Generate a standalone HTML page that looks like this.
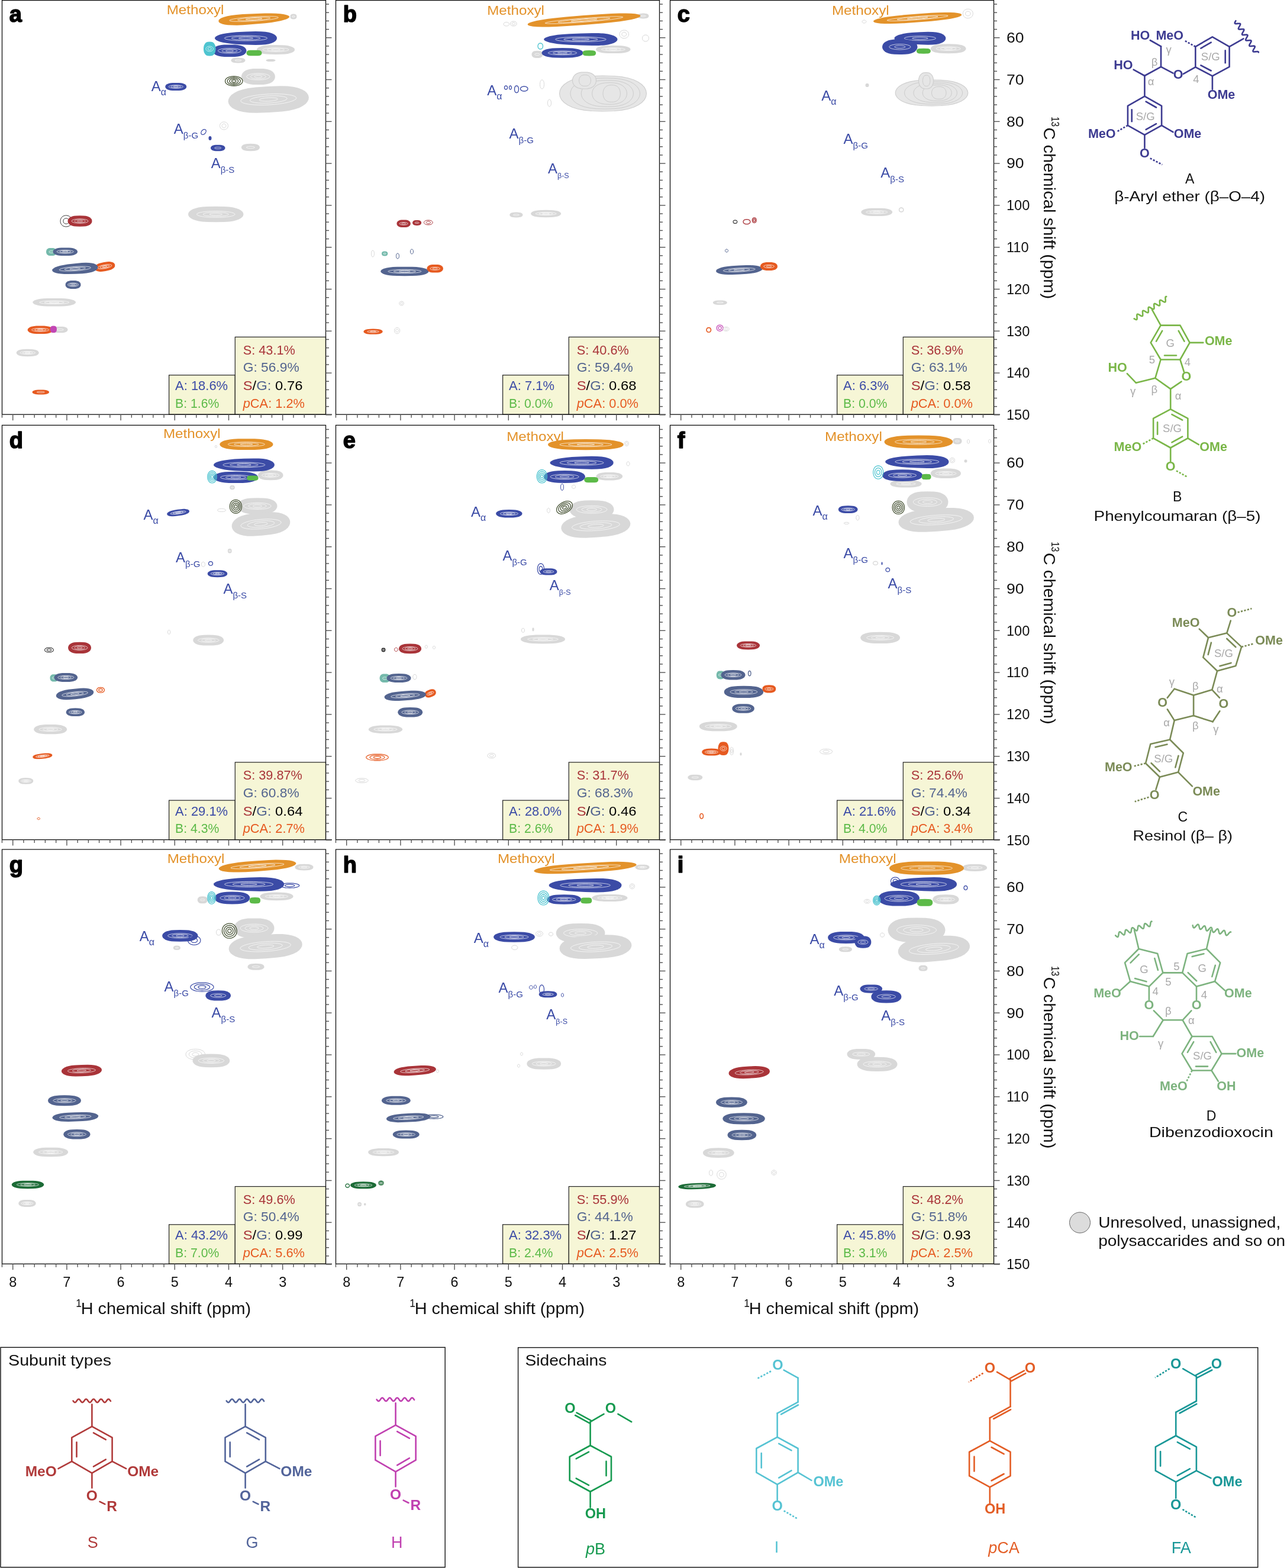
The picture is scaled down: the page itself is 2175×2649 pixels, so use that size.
<!DOCTYPE html>
<html><head><meta charset="utf-8"><title>HSQC NMR figure</title>
<style>html,body{margin:0;padding:0;background:#fff;}svg{display:block;}</style></head>
<body><svg width="2175" height="2649" viewBox="0 0 2175 2649" font-family="'Liberation Sans', Arial, sans-serif">
<rect width="2175" height="2649" fill="#fff"/>
<text x="281.7" y="24.2" font-size="22" fill="#e3922a" textLength="96.8" lengthAdjust="spacingAndGlyphs">Methoxyl</text>
<g><path d="M501.5,28.0 501.3,29.4 500.8,30.6 499.9,31.6 498.5,32.2 496.0,32.4 493.5,32.2 492.1,31.6 491.2,30.6 490.7,29.4 490.5,28.0 490.7,26.6 491.2,25.4 492.1,24.4 493.5,23.8 496.0,23.6 498.5,23.8 499.9,24.4 500.8,25.4 501.3,26.6Z" fill="#d8d8d8"/><ellipse cx="496.0" cy="28.0" rx="2.5" ry="1.2" fill="none" stroke="#fff" stroke-width="0.8" opacity="0.85"/></g>
<g transform="rotate(-3.5 429.1 32.0)"><path d="M489.1,32.0 488.5,33.3 486.7,34.6 483.6,35.8 479.3,36.9 473.8,38.0 466.9,38.9 458.5,39.7 447.8,40.3 429.2,40.8 410.5,41.1 399.8,40.9 391.4,40.3 384.5,39.5 379.0,38.4 374.7,37.0 371.6,35.4 369.8,33.8 369.2,32.0 369.8,30.2 371.6,28.6 374.7,27.0 379.0,25.6 384.5,24.5 391.4,23.7 399.8,23.1 410.5,22.9 429.1,23.2 447.8,23.7 458.5,24.3 466.9,25.1 473.8,26.0 479.3,27.1 483.6,28.2 486.7,29.4 488.5,30.7Z" fill="#e3922a"/><ellipse cx="429.1" cy="32.0" rx="41.4" ry="3.6" fill="none" stroke="#fff" stroke-width="0.8" opacity="0.85"/><ellipse cx="429.1" cy="32.0" rx="27.6" ry="2.4" fill="none" stroke="#fff" stroke-width="0.8" opacity="0.85"/><ellipse cx="429.1" cy="32.0" rx="13.8" ry="1.2" fill="none" stroke="#fff" stroke-width="0.8" opacity="0.85"/></g>
<g><path d="M498.0,84.0 497.7,85.4 496.7,86.7 495.1,88.0 492.8,89.1 489.8,90.1 486.2,90.9 481.7,91.4 476.0,91.8 466.0,91.9 456.0,91.8 450.3,91.4 445.8,90.9 442.2,90.1 439.2,89.1 436.9,88.0 435.3,86.7 434.3,85.4 434.0,84.0 434.3,82.6 435.3,81.3 436.9,80.0 439.2,78.9 442.2,77.9 445.8,77.1 450.3,76.6 456.0,76.2 466.0,76.1 476.0,76.2 481.7,76.6 486.2,77.1 489.8,77.9 492.8,78.9 495.1,80.0 496.7,81.3 497.7,82.6Z" fill="#d8d8d8"/><ellipse cx="466.0" cy="84.0" rx="22.1" ry="3.3" fill="none" stroke="#fff" stroke-width="0.8" opacity="0.85"/><ellipse cx="466.0" cy="84.0" rx="14.7" ry="2.2" fill="none" stroke="#fff" stroke-width="0.8" opacity="0.85"/><ellipse cx="466.0" cy="84.0" rx="7.4" ry="1.1" fill="none" stroke="#fff" stroke-width="0.8" opacity="0.85"/></g>
<g><path d="M468.0,64.5 467.5,66.8 465.9,69.0 463.2,71.0 459.5,72.8 454.6,74.2 448.6,75.2 441.2,75.8 431.8,76.0 415.5,75.5 399.2,74.7 389.8,73.8 382.4,72.8 376.4,71.7 371.5,70.4 367.8,69.0 365.1,67.5 363.5,66.0 363.0,64.5 363.5,63.0 365.1,61.5 367.8,60.0 371.5,58.6 376.4,57.3 382.4,56.2 389.8,55.2 399.2,54.3 415.5,53.5 431.8,53.0 441.2,53.2 448.6,53.8 454.6,54.8 459.5,56.2 463.2,58.0 465.9,60.0 467.5,62.2Z" fill="#3b4ba6"/><ellipse cx="415.5" cy="64.5" rx="36.2" ry="4.5" fill="none" stroke="#fff" stroke-width="0.8" opacity="0.85"/><ellipse cx="415.5" cy="64.5" rx="24.2" ry="3.0" fill="none" stroke="#fff" stroke-width="0.8" opacity="0.85"/><ellipse cx="415.5" cy="64.5" rx="12.1" ry="1.5" fill="none" stroke="#fff" stroke-width="0.8" opacity="0.85"/></g>
<g><path d="M416.5,85.8 416.2,87.5 415.3,89.3 413.9,90.9 411.9,92.4 409.2,93.7 406.0,94.7 401.9,95.5 396.9,95.9 388.0,96.1 379.1,95.9 374.1,95.5 370.0,94.7 366.8,93.7 364.1,92.4 362.1,90.9 360.7,89.3 359.8,87.5 359.5,85.8 359.8,84.0 360.7,82.2 362.1,80.6 364.1,79.1 366.8,77.8 370.0,76.8 374.1,76.0 379.1,75.6 388.0,75.4 396.9,75.6 401.9,76.0 406.0,76.8 409.2,77.8 411.9,79.1 413.9,80.6 415.3,82.2 416.2,84.0Z" fill="#3b4ba6"/><ellipse cx="388.0" cy="85.8" rx="19.7" ry="4.3" fill="none" stroke="#fff" stroke-width="0.8" opacity="0.85"/><ellipse cx="388.0" cy="85.8" rx="13.1" ry="2.8" fill="none" stroke="#fff" stroke-width="0.8" opacity="0.85"/><ellipse cx="388.0" cy="85.8" rx="6.6" ry="1.4" fill="none" stroke="#fff" stroke-width="0.8" opacity="0.85"/></g>
<g><path d="M364.5,82.5 364.4,84.6 364.1,86.6 363.6,88.4 362.8,90.1 361.9,91.6 360.7,92.8 359.3,93.7 357.4,94.2 354.3,94.4 351.1,94.2 349.2,93.7 347.8,92.8 346.6,91.6 345.7,90.1 344.9,88.4 344.4,86.6 344.1,84.6 344.0,82.5 344.1,80.4 344.4,78.4 344.9,76.6 345.7,74.9 346.6,73.4 347.8,72.2 349.2,71.3 351.1,70.8 354.2,70.6 357.4,70.8 359.3,71.3 360.7,72.2 361.9,73.4 362.8,74.9 363.6,76.6 364.1,78.4 364.4,80.4Z" fill="#4ec4d0"/><ellipse cx="354.2" cy="82.5" rx="6.3" ry="4.4" fill="none" stroke="#fff" stroke-width="0.8" opacity="0.85"/><ellipse cx="354.2" cy="82.5" rx="3.1" ry="2.2" fill="none" stroke="#fff" stroke-width="0.8" opacity="0.85"/></g>
<g><path d="M442.5,89.5 442.4,90.3 442.2,91.2 441.8,91.9 441.2,92.6 440.4,93.2 439.4,93.7 438.0,94.0 436.0,94.3 429.5,94.3 423.0,94.3 421.0,94.0 419.6,93.7 418.6,93.2 417.8,92.6 417.2,91.9 416.8,91.2 416.6,90.3 416.5,89.5 416.6,88.7 416.8,87.8 417.2,87.1 417.8,86.4 418.6,85.8 419.6,85.3 421.0,85.0 423.0,84.7 429.5,84.7 436.0,84.7 438.0,85.0 439.4,85.3 440.4,85.8 441.2,86.4 441.8,87.1 442.2,87.8 442.4,88.7Z" fill="#5cba48"/></g>
<g><path d="M414.5,102.0 414.4,102.8 414.0,103.5 413.4,104.2 412.5,104.8 411.4,105.4 410.1,105.8 408.4,106.1 406.2,106.3 402.5,106.4 398.8,106.3 396.6,106.1 394.9,105.8 393.6,105.4 392.5,104.8 391.6,104.2 391.0,103.5 390.6,102.8 390.5,102.0 390.6,101.2 391.0,100.5 391.6,99.8 392.5,99.2 393.6,98.6 394.9,98.2 396.6,97.9 398.8,97.7 402.5,97.6 406.2,97.7 408.4,97.9 410.1,98.2 411.4,98.6 412.5,99.2 413.4,99.8 414.0,100.5 414.4,101.2Z" fill="#d8d8d8"/><ellipse cx="402.5" cy="102.0" rx="5.5" ry="1.2" fill="none" stroke="#fff" stroke-width="0.8" opacity="0.85"/></g>
<g><path d="M465.5,102.0 465.4,102.3 465.2,102.7 464.8,103.0 464.2,103.3 463.5,103.5 462.5,103.7 461.4,103.9 460.0,104.0 457.5,104.0 455.0,104.0 453.6,103.9 452.5,103.7 451.5,103.5 450.8,103.3 450.2,103.0 449.8,102.7 449.6,102.3 449.5,102.0 449.6,101.7 449.8,101.3 450.2,101.0 450.8,100.7 451.5,100.5 452.5,100.3 453.6,100.1 455.0,100.0 457.5,100.0 460.0,100.0 461.4,100.1 462.5,100.3 463.5,100.5 464.2,100.7 464.8,101.0 465.2,101.3 465.4,101.7Z" fill="#d8d8d8"/></g>
<g><path d="M464.9,129.5 464.6,131.9 463.7,134.2 462.3,136.3 460.3,138.3 457.6,139.9 454.4,141.3 450.3,142.3 445.3,142.9 436.4,143.1 427.5,142.9 422.5,142.3 418.4,141.3 415.2,139.9 412.5,138.3 410.5,136.3 409.1,134.2 408.2,131.9 407.9,129.5 408.2,127.1 409.1,124.8 410.5,122.7 412.5,120.7 415.2,119.1 418.4,117.7 422.5,116.7 427.5,116.1 436.4,115.9 445.3,116.1 450.3,116.7 454.4,117.7 457.6,119.1 460.3,120.7 462.3,122.7 463.7,124.8 464.6,127.1Z" fill="#d8d8d8"/><ellipse cx="436.4" cy="129.5" rx="19.7" ry="5.6" fill="none" stroke="#fff" stroke-width="0.8" opacity="0.85"/><ellipse cx="436.4" cy="129.5" rx="13.1" ry="3.8" fill="none" stroke="#fff" stroke-width="0.8" opacity="0.85"/><ellipse cx="436.4" cy="129.5" rx="6.6" ry="1.9" fill="none" stroke="#fff" stroke-width="0.8" opacity="0.85"/></g>
<g transform="rotate(-3 453.8 168.0)"><path d="M522.0,168.0 521.3,171.8 519.2,175.5 515.8,179.0 510.9,182.1 504.6,184.9 496.7,187.1 487.1,188.7 475.0,189.7 453.8,190.0 432.5,189.7 420.4,188.7 410.8,187.1 402.9,184.9 396.6,182.1 391.7,179.0 388.3,175.5 386.2,171.8 385.5,168.0 386.2,164.2 388.3,160.5 391.7,157.0 396.6,153.9 402.9,151.1 410.8,148.9 420.4,147.3 432.5,146.3 453.7,146.0 475.0,146.3 487.1,147.3 496.7,148.9 504.6,151.1 510.9,153.9 515.8,157.0 519.2,160.5 521.3,164.2Z" fill="#d8d8d8"/><ellipse cx="453.8" cy="168.0" rx="47.1" ry="9.1" fill="none" stroke="#fff" stroke-width="0.8" opacity="0.85"/><ellipse cx="453.8" cy="168.0" rx="31.4" ry="6.1" fill="none" stroke="#fff" stroke-width="0.8" opacity="0.85"/><ellipse cx="453.8" cy="168.0" rx="15.7" ry="3.0" fill="none" stroke="#fff" stroke-width="0.8" opacity="0.85"/></g>
<g><path d="M410.0,137.0 409.7,138.6 409.0,140.1 407.7,141.4 406.0,142.7 403.9,143.7 401.4,144.4 398.6,144.8 395.2,145.0 391.9,144.8 389.1,144.4 386.6,143.7 384.5,142.7 382.8,141.4 381.5,140.1 380.8,138.6 380.5,137.0 380.8,135.4 381.5,133.9 382.8,132.6 384.5,131.3 386.6,130.3 389.1,129.6 391.9,129.2 395.2,129.0 398.6,129.2 401.4,129.6 403.9,130.3 406.0,131.3 407.7,132.6 409.0,133.9 409.7,135.4Z" fill="none" stroke="#4a5638" stroke-width="1.3"/><path d="M406.3,137.0 406.1,138.2 405.5,139.3 404.6,140.3 403.3,141.2 401.7,142.0 399.9,142.5 397.8,142.9 395.2,143.0 392.7,142.9 390.6,142.5 388.8,142.0 387.2,141.2 385.9,140.3 385.0,139.3 384.4,138.2 384.2,137.0 384.4,135.8 385.0,134.7 385.9,133.7 387.2,132.8 388.8,132.0 390.6,131.5 392.7,131.1 395.2,131.0 397.8,131.1 399.9,131.5 401.7,132.0 403.3,132.8 404.6,133.7 405.5,134.7 406.1,135.8Z" fill="none" stroke="#4a5638" stroke-width="1.3"/><path d="M402.6,137.0 402.5,137.8 402.1,138.5 401.5,139.2 400.6,139.8 399.6,140.3 398.3,140.7 396.9,140.9 395.2,141.0 393.6,140.9 392.2,140.7 390.9,140.3 389.9,139.8 389.0,139.2 388.4,138.5 388.0,137.8 387.9,137.0 388.0,136.2 388.4,135.5 389.0,134.8 389.9,134.2 390.9,133.7 392.2,133.3 393.6,133.1 395.2,133.0 396.9,133.1 398.3,133.3 399.6,133.7 400.6,134.2 401.5,134.8 402.1,135.5 402.5,136.2Z" fill="none" stroke="#4a5638" stroke-width="1.3"/><path d="M398.9,137.0 398.8,137.6 398.3,138.2 397.5,138.6 396.5,138.9 395.2,139.0 394.0,138.9 393.0,138.6 392.2,138.2 391.7,137.6 391.6,137.0 391.7,136.4 392.2,135.8 393.0,135.4 394.0,135.1 395.2,135.0 396.5,135.1 397.5,135.4 398.3,135.8 398.8,136.4Z" fill="none" stroke="#4a5638" stroke-width="1.3"/></g>
<g><path d="M315.2,146.5 315.0,147.6 314.5,148.8 313.6,149.8 312.3,150.7 310.6,151.6 308.6,152.2 306.0,152.7 302.8,153.0 297.3,153.1 291.7,153.0 288.5,152.7 285.9,152.2 283.9,151.6 282.2,150.7 280.9,149.8 280.0,148.8 279.5,147.6 279.3,146.5 279.5,145.4 280.0,144.2 280.9,143.2 282.2,142.3 283.9,141.4 285.9,140.8 288.5,140.3 291.7,140.0 297.2,139.9 302.8,140.0 306.0,140.3 308.6,140.8 310.6,141.4 312.3,142.3 313.6,143.2 314.5,144.2 315.0,145.4Z" fill="#3b4ba6"/><ellipse cx="297.2" cy="146.5" rx="12.4" ry="2.7" fill="none" stroke="#fff" stroke-width="0.8" opacity="0.85"/><ellipse cx="297.2" cy="146.5" rx="8.3" ry="1.8" fill="none" stroke="#fff" stroke-width="0.8" opacity="0.85"/><ellipse cx="297.2" cy="146.5" rx="4.1" ry="0.9" fill="none" stroke="#fff" stroke-width="0.8" opacity="0.85"/></g>
<g transform="rotate(40 344.0 223.0)"><path d="M347.5,223.0 347.3,224.5 346.9,225.9 346.2,227.0 345.2,227.8 344.0,228.0 342.8,227.8 341.8,227.0 341.1,225.9 340.7,224.5 340.5,223.0 340.7,221.5 341.1,220.1 341.8,219.0 342.8,218.2 344.0,218.0 345.2,218.2 346.2,219.0 346.9,220.1 347.3,221.5Z" fill="none" stroke="#3b4ba6" stroke-width="1.2"/></g>
<g><path d="M357.5,233.5 357.4,234.6 357.2,235.6 356.8,236.3 356.1,236.8 355.0,237.0 353.9,236.8 353.2,236.3 352.8,235.6 352.6,234.6 352.5,233.5 352.6,232.4 352.8,231.4 353.2,230.7 353.9,230.2 355.0,230.0 356.1,230.2 356.8,230.7 357.2,231.4 357.4,232.4Z" fill="#3b4ba6"/></g>
<g><path d="M380.5,250.0 380.4,250.9 380.0,251.8 379.4,252.6 378.5,253.4 377.4,254.0 376.0,254.6 374.2,255.0 372.1,255.2 368.3,255.3 364.4,255.2 362.3,255.0 360.5,254.6 359.1,254.0 358.0,253.4 357.1,252.6 356.5,251.8 356.1,250.9 356.0,250.0 356.1,249.1 356.5,248.2 357.1,247.4 358.0,246.6 359.1,246.0 360.5,245.4 362.3,245.0 364.4,244.8 368.2,244.7 372.1,244.8 374.2,245.0 376.0,245.4 377.4,246.0 378.5,246.6 379.4,247.4 380.0,248.2 380.4,249.1Z" fill="#3b4ba6"/><ellipse cx="368.2" cy="250.0" rx="5.6" ry="1.5" fill="none" stroke="#fff" stroke-width="0.8" opacity="0.85"/></g>
<g><path d="M439.0,249.0 438.8,250.1 438.4,251.1 437.6,252.1 436.5,253.0 435.0,253.7 433.2,254.3 431.1,254.8 428.3,255.1 423.5,255.2 418.6,255.1 415.8,254.8 413.7,254.3 411.9,253.7 410.4,253.0 409.3,252.1 408.5,251.1 408.1,250.1 407.9,249.0 408.1,247.9 408.5,246.9 409.3,245.9 410.4,245.0 411.9,244.3 413.7,243.7 415.8,243.2 418.6,242.9 423.4,242.8 428.3,242.9 431.1,243.2 433.2,243.7 435.0,244.3 436.5,245.0 437.6,245.9 438.4,246.9 438.8,247.9Z" fill="#d8d8d8"/><ellipse cx="423.4" cy="249.0" rx="7.2" ry="1.7" fill="none" stroke="#fff" stroke-width="0.8" opacity="0.85"/></g>
<g><path d="M385.5,212.5 385.4,213.8 385.0,215.0 384.4,216.1 383.6,217.1 382.6,217.9 381.4,218.5 380.1,218.9 378.5,219.0 376.9,218.9 375.6,218.5 374.4,217.9 373.4,217.1 372.6,216.1 372.0,215.0 371.6,213.8 371.5,212.5 371.6,211.2 372.0,210.0 372.6,208.9 373.4,207.9 374.4,207.1 375.6,206.5 376.9,206.1 378.5,206.0 380.1,206.1 381.4,206.5 382.6,207.1 383.6,207.9 384.4,208.9 385.0,210.0 385.4,211.2Z" fill="none" stroke="#d8d8d8" stroke-width="1.0"/><path d="M382.0,212.5 381.8,213.5 381.4,214.4 380.7,215.1 379.7,215.6 378.5,215.8 377.3,215.6 376.3,215.1 375.6,214.4 375.2,213.5 375.0,212.5 375.2,211.5 375.6,210.6 376.3,209.9 377.3,209.4 378.5,209.2 379.7,209.4 380.7,209.9 381.4,210.6 381.8,211.5Z" fill="none" stroke="#d8d8d8" stroke-width="1.0"/></g>
<g><path d="M411.5,362.0 411.0,364.3 409.6,366.5 407.2,368.6 403.9,370.5 399.6,372.1 394.2,373.4 387.6,374.4 379.3,375.0 364.8,375.2 350.2,375.0 341.9,374.4 335.3,373.4 329.9,372.1 325.6,370.5 322.3,368.6 319.9,366.5 318.5,364.3 318.0,362.0 318.5,359.7 319.9,357.5 322.3,355.4 325.6,353.5 329.9,351.9 335.3,350.6 341.9,349.6 350.2,349.0 364.7,348.8 379.3,349.0 387.6,349.6 394.2,350.6 399.6,351.9 403.9,353.5 407.2,355.4 409.6,357.5 411.0,359.7Z" fill="#d8d8d8"/><ellipse cx="364.8" cy="362.0" rx="32.3" ry="5.4" fill="none" stroke="#fff" stroke-width="0.8" opacity="0.85"/><ellipse cx="364.8" cy="362.0" rx="21.5" ry="3.6" fill="none" stroke="#fff" stroke-width="0.8" opacity="0.85"/><ellipse cx="364.8" cy="362.0" rx="10.8" ry="1.8" fill="none" stroke="#fff" stroke-width="0.8" opacity="0.85"/></g>
<g><path d="M121.5,373.5 121.3,375.4 120.8,377.1 120.0,378.8 118.9,380.2 117.5,381.4 115.8,382.3 114.0,382.8 111.8,383.0 109.5,382.8 107.7,382.3 106.0,381.4 104.6,380.2 103.5,378.8 102.7,377.1 102.2,375.4 102.0,373.5 102.2,371.6 102.7,369.9 103.5,368.2 104.6,366.8 106.0,365.6 107.7,364.7 109.5,364.2 111.7,364.0 114.0,364.2 115.8,364.7 117.5,365.6 118.9,366.8 120.0,368.2 120.8,369.9 121.3,371.6Z" fill="none" stroke="#3a3a3a" stroke-width="1.0"/><path d="M116.6,373.5 116.4,375.0 115.8,376.3 114.8,377.3 113.4,378.0 111.8,378.2 110.1,378.0 108.7,377.3 107.7,376.3 107.1,375.0 106.9,373.5 107.1,372.0 107.7,370.7 108.7,369.7 110.1,369.0 111.7,368.8 113.4,369.0 114.8,369.7 115.8,370.7 116.4,372.0Z" fill="none" stroke="#3a3a3a" stroke-width="1.0"/></g>
<g><path d="M155.5,373.5 155.3,375.1 154.7,376.7 153.6,378.1 152.2,379.4 150.3,380.6 147.9,381.5 145.0,382.2 141.4,382.6 135.0,382.7 128.6,382.6 125.0,382.2 122.1,381.5 119.7,380.6 117.8,379.4 116.4,378.1 115.3,376.7 114.7,375.1 114.5,373.5 114.7,371.9 115.3,370.3 116.4,368.9 117.8,367.6 119.7,366.4 122.1,365.5 125.0,364.8 128.6,364.4 135.0,364.3 141.4,364.4 145.0,364.8 147.9,365.5 150.3,366.4 152.2,367.6 153.6,368.9 154.7,370.3 155.3,371.9Z" fill="#a93439"/><ellipse cx="135.0" cy="373.5" rx="14.1" ry="3.8" fill="none" stroke="#fff" stroke-width="0.8" opacity="0.85"/><ellipse cx="135.0" cy="373.5" rx="9.4" ry="2.5" fill="none" stroke="#fff" stroke-width="0.8" opacity="0.85"/><ellipse cx="135.0" cy="373.5" rx="4.7" ry="1.3" fill="none" stroke="#fff" stroke-width="0.8" opacity="0.85"/></g>
<g><path d="M95.5,425.5 95.4,426.6 95.1,427.8 94.7,428.8 94.1,429.7 93.3,430.6 92.3,431.2 91.0,431.7 89.5,432.0 86.8,432.1 84.0,432.0 82.5,431.7 81.2,431.2 80.2,430.6 79.4,429.7 78.8,428.8 78.4,427.8 78.1,426.6 78.0,425.5 78.1,424.4 78.4,423.2 78.8,422.2 79.4,421.3 80.2,420.4 81.2,419.8 82.5,419.3 84.0,419.0 86.7,418.9 89.5,419.0 91.0,419.3 92.3,419.8 93.3,420.4 94.1,421.3 94.7,422.2 95.1,423.2 95.4,424.4Z" fill="#74b9ab"/><ellipse cx="86.8" cy="425.5" rx="4.0" ry="1.8" fill="none" stroke="#fff" stroke-width="0.8" opacity="0.85"/></g>
<g><path d="M131.0,425.2 130.8,426.4 130.2,427.6 129.1,428.7 127.6,429.6 125.7,430.5 123.3,431.2 120.4,431.7 116.7,432.0 110.3,432.1 103.8,432.0 100.1,431.7 97.2,431.2 94.8,430.5 92.9,429.6 91.4,428.7 90.3,427.6 89.7,426.4 89.5,425.2 89.7,424.1 90.3,422.9 91.4,421.8 92.9,420.9 94.8,420.0 97.2,419.3 100.1,418.8 103.8,418.5 110.2,418.4 116.7,418.5 120.4,418.8 123.3,419.3 125.7,420.0 127.6,420.9 129.1,421.8 130.2,422.9 130.8,424.1Z" fill="#53648f"/><ellipse cx="110.2" cy="425.2" rx="14.3" ry="2.8" fill="none" stroke="#fff" stroke-width="0.8" opacity="0.85"/><ellipse cx="110.2" cy="425.2" rx="9.5" ry="1.9" fill="none" stroke="#fff" stroke-width="0.8" opacity="0.85"/><ellipse cx="110.2" cy="425.2" rx="4.8" ry="0.9" fill="none" stroke="#fff" stroke-width="0.8" opacity="0.85"/></g>
<g transform="rotate(-10 177.0 450.5)"><path d="M194.5,450.5 194.3,451.8 193.8,453.1 192.9,454.2 191.7,455.3 190.0,456.2 188.0,457.0 185.6,457.5 182.4,457.9 177.0,458.0 171.6,457.9 168.4,457.5 166.0,457.0 164.0,456.2 162.3,455.3 161.1,454.2 160.2,453.1 159.7,451.8 159.5,450.5 159.7,449.2 160.2,447.9 161.1,446.8 162.3,445.7 164.0,444.8 166.0,444.0 168.4,443.5 171.6,443.1 177.0,443.0 182.4,443.1 185.6,443.5 188.0,444.0 190.0,444.8 191.7,445.7 192.9,446.8 193.8,447.9 194.3,449.2Z" fill="#e65a20"/><ellipse cx="177.0" cy="450.5" rx="12.1" ry="3.1" fill="none" stroke="#fff" stroke-width="0.8" opacity="0.85"/><ellipse cx="177.0" cy="450.5" rx="8.1" ry="2.1" fill="none" stroke="#fff" stroke-width="0.8" opacity="0.85"/><ellipse cx="177.0" cy="450.5" rx="4.0" ry="1.0" fill="none" stroke="#fff" stroke-width="0.8" opacity="0.85"/></g>
<g transform="rotate(-4 126.8 454.0)"><path d="M165.5,454.0 165.1,455.8 163.9,457.4 162.0,459.0 159.2,460.4 155.6,461.5 151.2,462.3 145.7,462.9 138.8,463.1 126.8,462.8 114.8,462.3 107.9,461.7 102.4,460.9 98.0,460.0 94.4,458.9 91.6,457.8 89.7,456.6 88.5,455.3 88.1,454.0 88.5,452.7 89.7,451.4 91.6,450.2 94.4,449.1 98.0,448.0 102.4,447.1 107.9,446.3 114.8,445.7 126.8,445.2 138.8,444.9 145.7,445.1 151.2,445.7 155.6,446.5 159.2,447.6 162.0,449.0 163.9,450.6 165.1,452.2Z" fill="#53648f"/><ellipse cx="126.8" cy="454.0" rx="26.7" ry="3.6" fill="none" stroke="#fff" stroke-width="0.8" opacity="0.85"/><ellipse cx="126.8" cy="454.0" rx="17.8" ry="2.4" fill="none" stroke="#fff" stroke-width="0.8" opacity="0.85"/><ellipse cx="126.8" cy="454.0" rx="8.9" ry="1.2" fill="none" stroke="#fff" stroke-width="0.8" opacity="0.85"/></g>
<g><path d="M136.5,481.0 136.4,482.2 136.0,483.4 135.3,484.5 134.4,485.5 133.2,486.4 131.7,487.1 129.9,487.6 127.6,487.9 123.6,488.0 119.5,487.9 117.2,487.6 115.4,487.1 113.9,486.4 112.7,485.5 111.8,484.5 111.1,483.4 110.7,482.2 110.6,481.0 110.7,479.8 111.1,478.6 111.8,477.5 112.7,476.5 113.9,475.6 115.4,474.9 117.2,474.4 119.5,474.1 123.5,474.0 127.6,474.1 129.9,474.4 131.7,474.9 133.2,475.6 134.4,476.5 135.3,477.5 136.0,478.6 136.4,479.8Z" fill="#53648f"/><ellipse cx="123.5" cy="481.0" rx="8.9" ry="2.9" fill="none" stroke="#fff" stroke-width="0.8" opacity="0.85"/><ellipse cx="123.5" cy="481.0" rx="6.0" ry="1.9" fill="none" stroke="#fff" stroke-width="0.8" opacity="0.85"/><ellipse cx="123.5" cy="481.0" rx="3.0" ry="1.0" fill="none" stroke="#fff" stroke-width="0.8" opacity="0.85"/></g>
<g><path d="M128.0,510.8 127.6,511.9 126.5,513.1 124.7,514.2 122.1,515.1 118.7,516.0 114.5,516.7 109.4,517.2 103.0,517.5 91.7,517.6 80.3,517.5 73.9,517.2 68.8,516.7 64.6,516.0 61.2,515.1 58.6,514.2 56.8,513.1 55.7,511.9 55.3,510.8 55.7,509.6 56.8,508.4 58.6,507.3 61.2,506.4 64.6,505.5 68.8,504.8 73.9,504.3 80.3,504.0 91.6,503.9 103.0,504.0 109.4,504.3 114.5,504.8 118.7,505.5 122.1,506.4 124.7,507.3 126.5,508.4 127.6,509.6Z" fill="#d8d8d8"/><ellipse cx="91.7" cy="510.8" rx="25.1" ry="2.8" fill="none" stroke="#fff" stroke-width="0.8" opacity="0.85"/><ellipse cx="91.7" cy="510.8" rx="16.7" ry="1.9" fill="none" stroke="#fff" stroke-width="0.8" opacity="0.85"/><ellipse cx="91.7" cy="510.8" rx="8.4" ry="0.9" fill="none" stroke="#fff" stroke-width="0.8" opacity="0.85"/></g>
<g><path d="M114.5,557.0 114.4,557.9 114.0,558.8 113.3,559.6 112.4,560.4 111.2,561.0 109.7,561.6 107.9,562.0 105.5,562.2 101.5,562.3 97.5,562.2 95.1,562.0 93.3,561.6 91.8,561.0 90.6,560.4 89.7,559.6 89.0,558.8 88.6,557.9 88.5,557.0 88.6,556.1 89.0,555.2 89.7,554.4 90.6,553.6 91.8,553.0 93.3,552.4 95.1,552.0 97.5,551.8 101.5,551.7 105.5,551.8 107.9,552.0 109.7,552.4 111.2,553.0 112.4,553.6 113.3,554.4 114.0,555.2 114.4,556.1Z" fill="#d8d8d8"/><ellipse cx="101.5" cy="557.0" rx="6.0" ry="1.5" fill="none" stroke="#fff" stroke-width="0.8" opacity="0.85"/></g>
<g><path d="M89.5,557.3 89.3,558.5 88.6,559.6 87.5,560.7 86.0,561.7 84.0,562.5 81.6,563.2 78.6,563.7 74.8,564.0 68.1,564.1 61.4,564.0 57.6,563.7 54.6,563.2 52.2,562.5 50.2,561.7 48.7,560.7 47.6,559.6 46.9,558.5 46.7,557.3 46.9,556.1 47.6,555.0 48.7,553.9 50.2,552.9 52.2,552.1 54.6,551.4 57.6,550.9 61.4,550.6 68.1,550.5 74.8,550.6 78.6,550.9 81.6,551.4 84.0,552.1 86.0,552.9 87.5,553.9 88.6,555.0 89.3,556.1Z" fill="#e65a20"/><ellipse cx="68.1" cy="557.3" rx="14.8" ry="2.8" fill="none" stroke="#fff" stroke-width="0.8" opacity="0.85"/><ellipse cx="68.1" cy="557.3" rx="9.8" ry="1.9" fill="none" stroke="#fff" stroke-width="0.8" opacity="0.85"/><ellipse cx="68.1" cy="557.3" rx="4.9" ry="0.9" fill="none" stroke="#fff" stroke-width="0.8" opacity="0.85"/></g>
<g><path d="M96.0,556.3 95.8,558.1 95.3,559.8 94.3,561.1 92.9,561.9 90.4,562.2 87.8,561.9 86.4,561.1 85.4,559.8 84.9,558.1 84.7,556.3 84.9,554.5 85.4,552.8 86.4,551.5 87.8,550.7 90.3,550.4 92.9,550.7 94.3,551.5 95.3,552.8 95.8,554.5Z" fill="#c246b4"/></g>
<g><path d="M65.7,596.0 65.5,597.1 64.9,598.1 64.0,599.1 62.6,600.0 60.9,600.7 58.7,601.3 56.0,601.8 52.6,602.1 46.7,602.2 40.8,602.1 37.4,601.8 34.7,601.3 32.5,600.7 30.8,600.0 29.4,599.1 28.5,598.1 27.9,597.1 27.7,596.0 27.9,594.9 28.5,593.9 29.4,592.9 30.8,592.0 32.5,591.3 34.7,590.7 37.4,590.2 40.8,589.9 46.7,589.8 52.6,589.9 56.0,590.2 58.7,590.7 60.9,591.3 62.6,592.0 64.0,592.9 64.9,593.9 65.5,594.9Z" fill="#d8d8d8"/><ellipse cx="46.7" cy="596.0" rx="13.1" ry="2.5" fill="none" stroke="#fff" stroke-width="0.8" opacity="0.85"/><ellipse cx="46.7" cy="596.0" rx="8.7" ry="1.7" fill="none" stroke="#fff" stroke-width="0.8" opacity="0.85"/><ellipse cx="46.7" cy="596.0" rx="4.4" ry="0.8" fill="none" stroke="#fff" stroke-width="0.8" opacity="0.85"/></g>
<g><path d="M83.0,662.5 82.9,663.2 82.4,663.9 81.7,664.5 80.7,665.0 79.4,665.5 77.7,665.9 75.7,666.2 73.2,666.4 68.8,666.5 64.4,666.4 61.9,666.2 59.9,665.9 58.2,665.5 56.9,665.0 55.9,664.5 55.2,663.9 54.7,663.2 54.6,662.5 54.7,661.8 55.2,661.1 55.9,660.5 56.9,660.0 58.2,659.5 59.9,659.1 61.9,658.8 64.4,658.6 68.8,658.5 73.2,658.6 75.7,658.8 77.7,659.1 79.4,659.5 80.7,660.0 81.7,660.5 82.4,661.1 82.9,661.8Z" fill="#e65a20"/><ellipse cx="68.8" cy="662.5" rx="6.5" ry="1.1" fill="none" stroke="#fff" stroke-width="0.8" opacity="0.85"/></g>
<text x="255.8" y="153.8" font-size="24" fill="#3b4ba6">A<tspan font-size="16" dy="7">α</tspan></text>
<text x="293.8" y="226.4" font-size="24" fill="#3b4ba6">A<tspan font-size="15" dy="8">β-G</tspan></text>
<text x="356.7" y="284.1" font-size="24" fill="#3b4ba6">A<tspan font-size="15" dy="8">β-S</tspan></text>
<rect x="285.6" y="633.7" width="111.7" height="66.5" fill="#f6f6d6" stroke="#222" stroke-width="1.2"/>
<rect x="397.3" y="569.4" width="153.2" height="130.8" fill="#f6f6d6" stroke="#222" stroke-width="1.2"/>
<text x="410.7" y="598.7" font-size="21.5" fill="#a93439" textLength="88.1" lengthAdjust="spacingAndGlyphs">S: 43.1%</text>
<text x="410.7" y="628.2" font-size="21.5" fill="#53648f" textLength="95.0" lengthAdjust="spacingAndGlyphs">G: 56.9%</text>
<text x="410.7" y="659.2" font-size="21.5" textLength="100.8" lengthAdjust="spacingAndGlyphs"><tspan fill="#a93439">S</tspan><tspan fill="#000">/</tspan><tspan fill="#53648f">G:</tspan><tspan fill="#000"> 0.76</tspan></text>
<text x="410.7" y="689.0" font-size="21.5" fill="#e65a20" textLength="104.3" lengthAdjust="spacingAndGlyphs"><tspan font-style="italic">p</tspan>CA: 1.2%</text>
<text x="296.1" y="659.2" font-size="21.5" fill="#3b4ba6" textLength="89.0" lengthAdjust="spacingAndGlyphs">A: 18.6%</text>
<text x="296.1" y="689.0" font-size="21.5" fill="#5cba48" textLength="74.2" lengthAdjust="spacingAndGlyphs">B: 1.6%</text>
<text x="823.2" y="24.5" font-size="22" fill="#e3922a" textLength="96.8" lengthAdjust="spacingAndGlyphs">Methoxyl</text>
<g><path d="M860.5,40.8 860.3,41.8 859.7,42.7 858.7,43.4 857.4,43.8 855.8,44.0 854.2,43.8 852.9,43.4 851.9,42.7 851.3,41.8 851.1,40.8 851.3,39.7 851.9,38.8 852.9,38.1 854.2,37.7 855.8,37.5 857.4,37.7 858.7,38.1 859.7,38.8 860.3,39.7Z" fill="none" stroke="#d8d8d8" stroke-width="1.0"/></g>
<g><path d="M873.2,40.0 873.0,41.2 872.3,42.4 871.2,43.2 869.7,43.8 867.9,44.0 866.0,43.8 864.5,43.2 863.4,42.4 862.7,41.2 862.5,40.0 862.7,38.8 863.4,37.6 864.5,36.8 866.0,36.2 867.9,36.0 869.7,36.2 871.2,36.8 872.3,37.6 873.0,38.8Z" fill="none" stroke="#d8d8d8" stroke-width="1.0"/><path d="M870.5,40.0 870.4,40.6 870.1,41.2 869.5,41.6 868.8,41.9 867.9,42.0 866.9,41.9 866.2,41.6 865.6,41.2 865.3,40.6 865.2,40.0 865.3,39.4 865.6,38.8 866.2,38.4 866.9,38.1 867.9,38.0 868.8,38.1 869.5,38.4 870.1,38.8 870.4,39.4Z" fill="none" stroke="#d8d8d8" stroke-width="1.0"/></g>
<g><path d="M1096.5,27.0 1096.4,27.8 1096.1,28.5 1095.6,29.2 1095.0,29.8 1094.1,30.4 1093.0,30.8 1091.6,31.1 1090.0,31.3 1087.0,31.4 1084.0,31.3 1082.4,31.1 1081.0,30.8 1079.9,30.4 1079.0,29.8 1078.4,29.2 1077.9,28.5 1077.6,27.8 1077.5,27.0 1077.6,26.2 1077.9,25.5 1078.4,24.8 1079.0,24.2 1079.9,23.6 1081.0,23.2 1082.4,22.9 1084.0,22.7 1087.0,22.6 1090.0,22.7 1091.6,22.9 1093.0,23.2 1094.1,23.6 1095.0,24.2 1095.6,24.8 1096.1,25.5 1096.4,26.2Z" fill="#d8d8d8"/><ellipse cx="1087.0" cy="27.0" rx="4.4" ry="1.2" fill="none" stroke="#fff" stroke-width="0.8" opacity="0.85"/></g>
<g transform="rotate(-4.4 987.0 34.0)"><path d="M1082.7,34.0 1081.7,35.4 1078.8,36.7 1073.9,38.0 1067.1,39.1 1058.3,40.1 1047.3,40.9 1033.8,41.4 1016.8,41.8 987.0,41.9 957.2,41.8 940.2,41.4 926.7,40.9 915.7,40.1 906.9,39.1 900.1,38.0 895.2,36.7 892.3,35.4 891.3,34.0 892.3,32.6 895.2,31.3 900.1,30.0 906.9,28.9 915.7,27.9 926.7,27.1 940.2,26.6 957.2,26.2 987.0,26.1 1016.8,26.2 1033.8,26.6 1047.3,27.1 1058.3,27.9 1067.1,28.9 1073.9,30.0 1078.8,31.3 1081.7,32.6Z" fill="#e3922a"/><ellipse cx="987.0" cy="34.0" rx="66.0" ry="3.3" fill="none" stroke="#fff" stroke-width="0.8" opacity="0.85"/><ellipse cx="987.0" cy="34.0" rx="44.0" ry="2.2" fill="none" stroke="#fff" stroke-width="0.8" opacity="0.85"/><ellipse cx="987.0" cy="34.0" rx="22.0" ry="1.1" fill="none" stroke="#fff" stroke-width="0.8" opacity="0.85"/></g>
<g><path d="M917.5,91.9 917.4,93.0 917.1,94.0 916.6,94.9 916.0,95.8 915.1,96.6 914.0,97.2 912.6,97.6 911.0,97.9 908.0,98.0 905.0,97.9 903.4,97.6 902.0,97.2 900.9,96.6 900.0,95.8 899.4,94.9 898.9,94.0 898.6,93.0 898.5,91.9 898.6,90.8 898.9,89.8 899.4,88.9 900.0,88.0 900.9,87.2 902.0,86.6 903.4,86.2 905.0,85.9 908.0,85.8 911.0,85.9 912.6,86.2 914.0,86.6 915.1,87.2 916.0,88.0 916.6,88.9 917.1,89.8 917.4,90.8Z" fill="#d8d8d8"/><ellipse cx="908.0" cy="91.9" rx="4.4" ry="1.7" fill="none" stroke="#fff" stroke-width="0.8" opacity="0.85"/></g>
<g><path d="M1065.5,83.5 1065.2,84.6 1064.3,85.8 1062.8,86.8 1060.7,87.7 1058.0,88.6 1054.7,89.2 1050.6,89.7 1045.4,90.0 1036.3,90.1 1027.2,90.0 1022.0,89.7 1017.9,89.2 1014.6,88.6 1011.9,87.7 1009.8,86.8 1008.3,85.8 1007.4,84.6 1007.1,83.5 1007.4,82.4 1008.3,81.2 1009.8,80.2 1011.9,79.3 1014.6,78.4 1017.9,77.8 1022.0,77.3 1027.2,77.0 1036.3,76.9 1045.4,77.0 1050.6,77.3 1054.7,77.8 1058.0,78.4 1060.7,79.3 1062.8,80.2 1064.3,81.2 1065.2,82.4Z" fill="#d8d8d8"/><ellipse cx="1036.3" cy="83.5" rx="20.1" ry="2.7" fill="none" stroke="#fff" stroke-width="0.8" opacity="0.85"/><ellipse cx="1036.3" cy="83.5" rx="13.4" ry="1.8" fill="none" stroke="#fff" stroke-width="0.8" opacity="0.85"/><ellipse cx="1036.3" cy="83.5" rx="6.7" ry="0.9" fill="none" stroke="#fff" stroke-width="0.8" opacity="0.85"/></g>
<g><path d="M1062.5,57.9 1062.4,59.2 1062.0,60.5 1061.3,61.7 1060.4,62.7 1059.3,63.5 1058.0,64.2 1056.5,64.6 1054.8,64.7 1053.0,64.6 1051.5,64.2 1050.2,63.5 1049.1,62.7 1048.2,61.7 1047.5,60.5 1047.1,59.2 1047.0,57.9 1047.1,56.5 1047.5,55.2 1048.2,54.0 1049.1,53.0 1050.2,52.2 1051.5,51.5 1053.0,51.1 1054.8,51.0 1056.5,51.1 1058.0,51.5 1059.3,52.2 1060.4,53.0 1061.3,54.0 1062.0,55.2 1062.4,56.5Z" fill="none" stroke="#d8d8d8" stroke-width="1.0"/><path d="M1058.6,57.9 1058.5,58.9 1057.9,59.9 1057.1,60.6 1056.1,61.1 1054.8,61.3 1053.4,61.1 1052.4,60.6 1051.6,59.9 1051.0,58.9 1050.9,57.9 1051.0,56.8 1051.6,55.8 1052.4,55.1 1053.4,54.6 1054.8,54.4 1056.1,54.6 1057.1,55.1 1057.9,55.8 1058.5,56.8Z" fill="none" stroke="#d8d8d8" stroke-width="1.0"/></g>
<g><path d="M1096.5,64.5 1096.3,66.2 1095.5,67.7 1094.4,68.9 1092.9,69.7 1091.0,70.0 1089.1,69.7 1087.6,68.9 1086.5,67.7 1085.7,66.2 1085.5,64.5 1085.7,62.8 1086.5,61.3 1087.6,60.1 1089.1,59.3 1091.0,59.0 1092.9,59.3 1094.4,60.1 1095.5,61.3 1096.3,62.8Z" fill="none" stroke="#d8d8d8" stroke-width="1.0"/></g>
<g><path d="M1043.5,66.5 1042.9,68.6 1041.0,70.6 1037.8,72.5 1033.4,74.1 1027.6,75.4 1020.5,76.4 1011.7,76.9 1000.7,77.1 981.4,76.6 962.0,75.8 951.0,75.1 942.2,74.2 935.1,73.1 929.3,71.9 924.9,70.6 921.7,69.3 919.8,67.9 919.2,66.5 919.8,65.1 921.7,63.7 924.9,62.4 929.3,61.1 935.1,59.9 942.2,58.8 951.0,57.9 962.0,57.2 981.3,56.4 1000.7,55.9 1011.7,56.1 1020.5,56.6 1027.6,57.6 1033.4,58.9 1037.8,60.5 1041.0,62.4 1042.9,64.4Z" fill="#3b4ba6"/><ellipse cx="981.4" cy="66.5" rx="42.9" ry="4.2" fill="none" stroke="#fff" stroke-width="0.8" opacity="0.85"/><ellipse cx="981.4" cy="66.5" rx="28.6" ry="2.8" fill="none" stroke="#fff" stroke-width="0.8" opacity="0.85"/><ellipse cx="981.4" cy="66.5" rx="14.3" ry="1.4" fill="none" stroke="#fff" stroke-width="0.8" opacity="0.85"/></g>
<g><path d="M985.5,89.4 985.1,90.8 984.1,92.2 982.3,93.5 979.8,94.7 976.6,95.7 972.5,96.6 967.6,97.2 961.4,97.5 950.5,97.7 939.6,97.5 933.4,97.2 928.5,96.6 924.4,95.7 921.2,94.7 918.7,93.5 916.9,92.2 915.9,90.8 915.5,89.4 915.9,88.0 916.9,86.6 918.7,85.3 921.2,84.1 924.4,83.1 928.5,82.2 933.4,81.6 939.6,81.3 950.5,81.1 961.4,81.3 967.6,81.6 972.5,82.2 976.6,83.1 979.8,84.1 982.3,85.3 984.1,86.6 985.1,88.0Z" fill="#3b4ba6"/><ellipse cx="950.5" cy="89.4" rx="24.2" ry="3.4" fill="none" stroke="#fff" stroke-width="0.8" opacity="0.85"/><ellipse cx="950.5" cy="89.4" rx="16.1" ry="2.3" fill="none" stroke="#fff" stroke-width="0.8" opacity="0.85"/><ellipse cx="950.5" cy="89.4" rx="8.1" ry="1.1" fill="none" stroke="#fff" stroke-width="0.8" opacity="0.85"/></g>
<g><path d="M917.5,78.0 917.3,79.5 916.8,80.9 915.9,82.0 914.7,82.8 913.2,83.0 911.8,82.8 910.6,82.0 909.7,80.9 909.2,79.5 909.0,78.0 909.2,76.5 909.7,75.1 910.6,74.0 911.8,73.2 913.2,73.0 914.7,73.2 915.9,74.0 916.8,75.1 917.3,76.5Z" fill="none" stroke="#4ec4d0" stroke-width="1.3"/></g>
<g><path d="M1007.1,89.8 1007.0,90.6 1006.8,91.3 1006.5,92.1 1006.0,92.7 1005.3,93.3 1004.4,93.8 1003.2,94.1 1001.4,94.3 995.8,94.4 990.2,94.3 988.4,94.1 987.2,93.8 986.3,93.3 985.6,92.7 985.1,92.1 984.8,91.3 984.6,90.6 984.5,89.8 984.6,88.9 984.8,88.2 985.1,87.4 985.6,86.8 986.3,86.2 987.2,85.7 988.4,85.4 990.2,85.2 995.8,85.1 1001.4,85.2 1003.2,85.4 1004.4,85.7 1005.3,86.2 1006.0,86.8 1006.5,87.4 1006.8,88.2 1007.0,88.9Z" fill="#5cba48"/></g>
<g><path d="M1092.5,158.0 1091.6,163.2 1089.1,168.3 1084.8,173.0 1078.9,177.3 1071.3,181.0 1062.1,184.0 1051.2,186.2 1038.1,187.5 1019.0,188.0 999.9,187.5 986.8,186.2 975.9,184.0 966.7,181.0 959.1,177.3 953.2,173.0 948.9,168.3 946.4,163.2 945.5,158.0 946.4,152.8 948.9,147.7 953.2,143.0 959.1,138.7 966.7,135.0 975.9,132.0 986.8,129.8 999.9,128.5 1019.0,128.0 1038.1,128.5 1051.2,129.8 1062.1,132.0 1071.3,135.0 1078.9,138.7 1084.8,143.0 1089.1,147.7 1091.6,152.8Z" fill="#e6e6e6" stroke="#cfcfcf" stroke-width="1.2"/><path d="M1081.5,158.0 1080.8,162.5 1078.7,166.9 1075.3,171.1 1070.6,174.8 1064.5,178.0 1057.2,180.6 1048.4,182.5 1038.0,183.7 1022.7,184.1 1007.4,183.7 996.9,182.5 988.2,180.6 980.8,178.0 974.8,174.8 970.0,171.1 966.6,166.9 964.6,162.5 963.9,158.0 964.6,153.5 966.6,149.1 970.0,144.9 974.8,141.2 980.8,138.0 988.2,135.4 996.9,133.5 1007.4,132.3 1022.7,131.9 1038.0,132.3 1048.4,133.5 1057.2,135.4 1064.5,138.0 1070.6,141.2 1075.3,145.0 1078.7,149.1 1080.8,153.5Z" fill="none" stroke="#cccccc" stroke-width="1"/><path d="M1070.4,158.0 1069.9,161.9 1068.4,165.6 1065.8,169.1 1062.3,172.3 1057.7,175.0 1052.2,177.2 1045.7,178.9 1037.8,179.9 1026.4,180.2 1014.9,179.9 1007.0,178.9 1000.5,177.2 995.0,175.0 990.4,172.3 986.9,169.1 984.3,165.6 982.8,161.9 982.2,158.0 982.8,154.1 984.3,150.4 986.9,146.9 990.4,143.7 995.0,141.0 1000.5,138.8 1007.0,137.1 1014.9,136.1 1026.3,135.8 1037.8,136.1 1045.7,137.1 1052.2,138.8 1057.7,141.0 1062.3,143.7 1065.8,146.9 1068.4,150.4 1069.9,154.1Z" fill="none" stroke="#cccccc" stroke-width="1"/><path d="M1059.4,158.0 1059.1,161.2 1058.1,164.3 1056.3,167.2 1054.0,169.8 1051.0,172.0 1047.3,173.8 1042.9,175.2 1037.7,176.0 1030.0,176.3 1022.4,176.0 1017.1,175.2 1012.8,173.8 1009.1,172.0 1006.1,169.8 1003.7,167.2 1002.0,164.3 1001.0,161.2 1000.6,158.0 1001.0,154.8 1002.0,151.7 1003.7,148.8 1006.1,146.2 1009.1,144.0 1012.8,142.2 1017.1,140.8 1022.4,140.0 1030.0,139.7 1037.7,140.0 1042.9,140.8 1047.3,142.2 1051.0,144.0 1054.0,146.2 1056.3,148.8 1058.1,151.7 1059.1,154.8Z" fill="none" stroke="#cccccc" stroke-width="1"/><path d="M1048.4,158.0 1048.2,160.5 1047.7,162.9 1046.9,165.2 1045.7,167.3 1044.2,169.0 1042.3,170.5 1040.1,171.5 1037.5,172.2 1033.7,172.4 1029.9,172.2 1027.3,171.5 1025.1,170.5 1023.2,169.0 1021.7,167.3 1020.5,165.2 1019.7,162.9 1019.2,160.5 1019.0,158.0 1019.2,155.5 1019.7,153.1 1020.5,150.8 1021.7,148.7 1023.2,147.0 1025.1,145.5 1027.3,144.5 1029.9,143.8 1033.7,143.6 1037.5,143.8 1040.1,144.5 1042.3,145.5 1044.2,147.0 1045.7,148.7 1046.9,150.8 1047.7,153.1 1048.2,155.5Z" fill="none" stroke="#cccccc" stroke-width="1"/></g>
<g><path d="M1007.5,136.0 1007.3,138.4 1006.6,140.8 1005.4,143.0 1003.8,145.0 1001.7,146.7 999.2,148.1 996.3,149.2 992.7,149.8 987.5,150.0 982.3,149.8 978.7,149.2 975.8,148.1 973.3,146.7 971.2,145.0 969.6,143.0 968.4,140.8 967.7,138.4 967.5,136.0 967.7,133.6 968.4,131.2 969.6,129.0 971.2,127.0 973.3,125.3 975.8,123.9 978.7,122.8 982.3,122.2 987.5,122.0 992.7,122.2 996.3,122.8 999.2,123.9 1001.7,125.3 1003.8,127.0 1005.4,129.0 1006.6,131.2 1007.3,133.6Z" fill="#e6e6e6" stroke="#cfcfcf" stroke-width="1.2"/><path d="M998.5,136.0 998.4,137.6 998.0,139.2 997.5,140.7 996.6,142.1 995.6,143.2 994.4,144.2 992.9,144.9 991.1,145.3 988.5,145.4 985.9,145.3 984.1,144.9 982.6,144.2 981.4,143.2 980.4,142.1 979.5,140.7 979.0,139.2 978.6,137.6 978.5,136.0 978.6,134.4 979.0,132.8 979.5,131.3 980.4,129.9 981.4,128.8 982.6,127.8 984.1,127.1 985.9,126.7 988.5,126.5 991.1,126.7 992.9,127.1 994.4,127.8 995.6,128.8 996.6,129.9 997.5,131.3 998.0,132.8 998.4,134.4Z" fill="none" stroke="#cccccc" stroke-width="1"/></g>
<g><path d="M919.5,142.5 919.4,144.0 919.3,145.4 919.0,146.7 918.6,147.8 918.1,148.7 917.5,149.4 916.8,149.9 916.0,150.0 915.2,149.9 914.5,149.4 913.9,148.7 913.4,147.8 913.0,146.7 912.7,145.4 912.6,144.0 912.5,142.5 912.6,141.0 912.7,139.6 913.0,138.3 913.4,137.2 913.9,136.3 914.5,135.6 915.2,135.1 916.0,135.0 916.8,135.1 917.5,135.6 918.1,136.3 918.6,137.2 919.0,138.3 919.3,139.6 919.4,141.0Z" fill="none" stroke="#d8d8d8" stroke-width="1.0"/></g>
<g><path d="M931.5,174.0 931.4,175.9 931.0,177.5 930.4,178.9 929.5,179.7 928.5,180.0 927.5,179.7 926.6,178.9 926.0,177.5 925.6,175.9 925.5,174.0 925.6,172.1 926.0,170.5 926.6,169.1 927.5,168.3 928.5,168.0 929.5,168.3 930.4,169.1 931.0,170.5 931.4,172.1Z" fill="none" stroke="#d8d8d8" stroke-width="1.0"/></g>
<g><path d="M857.5,148.0 857.4,148.9 857.1,149.8 856.5,150.4 855.9,150.9 855.0,151.0 854.1,150.9 853.5,150.4 852.9,149.8 852.6,148.9 852.5,148.0 852.6,147.1 852.9,146.2 853.5,145.6 854.1,145.1 855.0,145.0 855.9,145.1 856.5,145.6 857.1,146.2 857.4,147.1Z" fill="none" stroke="#3b4ba6" stroke-width="1.3"/></g>
<g><path d="M864.5,148.0 864.4,148.9 864.1,149.8 863.7,150.4 863.2,150.9 862.5,151.0 861.8,150.9 861.3,150.4 860.9,149.8 860.6,148.9 860.5,148.0 860.6,147.1 860.9,146.2 861.3,145.6 861.8,145.1 862.5,145.0 863.2,145.1 863.7,145.6 864.1,146.2 864.4,147.1Z" fill="none" stroke="#3b4ba6" stroke-width="1.3"/></g>
<g><path d="M876.5,150.8 876.3,152.6 875.9,154.2 875.2,155.6 874.2,156.4 873.0,156.7 871.8,156.4 870.8,155.6 870.1,154.2 869.7,152.6 869.5,150.8 869.7,148.9 870.1,147.3 870.8,145.9 871.8,145.1 873.0,144.8 874.2,145.1 875.2,145.9 875.9,147.3 876.3,148.9Z" fill="none" stroke="#3b4ba6" stroke-width="1.3"/></g>
<g><path d="M892.0,150.0 891.7,151.2 890.9,152.4 889.6,153.2 887.9,153.8 885.8,154.0 883.6,153.8 881.9,153.2 880.6,152.4 879.8,151.2 879.5,150.0 879.8,148.8 880.6,147.6 881.9,146.8 883.6,146.2 885.8,146.0 887.9,146.2 889.6,146.8 890.9,147.6 891.7,148.8Z" fill="none" stroke="#3b4ba6" stroke-width="1.3"/></g>
<g><path d="M883.5,363.0 883.4,363.8 883.0,364.5 882.5,365.2 881.7,365.8 880.7,366.4 879.4,366.8 877.8,367.1 875.9,367.3 872.4,367.4 868.9,367.3 867.0,367.1 865.4,366.8 864.1,366.4 863.1,365.8 862.3,365.2 861.8,364.5 861.4,363.8 861.3,363.0 861.4,362.2 861.8,361.5 862.3,360.8 863.1,360.2 864.1,359.6 865.4,359.2 867.0,358.9 868.9,358.7 872.4,358.6 875.9,358.7 877.8,358.9 879.4,359.2 880.7,359.6 881.7,360.2 882.5,360.8 883.0,361.5 883.4,362.2Z" fill="#d8d8d8"/><ellipse cx="872.4" cy="363.0" rx="5.1" ry="1.2" fill="none" stroke="#fff" stroke-width="0.8" opacity="0.85"/></g>
<g><path d="M948.2,361.0 947.9,362.1 947.2,363.1 945.9,364.1 944.0,365.0 941.7,365.7 938.7,366.3 935.1,366.8 930.6,367.1 922.7,367.2 914.7,367.1 910.2,366.8 906.6,366.3 903.6,365.7 901.3,365.0 899.4,364.1 898.1,363.1 897.4,362.1 897.1,361.0 897.4,359.9 898.1,358.9 899.4,357.9 901.3,357.0 903.6,356.3 906.6,355.7 910.2,355.2 914.7,354.9 922.6,354.8 930.6,354.9 935.1,355.2 938.7,355.7 941.7,356.3 944.0,357.0 945.9,357.9 947.2,358.9 947.9,359.9Z" fill="#d8d8d8"/><ellipse cx="922.6" cy="361.0" rx="17.6" ry="2.5" fill="none" stroke="#fff" stroke-width="0.8" opacity="0.85"/><ellipse cx="922.6" cy="361.0" rx="11.8" ry="1.7" fill="none" stroke="#fff" stroke-width="0.8" opacity="0.85"/><ellipse cx="922.6" cy="361.0" rx="5.9" ry="0.8" fill="none" stroke="#fff" stroke-width="0.8" opacity="0.85"/></g>
<g><path d="M693.8,377.8 693.7,378.8 693.3,379.9 692.7,380.9 691.9,381.8 690.8,382.6 689.5,383.2 687.8,383.7 685.8,383.9 682.2,384.0 678.5,383.9 676.5,383.7 674.8,383.2 673.5,382.6 672.4,381.8 671.6,380.9 671.0,379.9 670.6,378.8 670.5,377.8 670.6,376.7 671.0,375.6 671.6,374.6 672.4,373.7 673.5,372.9 674.8,372.3 676.5,371.8 678.5,371.6 682.1,371.5 685.8,371.6 687.8,371.8 689.5,372.3 690.8,372.9 691.9,373.7 692.7,374.6 693.3,375.6 693.7,376.7Z" fill="#a93439"/><ellipse cx="682.1" cy="377.8" rx="7.1" ry="2.3" fill="none" stroke="#fff" stroke-width="0.8" opacity="0.85"/><ellipse cx="682.1" cy="377.8" rx="3.6" ry="1.2" fill="none" stroke="#fff" stroke-width="0.8" opacity="0.85"/></g>
<g><path d="M712.1,376.4 712.0,377.2 711.8,377.9 711.4,378.6 710.9,379.3 710.2,379.8 709.3,380.3 708.3,380.6 706.9,380.8 704.6,380.9 702.3,380.8 700.9,380.6 699.9,380.3 699.0,379.8 698.3,379.3 697.8,378.6 697.4,377.9 697.2,377.2 697.1,376.4 697.2,375.6 697.4,374.9 697.8,374.2 698.3,373.5 699.0,373.0 699.9,372.5 700.9,372.2 702.3,372.0 704.6,371.9 706.9,372.0 708.3,372.2 709.3,372.5 710.2,373.0 710.9,373.5 711.4,374.2 711.8,374.9 712.0,375.6Z" fill="#a93439"/><ellipse cx="704.6" cy="376.4" rx="3.5" ry="1.2" fill="none" stroke="#fff" stroke-width="0.8" opacity="0.85"/></g>
<g><path d="M731.2,375.9 731.1,376.7 730.7,377.4 730.1,378.1 729.2,378.7 728.2,379.1 726.9,379.5 725.5,379.7 723.9,379.8 722.2,379.7 720.8,379.5 719.5,379.1 718.5,378.7 717.6,378.1 717.0,377.4 716.6,376.7 716.5,375.9 716.6,375.1 717.0,374.4 717.6,373.7 718.5,373.1 719.5,372.7 720.8,372.3 722.2,372.1 723.9,372.0 725.5,372.1 726.9,372.3 728.2,372.7 729.2,373.1 730.1,373.7 730.7,374.4 731.1,375.1Z" fill="none" stroke="#a93439" stroke-width="1.0"/><path d="M727.5,375.9 727.4,376.5 726.9,377.0 726.1,377.5 725.1,377.8 723.9,377.8 722.6,377.8 721.6,377.5 720.8,377.0 720.3,376.5 720.2,375.9 720.3,375.3 720.8,374.8 721.6,374.3 722.6,374.0 723.9,373.9 725.1,374.0 726.1,374.3 726.9,374.8 727.4,375.3Z" fill="none" stroke="#a93439" stroke-width="1.0"/></g>
<g><path d="M655.3,428.5 655.1,429.7 654.6,430.8 653.8,431.7 652.5,432.3 650.2,432.5 647.8,432.3 646.5,431.7 645.7,430.8 645.2,429.7 645.0,428.5 645.2,427.3 645.7,426.2 646.5,425.3 647.8,424.7 650.1,424.5 652.5,424.7 653.8,425.3 654.6,426.2 655.1,427.3Z" fill="#74b9ab"/><ellipse cx="650.1" cy="428.5" rx="2.4" ry="1.1" fill="none" stroke="#fff" stroke-width="0.8" opacity="0.85"/></g>
<g><path d="M674.5,432.5 674.4,433.9 674.1,435.1 673.5,436.1 672.9,436.8 672.0,437.0 671.1,436.8 670.5,436.1 669.9,435.1 669.6,433.9 669.5,432.5 669.6,431.1 669.9,429.9 670.5,428.9 671.1,428.2 672.0,428.0 672.9,428.2 673.5,428.9 674.1,429.9 674.4,431.1Z" fill="none" stroke="#53648f" stroke-width="1.0"/></g>
<g><path d="M698.5,425.0 698.4,426.2 698.1,427.4 697.5,428.2 696.9,428.8 696.0,429.0 695.1,428.8 694.5,428.2 693.9,427.4 693.6,426.2 693.5,425.0 693.6,423.8 693.9,422.6 694.5,421.8 695.1,421.2 696.0,421.0 696.9,421.2 697.5,421.8 698.1,422.6 698.4,423.8Z" fill="none" stroke="#53648f" stroke-width="1.0"/></g>
<g><path d="M632.5,428.5 632.4,430.2 632.1,431.7 631.5,432.9 630.9,433.7 630.0,434.0 629.1,433.7 628.5,432.9 627.9,431.7 627.6,430.2 627.5,428.5 627.6,426.8 627.9,425.3 628.5,424.1 629.1,423.3 630.0,423.0 630.9,423.3 631.5,424.1 632.1,425.3 632.4,426.8Z" fill="none" stroke="#d8d8d8" stroke-width="1.0"/></g>
<g><path d="M724.5,458.5 724.1,459.8 722.9,461.1 720.8,462.3 717.9,463.5 714.1,464.4 709.5,465.2 703.8,465.8 696.5,466.1 683.9,466.2 671.3,466.1 664.0,465.8 658.3,465.2 653.7,464.4 649.9,463.5 647.0,462.3 644.9,461.1 643.7,459.8 643.3,458.5 643.7,457.1 644.9,455.8 647.0,454.6 649.9,453.4 653.7,452.5 658.3,451.7 664.0,451.1 671.3,450.8 683.9,450.7 696.5,450.8 703.8,451.1 709.5,451.7 714.1,452.5 717.9,453.4 720.8,454.6 722.9,455.8 724.1,457.1Z" fill="#53648f"/><ellipse cx="683.9" cy="458.5" rx="28.0" ry="3.2" fill="none" stroke="#fff" stroke-width="0.8" opacity="0.85"/><ellipse cx="683.9" cy="458.5" rx="18.7" ry="2.1" fill="none" stroke="#fff" stroke-width="0.8" opacity="0.85"/><ellipse cx="683.9" cy="458.5" rx="9.3" ry="1.1" fill="none" stroke="#fff" stroke-width="0.8" opacity="0.85"/></g>
<g><path d="M748.9,453.8 748.8,454.9 748.3,456.1 747.6,457.2 746.7,458.1 745.4,459.0 743.8,459.7 741.9,460.2 739.5,460.5 735.2,460.6 730.9,460.5 728.5,460.2 726.6,459.7 725.0,459.0 723.7,458.1 722.8,457.2 722.1,456.1 721.6,454.9 721.5,453.8 721.6,452.6 722.1,451.4 722.8,450.3 723.7,449.4 725.0,448.5 726.6,447.8 728.5,447.3 730.9,447.0 735.2,446.9 739.5,447.0 741.9,447.3 743.8,447.8 745.4,448.5 746.7,449.4 747.6,450.3 748.3,451.4 748.8,452.6Z" fill="#e65a20"/><ellipse cx="735.2" cy="453.8" rx="8.4" ry="2.5" fill="none" stroke="#fff" stroke-width="0.8" opacity="0.85"/><ellipse cx="735.2" cy="453.8" rx="4.2" ry="1.3" fill="none" stroke="#fff" stroke-width="0.8" opacity="0.85"/></g>
<g><path d="M682.5,512.5 682.3,513.6 681.8,514.6 681.0,515.3 679.9,515.8 678.6,516.0 677.3,515.8 676.2,515.3 675.4,514.6 674.9,513.6 674.7,512.5 674.9,511.4 675.4,510.4 676.2,509.7 677.3,509.2 678.6,509.0 679.9,509.2 681.0,509.7 681.8,510.4 682.3,511.4Z" fill="none" stroke="#d8d8d8" stroke-width="1.0"/><path d="M680.6,512.5 680.5,513.0 680.2,513.5 679.8,513.9 679.3,514.2 678.6,514.2 677.9,514.2 677.4,513.9 677.0,513.5 676.7,513.0 676.6,512.5 676.7,512.0 677.0,511.5 677.4,511.1 677.9,510.8 678.6,510.8 679.3,510.8 679.8,511.1 680.2,511.5 680.5,512.0Z" fill="none" stroke="#d8d8d8" stroke-width="1.0"/></g>
<g><path d="M646.7,560.2 646.5,561.0 646.0,561.8 645.2,562.5 644.1,563.1 642.6,563.7 640.7,564.2 638.4,564.5 635.6,564.7 630.6,564.8 625.5,564.7 622.7,564.5 620.4,564.2 618.5,563.7 617.0,563.1 615.9,562.5 615.1,561.8 614.6,561.0 614.4,560.2 614.6,559.4 615.1,558.6 615.9,557.9 617.0,557.3 618.5,556.7 620.4,556.2 622.7,555.9 625.5,555.7 630.5,555.6 635.6,555.7 638.4,555.9 640.7,556.2 642.6,556.7 644.1,557.3 645.2,557.9 646.0,558.6 646.5,559.4Z" fill="#e65a20"/><ellipse cx="630.5" cy="560.2" rx="9.9" ry="1.7" fill="none" stroke="#fff" stroke-width="0.8" opacity="0.85"/><ellipse cx="630.5" cy="560.2" rx="5.0" ry="0.8" fill="none" stroke="#fff" stroke-width="0.8" opacity="0.85"/></g>
<g><path d="M675.7,558.6 675.5,560.2 674.9,561.6 673.9,562.7 672.7,563.5 671.1,563.7 669.5,563.5 668.3,562.7 667.3,561.6 666.7,560.2 666.5,558.6 666.7,557.0 667.3,555.6 668.3,554.5 669.5,553.7 671.1,553.5 672.7,553.7 673.9,554.5 674.9,555.6 675.5,557.0Z" fill="none" stroke="#d8d8d8" stroke-width="1.0"/><path d="M673.4,558.6 673.3,559.4 673.0,560.1 672.5,560.7 671.9,561.0 671.1,561.2 670.3,561.0 669.7,560.7 669.2,560.1 668.9,559.4 668.8,558.6 668.9,557.8 669.2,557.1 669.7,556.5 670.3,556.2 671.1,556.0 671.9,556.2 672.5,556.5 673.0,557.1 673.3,557.8Z" fill="none" stroke="#d8d8d8" stroke-width="1.0"/></g>
<text x="823.2" y="160.8" font-size="24" fill="#3b4ba6">A<tspan font-size="16" dy="7">α</tspan></text>
<text x="860.6" y="234.3" font-size="24" fill="#3b4ba6">A<tspan font-size="15" dy="8">β-G</tspan></text>
<text x="926.0" y="292.9" font-size="24" fill="#3b4ba6">A<tspan font-size="12.5" dy="8">β-S</tspan></text>
<rect x="849.6" y="633.7" width="111.7" height="66.5" fill="#f6f6d6" stroke="#222" stroke-width="1.2"/>
<rect x="961.3" y="569.4" width="153.2" height="130.8" fill="#f6f6d6" stroke="#222" stroke-width="1.2"/>
<text x="974.7" y="598.7" font-size="21.5" fill="#a93439" textLength="88.1" lengthAdjust="spacingAndGlyphs">S: 40.6%</text>
<text x="974.7" y="628.2" font-size="21.5" fill="#53648f" textLength="95.0" lengthAdjust="spacingAndGlyphs">G: 59.4%</text>
<text x="974.7" y="659.2" font-size="21.5" textLength="100.8" lengthAdjust="spacingAndGlyphs"><tspan fill="#a93439">S</tspan><tspan fill="#000">/</tspan><tspan fill="#53648f">G:</tspan><tspan fill="#000"> 0.68</tspan></text>
<text x="974.7" y="689.0" font-size="21.5" fill="#e65a20" textLength="104.3" lengthAdjust="spacingAndGlyphs"><tspan font-style="italic">p</tspan>CA: 0.0%</text>
<text x="860.1" y="659.2" font-size="21.5" fill="#3b4ba6" textLength="76.8" lengthAdjust="spacingAndGlyphs">A: 7.1%</text>
<text x="860.1" y="689.0" font-size="21.5" fill="#5cba48" textLength="74.2" lengthAdjust="spacingAndGlyphs">B: 0.0%</text>
<text x="1405.9" y="24.5" font-size="22" fill="#e3922a" textLength="96.8" lengthAdjust="spacingAndGlyphs">Methoxyl</text>
<g><path d="M1644.3,23.0 1644.2,24.5 1643.7,25.9 1643.0,27.3 1642.0,28.4 1640.8,29.4 1639.3,30.1 1637.7,30.6 1635.8,30.7 1633.9,30.6 1632.3,30.1 1630.8,29.4 1629.6,28.4 1628.6,27.3 1627.9,25.9 1627.4,24.5 1627.3,23.0 1627.4,21.5 1627.9,20.1 1628.6,18.7 1629.6,17.6 1630.8,16.6 1632.3,15.9 1633.9,15.4 1635.8,15.3 1637.7,15.4 1639.3,15.9 1640.8,16.6 1642.0,17.6 1643.0,18.7 1643.7,20.1 1644.2,21.5Z" fill="none" stroke="#d8d8d8" stroke-width="1.0"/><path d="M1640.0,23.0 1639.9,24.2 1639.3,25.3 1638.4,26.1 1637.3,26.7 1635.8,26.9 1634.3,26.7 1633.2,26.1 1632.3,25.3 1631.7,24.2 1631.5,23.0 1631.7,21.8 1632.3,20.7 1633.2,19.9 1634.3,19.3 1635.8,19.1 1637.3,19.3 1638.4,19.9 1639.3,20.7 1639.9,21.8Z" fill="none" stroke="#d8d8d8" stroke-width="1.0"/></g>
<g><path d="M1463.8,36.5 1463.6,37.3 1463.2,38.0 1462.5,38.5 1461.6,38.9 1460.4,39.0 1459.2,38.9 1458.3,38.5 1457.6,38.0 1457.2,37.3 1457.0,36.5 1457.2,35.7 1457.6,35.0 1458.3,34.5 1459.2,34.1 1460.4,34.0 1461.6,34.1 1462.5,34.5 1463.2,35.0 1463.6,35.7Z" fill="none" stroke="#d8d8d8" stroke-width="1.0"/></g>
<g transform="rotate(-4.3 1550.6 30.5)"><path d="M1625.5,30.5 1624.7,31.7 1622.5,32.9 1618.7,34.0 1613.3,35.0 1606.4,35.9 1597.8,36.6 1587.2,37.1 1573.9,37.4 1550.6,37.5 1527.3,37.4 1514.0,37.1 1503.4,36.6 1494.8,35.9 1487.9,35.0 1482.5,34.0 1478.7,32.9 1476.5,31.7 1475.7,30.5 1476.5,29.3 1478.7,28.1 1482.5,27.0 1487.9,26.0 1494.8,25.1 1503.4,24.4 1514.0,23.9 1527.3,23.6 1550.6,23.5 1573.9,23.6 1587.2,23.9 1597.8,24.4 1606.4,25.1 1613.3,26.0 1618.7,27.0 1622.5,28.1 1624.7,29.3Z" fill="#e3922a"/><ellipse cx="1550.6" cy="30.5" rx="51.7" ry="2.9" fill="none" stroke="#fff" stroke-width="0.8" opacity="0.85"/><ellipse cx="1550.6" cy="30.5" rx="34.5" ry="1.9" fill="none" stroke="#fff" stroke-width="0.8" opacity="0.85"/><ellipse cx="1550.6" cy="30.5" rx="17.2" ry="1.0" fill="none" stroke="#fff" stroke-width="0.8" opacity="0.85"/></g>
<g><path d="M1632.5,82.2 1632.2,83.6 1631.3,85.0 1629.8,86.2 1627.6,87.4 1624.9,88.4 1621.5,89.1 1617.2,89.7 1611.9,90.1 1602.7,90.2 1593.4,90.1 1588.1,89.7 1583.8,89.1 1580.4,88.4 1577.7,87.4 1575.5,86.2 1574.0,85.0 1573.1,83.6 1572.8,82.2 1573.1,80.9 1574.0,79.5 1575.5,78.3 1577.7,77.1 1580.4,76.1 1583.8,75.4 1588.1,74.8 1593.4,74.4 1602.6,74.3 1611.9,74.4 1617.2,74.8 1621.5,75.4 1624.9,76.1 1627.6,77.1 1629.8,78.3 1631.3,79.5 1632.2,80.9Z" fill="#d8d8d8"/><ellipse cx="1602.7" cy="82.2" rx="20.6" ry="3.3" fill="none" stroke="#fff" stroke-width="0.8" opacity="0.85"/><ellipse cx="1602.7" cy="82.2" rx="13.7" ry="2.2" fill="none" stroke="#fff" stroke-width="0.8" opacity="0.85"/><ellipse cx="1602.7" cy="82.2" rx="6.9" ry="1.1" fill="none" stroke="#fff" stroke-width="0.8" opacity="0.85"/></g>
<g><path d="M1598.3,64.7 1597.9,66.9 1596.5,69.0 1594.3,70.9 1591.2,72.6 1587.2,73.9 1582.2,74.9 1576.1,75.5 1568.4,75.7 1554.9,75.2 1541.4,74.4 1533.7,73.6 1527.6,72.6 1522.6,71.5 1518.6,70.3 1515.5,69.0 1513.3,67.6 1511.9,66.2 1511.5,64.7 1511.9,63.2 1513.3,61.8 1515.5,60.4 1518.6,59.1 1522.6,57.9 1527.6,56.8 1533.7,55.8 1541.4,55.0 1554.9,54.2 1568.4,53.7 1576.1,53.9 1582.2,54.5 1587.2,55.5 1591.2,56.8 1594.3,58.5 1596.5,60.4 1597.9,62.5Z" fill="#3b4ba6"/><ellipse cx="1554.9" cy="64.7" rx="26.6" ry="3.8" fill="none" stroke="#fff" stroke-width="0.8" opacity="0.85"/><ellipse cx="1554.9" cy="64.7" rx="13.3" ry="1.9" fill="none" stroke="#fff" stroke-width="0.8" opacity="0.85"/></g>
<g><path d="M1550.5,79.2 1550.2,81.4 1549.3,83.6 1547.8,85.6 1545.7,87.4 1542.9,89.0 1539.5,90.3 1535.3,91.2 1530.0,91.8 1520.8,92.0 1511.5,91.8 1506.2,91.2 1502.0,90.3 1498.6,89.0 1495.8,87.4 1493.7,85.6 1492.2,83.6 1491.3,81.4 1491.0,79.2 1491.3,77.0 1492.2,74.8 1493.7,72.8 1495.8,71.0 1498.6,69.4 1502.0,68.1 1506.2,67.2 1511.5,66.6 1520.7,66.4 1530.0,66.6 1535.3,67.2 1539.5,68.1 1542.9,69.4 1545.7,71.0 1547.8,72.8 1549.3,74.8 1550.2,77.0Z" fill="#3b4ba6"/><ellipse cx="1520.8" cy="79.2" rx="18.2" ry="4.7" fill="none" stroke="#fff" stroke-width="0.8" opacity="0.85"/><ellipse cx="1520.8" cy="79.2" rx="9.1" ry="2.3" fill="none" stroke="#fff" stroke-width="0.8" opacity="0.85"/></g>
<g><path d="M1572.8,86.2 1572.7,87.0 1572.5,87.8 1572.1,88.5 1571.6,89.1 1570.9,89.7 1569.9,90.1 1568.6,90.4 1566.8,90.6 1560.9,90.7 1554.9,90.6 1553.1,90.4 1551.8,90.1 1550.8,89.7 1550.1,89.1 1549.6,88.5 1549.2,87.8 1549.0,87.0 1548.9,86.2 1549.0,85.5 1549.2,84.7 1549.6,84.0 1550.1,83.4 1550.8,82.8 1551.8,82.4 1553.1,82.1 1554.9,81.9 1560.8,81.8 1566.8,81.9 1568.6,82.1 1569.9,82.4 1570.9,82.8 1571.6,83.4 1572.1,84.0 1572.5,84.7 1572.7,85.5Z" fill="#5cba48"/></g>
<g><path d="M1635.8,156.9 1635.1,160.7 1632.9,164.4 1629.4,167.8 1624.4,171.0 1618.1,173.7 1610.5,175.9 1601.4,177.5 1590.4,178.5 1574.5,178.8 1558.6,178.5 1547.6,177.5 1538.5,175.9 1530.9,173.7 1524.6,171.0 1519.6,167.9 1516.1,164.4 1513.9,160.7 1513.2,156.9 1513.9,153.1 1516.1,149.4 1519.6,145.9 1524.6,142.8 1530.9,140.1 1538.5,137.9 1547.6,136.3 1558.6,135.3 1574.5,135.0 1590.4,135.3 1601.4,136.3 1610.5,137.9 1618.1,140.1 1624.4,142.8 1629.4,146.0 1632.9,149.4 1635.1,153.1Z" fill="#e6e6e6" stroke="#cfcfcf" stroke-width="1.2"/><path d="M1626.6,156.9 1626.0,160.2 1624.3,163.4 1621.5,166.4 1617.5,169.1 1612.5,171.5 1606.3,173.4 1599.0,174.8 1590.3,175.7 1577.6,176.0 1564.8,175.7 1556.1,174.8 1548.8,173.4 1542.7,171.5 1537.6,169.1 1533.7,166.4 1530.8,163.4 1529.1,160.2 1528.5,156.9 1529.1,153.6 1530.8,150.4 1533.7,147.4 1537.6,144.7 1542.7,142.3 1548.8,140.4 1556.1,139.0 1564.8,138.1 1577.6,137.8 1590.3,138.1 1599.0,139.0 1606.3,140.4 1612.5,142.3 1617.5,144.7 1621.5,147.4 1624.3,150.4 1626.0,153.6Z" fill="none" stroke="#cccccc" stroke-width="1"/><path d="M1617.4,156.9 1617.0,159.7 1615.7,162.4 1613.6,165.0 1610.6,167.3 1606.8,169.3 1602.2,170.9 1596.7,172.1 1590.2,172.9 1580.6,173.1 1571.1,172.9 1564.5,172.1 1559.1,170.9 1554.4,169.3 1550.7,167.3 1547.7,165.0 1545.6,162.4 1544.3,159.7 1543.9,156.9 1544.3,154.1 1545.6,151.4 1547.7,148.8 1550.7,146.5 1554.4,144.5 1559.1,142.9 1564.5,141.7 1571.1,140.9 1580.6,140.7 1590.2,140.9 1596.7,141.7 1602.2,142.9 1606.8,144.5 1610.6,146.5 1613.6,148.8 1615.7,151.4 1617.0,154.1Z" fill="none" stroke="#cccccc" stroke-width="1"/><path d="M1608.2,156.9 1607.9,159.2 1607.1,161.5 1605.6,163.6 1603.7,165.5 1601.1,167.1 1598.1,168.5 1594.4,169.5 1590.1,170.1 1583.7,170.3 1577.3,170.1 1573.0,169.5 1569.3,168.5 1566.2,167.1 1563.7,165.5 1561.7,163.6 1560.3,161.5 1559.5,159.2 1559.2,156.9 1559.5,154.6 1560.3,152.3 1561.7,150.2 1563.7,148.3 1566.2,146.7 1569.3,145.3 1573.0,144.3 1577.3,143.7 1583.7,143.5 1590.1,143.7 1594.4,144.3 1598.1,145.3 1601.1,146.7 1603.7,148.3 1605.6,150.2 1607.1,152.3 1607.9,154.6Z" fill="none" stroke="#cccccc" stroke-width="1"/><path d="M1599.0,156.9 1598.9,158.7 1598.4,160.5 1597.7,162.2 1596.7,163.7 1595.5,165.0 1594.0,166.0 1592.1,166.8 1589.9,167.3 1586.8,167.4 1583.6,167.3 1581.4,166.8 1579.6,166.0 1578.0,165.0 1576.8,163.7 1575.8,162.2 1575.1,160.5 1574.6,158.7 1574.5,156.9 1574.6,155.1 1575.1,153.3 1575.8,151.6 1576.8,150.1 1578.0,148.8 1579.6,147.8 1581.4,147.0 1583.6,146.5 1586.8,146.4 1589.9,146.5 1592.1,147.0 1594.0,147.8 1595.5,148.8 1596.7,150.1 1597.7,151.6 1598.4,153.3 1598.9,155.1Z" fill="none" stroke="#cccccc" stroke-width="1"/></g>
<g><path d="M1577.5,136.3 1577.4,138.7 1576.9,141.0 1576.2,143.2 1575.2,145.1 1573.9,146.8 1572.3,148.2 1570.5,149.2 1568.3,149.8 1565.0,150.0 1561.7,149.8 1559.5,149.2 1557.7,148.2 1556.1,146.8 1554.8,145.1 1553.8,143.2 1553.1,141.0 1552.6,138.7 1552.5,136.3 1552.6,133.9 1553.1,131.6 1553.8,129.5 1554.8,127.5 1556.1,125.8 1557.7,124.4 1559.5,123.4 1561.7,122.8 1565.0,122.6 1568.3,122.8 1570.5,123.4 1572.3,124.4 1573.9,125.8 1575.2,127.5 1576.2,129.5 1576.9,131.6 1577.4,133.9Z" fill="#e6e6e6" stroke="#cfcfcf" stroke-width="1.2"/><path d="M1571.9,136.3 1571.8,137.9 1571.6,139.5 1571.2,140.9 1570.7,142.2 1570.1,143.4 1569.3,144.3 1568.4,145.0 1567.3,145.4 1565.6,145.5 1564.0,145.4 1562.9,145.0 1562.0,144.3 1561.2,143.4 1560.5,142.2 1560.0,140.9 1559.7,139.5 1559.4,137.9 1559.4,136.3 1559.4,134.7 1559.7,133.1 1560.0,131.7 1560.5,130.4 1561.2,129.2 1562.0,128.3 1562.9,127.6 1564.0,127.2 1565.6,127.1 1567.3,127.2 1568.4,127.6 1569.3,128.3 1570.1,129.2 1570.7,130.4 1571.2,131.7 1571.6,133.1 1571.8,134.7Z" fill="none" stroke="#cccccc" stroke-width="1"/></g>
<g><path d="M1468.5,144.0 1468.4,144.9 1468.1,145.8 1467.6,146.4 1466.9,146.9 1465.5,147.0 1464.1,146.9 1463.4,146.4 1462.9,145.8 1462.6,144.9 1462.5,144.0 1462.6,143.1 1462.9,142.2 1463.4,141.6 1464.1,141.1 1465.5,141.0 1466.9,141.1 1467.6,141.6 1468.1,142.2 1468.4,143.1Z" fill="#d8d8d8"/></g>
<g><path d="M1508.1,358.4 1507.8,359.6 1507.0,360.7 1505.7,361.7 1503.8,362.7 1501.4,363.5 1498.3,364.2 1494.6,364.7 1489.9,365.0 1481.7,365.1 1473.5,365.0 1468.8,364.7 1465.1,364.2 1462.0,363.5 1459.6,362.7 1457.7,361.7 1456.4,360.7 1455.6,359.6 1455.3,358.4 1455.6,357.2 1456.4,356.1 1457.7,355.1 1459.6,354.1 1462.0,353.3 1465.1,352.6 1468.8,352.1 1473.5,351.8 1481.7,351.7 1489.9,351.8 1494.6,352.1 1498.3,352.6 1501.4,353.3 1503.8,354.1 1505.7,355.1 1507.0,356.1 1507.8,357.2Z" fill="#d8d8d8"/><ellipse cx="1481.7" cy="358.4" rx="18.2" ry="2.8" fill="none" stroke="#fff" stroke-width="0.8" opacity="0.85"/><ellipse cx="1481.7" cy="358.4" rx="12.1" ry="1.8" fill="none" stroke="#fff" stroke-width="0.8" opacity="0.85"/><ellipse cx="1481.7" cy="358.4" rx="6.1" ry="0.9" fill="none" stroke="#fff" stroke-width="0.8" opacity="0.85"/></g>
<g><path d="M1526.8,354.5 1526.6,355.6 1526.2,356.6 1525.4,357.3 1524.4,357.8 1523.2,358.0 1521.9,357.8 1520.9,357.3 1520.1,356.6 1519.7,355.6 1519.5,354.5 1519.7,353.4 1520.1,352.4 1520.9,351.7 1521.9,351.2 1523.2,351.0 1524.4,351.2 1525.4,351.7 1526.2,352.4 1526.6,353.4Z" fill="none" stroke="#d8d8d8" stroke-width="1.5"/></g>
<g><path d="M1267.9,374.6 1267.6,375.9 1266.9,377.0 1265.6,377.9 1264.0,378.5 1262.0,378.7 1259.9,378.5 1258.3,377.9 1257.0,377.0 1256.3,375.9 1256.0,374.6 1256.3,373.4 1257.0,372.3 1258.3,371.4 1259.9,370.8 1262.0,370.6 1264.0,370.8 1265.6,371.4 1266.9,372.3 1267.6,373.4Z" fill="none" stroke="#a93439" stroke-width="1.3"/></g>
<g><path d="M1278.2,372.1 1278.0,373.4 1277.6,374.6 1276.9,375.6 1275.9,376.2 1274.8,376.4 1273.6,376.2 1272.6,375.6 1271.9,374.6 1271.5,373.4 1271.3,372.1 1271.5,370.8 1271.9,369.6 1272.6,368.6 1273.6,368.0 1274.8,367.8 1275.9,368.0 1276.9,368.6 1277.6,369.6 1278.0,370.8Z" fill="none" stroke="#a93439" stroke-width="1.3"/><path d="M1276.5,372.1 1276.4,372.8 1276.2,373.4 1275.8,373.8 1275.3,374.1 1274.8,374.2 1274.2,374.1 1273.7,373.8 1273.3,373.4 1273.1,372.8 1273.0,372.1 1273.1,371.4 1273.3,370.8 1273.7,370.4 1274.2,370.1 1274.8,370.0 1275.3,370.1 1275.8,370.4 1276.2,370.8 1276.4,371.4Z" fill="none" stroke="#a93439" stroke-width="1.3"/></g>
<g><path d="M1245.8,374.7 1245.6,375.5 1245.2,376.3 1244.5,376.9 1243.6,377.3 1242.4,377.4 1241.2,377.3 1240.3,376.9 1239.6,376.3 1239.2,375.5 1239.0,374.7 1239.2,373.9 1239.6,373.1 1240.3,372.5 1241.2,372.1 1242.4,372.0 1243.6,372.1 1244.5,372.5 1245.2,373.1 1245.6,373.9Z" fill="none" stroke="#3a3a3a" stroke-width="1.2"/></g>
<g><path d="M1230.5,423.5 1230.4,424.3 1230.1,425.0 1229.5,425.5 1228.9,425.9 1228.0,426.0 1227.1,425.9 1226.5,425.5 1225.9,425.0 1225.6,424.3 1225.5,423.5 1225.6,422.7 1225.9,422.0 1226.5,421.5 1227.1,421.1 1228.0,421.0 1228.9,421.1 1229.5,421.5 1230.1,422.0 1230.4,422.7Z" fill="none" stroke="#53648f" stroke-width="1.0"/></g>
<g transform="rotate(-3 1249.2 456.0)"><path d="M1288.4,456.0 1288.0,457.3 1286.8,458.6 1284.8,459.7 1282.0,460.8 1278.4,461.7 1273.9,462.5 1268.4,463.0 1261.4,463.4 1249.2,463.5 1237.0,463.4 1230.0,463.0 1224.5,462.5 1220.0,461.7 1216.4,460.8 1213.6,459.7 1211.6,458.6 1210.4,457.3 1210.0,456.0 1210.4,454.7 1211.6,453.4 1213.6,452.3 1216.4,451.2 1220.0,450.3 1224.5,449.5 1230.0,449.0 1237.0,448.6 1249.2,448.5 1261.4,448.6 1268.4,449.0 1273.9,449.5 1278.4,450.3 1282.0,451.2 1284.8,452.3 1286.8,453.4 1288.0,454.7Z" fill="#53648f"/><ellipse cx="1249.2" cy="456.0" rx="27.0" ry="3.1" fill="none" stroke="#fff" stroke-width="0.8" opacity="0.85"/><ellipse cx="1249.2" cy="456.0" rx="18.0" ry="2.1" fill="none" stroke="#fff" stroke-width="0.8" opacity="0.85"/><ellipse cx="1249.2" cy="456.0" rx="9.0" ry="1.0" fill="none" stroke="#fff" stroke-width="0.8" opacity="0.85"/></g>
<g><path d="M1313.9,450.0 1313.8,451.2 1313.3,452.4 1312.6,453.5 1311.5,454.5 1310.2,455.4 1308.6,456.1 1306.5,456.6 1303.9,456.9 1299.5,457.0 1295.0,456.9 1292.4,456.6 1290.3,456.1 1288.7,455.4 1287.4,454.5 1286.3,453.5 1285.6,452.4 1285.1,451.2 1285.0,450.0 1285.1,448.8 1285.6,447.6 1286.3,446.5 1287.4,445.5 1288.7,444.6 1290.3,443.9 1292.4,443.4 1295.0,443.1 1299.4,443.0 1303.9,443.1 1306.5,443.4 1308.6,443.9 1310.2,444.6 1311.5,445.5 1312.6,446.5 1313.3,447.6 1313.8,448.8Z" fill="#e65a20"/><ellipse cx="1299.5" cy="450.0" rx="8.9" ry="2.6" fill="none" stroke="#fff" stroke-width="0.8" opacity="0.85"/><ellipse cx="1299.5" cy="450.0" rx="4.4" ry="1.3" fill="none" stroke="#fff" stroke-width="0.8" opacity="0.85"/></g>
<g><path d="M1228.8,511.2 1228.7,511.9 1228.3,512.5 1227.7,513.1 1226.9,513.7 1225.8,514.1 1224.4,514.5 1222.7,514.8 1220.6,514.9 1216.9,515.0 1213.1,514.9 1211.0,514.8 1209.3,514.5 1207.9,514.1 1206.8,513.7 1206.0,513.1 1205.4,512.5 1205.0,511.9 1204.9,511.2 1205.0,510.6 1205.4,510.0 1206.0,509.4 1206.8,508.8 1207.9,508.4 1209.3,508.0 1211.0,507.7 1213.1,507.6 1216.8,507.5 1220.6,507.6 1222.7,507.7 1224.4,508.0 1225.8,508.4 1226.9,508.8 1227.7,509.4 1228.3,510.0 1228.7,510.6Z" fill="#d8d8d8"/><ellipse cx="1216.8" cy="511.2" rx="5.5" ry="1.0" fill="none" stroke="#fff" stroke-width="0.8" opacity="0.85"/></g>
<g><path d="M1201.5,557.4 1201.3,558.6 1200.8,559.7 1200.1,560.6 1199.0,561.1 1197.8,561.3 1196.5,561.1 1195.4,560.6 1194.7,559.7 1194.2,558.6 1194.0,557.4 1194.2,556.2 1194.7,555.1 1195.4,554.2 1196.5,553.7 1197.8,553.5 1199.0,553.7 1200.1,554.2 1200.8,555.1 1201.3,556.2Z" fill="none" stroke="#e65a20" stroke-width="1.6"/></g>
<g><path d="M1222.0,554.1 1221.8,555.7 1221.0,557.2 1219.9,558.3 1218.4,559.0 1216.5,559.3 1214.7,559.0 1213.2,558.3 1212.1,557.2 1211.3,555.7 1211.1,554.1 1211.3,552.6 1212.1,551.1 1213.2,550.0 1214.7,549.3 1216.5,549.0 1218.4,549.3 1219.9,550.0 1221.0,551.1 1221.8,552.6Z" fill="none" stroke="#c246b4" stroke-width="1.2"/><path d="M1219.3,554.1 1219.2,554.9 1218.8,555.7 1218.2,556.2 1217.5,556.6 1216.5,556.7 1215.6,556.6 1214.9,556.2 1214.3,555.7 1213.9,554.9 1213.8,554.1 1213.9,553.4 1214.3,552.6 1214.9,552.1 1215.6,551.7 1216.5,551.6 1217.5,551.7 1218.2,552.1 1218.8,552.6 1219.2,553.4Z" fill="none" stroke="#c246b4" stroke-width="1.2"/></g>
<g><path d="M1232.2,555.8 1232.0,556.9 1231.3,557.9 1230.2,558.6 1228.9,559.1 1227.1,559.3 1225.3,559.1 1224.0,558.6 1222.9,557.9 1222.2,556.9 1222.0,555.8 1222.2,554.8 1222.9,553.8 1224.0,553.1 1225.3,552.6 1227.1,552.4 1228.9,552.6 1230.2,553.1 1231.3,553.8 1232.0,554.8Z" fill="none" stroke="#d8d8d8" stroke-width="1.0"/><path d="M1229.6,555.8 1229.5,556.4 1229.2,556.9 1228.7,557.2 1228.0,557.5 1227.1,557.6 1226.2,557.5 1225.5,557.2 1225.0,556.9 1224.7,556.4 1224.5,555.8 1224.7,555.3 1225.0,554.8 1225.5,554.5 1226.2,554.2 1227.1,554.1 1228.0,554.2 1228.7,554.5 1229.2,554.8 1229.5,555.3Z" fill="none" stroke="#d8d8d8" stroke-width="1.0"/></g>
<text x="1388.2" y="170.3" font-size="24" fill="#3b4ba6">A<tspan font-size="16" dy="7">α</tspan></text>
<text x="1425.6" y="242.5" font-size="24" fill="#3b4ba6">A<tspan font-size="15" dy="8">β-G</tspan></text>
<text x="1488.3" y="300.4" font-size="24" fill="#3b4ba6">A<tspan font-size="15" dy="8">β-S</tspan></text>
<rect x="1414.6" y="633.7" width="111.7" height="66.5" fill="#f6f6d6" stroke="#222" stroke-width="1.2"/>
<rect x="1526.3" y="569.4" width="153.2" height="130.8" fill="#f6f6d6" stroke="#222" stroke-width="1.2"/>
<text x="1539.7" y="598.7" font-size="21.5" fill="#a93439" textLength="88.1" lengthAdjust="spacingAndGlyphs">S: 36.9%</text>
<text x="1539.7" y="628.2" font-size="21.5" fill="#53648f" textLength="95.0" lengthAdjust="spacingAndGlyphs">G: 63.1%</text>
<text x="1539.7" y="659.2" font-size="21.5" textLength="100.8" lengthAdjust="spacingAndGlyphs"><tspan fill="#a93439">S</tspan><tspan fill="#000">/</tspan><tspan fill="#53648f">G:</tspan><tspan fill="#000"> 0.58</tspan></text>
<text x="1539.7" y="689.0" font-size="21.5" fill="#e65a20" textLength="104.3" lengthAdjust="spacingAndGlyphs"><tspan font-style="italic">p</tspan>CA: 0.0%</text>
<text x="1425.1" y="659.2" font-size="21.5" fill="#3b4ba6" textLength="76.8" lengthAdjust="spacingAndGlyphs">A: 6.3%</text>
<text x="1425.1" y="689.0" font-size="21.5" fill="#5cba48" textLength="74.2" lengthAdjust="spacingAndGlyphs">B: 0.0%</text>
<text x="275.9" y="739.9" font-size="22" fill="#e3922a" textLength="96.8" lengthAdjust="spacingAndGlyphs">Methoxyl</text>
<g><path d="M366.5,754.4 366.4,755.0 366.2,755.6 365.9,756.0 365.5,756.3 365.0,756.4 364.5,756.3 364.1,756.0 363.8,755.6 363.6,755.0 363.5,754.4 363.6,753.8 363.8,753.2 364.1,752.8 364.5,752.5 365.0,752.4 365.5,752.5 365.9,752.8 366.2,753.2 366.4,753.8Z" fill="none" stroke="#d8d8d8" stroke-width="1.0"/></g>
<g><path d="M461.5,750.6 461.0,752.3 459.7,753.9 457.4,755.4 454.2,756.7 450.0,757.9 444.8,758.8 438.5,759.5 430.4,760.0 416.4,760.1 402.4,760.0 394.3,759.5 388.0,758.8 382.8,757.9 378.6,756.7 375.4,755.4 373.1,753.9 371.8,752.3 371.3,750.6 371.8,749.0 373.1,747.4 375.4,745.9 378.6,744.6 382.8,743.4 388.0,742.5 394.3,741.8 402.4,741.3 416.4,741.2 430.4,741.3 438.5,741.8 444.8,742.5 450.0,743.4 454.2,744.6 457.4,745.9 459.7,747.4 461.0,749.0Z" fill="#e3922a"/><ellipse cx="416.4" cy="750.6" rx="31.1" ry="3.9" fill="none" stroke="#fff" stroke-width="0.8" opacity="0.85"/><ellipse cx="416.4" cy="750.6" rx="20.7" ry="2.6" fill="none" stroke="#fff" stroke-width="0.8" opacity="0.85"/><ellipse cx="416.4" cy="750.6" rx="10.4" ry="1.3" fill="none" stroke="#fff" stroke-width="0.8" opacity="0.85"/></g>
<g><path d="M478.5,802.9 478.3,804.4 477.6,805.8 476.6,807.1 475.0,808.3 473.1,809.3 470.6,810.1 467.6,810.8 463.9,811.1 457.3,811.3 450.6,811.1 446.9,810.8 443.9,810.1 441.4,809.3 439.5,808.3 437.9,807.1 436.9,805.8 436.2,804.4 436.0,802.9 436.2,801.4 436.9,800.0 437.9,798.7 439.5,797.5 441.4,796.5 443.9,795.7 446.9,795.0 450.6,794.7 457.2,794.5 463.9,794.7 467.6,795.0 470.6,795.7 473.1,796.5 475.0,797.5 476.6,798.7 477.6,800.0 478.3,801.4Z" fill="#d8d8d8"/><ellipse cx="457.2" cy="802.9" rx="14.7" ry="3.4" fill="none" stroke="#fff" stroke-width="0.8" opacity="0.85"/><ellipse cx="457.2" cy="802.9" rx="9.8" ry="2.3" fill="none" stroke="#fff" stroke-width="0.8" opacity="0.85"/><ellipse cx="457.2" cy="802.9" rx="4.9" ry="1.1" fill="none" stroke="#fff" stroke-width="0.8" opacity="0.85"/></g>
<g><path d="M463.9,785.4 463.4,787.6 461.8,789.7 459.2,791.6 455.5,793.3 450.8,794.7 444.9,795.7 437.6,796.3 428.5,796.4 412.5,796.0 396.4,795.2 387.3,794.4 380.0,793.4 374.1,792.3 369.4,791.1 365.7,789.7 363.1,788.3 361.5,786.9 361.0,785.4 361.5,783.9 363.1,782.5 365.7,781.1 369.4,779.7 374.1,778.5 380.0,777.4 387.3,776.4 396.4,775.6 412.4,774.8 428.5,774.4 437.6,774.5 444.9,775.1 450.8,776.1 455.5,777.5 459.2,779.2 461.8,781.1 463.4,783.2Z" fill="#3b4ba6"/><ellipse cx="412.4" cy="785.4" rx="35.5" ry="4.4" fill="none" stroke="#fff" stroke-width="0.8" opacity="0.85"/><ellipse cx="412.4" cy="785.4" rx="23.7" ry="2.9" fill="none" stroke="#fff" stroke-width="0.8" opacity="0.85"/><ellipse cx="412.4" cy="785.4" rx="11.8" ry="1.5" fill="none" stroke="#fff" stroke-width="0.8" opacity="0.85"/></g>
<g><path d="M436.0,806.4 435.6,808.1 434.5,809.7 432.6,811.2 429.9,812.6 426.4,813.8 422.1,814.8 416.8,815.5 410.2,815.9 398.5,816.1 386.8,815.9 380.2,815.5 374.9,814.8 370.6,813.8 367.1,812.6 364.4,811.2 362.5,809.7 361.4,808.1 361.0,806.4 361.4,804.7 362.5,803.1 364.4,801.6 367.1,800.2 370.6,799.0 374.9,798.0 380.2,797.3 386.8,796.9 398.5,796.7 410.2,796.9 416.8,797.3 422.1,798.0 426.4,799.0 429.9,800.2 432.6,801.6 434.5,803.1 435.6,804.7Z" fill="#3b4ba6"/><ellipse cx="398.5" cy="806.4" rx="25.9" ry="4.0" fill="none" stroke="#fff" stroke-width="0.8" opacity="0.85"/><ellipse cx="398.5" cy="806.4" rx="17.2" ry="2.7" fill="none" stroke="#fff" stroke-width="0.8" opacity="0.85"/><ellipse cx="398.5" cy="806.4" rx="8.6" ry="1.3" fill="none" stroke="#fff" stroke-width="0.8" opacity="0.85"/></g>
<g><path d="M366.1,805.6 366.0,807.6 365.6,809.6 364.9,811.3 364.0,812.9 362.9,814.2 361.6,815.1 360.2,815.7 358.5,815.9 356.7,815.7 355.3,815.1 354.0,814.2 352.9,812.9 352.0,811.3 351.3,809.6 350.9,807.6 350.8,805.6 350.9,803.7 351.3,801.7 352.0,800.0 352.9,798.4 354.0,797.1 355.3,796.2 356.7,795.6 358.4,795.4 360.2,795.6 361.6,796.2 362.9,797.1 364.0,798.4 364.9,800.0 365.6,801.7 366.0,803.7Z" fill="none" stroke="#4ec4d0" stroke-width="1.3"/><path d="M364.2,805.6 364.1,807.1 363.8,808.6 363.3,809.9 362.6,811.1 361.8,812.0 360.8,812.8 359.7,813.2 358.5,813.3 357.2,813.2 356.1,812.8 355.1,812.0 354.3,811.1 353.6,809.9 353.1,808.6 352.8,807.1 352.7,805.6 352.8,804.2 353.1,802.7 353.6,801.4 354.3,800.2 355.1,799.3 356.1,798.5 357.2,798.1 358.5,798.0 359.7,798.1 360.8,798.5 361.8,799.3 362.6,800.2 363.3,801.4 363.8,802.7 364.1,804.2Z" fill="none" stroke="#4ec4d0" stroke-width="1.3"/><path d="M362.3,805.6 362.1,807.2 361.6,808.7 360.8,809.8 359.8,810.5 358.5,810.8 357.1,810.5 356.1,809.8 355.3,808.7 354.8,807.2 354.6,805.6 354.8,804.1 355.3,802.6 356.1,801.5 357.1,800.8 358.5,800.5 359.8,800.8 360.8,801.5 361.6,802.6 362.1,804.1Z" fill="none" stroke="#4ec4d0" stroke-width="1.3"/><path d="M360.4,805.6 360.3,806.4 360.0,807.2 359.6,807.7 359.1,808.1 358.5,808.2 357.8,808.1 357.3,807.7 356.9,807.2 356.6,806.4 356.5,805.6 356.6,804.9 356.9,804.1 357.3,803.6 357.8,803.2 358.5,803.1 359.1,803.2 359.6,803.6 360.0,804.1 360.3,804.9Z" fill="none" stroke="#4ec4d0" stroke-width="1.3"/></g>
<g><path d="M436.6,807.6 436.5,808.4 436.4,809.1 436.1,809.7 435.6,810.3 435.0,810.9 434.3,811.3 433.2,811.6 431.7,811.8 426.9,811.8 422.1,811.8 420.6,811.6 419.5,811.3 418.8,810.9 418.2,810.3 417.7,809.7 417.4,809.1 417.3,808.4 417.2,807.6 417.3,806.9 417.4,806.2 417.7,805.6 418.2,805.0 418.8,804.4 419.5,804.0 420.6,803.7 422.1,803.5 426.9,803.5 431.7,803.5 433.2,803.7 434.3,804.0 435.0,804.4 435.6,805.0 436.1,805.6 436.4,806.2 436.5,806.9Z" fill="#5cba48"/></g>
<g><path d="M396.8,823.6 396.7,824.7 396.2,825.8 395.5,826.6 394.5,827.1 392.6,827.3 390.6,827.1 389.6,826.6 388.9,825.8 388.4,824.7 388.3,823.6 388.4,822.5 388.9,821.4 389.6,820.6 390.6,820.1 392.5,819.9 394.5,820.1 395.5,820.6 396.2,821.4 396.7,822.5Z" fill="#d8d8d8"/><ellipse cx="392.6" cy="823.6" rx="2.0" ry="1.0" fill="none" stroke="#fff" stroke-width="0.8" opacity="0.85"/></g>
<g><path d="M468.5,854.9 468.2,857.3 467.1,859.6 465.4,861.7 463.0,863.7 460.0,865.3 456.1,866.7 451.4,867.7 445.4,868.3 435.0,868.5 424.6,868.3 418.6,867.7 413.9,866.7 410.0,865.3 407.0,863.7 404.6,861.7 402.9,859.6 401.8,857.3 401.5,854.9 401.8,852.5 402.9,850.2 404.6,848.1 407.0,846.1 410.0,844.5 413.9,843.1 418.6,842.1 424.6,841.5 435.0,841.3 445.4,841.5 451.4,842.1 456.1,843.1 460.0,844.5 463.0,846.1 465.4,848.1 467.1,850.2 468.2,852.5Z" fill="#d8d8d8"/><ellipse cx="435.0" cy="854.9" rx="23.1" ry="5.6" fill="none" stroke="#fff" stroke-width="0.8" opacity="0.85"/><ellipse cx="435.0" cy="854.9" rx="15.4" ry="3.8" fill="none" stroke="#fff" stroke-width="0.8" opacity="0.85"/><ellipse cx="435.0" cy="854.9" rx="7.7" ry="1.9" fill="none" stroke="#fff" stroke-width="0.8" opacity="0.85"/></g>
<g transform="rotate(-5 441.0 885.4)"><path d="M490.5,885.4 490.0,888.8 488.5,892.0 486.0,895.1 482.4,897.8 477.9,900.2 472.2,902.2 465.2,903.6 456.4,904.5 441.0,904.8 425.6,904.5 416.8,903.6 409.8,902.2 404.1,900.2 399.6,897.8 396.0,895.1 393.5,892.0 392.0,888.8 391.5,885.4 392.0,882.0 393.5,878.8 396.0,875.7 399.6,873.0 404.1,870.6 409.8,868.6 416.8,867.2 425.6,866.3 441.0,866.0 456.4,866.3 465.2,867.2 472.2,868.6 477.9,870.6 482.4,873.0 486.0,875.7 488.5,878.8 490.0,882.0Z" fill="#d8d8d8"/><ellipse cx="441.0" cy="885.4" rx="34.2" ry="8.0" fill="none" stroke="#fff" stroke-width="0.8" opacity="0.85"/><ellipse cx="441.0" cy="885.4" rx="22.8" ry="5.3" fill="none" stroke="#fff" stroke-width="0.8" opacity="0.85"/><ellipse cx="441.0" cy="885.4" rx="11.4" ry="2.7" fill="none" stroke="#fff" stroke-width="0.8" opacity="0.85"/></g>
<g><path d="M408.5,855.7 408.3,857.9 407.8,860.0 406.9,862.0 405.8,863.7 404.3,865.1 402.6,866.1 400.7,866.8 398.4,867.0 396.1,866.8 394.2,866.1 392.5,865.1 391.0,863.7 389.9,862.0 389.0,860.0 388.5,857.9 388.3,855.7 388.5,853.5 389.0,851.4 389.9,849.4 391.0,847.7 392.5,846.3 394.2,845.3 396.1,844.6 398.4,844.4 400.7,844.6 402.6,845.3 404.3,846.3 405.8,847.7 406.9,849.4 407.8,851.4 408.3,853.5Z" fill="none" stroke="#4a5638" stroke-width="1.3"/><path d="M406.0,855.7 405.8,857.4 405.4,858.9 404.8,860.4 403.9,861.7 402.8,862.7 401.6,863.5 400.1,864.0 398.4,864.2 396.7,864.0 395.2,863.5 394.0,862.7 392.9,861.7 392.0,860.4 391.4,858.9 391.0,857.4 390.8,855.7 391.0,854.0 391.4,852.5 392.0,851.0 392.9,849.7 394.0,848.7 395.2,847.9 396.7,847.4 398.4,847.2 400.1,847.4 401.6,847.9 402.8,848.7 403.9,849.7 404.8,851.0 405.4,852.5 405.8,854.0Z" fill="none" stroke="#4a5638" stroke-width="1.3"/><path d="M403.4,855.7 403.2,857.4 402.6,859.0 401.5,860.3 400.1,861.1 398.4,861.4 396.7,861.1 395.3,860.3 394.2,859.0 393.6,857.4 393.3,855.7 393.6,854.0 394.2,852.4 395.3,851.1 396.7,850.3 398.4,850.1 400.1,850.3 401.5,851.1 402.6,852.4 403.2,854.0Z" fill="none" stroke="#4a5638" stroke-width="1.3"/><path d="M400.9,855.7 400.8,856.6 400.5,857.4 400.0,858.0 399.3,858.4 398.4,858.5 397.5,858.4 396.8,858.0 396.3,857.4 396.0,856.6 395.9,855.7 396.0,854.8 396.3,854.0 396.8,853.4 397.5,853.0 398.4,852.9 399.3,853.0 400.0,853.4 400.5,854.0 400.8,854.8Z" fill="none" stroke="#4a5638" stroke-width="1.3"/></g>
<g><path d="M381.5,861.9 381.4,862.4 381.0,862.9 380.4,863.3 379.6,863.7 378.6,864.0 377.4,864.2 376.1,864.4 374.5,864.4 372.9,864.4 371.6,864.2 370.4,864.0 369.4,863.7 368.6,863.3 368.0,862.9 367.6,862.4 367.5,861.9 367.6,861.4 368.0,860.9 368.6,860.5 369.4,860.1 370.4,859.8 371.6,859.6 372.9,859.4 374.5,859.4 376.1,859.4 377.4,859.6 378.6,859.8 379.6,860.1 380.4,860.5 381.0,860.9 381.4,861.4Z" fill="none" stroke="#d8d8d8" stroke-width="1.0"/></g>
<g transform="rotate(-8 301.1 866.1)"><path d="M320.2,866.1 320.0,867.0 319.4,867.9 318.5,868.7 317.1,869.5 315.3,870.1 313.1,870.7 310.4,871.1 307.0,871.3 301.1,871.4 295.2,871.3 291.8,871.1 289.1,870.7 286.9,870.1 285.1,869.5 283.7,868.7 282.8,867.9 282.2,867.0 282.0,866.1 282.2,865.2 282.8,864.3 283.7,863.5 285.1,862.7 286.9,862.1 289.1,861.5 291.8,861.1 295.2,860.9 301.1,860.8 307.0,860.9 310.4,861.1 313.1,861.5 315.3,862.1 317.1,862.7 318.5,863.5 319.4,864.3 320.0,865.2Z" fill="#3b4ba6"/><ellipse cx="301.1" cy="866.1" rx="13.2" ry="2.2" fill="none" stroke="#fff" stroke-width="0.8" opacity="0.85"/><ellipse cx="301.1" cy="866.1" rx="8.8" ry="1.5" fill="none" stroke="#fff" stroke-width="0.8" opacity="0.85"/><ellipse cx="301.1" cy="866.1" rx="4.4" ry="0.7" fill="none" stroke="#fff" stroke-width="0.8" opacity="0.85"/></g>
<g><path d="M359.5,952.0 359.3,953.1 358.9,954.0 358.2,954.8 357.2,955.2 356.0,955.4 354.8,955.2 353.8,954.8 353.1,954.0 352.7,953.1 352.5,952.0 352.7,951.0 353.1,950.1 353.8,949.3 354.8,948.9 356.0,948.7 357.2,948.9 358.2,949.3 358.9,950.1 359.3,951.0Z" fill="none" stroke="#3b4ba6" stroke-width="1.3"/></g>
<g><path d="M346.5,953.4 346.4,954.6 346.0,955.8 345.4,956.6 344.5,957.2 343.5,957.4 342.5,957.2 341.6,956.6 341.0,955.8 340.6,954.6 340.5,953.4 340.6,952.2 341.0,951.0 341.6,950.2 342.5,949.6 343.5,949.4 344.5,949.6 345.4,950.2 346.0,951.0 346.4,952.2Z" fill="none" stroke="#d8d8d8" stroke-width="1.0"/></g>
<g><path d="M384.2,969.2 384.0,970.2 383.5,971.2 382.7,972.2 381.5,973.0 379.9,973.8 378.0,974.4 375.7,974.8 372.7,975.1 367.5,975.2 362.3,975.1 359.3,974.8 357.0,974.4 355.1,973.8 353.5,973.0 352.3,972.2 351.5,971.2 351.0,970.2 350.8,969.2 351.0,968.2 351.5,967.2 352.3,966.2 353.5,965.4 355.1,964.6 357.0,964.0 359.3,963.6 362.3,963.3 367.5,963.2 372.7,963.3 375.7,963.6 378.0,964.0 379.9,964.6 381.5,965.4 382.7,966.2 383.5,967.2 384.0,968.2Z" fill="#3b4ba6"/><ellipse cx="367.5" cy="969.2" rx="11.5" ry="2.5" fill="none" stroke="#fff" stroke-width="0.8" opacity="0.85"/><ellipse cx="367.5" cy="969.2" rx="7.7" ry="1.6" fill="none" stroke="#fff" stroke-width="0.8" opacity="0.85"/><ellipse cx="367.5" cy="969.2" rx="3.8" ry="0.8" fill="none" stroke="#fff" stroke-width="0.8" opacity="0.85"/></g>
<g><path d="M391.7,930.8 391.6,931.9 391.3,933.0 390.7,933.8 389.9,934.4 388.3,934.6 386.7,934.4 385.9,933.8 385.3,933.0 385.0,931.9 384.9,930.8 385.0,929.6 385.3,928.5 385.9,927.7 386.7,927.1 388.3,926.9 389.9,927.1 390.7,927.7 391.3,928.5 391.6,929.6Z" fill="#d8d8d8"/><ellipse cx="388.3" cy="930.8" rx="1.6" ry="1.1" fill="none" stroke="#fff" stroke-width="0.8" opacity="0.85"/></g>
<g><path d="M378.1,1081.6 377.8,1083.2 377.0,1084.7 375.7,1086.1 373.9,1087.4 371.5,1088.5 368.5,1089.4 364.9,1090.0 360.3,1090.4 352.2,1090.6 344.1,1090.4 339.5,1090.0 335.9,1089.4 332.9,1088.5 330.5,1087.4 328.7,1086.1 327.4,1084.7 326.6,1083.2 326.3,1081.6 326.6,1080.0 327.4,1078.5 328.7,1077.1 330.5,1075.8 332.9,1074.7 335.9,1073.8 339.5,1073.2 344.1,1072.8 352.2,1072.6 360.3,1072.8 364.9,1073.2 368.5,1073.8 371.5,1074.7 373.9,1075.8 375.7,1077.1 377.0,1078.5 377.8,1080.0Z" fill="#d8d8d8"/><ellipse cx="352.2" cy="1081.6" rx="17.9" ry="3.7" fill="none" stroke="#fff" stroke-width="0.8" opacity="0.85"/><ellipse cx="352.2" cy="1081.6" rx="11.9" ry="2.5" fill="none" stroke="#fff" stroke-width="0.8" opacity="0.85"/><ellipse cx="352.2" cy="1081.6" rx="6.0" ry="1.2" fill="none" stroke="#fff" stroke-width="0.8" opacity="0.85"/></g>
<g><path d="M287.8,1067.9 287.7,1069.0 287.4,1070.0 287.0,1070.7 286.4,1071.2 285.6,1071.4 284.9,1071.2 284.3,1070.7 283.9,1070.0 283.6,1069.0 283.5,1067.9 283.6,1066.8 283.9,1065.8 284.3,1065.1 284.9,1064.6 285.6,1064.4 286.4,1064.6 287.0,1065.1 287.4,1065.8 287.7,1066.8Z" fill="none" stroke="#d8d8d8" stroke-width="1.0"/></g>
<g><path d="M154.0,1094.4 153.8,1096.1 153.2,1097.7 152.2,1099.2 150.8,1100.6 149.0,1101.8 146.8,1102.8 144.1,1103.5 140.6,1103.9 134.6,1104.1 128.5,1103.9 125.0,1103.5 122.3,1102.8 120.1,1101.8 118.3,1100.6 116.9,1099.2 115.9,1097.7 115.3,1096.1 115.1,1094.4 115.3,1092.7 115.9,1091.1 116.9,1089.6 118.3,1088.2 120.1,1087.0 122.3,1086.0 125.0,1085.3 128.5,1084.9 134.5,1084.7 140.6,1084.9 144.1,1085.3 146.8,1086.0 149.0,1087.0 150.8,1088.2 152.2,1089.6 153.2,1091.1 153.8,1092.7Z" fill="#a93439"/><ellipse cx="134.6" cy="1094.4" rx="13.4" ry="4.0" fill="none" stroke="#fff" stroke-width="0.8" opacity="0.85"/><ellipse cx="134.6" cy="1094.4" rx="8.9" ry="2.7" fill="none" stroke="#fff" stroke-width="0.8" opacity="0.85"/><ellipse cx="134.6" cy="1094.4" rx="4.5" ry="1.3" fill="none" stroke="#fff" stroke-width="0.8" opacity="0.85"/></g>
<g><path d="M90.3,1098.0 90.2,1098.8 89.8,1099.6 89.2,1100.2 88.3,1100.8 87.3,1101.3 86.0,1101.7 84.6,1101.9 83.0,1102.0 81.3,1101.9 79.9,1101.7 78.6,1101.3 77.6,1100.8 76.7,1100.2 76.1,1099.6 75.7,1098.8 75.6,1098.0 75.7,1097.3 76.1,1096.5 76.7,1095.9 77.6,1095.3 78.6,1094.8 79.9,1094.4 81.3,1094.2 82.9,1094.1 84.6,1094.2 86.0,1094.4 87.3,1094.8 88.3,1095.3 89.2,1095.9 89.8,1096.5 90.2,1097.3Z" fill="none" stroke="#3a3a3a" stroke-width="1.1"/><path d="M86.6,1098.0 86.5,1098.7 86.0,1099.2 85.2,1099.6 84.2,1099.9 82.9,1100.0 81.7,1099.9 80.7,1099.6 79.9,1099.2 79.4,1098.7 79.3,1098.0 79.4,1097.4 79.9,1096.9 80.7,1096.5 81.7,1096.2 82.9,1096.1 84.2,1096.2 85.2,1096.5 86.0,1096.9 86.5,1097.4Z" fill="none" stroke="#3a3a3a" stroke-width="1.1"/></g>
<g><path d="M98.5,1145.4 98.4,1146.5 98.2,1147.5 97.9,1148.5 97.4,1149.4 96.7,1150.1 95.9,1150.7 94.9,1151.2 93.7,1151.5 91.5,1151.6 89.3,1151.5 88.1,1151.2 87.1,1150.7 86.3,1150.1 85.6,1149.4 85.1,1148.5 84.8,1147.5 84.6,1146.5 84.5,1145.4 84.6,1144.3 84.8,1143.3 85.1,1142.3 85.6,1141.4 86.3,1140.7 87.1,1140.1 88.1,1139.6 89.3,1139.3 91.5,1139.2 93.7,1139.3 94.9,1139.6 95.9,1140.1 96.7,1140.7 97.4,1141.4 97.9,1142.3 98.2,1143.3 98.4,1144.3Z" fill="#74b9ab"/><ellipse cx="91.5" cy="1145.4" rx="3.2" ry="1.7" fill="none" stroke="#fff" stroke-width="0.8" opacity="0.85"/></g>
<g><path d="M131.1,1144.5 130.9,1145.9 130.3,1147.1 129.3,1148.3 127.9,1149.4 126.0,1150.3 123.8,1151.1 121.0,1151.6 117.5,1152.0 111.3,1152.1 105.1,1152.0 101.6,1151.6 98.8,1151.1 96.6,1150.3 94.7,1149.4 93.3,1148.3 92.3,1147.1 91.7,1145.9 91.5,1144.5 91.7,1143.2 92.3,1142.0 93.3,1140.8 94.7,1139.7 96.6,1138.8 98.8,1138.0 101.6,1137.5 105.1,1137.1 111.3,1137.0 117.5,1137.1 121.0,1137.5 123.8,1138.0 126.0,1138.8 127.9,1139.7 129.3,1140.8 130.3,1142.0 130.9,1143.2Z" fill="#53648f"/><ellipse cx="111.3" cy="1144.5" rx="13.7" ry="3.1" fill="none" stroke="#fff" stroke-width="0.8" opacity="0.85"/><ellipse cx="111.3" cy="1144.5" rx="9.1" ry="2.1" fill="none" stroke="#fff" stroke-width="0.8" opacity="0.85"/><ellipse cx="111.3" cy="1144.5" rx="4.6" ry="1.0" fill="none" stroke="#fff" stroke-width="0.8" opacity="0.85"/></g>
<g transform="rotate(-6 126.6 1172.4)"><path d="M158.4,1172.4 158.1,1173.9 157.1,1175.4 155.5,1176.8 153.2,1178.1 150.3,1179.1 146.6,1180.0 142.1,1180.7 136.5,1181.1 126.6,1181.2 116.6,1181.1 111.0,1180.7 106.5,1180.0 102.8,1179.1 99.9,1178.1 97.6,1176.8 96.0,1175.4 95.0,1173.9 94.7,1172.4 95.0,1170.9 96.0,1169.4 97.6,1168.0 99.9,1166.7 102.8,1165.7 106.5,1164.8 111.0,1164.1 116.6,1163.7 126.5,1163.6 136.5,1163.7 142.1,1164.1 146.6,1164.8 150.3,1165.7 153.2,1166.7 155.5,1168.0 157.1,1169.4 158.1,1170.9Z" fill="#53648f"/><ellipse cx="126.6" cy="1172.4" rx="22.0" ry="3.6" fill="none" stroke="#fff" stroke-width="0.8" opacity="0.85"/><ellipse cx="126.6" cy="1172.4" rx="14.7" ry="2.4" fill="none" stroke="#fff" stroke-width="0.8" opacity="0.85"/><ellipse cx="126.6" cy="1172.4" rx="7.3" ry="1.2" fill="none" stroke="#fff" stroke-width="0.8" opacity="0.85"/></g>
<g><path d="M176.5,1165.8 176.2,1167.1 175.4,1168.3 174.0,1169.3 172.2,1169.9 170.0,1170.1 167.8,1169.9 166.0,1169.3 164.6,1168.3 163.8,1167.1 163.5,1165.8 163.8,1164.4 164.6,1163.2 166.0,1162.2 167.8,1161.6 170.0,1161.4 172.2,1161.6 174.0,1162.2 175.4,1163.2 176.2,1164.4Z" fill="none" stroke="#e65a20" stroke-width="1.3"/><path d="M173.2,1165.8 173.1,1166.4 172.7,1167.0 172.0,1167.5 171.1,1167.8 170.0,1167.9 168.9,1167.8 168.0,1167.5 167.3,1167.0 166.9,1166.4 166.8,1165.8 166.9,1165.1 167.3,1164.5 168.0,1164.0 168.9,1163.7 170.0,1163.6 171.1,1163.7 172.0,1164.0 172.7,1164.5 173.1,1165.1Z" fill="none" stroke="#e65a20" stroke-width="1.3"/></g>
<g><path d="M143.0,1203.2 142.8,1204.4 142.4,1205.5 141.6,1206.6 140.5,1207.6 139.0,1208.5 137.2,1209.1 135.0,1209.7 132.2,1210.0 127.4,1210.1 122.5,1210.0 119.7,1209.7 117.5,1209.1 115.7,1208.5 114.2,1207.6 113.1,1206.6 112.3,1205.5 111.9,1204.4 111.7,1203.2 111.9,1202.0 112.3,1200.9 113.1,1199.8 114.2,1198.8 115.7,1197.9 117.5,1197.3 119.7,1196.7 122.5,1196.4 127.3,1196.3 132.2,1196.4 135.0,1196.7 137.2,1197.3 139.0,1197.9 140.5,1198.8 141.6,1199.8 142.4,1200.9 142.8,1202.0Z" fill="#53648f"/><ellipse cx="127.3" cy="1203.2" rx="10.8" ry="2.8" fill="none" stroke="#fff" stroke-width="0.8" opacity="0.85"/><ellipse cx="127.3" cy="1203.2" rx="7.2" ry="1.9" fill="none" stroke="#fff" stroke-width="0.8" opacity="0.85"/><ellipse cx="127.3" cy="1203.2" rx="3.6" ry="0.9" fill="none" stroke="#fff" stroke-width="0.8" opacity="0.85"/></g>
<g><path d="M113.1,1232.2 112.8,1233.6 112.0,1234.9 110.5,1236.2 108.6,1237.4 106.0,1238.4 102.8,1239.2 98.8,1239.8 93.8,1240.2 85.2,1240.3 76.5,1240.2 71.5,1239.8 67.5,1239.2 64.3,1238.4 61.7,1237.4 59.8,1236.2 58.3,1234.9 57.5,1233.6 57.2,1232.2 57.5,1230.7 58.3,1229.4 59.8,1228.1 61.7,1226.9 64.3,1225.9 67.5,1225.1 71.5,1224.5 76.5,1224.1 85.1,1224.0 93.8,1224.1 98.8,1224.5 102.8,1225.1 106.0,1225.9 108.6,1226.9 110.5,1228.1 112.0,1229.4 112.8,1230.7Z" fill="#d8d8d8"/><ellipse cx="85.2" cy="1232.2" rx="19.3" ry="3.4" fill="none" stroke="#fff" stroke-width="0.8" opacity="0.85"/><ellipse cx="85.2" cy="1232.2" rx="12.9" ry="2.2" fill="none" stroke="#fff" stroke-width="0.8" opacity="0.85"/><ellipse cx="85.2" cy="1232.2" rx="6.4" ry="1.1" fill="none" stroke="#fff" stroke-width="0.8" opacity="0.85"/></g>
<g transform="rotate(-6 71.8 1277.4)"><path d="M88.5,1277.4 88.3,1278.2 87.8,1278.9 87.0,1279.6 85.8,1280.2 84.3,1280.8 82.3,1281.2 80.0,1281.5 77.0,1281.7 71.9,1281.8 66.7,1281.7 63.7,1281.5 61.4,1281.2 59.4,1280.8 57.9,1280.2 56.7,1279.6 55.9,1278.9 55.4,1278.2 55.2,1277.4 55.4,1276.6 55.9,1275.9 56.7,1275.2 57.9,1274.6 59.4,1274.0 61.4,1273.6 63.7,1273.3 66.7,1273.1 71.8,1273.0 77.0,1273.1 80.0,1273.3 82.3,1273.6 84.3,1274.0 85.8,1274.6 87.0,1275.2 87.8,1275.9 88.3,1276.6Z" fill="#e65a20"/><ellipse cx="71.8" cy="1277.4" rx="11.5" ry="1.8" fill="none" stroke="#fff" stroke-width="0.8" opacity="0.85"/><ellipse cx="71.8" cy="1277.4" rx="7.7" ry="1.2" fill="none" stroke="#fff" stroke-width="0.8" opacity="0.85"/><ellipse cx="71.8" cy="1277.4" rx="3.8" ry="0.6" fill="none" stroke="#fff" stroke-width="0.8" opacity="0.85"/></g>
<g><path d="M56.2,1319.4 56.1,1320.3 55.7,1321.2 55.1,1322.0 54.2,1322.8 53.0,1323.4 51.6,1324.0 49.8,1324.4 47.6,1324.6 43.8,1324.7 39.9,1324.6 37.7,1324.4 35.9,1324.0 34.5,1323.4 33.3,1322.8 32.4,1322.0 31.8,1321.2 31.4,1320.3 31.3,1319.4 31.4,1318.5 31.8,1317.6 32.4,1316.8 33.3,1316.0 34.5,1315.4 35.9,1314.8 37.7,1314.4 39.9,1314.2 43.7,1314.1 47.6,1314.2 49.8,1314.4 51.6,1314.8 53.0,1315.4 54.2,1316.0 55.1,1316.8 55.7,1317.6 56.1,1318.5Z" fill="#d8d8d8"/><ellipse cx="43.8" cy="1319.4" rx="8.6" ry="2.2" fill="none" stroke="#fff" stroke-width="0.8" opacity="0.85"/><ellipse cx="43.8" cy="1319.4" rx="5.7" ry="1.5" fill="none" stroke="#fff" stroke-width="0.8" opacity="0.85"/><ellipse cx="43.8" cy="1319.4" rx="2.9" ry="0.7" fill="none" stroke="#fff" stroke-width="0.8" opacity="0.85"/></g>
<g><path d="M67.5,1383.0 67.4,1383.5 67.1,1384.0 66.6,1384.4 66.0,1384.6 65.2,1384.7 64.5,1384.6 63.9,1384.4 63.4,1384.0 63.1,1383.5 63.0,1383.0 63.1,1382.5 63.4,1382.0 63.9,1381.6 64.5,1381.4 65.2,1381.3 66.0,1381.4 66.6,1381.6 67.1,1382.0 67.4,1382.5Z" fill="none" stroke="#e65a20" stroke-width="1.0"/></g>
<text x="242.5" y="878.2" font-size="24" fill="#3b4ba6">A<tspan font-size="16" dy="7">α</tspan></text>
<text x="297.0" y="950.4" font-size="24" fill="#3b4ba6">A<tspan font-size="15" dy="8">β-G</tspan></text>
<text x="377.4" y="1003.2" font-size="24" fill="#3b4ba6">A<tspan font-size="15" dy="8">β-S</tspan></text>
<rect x="285.6" y="1352.1" width="111.7" height="66.5" fill="#f6f6d6" stroke="#222" stroke-width="1.2"/>
<rect x="397.3" y="1287.8" width="153.2" height="130.8" fill="#f6f6d6" stroke="#222" stroke-width="1.2"/>
<text x="410.7" y="1317.1" font-size="21.5" fill="#a93439" textLength="100.2" lengthAdjust="spacingAndGlyphs">S: 39.87%</text>
<text x="410.7" y="1346.6" font-size="21.5" fill="#53648f" textLength="95.0" lengthAdjust="spacingAndGlyphs">G: 60.8%</text>
<text x="410.7" y="1377.6" font-size="21.5" textLength="100.8" lengthAdjust="spacingAndGlyphs"><tspan fill="#a93439">S</tspan><tspan fill="#000">/</tspan><tspan fill="#53648f">G:</tspan><tspan fill="#000"> 0.64</tspan></text>
<text x="410.7" y="1407.4" font-size="21.5" fill="#e65a20" textLength="104.3" lengthAdjust="spacingAndGlyphs"><tspan font-style="italic">p</tspan>CA: 2.7%</text>
<text x="296.1" y="1377.6" font-size="21.5" fill="#3b4ba6" textLength="89.0" lengthAdjust="spacingAndGlyphs">A: 29.1%</text>
<text x="296.1" y="1407.4" font-size="21.5" fill="#5cba48" textLength="74.2" lengthAdjust="spacingAndGlyphs">B: 4.3%</text>
<text x="856.2" y="745.4" font-size="22" fill="#e3922a" textLength="96.8" lengthAdjust="spacingAndGlyphs">Methoxyl</text>
<g><path d="M1062.5,749.4 1062.3,750.6 1061.9,751.8 1061.2,752.6 1060.2,753.2 1059.0,753.4 1057.8,753.2 1056.8,752.6 1056.1,751.8 1055.7,750.6 1055.5,749.4 1055.7,748.2 1056.1,747.0 1056.8,746.2 1057.8,745.6 1059.0,745.4 1060.2,745.6 1061.2,746.2 1061.9,747.0 1062.3,748.2Z" fill="none" stroke="#d8d8d8" stroke-width="1.0"/><path d="M1060.8,749.4 1060.7,750.0 1060.4,750.6 1060.1,751.0 1059.6,751.3 1059.0,751.4 1058.4,751.3 1057.9,751.0 1057.6,750.6 1057.3,750.0 1057.2,749.4 1057.3,748.8 1057.6,748.2 1057.9,747.8 1058.4,747.5 1059.0,747.4 1059.6,747.5 1060.1,747.8 1060.4,748.2 1060.7,748.8Z" fill="none" stroke="#d8d8d8" stroke-width="1.0"/></g>
<g><path d="M1053.8,751.1 1053.2,752.7 1051.2,754.2 1048.0,755.7 1043.4,756.9 1037.5,758.1 1030.2,759.0 1021.2,759.6 1009.8,760.0 989.9,760.2 970.0,760.0 958.6,759.6 949.6,759.0 942.3,758.1 936.4,756.9 931.8,755.7 928.6,754.2 926.6,752.7 926.0,751.1 926.6,749.6 928.6,748.1 931.8,746.6 936.4,745.4 942.3,744.2 949.6,743.3 958.6,742.7 970.0,742.3 989.9,742.1 1009.8,742.3 1021.2,742.7 1030.2,743.3 1037.5,744.2 1043.4,745.4 1048.0,746.6 1051.2,748.1 1053.2,749.6Z" fill="#e3922a"/><ellipse cx="989.9" cy="751.1" rx="44.1" ry="3.7" fill="none" stroke="#fff" stroke-width="0.8" opacity="0.85"/><ellipse cx="989.9" cy="751.1" rx="29.4" ry="2.5" fill="none" stroke="#fff" stroke-width="0.8" opacity="0.85"/><ellipse cx="989.9" cy="751.1" rx="14.7" ry="1.2" fill="none" stroke="#fff" stroke-width="0.8" opacity="0.85"/></g>
<g><path d="M1052.1,804.8 1051.9,805.9 1051.2,807.1 1050.1,808.1 1048.5,809.1 1046.4,809.9 1043.8,810.6 1040.7,811.1 1036.7,811.4 1029.8,811.5 1022.9,811.4 1018.9,811.1 1015.8,810.6 1013.2,809.9 1011.1,809.1 1009.5,808.1 1008.4,807.1 1007.7,805.9 1007.5,804.8 1007.7,803.6 1008.4,802.4 1009.5,801.4 1011.1,800.4 1013.2,799.6 1015.8,798.9 1018.9,798.4 1022.9,798.1 1029.8,798.0 1036.7,798.1 1040.7,798.4 1043.8,798.9 1046.4,799.6 1048.5,800.4 1050.1,801.4 1051.2,802.4 1051.9,803.6Z" fill="#d8d8d8"/><ellipse cx="1029.8" cy="804.8" rx="15.4" ry="2.8" fill="none" stroke="#fff" stroke-width="0.8" opacity="0.85"/><ellipse cx="1029.8" cy="804.8" rx="10.3" ry="1.9" fill="none" stroke="#fff" stroke-width="0.8" opacity="0.85"/><ellipse cx="1029.8" cy="804.8" rx="5.1" ry="0.9" fill="none" stroke="#fff" stroke-width="0.8" opacity="0.85"/></g>
<g><path d="M1036.7,781.8 1036.2,784.0 1034.5,786.1 1031.8,788.0 1028.0,789.7 1023.0,791.0 1016.9,792.0 1009.3,792.6 999.8,792.8 983.1,792.3 966.4,791.5 956.9,790.7 949.3,789.7 943.2,788.6 938.2,787.4 934.4,786.1 931.7,784.7 930.0,783.3 929.5,781.8 930.0,780.3 931.7,778.9 934.4,777.5 938.2,776.2 943.2,775.0 949.3,773.9 956.9,772.9 966.4,772.1 983.1,771.3 999.8,770.8 1009.3,771.0 1016.9,771.6 1023.0,772.6 1028.0,773.9 1031.8,775.6 1034.5,777.5 1036.2,779.6Z" fill="#3b4ba6"/><ellipse cx="983.1" cy="781.8" rx="37.0" ry="4.3" fill="none" stroke="#fff" stroke-width="0.8" opacity="0.85"/><ellipse cx="983.1" cy="781.8" rx="24.7" ry="2.9" fill="none" stroke="#fff" stroke-width="0.8" opacity="0.85"/><ellipse cx="983.1" cy="781.8" rx="12.3" ry="1.4" fill="none" stroke="#fff" stroke-width="0.8" opacity="0.85"/></g>
<g><path d="M989.0,805.5 988.6,807.4 987.6,809.1 985.8,810.8 983.3,812.3 980.1,813.5 976.1,814.6 971.2,815.3 965.0,815.8 954.1,816.0 943.2,815.8 937.0,815.3 932.1,814.6 928.1,813.5 924.9,812.3 922.4,810.8 920.6,809.1 919.6,807.4 919.2,805.5 919.6,803.7 920.6,802.0 922.4,800.3 924.9,798.8 928.1,797.6 932.1,796.5 937.0,795.8 943.2,795.3 954.1,795.1 965.0,795.3 971.2,795.8 976.1,796.5 980.1,797.6 983.3,798.8 985.8,800.3 987.6,802.0 988.6,803.7Z" fill="#3b4ba6"/><ellipse cx="954.1" cy="805.5" rx="24.1" ry="4.3" fill="none" stroke="#fff" stroke-width="0.8" opacity="0.85"/><ellipse cx="954.1" cy="805.5" rx="16.1" ry="2.9" fill="none" stroke="#fff" stroke-width="0.8" opacity="0.85"/><ellipse cx="954.1" cy="805.5" rx="8.0" ry="1.4" fill="none" stroke="#fff" stroke-width="0.8" opacity="0.85"/></g>
<g><path d="M924.3,804.8 924.2,807.0 923.7,809.0 923.0,811.0 922.0,812.6 920.8,814.0 919.3,815.1 917.7,815.7 915.8,815.9 913.9,815.7 912.3,815.1 910.8,814.0 909.6,812.6 908.6,811.0 907.9,809.0 907.4,807.0 907.3,804.8 907.4,802.6 907.9,800.6 908.6,798.6 909.6,797.0 910.8,795.6 912.3,794.5 913.9,793.9 915.8,793.7 917.7,793.9 919.3,794.5 920.8,795.6 922.0,797.0 923.0,798.6 923.7,800.6 924.2,802.6Z" fill="none" stroke="#4ec4d0" stroke-width="1.3"/><path d="M922.2,804.8 922.1,806.4 921.7,808.0 921.2,809.4 920.5,810.7 919.5,811.7 918.5,812.5 917.2,813.0 915.8,813.1 914.4,813.0 913.1,812.5 912.1,811.7 911.1,810.7 910.4,809.4 909.9,808.0 909.5,806.4 909.4,804.8 909.5,803.2 909.9,801.6 910.4,800.2 911.1,798.9 912.1,797.9 913.1,797.1 914.4,796.6 915.8,796.5 917.2,796.6 918.5,797.1 919.5,797.9 920.5,798.9 921.2,800.2 921.7,801.6 922.1,803.2Z" fill="none" stroke="#4ec4d0" stroke-width="1.3"/><path d="M920.0,804.8 919.9,806.5 919.3,808.1 918.4,809.3 917.3,810.1 915.8,810.3 914.3,810.1 913.2,809.3 912.3,808.1 911.7,806.5 911.5,804.8 911.7,803.1 912.3,801.5 913.2,800.3 914.3,799.5 915.8,799.2 917.3,799.5 918.4,800.3 919.3,801.5 919.9,803.1Z" fill="none" stroke="#4ec4d0" stroke-width="1.3"/><path d="M917.9,804.8 917.8,805.7 917.6,806.4 917.1,807.0 916.5,807.4 915.8,807.6 915.1,807.4 914.5,807.0 914.0,806.4 913.8,805.7 913.7,804.8 913.8,803.9 914.0,803.2 914.5,802.6 915.1,802.2 915.8,802.0 916.5,802.2 917.1,802.6 917.6,803.2 917.8,803.9Z" fill="none" stroke="#4ec4d0" stroke-width="1.3"/></g>
<g><path d="M1011.2,810.6 1011.1,811.5 1010.9,812.2 1010.5,813.0 1010.0,813.6 1009.3,814.2 1008.3,814.7 1007.0,815.0 1005.2,815.2 999.3,815.3 993.3,815.2 991.5,815.0 990.2,814.7 989.2,814.2 988.5,813.6 988.0,813.0 987.6,812.2 987.4,811.5 987.3,810.6 987.4,809.8 987.6,809.1 988.0,808.3 988.5,807.7 989.2,807.1 990.2,806.6 991.5,806.3 993.3,806.1 999.2,806.0 1005.2,806.1 1007.0,806.3 1008.3,806.6 1009.3,807.1 1010.0,807.7 1010.5,808.3 1010.9,809.1 1011.1,809.8Z" fill="#5cba48"/></g>
<g><path d="M1064.0,783.5 1063.9,784.6 1063.6,785.5 1063.0,786.3 1062.3,786.7 1061.5,786.9 1060.6,786.7 1059.9,786.3 1059.3,785.5 1059.0,784.6 1058.9,783.5 1059.0,782.4 1059.3,781.5 1059.9,780.7 1060.6,780.3 1061.5,780.1 1062.3,780.3 1063.0,780.7 1063.6,781.5 1063.9,782.4Z" fill="none" stroke="#d8d8d8" stroke-width="1.0"/></g>
<g><path d="M972.5,822.4 972.4,823.3 972.0,824.2 971.4,824.8 970.5,825.3 969.5,825.4 968.5,825.3 967.6,824.8 967.0,824.2 966.6,823.3 966.5,822.4 966.6,821.5 967.0,820.6 967.6,820.0 968.5,819.5 969.5,819.4 970.5,819.5 971.4,820.0 972.0,820.6 972.4,821.5Z" fill="none" stroke="#d8d8d8" stroke-width="1.0"/></g>
<g><path d="M952.5,822.9 952.4,824.6 952.1,826.1 951.5,827.3 950.9,828.1 950.0,828.4 949.1,828.1 948.5,827.3 947.9,826.1 947.6,824.6 947.5,822.9 947.6,821.2 947.9,819.7 948.5,818.5 949.1,817.7 950.0,817.4 950.9,817.7 951.5,818.5 952.1,819.7 952.4,821.2Z" fill="none" stroke="#3b4ba6" stroke-width="1.0"/></g>
<g><path d="M1037.5,860.8 1037.1,863.4 1036.0,866.1 1034.1,868.5 1031.4,870.7 1027.9,872.6 1023.6,874.2 1018.3,875.3 1011.7,876.0 1000.0,876.3 988.3,876.0 981.7,875.3 976.4,874.2 972.1,872.6 968.6,870.7 965.9,868.5 964.0,866.1 962.9,863.4 962.5,860.8 962.9,858.1 964.0,855.4 965.9,853.0 968.6,850.8 972.1,848.9 976.4,847.3 981.7,846.2 988.3,845.5 1000.0,845.2 1011.7,845.5 1018.3,846.2 1023.6,847.3 1027.9,848.9 1031.4,850.8 1034.1,853.0 1036.0,855.4 1037.1,858.1Z" fill="#d8d8d8"/><ellipse cx="1000.0" cy="860.8" rx="25.9" ry="6.4" fill="none" stroke="#fff" stroke-width="0.8" opacity="0.85"/><ellipse cx="1000.0" cy="860.8" rx="17.2" ry="4.3" fill="none" stroke="#fff" stroke-width="0.8" opacity="0.85"/><ellipse cx="1000.0" cy="860.8" rx="8.6" ry="2.1" fill="none" stroke="#fff" stroke-width="0.8" opacity="0.85"/></g>
<g transform="rotate(-4 1006.9 888.4)"><path d="M1065.5,888.4 1064.9,891.8 1063.1,895.0 1060.1,898.1 1056.0,900.8 1050.5,903.2 1043.8,905.2 1035.5,906.6 1025.1,907.5 1006.9,907.8 988.6,907.5 978.2,906.6 969.9,905.2 963.2,903.2 957.7,900.8 953.6,898.1 950.6,895.0 948.8,891.8 948.2,888.4 948.8,885.0 950.6,881.8 953.6,878.7 957.7,876.0 963.2,873.6 969.9,871.6 978.2,870.2 988.6,869.3 1006.8,869.0 1025.1,869.3 1035.5,870.2 1043.8,871.6 1050.5,873.6 1056.0,876.0 1060.1,878.7 1063.1,881.8 1064.9,885.0Z" fill="#d8d8d8"/><ellipse cx="1006.9" cy="888.4" rx="40.5" ry="8.0" fill="none" stroke="#fff" stroke-width="0.8" opacity="0.85"/><ellipse cx="1006.9" cy="888.4" rx="27.0" ry="5.3" fill="none" stroke="#fff" stroke-width="0.8" opacity="0.85"/><ellipse cx="1006.9" cy="888.4" rx="13.5" ry="2.7" fill="none" stroke="#fff" stroke-width="0.8" opacity="0.85"/></g>
<g transform="rotate(-30 954.0 857.4)"><path d="M968.5,857.4 968.2,859.2 967.5,860.8 966.3,862.4 964.6,863.8 962.5,864.9 960.1,865.7 957.3,866.2 954.0,866.4 950.7,866.2 947.9,865.7 945.5,864.9 943.4,863.8 941.7,862.4 940.5,860.8 939.8,859.2 939.5,857.4 939.8,855.6 940.5,854.0 941.7,852.4 943.4,851.0 945.5,849.9 947.9,849.1 950.7,848.6 954.0,848.4 957.3,848.6 960.1,849.1 962.5,849.9 964.6,851.0 966.3,852.4 967.5,854.0 968.2,855.6Z" fill="none" stroke="#4a5638" stroke-width="1.3"/><path d="M964.9,857.4 964.7,858.7 964.1,860.0 963.2,861.2 961.9,862.2 960.4,863.0 958.5,863.6 956.5,864.0 954.0,864.1 951.5,864.0 949.5,863.6 947.6,863.0 946.1,862.2 944.8,861.2 943.9,860.0 943.3,858.7 943.1,857.4 943.3,856.1 943.9,854.8 944.8,853.6 946.1,852.6 947.6,851.8 949.5,851.2 951.5,850.8 954.0,850.6 956.5,850.8 958.5,851.2 960.4,851.8 961.9,852.6 963.2,853.6 964.1,854.8 964.7,856.1Z" fill="none" stroke="#4a5638" stroke-width="1.3"/><path d="M961.2,857.4 961.1,858.3 960.7,859.1 960.1,859.9 959.3,860.6 958.2,861.1 957.0,861.6 955.6,861.8 954.0,861.9 952.4,861.8 951.0,861.6 949.8,861.1 948.7,860.6 947.9,859.9 947.3,859.1 946.9,858.3 946.8,857.4 946.9,856.5 947.3,855.7 947.9,854.9 948.7,854.2 949.8,853.7 951.0,853.2 952.4,853.0 954.0,852.9 955.6,853.0 957.0,853.2 958.2,853.7 959.3,854.2 960.1,854.9 960.7,855.7 961.1,856.5Z" fill="none" stroke="#4a5638" stroke-width="1.3"/><path d="M957.6,857.4 957.5,858.1 957.0,858.7 956.2,859.2 955.2,859.5 954.0,859.6 952.8,859.5 951.8,859.2 951.0,858.7 950.5,858.1 950.4,857.4 950.5,856.7 951.0,856.1 951.8,855.6 952.8,855.3 954.0,855.1 955.2,855.3 956.2,855.6 957.0,856.1 957.5,856.7Z" fill="none" stroke="#4a5638" stroke-width="1.3"/></g>
<g><path d="M929.5,862.4 929.4,863.6 929.1,864.8 928.5,865.6 927.9,866.2 927.0,866.4 926.1,866.2 925.5,865.6 924.9,864.8 924.6,863.6 924.5,862.4 924.6,861.2 924.9,860.0 925.5,859.2 926.1,858.6 927.0,858.4 927.9,858.6 928.5,859.2 929.1,860.0 929.4,861.2Z" fill="none" stroke="#d8d8d8" stroke-width="1.0"/></g>
<g><path d="M882.5,867.8 882.3,869.0 881.6,870.1 880.5,871.1 878.9,872.1 876.8,872.9 874.3,873.6 871.2,874.1 867.2,874.4 860.4,874.5 853.5,874.4 849.5,874.1 846.4,873.6 843.9,872.9 841.8,872.1 840.2,871.1 839.1,870.1 838.4,869.0 838.2,867.8 838.4,866.6 839.1,865.5 840.2,864.5 841.8,863.5 843.9,862.7 846.4,862.0 849.5,861.5 853.5,861.2 860.3,861.1 867.2,861.2 871.2,861.5 874.3,862.0 876.8,862.7 878.9,863.5 880.5,864.5 881.6,865.5 882.3,866.6Z" fill="#3b4ba6"/><ellipse cx="860.4" cy="867.8" rx="15.3" ry="2.8" fill="none" stroke="#fff" stroke-width="0.8" opacity="0.85"/><ellipse cx="860.4" cy="867.8" rx="10.2" ry="1.8" fill="none" stroke="#fff" stroke-width="0.8" opacity="0.85"/><ellipse cx="860.4" cy="867.8" rx="5.1" ry="0.9" fill="none" stroke="#fff" stroke-width="0.8" opacity="0.85"/></g>
<g><path d="M919.5,961.2 919.4,963.0 919.1,964.8 918.6,966.3 918.0,967.7 917.2,968.9 916.2,969.7 915.2,970.2 913.9,970.4 912.6,970.2 911.6,969.7 910.6,968.9 909.8,967.7 909.2,966.3 908.7,964.8 908.4,963.0 908.3,961.2 908.4,959.5 908.7,957.7 909.2,956.2 909.8,954.8 910.6,953.6 911.6,952.8 912.6,952.3 913.9,952.1 915.2,952.3 916.2,952.8 917.2,953.6 918.0,954.8 918.6,956.2 919.1,957.7 919.4,959.5Z" fill="none" stroke="#3b4ba6" stroke-width="1.2"/><path d="M916.7,961.2 916.6,962.7 916.2,963.9 915.6,965.0 914.9,965.6 913.9,965.8 912.9,965.6 912.2,965.0 911.6,963.9 911.2,962.7 911.1,961.2 911.2,959.8 911.6,958.6 912.2,957.5 912.9,956.9 913.9,956.7 914.9,956.9 915.6,957.5 916.2,958.6 916.6,959.8Z" fill="none" stroke="#3b4ba6" stroke-width="1.2"/></g>
<g><path d="M941.4,965.9 941.3,966.9 940.8,967.9 940.1,968.8 939.0,969.6 937.7,970.3 936.1,970.9 934.0,971.3 931.4,971.5 927.0,971.6 922.5,971.5 919.9,971.3 917.8,970.9 916.2,970.3 914.9,969.6 913.8,968.8 913.1,967.9 912.6,966.9 912.5,965.9 912.6,964.9 913.1,963.9 913.8,963.0 914.9,962.2 916.2,961.5 917.8,960.9 919.9,960.5 922.5,960.3 926.9,960.2 931.4,960.3 934.0,960.5 936.1,960.9 937.7,961.5 939.0,962.2 940.1,963.0 940.8,963.9 941.3,964.9Z" fill="#3b4ba6"/><ellipse cx="927.0" cy="965.9" rx="8.9" ry="2.1" fill="none" stroke="#fff" stroke-width="0.8" opacity="0.85"/><ellipse cx="927.0" cy="965.9" rx="4.4" ry="1.0" fill="none" stroke="#fff" stroke-width="0.8" opacity="0.85"/></g>
<g><path d="M955.0,1079.9 954.6,1081.2 953.5,1082.5 951.6,1083.6 948.9,1084.7 945.4,1085.6 941.1,1086.4 935.8,1086.9 929.2,1087.3 917.5,1087.4 905.8,1087.3 899.2,1086.9 893.9,1086.4 889.6,1085.6 886.1,1084.7 883.4,1083.6 881.5,1082.5 880.4,1081.2 880.0,1079.9 880.4,1078.6 881.5,1077.3 883.4,1076.2 886.1,1075.1 889.6,1074.2 893.9,1073.4 899.2,1072.9 905.8,1072.5 917.5,1072.4 929.2,1072.5 935.8,1072.9 941.1,1073.4 945.4,1074.2 948.9,1075.1 951.6,1076.2 953.5,1077.3 954.6,1078.6Z" fill="#d8d8d8"/><ellipse cx="917.5" cy="1079.9" rx="25.9" ry="3.1" fill="none" stroke="#fff" stroke-width="0.8" opacity="0.85"/><ellipse cx="917.5" cy="1079.9" rx="17.2" ry="2.1" fill="none" stroke="#fff" stroke-width="0.8" opacity="0.85"/><ellipse cx="917.5" cy="1079.9" rx="8.6" ry="1.0" fill="none" stroke="#fff" stroke-width="0.8" opacity="0.85"/></g>
<g><path d="M886.5,1064.9 886.4,1066.0 886.1,1067.0 885.5,1067.7 884.9,1068.2 884.0,1068.4 883.1,1068.2 882.5,1067.7 881.9,1067.0 881.6,1066.0 881.5,1064.9 881.6,1063.8 881.9,1062.8 882.5,1062.1 883.1,1061.6 884.0,1061.4 884.9,1061.6 885.5,1062.1 886.1,1062.8 886.4,1063.8Z" fill="none" stroke="#d8d8d8" stroke-width="1.0"/></g>
<g><path d="M902.5,1063.4 902.5,1064.3 902.3,1065.2 902.1,1065.8 901.7,1066.3 901.0,1066.4 900.3,1066.3 899.9,1065.8 899.7,1065.2 899.5,1064.3 899.5,1063.4 899.5,1062.5 899.7,1061.6 899.9,1061.0 900.3,1060.5 901.0,1060.4 901.7,1060.5 902.1,1061.0 902.3,1061.6 902.5,1062.5Z" fill="#d8d8d8"/></g>
<g><path d="M712.1,1095.9 711.9,1097.4 711.3,1098.8 710.4,1100.1 709.0,1101.3 707.2,1102.3 705.1,1103.1 702.4,1103.8 699.0,1104.1 693.1,1104.3 687.1,1104.1 683.7,1103.8 681.0,1103.1 678.9,1102.3 677.1,1101.3 675.7,1100.1 674.8,1098.8 674.2,1097.4 674.0,1095.9 674.2,1094.4 674.8,1093.0 675.7,1091.7 677.1,1090.5 678.9,1089.5 681.0,1088.7 683.7,1088.0 687.1,1087.7 693.0,1087.5 699.0,1087.7 702.4,1088.0 705.1,1088.7 707.2,1089.5 709.0,1090.5 710.4,1091.7 711.3,1093.0 711.9,1094.4Z" fill="#a93439"/><ellipse cx="693.0" cy="1095.9" rx="13.1" ry="3.4" fill="none" stroke="#fff" stroke-width="0.8" opacity="0.85"/><ellipse cx="693.0" cy="1095.9" rx="8.8" ry="2.3" fill="none" stroke="#fff" stroke-width="0.8" opacity="0.85"/><ellipse cx="693.0" cy="1095.9" rx="4.4" ry="1.1" fill="none" stroke="#fff" stroke-width="0.8" opacity="0.85"/></g>
<g><path d="M651.5,1097.9 651.4,1099.0 651.0,1100.0 650.5,1100.7 649.6,1101.2 648.0,1101.4 646.4,1101.2 645.5,1100.7 645.0,1100.0 644.6,1099.0 644.5,1097.9 644.6,1096.8 645.0,1095.8 645.5,1095.1 646.4,1094.6 648.0,1094.4 649.6,1094.6 650.5,1095.1 651.0,1095.8 651.4,1096.8Z" fill="#3a3a3a"/><ellipse cx="648.0" cy="1097.9" rx="1.6" ry="1.0" fill="none" stroke="#fff" stroke-width="0.8" opacity="0.85"/></g>
<g><path d="M672.3,1097.4 672.2,1098.3 671.8,1099.2 671.2,1099.8 670.4,1100.3 669.4,1100.4 668.4,1100.3 667.6,1099.8 667.0,1099.2 666.6,1098.3 666.5,1097.4 666.6,1096.5 667.0,1095.6 667.6,1095.0 668.4,1094.5 669.4,1094.4 670.4,1094.5 671.2,1095.0 671.8,1095.6 672.2,1096.5Z" fill="none" stroke="#a93439" stroke-width="1.0"/></g>
<g><path d="M722.5,1092.7 722.4,1093.4 722.1,1094.1 721.7,1094.7 721.1,1095.1 720.4,1095.2 719.7,1095.1 719.1,1094.7 718.7,1094.1 718.4,1093.4 718.3,1092.7 718.4,1091.9 718.7,1091.2 719.1,1090.6 719.7,1090.2 720.4,1090.1 721.1,1090.2 721.7,1090.6 722.1,1091.2 722.4,1091.9Z" fill="none" stroke="#d8d8d8" stroke-width="1.0"/></g>
<g><path d="M735.5,1093.9 735.4,1094.7 735.1,1095.4 734.7,1095.9 734.2,1096.3 733.5,1096.4 732.8,1096.3 732.3,1095.9 731.9,1095.4 731.6,1094.7 731.5,1093.9 731.6,1093.1 731.9,1092.4 732.3,1091.9 732.8,1091.5 733.5,1091.4 734.2,1091.5 734.7,1091.9 735.1,1092.4 735.4,1093.1Z" fill="none" stroke="#d8d8d8" stroke-width="1.0"/></g>
<g><path d="M659.5,1145.8 659.4,1147.0 659.1,1148.3 658.7,1149.4 658.0,1150.5 657.2,1151.4 656.2,1152.1 654.9,1152.7 653.3,1153.0 650.6,1153.1 647.8,1153.0 646.2,1152.7 644.9,1152.1 643.9,1151.4 643.1,1150.5 642.4,1149.4 642.0,1148.3 641.7,1147.0 641.6,1145.8 641.7,1144.5 642.0,1143.2 642.4,1142.1 643.1,1141.0 643.9,1140.1 644.9,1139.4 646.2,1138.8 647.8,1138.5 650.5,1138.4 653.3,1138.5 654.9,1138.8 656.2,1139.4 657.2,1140.1 658.0,1141.0 658.7,1142.1 659.1,1143.2 659.4,1144.5Z" fill="#74b9ab"/><ellipse cx="650.5" cy="1145.8" rx="4.1" ry="2.0" fill="none" stroke="#fff" stroke-width="0.8" opacity="0.85"/></g>
<g><path d="M694.5,1145.6 694.3,1146.9 693.7,1148.2 692.6,1149.3 691.2,1150.4 689.3,1151.3 686.9,1152.1 684.0,1152.6 680.4,1153.0 674.0,1153.1 667.6,1153.0 664.0,1152.6 661.1,1152.1 658.7,1151.3 656.8,1150.4 655.4,1149.3 654.3,1148.2 653.7,1146.9 653.5,1145.6 653.7,1144.3 654.3,1143.0 655.4,1141.9 656.8,1140.8 658.7,1139.9 661.1,1139.1 664.0,1138.6 667.6,1138.2 674.0,1138.1 680.4,1138.2 684.0,1138.6 686.9,1139.1 689.3,1139.9 691.2,1140.8 692.6,1141.9 693.7,1143.0 694.3,1144.3Z" fill="#53648f"/><ellipse cx="674.0" cy="1145.6" rx="14.1" ry="3.1" fill="none" stroke="#fff" stroke-width="0.8" opacity="0.85"/><ellipse cx="674.0" cy="1145.6" rx="9.4" ry="2.1" fill="none" stroke="#fff" stroke-width="0.8" opacity="0.85"/><ellipse cx="674.0" cy="1145.6" rx="4.7" ry="1.0" fill="none" stroke="#fff" stroke-width="0.8" opacity="0.85"/></g>
<g><path d="M704.0,1143.7 703.9,1145.0 703.5,1146.2 702.8,1147.2 702.0,1147.8 700.9,1148.0 699.8,1147.8 699.0,1147.2 698.3,1146.2 697.9,1145.0 697.8,1143.7 697.9,1142.4 698.3,1141.2 699.0,1140.2 699.8,1139.6 700.9,1139.4 702.0,1139.6 702.8,1140.2 703.5,1141.2 703.9,1142.4Z" fill="none" stroke="#d8d8d8" stroke-width="1.0"/></g>
<g transform="rotate(-20 727.2 1171.4)"><path d="M737.0,1171.4 736.9,1172.5 736.6,1173.5 736.1,1174.5 735.4,1175.4 734.5,1176.1 733.4,1176.7 732.0,1177.2 730.3,1177.5 727.3,1177.6 724.2,1177.5 722.5,1177.2 721.1,1176.7 720.0,1176.1 719.1,1175.4 718.4,1174.5 717.9,1173.5 717.6,1172.5 717.5,1171.4 717.6,1170.3 717.9,1169.3 718.4,1168.3 719.1,1167.4 720.0,1166.7 721.1,1166.1 722.5,1165.6 724.2,1165.3 727.2,1165.2 730.3,1165.3 732.0,1165.6 733.4,1166.1 734.5,1166.7 735.4,1167.4 736.1,1168.3 736.6,1169.3 736.9,1170.3Z" fill="#e65a20"/><ellipse cx="727.2" cy="1171.4" rx="6.0" ry="2.3" fill="none" stroke="#fff" stroke-width="0.8" opacity="0.85"/><ellipse cx="727.2" cy="1171.4" rx="3.0" ry="1.1" fill="none" stroke="#fff" stroke-width="0.8" opacity="0.85"/></g>
<g transform="rotate(-4 684.8 1175.4)"><path d="M720.0,1175.4 719.6,1176.8 718.6,1178.1 716.8,1179.4 714.3,1180.5 711.0,1181.5 707.0,1182.3 702.0,1182.8 695.7,1183.2 684.8,1183.3 673.8,1183.2 667.5,1182.8 662.5,1182.3 658.5,1181.5 655.2,1180.5 652.7,1179.4 650.9,1178.1 649.9,1176.8 649.5,1175.4 649.9,1174.0 650.9,1172.7 652.7,1171.4 655.2,1170.3 658.5,1169.3 662.5,1168.5 667.5,1168.0 673.8,1167.6 684.7,1167.5 695.7,1167.6 702.0,1168.0 707.0,1168.5 711.0,1169.3 714.3,1170.3 716.8,1171.4 718.6,1172.7 719.6,1174.0Z" fill="#53648f"/><ellipse cx="684.8" cy="1175.4" rx="24.3" ry="3.3" fill="none" stroke="#fff" stroke-width="0.8" opacity="0.85"/><ellipse cx="684.8" cy="1175.4" rx="16.2" ry="2.2" fill="none" stroke="#fff" stroke-width="0.8" opacity="0.85"/><ellipse cx="684.8" cy="1175.4" rx="8.1" ry="1.1" fill="none" stroke="#fff" stroke-width="0.8" opacity="0.85"/></g>
<g><path d="M714.2,1203.3 714.0,1204.7 713.3,1206.1 712.3,1207.4 710.8,1208.6 708.9,1209.6 706.4,1210.5 703.5,1211.1 699.8,1211.4 693.3,1211.6 686.7,1211.4 683.0,1211.1 680.1,1210.5 677.6,1209.6 675.7,1208.6 674.2,1207.4 673.2,1206.1 672.5,1204.7 672.3,1203.3 672.5,1201.9 673.2,1200.5 674.2,1199.2 675.7,1198.0 677.6,1197.0 680.1,1196.1 683.0,1195.5 686.7,1195.2 693.2,1195.0 699.8,1195.2 703.5,1195.5 706.4,1196.1 708.9,1197.0 710.8,1198.0 712.3,1199.2 713.3,1200.5 714.0,1201.9Z" fill="#53648f"/><ellipse cx="693.2" cy="1203.3" rx="14.5" ry="3.4" fill="none" stroke="#fff" stroke-width="0.8" opacity="0.85"/><ellipse cx="693.2" cy="1203.3" rx="9.6" ry="2.3" fill="none" stroke="#fff" stroke-width="0.8" opacity="0.85"/><ellipse cx="693.2" cy="1203.3" rx="4.8" ry="1.1" fill="none" stroke="#fff" stroke-width="0.8" opacity="0.85"/></g>
<g><path d="M680.1,1232.2 679.8,1233.4 678.9,1234.6 677.5,1235.6 675.4,1236.6 672.8,1237.4 669.5,1238.1 665.5,1238.6 660.4,1238.9 651.5,1239.0 642.6,1238.9 637.5,1238.6 633.5,1238.1 630.2,1237.4 627.6,1236.6 625.5,1235.6 624.1,1234.6 623.2,1233.4 622.9,1232.2 623.2,1231.1 624.1,1229.9 625.5,1228.9 627.6,1227.9 630.2,1227.1 633.5,1226.4 637.5,1225.9 642.6,1225.6 651.5,1225.5 660.4,1225.6 665.5,1225.9 669.5,1226.4 672.8,1227.1 675.4,1227.9 677.5,1228.9 678.9,1229.9 679.8,1231.1Z" fill="#d8d8d8"/><ellipse cx="651.5" cy="1232.2" rx="19.7" ry="2.8" fill="none" stroke="#fff" stroke-width="0.8" opacity="0.85"/><ellipse cx="651.5" cy="1232.2" rx="13.2" ry="1.9" fill="none" stroke="#fff" stroke-width="0.8" opacity="0.85"/><ellipse cx="651.5" cy="1232.2" rx="6.6" ry="0.9" fill="none" stroke="#fff" stroke-width="0.8" opacity="0.85"/></g>
<g><path d="M656.3,1279.4 656.0,1280.5 655.0,1281.5 653.4,1282.5 651.2,1283.3 648.5,1284.0 645.4,1284.5 641.8,1284.8 637.5,1284.9 633.3,1284.8 629.7,1284.5 626.6,1284.0 623.9,1283.3 621.7,1282.5 620.1,1281.5 619.1,1280.5 618.8,1279.4 619.1,1278.4 620.1,1277.4 621.7,1276.4 623.9,1275.6 626.6,1274.9 629.7,1274.4 633.3,1274.1 637.5,1274.0 641.8,1274.1 645.4,1274.4 648.5,1274.9 651.2,1275.6 653.4,1276.4 655.0,1277.4 656.0,1278.4Z" fill="none" stroke="#e65a20" stroke-width="1.2"/><path d="M650.0,1279.4 649.8,1280.2 649.2,1280.8 648.1,1281.5 646.7,1282.0 644.9,1282.5 642.8,1282.8 640.4,1283.0 637.5,1283.1 634.7,1283.0 632.3,1282.8 630.2,1282.5 628.4,1282.0 627.0,1281.5 625.9,1280.8 625.3,1280.2 625.0,1279.4 625.3,1278.7 625.9,1278.1 627.0,1277.4 628.4,1276.9 630.2,1276.4 632.3,1276.1 634.7,1275.9 637.5,1275.8 640.4,1275.9 642.8,1276.1 644.9,1276.4 646.7,1276.9 648.1,1277.4 649.2,1278.1 649.8,1278.7Z" fill="none" stroke="#e65a20" stroke-width="1.2"/><path d="M643.8,1279.4 643.5,1280.0 642.7,1280.5 641.4,1280.9 639.7,1281.2 637.5,1281.3 635.4,1281.2 633.7,1280.9 632.4,1280.5 631.6,1280.0 631.3,1279.4 631.6,1278.9 632.4,1278.4 633.7,1278.0 635.4,1277.7 637.5,1277.6 639.7,1277.7 641.4,1278.0 642.7,1278.4 643.5,1278.9Z" fill="none" stroke="#e65a20" stroke-width="1.2"/></g>
<g><path d="M622.2,1318.7 622.0,1319.4 621.5,1320.1 620.5,1320.7 619.3,1321.3 617.8,1321.8 616.0,1322.1 613.9,1322.3 611.5,1322.4 609.1,1322.3 607.0,1322.1 605.2,1321.8 603.7,1321.3 602.5,1320.7 601.5,1320.1 601.0,1319.4 600.8,1318.7 601.0,1317.9 601.5,1317.2 602.5,1316.6 603.7,1316.0 605.2,1315.5 607.0,1315.2 609.1,1315.0 611.5,1314.9 613.9,1315.0 616.0,1315.2 617.8,1315.5 619.3,1316.0 620.5,1316.6 621.5,1317.2 622.0,1317.9Z" fill="none" stroke="#d8d8d8" stroke-width="1.0"/><path d="M616.9,1318.7 616.6,1319.2 615.9,1319.8 614.8,1320.2 613.3,1320.4 611.5,1320.5 609.7,1320.4 608.2,1320.2 607.1,1319.8 606.4,1319.2 606.1,1318.7 606.4,1318.1 607.1,1317.5 608.2,1317.1 609.7,1316.9 611.5,1316.8 613.3,1316.9 614.8,1317.1 615.9,1317.5 616.6,1318.1Z" fill="none" stroke="#d8d8d8" stroke-width="1.0"/></g>
<g><path d="M837.5,1276.6 837.2,1277.9 836.3,1279.1 834.9,1280.0 833.0,1280.6 830.7,1280.8 828.4,1280.6 826.5,1280.0 825.1,1279.1 824.2,1277.9 823.9,1276.6 824.2,1275.3 825.1,1274.1 826.5,1273.2 828.4,1272.6 830.7,1272.4 833.0,1272.6 834.9,1273.2 836.3,1274.1 837.2,1275.3Z" fill="none" stroke="#d8d8d8" stroke-width="1.0"/><path d="M834.1,1276.6 833.9,1277.2 833.5,1277.8 832.8,1278.3 831.9,1278.6 830.7,1278.7 829.5,1278.6 828.6,1278.3 827.9,1277.8 827.5,1277.2 827.3,1276.6 827.5,1276.0 827.9,1275.4 828.6,1274.9 829.5,1274.6 830.7,1274.5 831.9,1274.6 832.8,1274.9 833.5,1275.4 833.9,1276.0Z" fill="none" stroke="#d8d8d8" stroke-width="1.0"/></g>
<text x="795.9" y="872.8" font-size="24" fill="#3b4ba6">A<tspan font-size="16" dy="7">α</tspan></text>
<text x="849.4" y="947.0" font-size="24" fill="#3b4ba6">A<tspan font-size="15" dy="8">β-G</tspan></text>
<text x="928.8" y="997.4" font-size="24" fill="#3b4ba6">A<tspan font-size="12.5" dy="8">β-S</tspan></text>
<rect x="849.6" y="1352.1" width="111.7" height="66.5" fill="#f6f6d6" stroke="#222" stroke-width="1.2"/>
<rect x="961.3" y="1287.8" width="153.2" height="130.8" fill="#f6f6d6" stroke="#222" stroke-width="1.2"/>
<text x="974.7" y="1317.1" font-size="21.5" fill="#a93439" textLength="88.1" lengthAdjust="spacingAndGlyphs">S: 31.7%</text>
<text x="974.7" y="1346.6" font-size="21.5" fill="#53648f" textLength="95.0" lengthAdjust="spacingAndGlyphs">G: 68.3%</text>
<text x="974.7" y="1377.6" font-size="21.5" textLength="100.8" lengthAdjust="spacingAndGlyphs"><tspan fill="#a93439">S</tspan><tspan fill="#000">/</tspan><tspan fill="#53648f">G:</tspan><tspan fill="#000"> 0.46</tspan></text>
<text x="974.7" y="1407.4" font-size="21.5" fill="#e65a20" textLength="104.3" lengthAdjust="spacingAndGlyphs"><tspan font-style="italic">p</tspan>CA: 1.9%</text>
<text x="860.1" y="1377.6" font-size="21.5" fill="#3b4ba6" textLength="89.0" lengthAdjust="spacingAndGlyphs">A: 28.0%</text>
<text x="860.1" y="1407.4" font-size="21.5" fill="#5cba48" textLength="74.2" lengthAdjust="spacingAndGlyphs">B: 2.6%</text>
<text x="1394.0" y="745.4" font-size="22" fill="#e3922a" textLength="96.8" lengthAdjust="spacingAndGlyphs">Methoxyl</text>
<g><path d="M1625.5,745.2 1625.4,746.1 1625.2,747.0 1624.8,747.8 1624.3,748.6 1623.5,749.2 1622.7,749.8 1621.6,750.2 1620.2,750.4 1617.9,750.5 1615.5,750.4 1614.1,750.2 1613.0,749.8 1612.2,749.2 1611.4,748.6 1610.9,747.8 1610.5,747.0 1610.3,746.1 1610.2,745.2 1610.3,744.3 1610.5,743.4 1610.9,742.6 1611.4,741.8 1612.2,741.2 1613.0,740.6 1614.1,740.2 1615.5,740.0 1617.8,739.9 1620.2,740.0 1621.6,740.2 1622.7,740.6 1623.5,741.2 1624.3,741.8 1624.8,742.6 1625.2,743.4 1625.4,744.3Z" fill="#d8d8d8"/><ellipse cx="1617.8" cy="745.2" rx="3.5" ry="1.5" fill="none" stroke="#fff" stroke-width="0.8" opacity="0.85"/></g>
<g><path d="M1638.5,745.9 1638.4,747.0 1638.1,748.0 1637.7,748.7 1637.2,749.2 1636.5,749.4 1635.8,749.2 1635.3,748.7 1634.9,748.0 1634.6,747.0 1634.5,745.9 1634.6,744.8 1634.9,743.8 1635.3,743.1 1635.8,742.6 1636.5,742.4 1637.2,742.6 1637.7,743.1 1638.1,743.8 1638.4,744.8Z" fill="none" stroke="#d8d8d8" stroke-width="1.0"/></g>
<g><path d="M1674.5,745.4 1674.4,746.3 1674.1,747.2 1673.7,747.8 1673.2,748.3 1672.5,748.4 1671.8,748.3 1671.3,747.8 1670.9,747.2 1670.6,746.3 1670.5,745.4 1670.6,744.5 1670.9,743.6 1671.3,743.0 1671.8,742.5 1672.5,742.4 1673.2,742.5 1673.7,743.0 1674.1,743.6 1674.4,744.5Z" fill="none" stroke="#d8d8d8" stroke-width="1.0"/></g>
<g><path d="M1610.2,746.5 1609.6,748.5 1607.9,750.3 1604.9,752.0 1600.8,753.6 1595.4,754.9 1588.8,756.0 1580.6,756.8 1570.4,757.3 1552.4,757.5 1534.3,757.3 1524.1,756.8 1515.9,756.0 1509.3,754.9 1503.9,753.6 1499.8,752.0 1496.8,750.3 1495.1,748.5 1494.5,746.5 1495.1,744.6 1496.8,742.8 1499.8,741.1 1503.9,739.5 1509.3,738.2 1515.9,737.1 1524.1,736.3 1534.3,735.8 1552.3,735.6 1570.4,735.8 1580.6,736.3 1588.8,737.1 1595.4,738.2 1600.8,739.5 1604.9,741.1 1607.9,742.8 1609.6,744.6Z" fill="#e3922a"/><ellipse cx="1552.3" cy="746.5" rx="39.9" ry="4.5" fill="none" stroke="#fff" stroke-width="0.8" opacity="0.85"/><ellipse cx="1552.3" cy="746.5" rx="26.6" ry="3.0" fill="none" stroke="#fff" stroke-width="0.8" opacity="0.85"/><ellipse cx="1552.3" cy="746.5" rx="13.3" ry="1.5" fill="none" stroke="#fff" stroke-width="0.8" opacity="0.85"/></g>
<g><path d="M1623.9,799.8 1623.6,801.2 1622.9,802.6 1621.6,803.9 1619.7,805.0 1617.4,806.1 1614.4,806.9 1610.8,807.5 1606.3,807.9 1598.4,808.0 1590.4,807.9 1585.9,807.5 1582.3,806.9 1579.3,806.1 1577.0,805.0 1575.1,803.9 1573.8,802.6 1573.1,801.2 1572.8,799.8 1573.1,798.3 1573.8,796.9 1575.1,795.6 1577.0,794.5 1579.3,793.4 1582.3,792.6 1585.9,792.0 1590.4,791.6 1598.3,791.5 1606.3,791.6 1610.8,792.0 1614.4,792.6 1617.4,793.4 1619.7,794.5 1621.6,795.6 1622.9,796.9 1623.6,798.3Z" fill="#d8d8d8"/><ellipse cx="1598.3" cy="799.8" rx="17.6" ry="3.4" fill="none" stroke="#fff" stroke-width="0.8" opacity="0.85"/><ellipse cx="1598.3" cy="799.8" rx="11.8" ry="2.3" fill="none" stroke="#fff" stroke-width="0.8" opacity="0.85"/><ellipse cx="1598.3" cy="799.8" rx="5.9" ry="1.1" fill="none" stroke="#fff" stroke-width="0.8" opacity="0.85"/></g>
<g><path d="M1613.5,777.6 1613.3,778.9 1612.8,780.1 1611.9,781.0 1610.7,781.6 1609.3,781.8 1607.9,781.6 1606.7,781.0 1605.8,780.1 1605.3,778.9 1605.1,777.6 1605.3,776.3 1605.8,775.1 1606.7,774.2 1607.9,773.6 1609.3,773.4 1610.7,773.6 1611.9,774.2 1612.8,775.1 1613.3,776.3Z" fill="none" stroke="#d8d8d8" stroke-width="1.0"/><path d="M1611.4,777.6 1611.3,778.2 1611.0,778.8 1610.6,779.3 1610.0,779.6 1609.3,779.7 1608.6,779.6 1608.0,779.3 1607.6,778.8 1607.3,778.2 1607.2,777.6 1607.3,777.0 1607.6,776.4 1608.0,775.9 1608.6,775.6 1609.3,775.5 1610.0,775.6 1610.6,775.9 1611.0,776.4 1611.3,777.0Z" fill="none" stroke="#d8d8d8" stroke-width="1.0"/></g>
<g><path d="M1634.5,778.9 1634.4,779.7 1634.2,780.4 1633.8,780.9 1633.1,781.3 1632.0,781.4 1630.9,781.3 1630.2,780.9 1629.8,780.4 1629.6,779.7 1629.5,778.9 1629.6,778.1 1629.8,777.4 1630.2,776.9 1630.9,776.5 1632.0,776.4 1633.1,776.5 1633.8,776.9 1634.2,777.4 1634.4,778.1Z" fill="#d8d8d8"/></g>
<g><path d="M1557.5,817.4 1557.2,818.5 1556.4,819.5 1555.1,820.5 1553.2,821.4 1550.7,822.1 1547.7,822.7 1544.0,823.2 1539.2,823.5 1531.0,823.6 1522.8,823.5 1518.0,823.2 1514.3,822.7 1511.3,822.1 1508.8,821.4 1506.9,820.5 1505.6,819.5 1504.8,818.5 1504.5,817.4 1504.8,816.3 1505.6,815.3 1506.9,814.3 1508.8,813.4 1511.3,812.7 1514.3,812.1 1518.0,811.6 1522.8,811.3 1531.0,811.2 1539.2,811.3 1544.0,811.6 1547.7,812.1 1550.7,812.7 1553.2,813.4 1555.1,814.3 1556.4,815.3 1557.2,816.3Z" fill="#d8d8d8"/><ellipse cx="1531.0" cy="817.4" rx="16.3" ry="2.3" fill="none" stroke="#fff" stroke-width="0.8" opacity="0.85"/><ellipse cx="1531.0" cy="817.4" rx="8.1" ry="1.1" fill="none" stroke="#fff" stroke-width="0.8" opacity="0.85"/></g>
<g><path d="M1603.5,780.1 1603.0,782.3 1601.3,784.4 1598.6,786.3 1594.8,788.0 1589.8,789.3 1583.6,790.3 1576.1,790.9 1566.5,791.1 1549.8,790.6 1533.1,789.8 1523.5,789.0 1516.0,788.0 1509.8,786.9 1504.8,785.7 1501.0,784.4 1498.3,783.0 1496.6,781.6 1496.1,780.1 1496.6,778.6 1498.3,777.2 1501.0,775.8 1504.8,774.5 1509.8,773.3 1516.0,772.2 1523.5,771.2 1533.1,770.4 1549.8,769.6 1566.5,769.1 1576.1,769.3 1583.6,769.9 1589.8,770.9 1594.8,772.2 1598.6,773.9 1601.3,775.8 1603.0,777.9Z" fill="#3b4ba6"/><ellipse cx="1549.8" cy="780.1" rx="37.1" ry="4.3" fill="none" stroke="#fff" stroke-width="0.8" opacity="0.85"/><ellipse cx="1549.8" cy="780.1" rx="24.7" ry="2.9" fill="none" stroke="#fff" stroke-width="0.8" opacity="0.85"/><ellipse cx="1549.8" cy="780.1" rx="12.4" ry="1.4" fill="none" stroke="#fff" stroke-width="0.8" opacity="0.85"/></g>
<g><path d="M1559.1,803.1 1558.8,804.8 1557.7,806.4 1556.0,808.0 1553.6,809.4 1550.4,810.6 1546.5,811.6 1541.7,812.3 1535.6,812.7 1525.1,812.9 1514.5,812.7 1508.4,812.3 1503.6,811.6 1499.7,810.6 1496.5,809.4 1494.1,808.0 1492.4,806.4 1491.3,804.8 1491.0,803.1 1491.3,801.4 1492.4,799.8 1494.1,798.2 1496.5,796.8 1499.7,795.6 1503.6,794.6 1508.4,793.9 1514.5,793.5 1525.0,793.3 1535.6,793.5 1541.7,793.9 1546.5,794.6 1550.4,795.6 1553.6,796.8 1556.0,798.2 1557.7,799.8 1558.8,801.4Z" fill="#3b4ba6"/><ellipse cx="1525.0" cy="803.1" rx="23.5" ry="4.0" fill="none" stroke="#fff" stroke-width="0.8" opacity="0.85"/><ellipse cx="1525.0" cy="803.1" rx="15.7" ry="2.7" fill="none" stroke="#fff" stroke-width="0.8" opacity="0.85"/><ellipse cx="1525.0" cy="803.1" rx="7.8" ry="1.3" fill="none" stroke="#fff" stroke-width="0.8" opacity="0.85"/></g>
<g><path d="M1492.7,798.0 1492.6,800.2 1492.1,802.2 1491.4,804.2 1490.4,805.8 1489.2,807.2 1487.7,808.3 1486.1,808.9 1484.2,809.1 1482.3,808.9 1480.7,808.3 1479.2,807.2 1478.0,805.8 1477.0,804.2 1476.3,802.2 1475.8,800.2 1475.7,798.0 1475.8,795.8 1476.3,793.8 1477.0,791.8 1478.0,790.2 1479.2,788.8 1480.7,787.7 1482.3,787.1 1484.2,786.9 1486.1,787.1 1487.7,787.7 1489.2,788.8 1490.4,790.2 1491.4,791.8 1492.1,793.8 1492.6,795.8Z" fill="none" stroke="#4ec4d0" stroke-width="1.2"/><path d="M1489.9,798.0 1489.8,799.4 1489.5,800.8 1489.0,802.1 1488.3,803.2 1487.5,804.2 1486.6,804.8 1485.5,805.3 1484.2,805.4 1482.9,805.3 1481.8,804.8 1480.9,804.2 1480.1,803.2 1479.4,802.1 1478.9,800.8 1478.6,799.4 1478.5,798.0 1478.6,796.6 1478.9,795.2 1479.4,793.9 1480.1,792.8 1480.9,791.8 1481.8,791.2 1482.9,790.7 1484.2,790.6 1485.5,790.7 1486.6,791.2 1487.5,791.8 1488.3,792.8 1489.0,793.9 1489.5,795.2 1489.8,796.6Z" fill="none" stroke="#4ec4d0" stroke-width="1.2"/><path d="M1487.0,798.0 1486.9,799.1 1486.5,800.2 1485.9,801.0 1485.2,801.5 1484.2,801.7 1483.2,801.5 1482.5,801.0 1481.9,800.2 1481.5,799.1 1481.4,798.0 1481.5,796.9 1481.9,795.8 1482.5,795.0 1483.2,794.5 1484.2,794.3 1485.2,794.5 1485.9,795.0 1486.5,795.8 1486.9,796.9Z" fill="none" stroke="#4ec4d0" stroke-width="1.2"/></g>
<g><path d="M1573.5,805.5 1573.5,806.3 1573.3,807.1 1573.1,807.8 1572.7,808.5 1572.2,809.1 1571.6,809.5 1570.7,809.9 1569.5,810.1 1565.5,810.2 1561.5,810.1 1560.3,809.9 1559.4,809.5 1558.8,809.1 1558.3,808.5 1557.9,807.8 1557.7,807.1 1557.5,806.3 1557.5,805.5 1557.5,804.7 1557.7,803.9 1557.9,803.2 1558.3,802.5 1558.8,801.9 1559.4,801.5 1560.3,801.1 1561.5,800.9 1565.5,800.8 1569.5,800.9 1570.7,801.1 1571.6,801.5 1572.2,801.9 1572.7,802.5 1573.1,803.2 1573.3,803.9 1573.5,804.7Z" fill="#5cba48"/></g>
<g><path d="M1602.5,848.1 1602.1,851.2 1601.1,854.2 1599.3,857.0 1596.8,859.6 1593.6,861.8 1589.5,863.6 1584.6,864.9 1578.4,865.7 1567.5,866.0 1556.6,865.7 1550.4,864.9 1545.5,863.6 1541.4,861.8 1538.2,859.6 1535.7,857.0 1533.9,854.2 1532.9,851.2 1532.5,848.1 1532.9,845.0 1533.9,842.0 1535.7,839.2 1538.2,836.6 1541.4,834.4 1545.5,832.6 1550.4,831.3 1556.6,830.5 1567.5,830.2 1578.4,830.5 1584.6,831.3 1589.5,832.6 1593.6,834.4 1596.8,836.6 1599.3,839.2 1601.1,842.0 1602.1,845.0Z" fill="#d8d8d8"/><ellipse cx="1567.5" cy="848.1" rx="24.2" ry="7.4" fill="none" stroke="#fff" stroke-width="0.8" opacity="0.85"/><ellipse cx="1567.5" cy="848.1" rx="16.1" ry="4.9" fill="none" stroke="#fff" stroke-width="0.8" opacity="0.85"/><ellipse cx="1567.5" cy="848.1" rx="8.1" ry="2.5" fill="none" stroke="#fff" stroke-width="0.8" opacity="0.85"/></g>
<g transform="rotate(-4 1582.2 878.4)"><path d="M1646.0,878.4 1645.4,881.8 1643.4,885.0 1640.2,888.1 1635.6,890.8 1629.7,893.2 1622.4,895.2 1613.4,896.6 1602.0,897.5 1582.2,897.8 1562.3,897.5 1550.9,896.6 1541.9,895.2 1534.6,893.2 1528.7,890.8 1524.1,888.1 1520.9,885.0 1518.9,881.8 1518.3,878.4 1518.9,875.0 1520.9,871.8 1524.1,868.7 1528.7,866.0 1534.6,863.6 1541.9,861.6 1550.9,860.2 1562.3,859.3 1582.1,859.0 1602.0,859.3 1613.4,860.2 1622.4,861.6 1629.7,863.6 1635.6,866.0 1640.2,868.7 1643.4,871.8 1645.4,875.0Z" fill="#d8d8d8"/><ellipse cx="1582.2" cy="878.4" rx="44.1" ry="8.0" fill="none" stroke="#fff" stroke-width="0.8" opacity="0.85"/><ellipse cx="1582.2" cy="878.4" rx="29.4" ry="5.3" fill="none" stroke="#fff" stroke-width="0.8" opacity="0.85"/><ellipse cx="1582.2" cy="878.4" rx="14.7" ry="2.7" fill="none" stroke="#fff" stroke-width="0.8" opacity="0.85"/></g>
<g><path d="M1528.5,857.4 1528.3,859.5 1527.8,861.6 1526.9,863.5 1525.7,865.2 1524.3,866.5 1522.6,867.6 1520.6,868.2 1518.3,868.4 1516.0,868.2 1514.0,867.6 1512.3,866.5 1510.9,865.2 1509.7,863.5 1508.8,861.6 1508.3,859.5 1508.1,857.4 1508.3,855.3 1508.8,853.2 1509.7,851.3 1510.9,849.6 1512.3,848.3 1514.0,847.2 1516.0,846.6 1518.3,846.4 1520.6,846.6 1522.6,847.2 1524.3,848.3 1525.7,849.6 1526.9,851.3 1527.8,853.2 1528.3,855.3Z" fill="none" stroke="#4a5638" stroke-width="1.3"/><path d="M1526.0,857.4 1525.8,859.0 1525.4,860.6 1524.8,862.0 1523.9,863.2 1522.8,864.3 1521.5,865.0 1520.0,865.5 1518.3,865.6 1516.6,865.5 1515.1,865.0 1513.8,864.3 1512.7,863.2 1511.8,862.0 1511.2,860.6 1510.8,859.0 1510.6,857.4 1510.8,855.8 1511.2,854.2 1511.8,852.8 1512.7,851.6 1513.8,850.5 1515.1,849.8 1516.6,849.3 1518.3,849.1 1520.0,849.3 1521.5,849.8 1522.8,850.5 1523.9,851.6 1524.8,852.8 1525.4,854.2 1525.8,855.8Z" fill="none" stroke="#4a5638" stroke-width="1.3"/><path d="M1523.4,857.4 1523.2,859.1 1522.5,860.6 1521.4,861.8 1520.1,862.6 1518.3,862.9 1516.5,862.6 1515.2,861.8 1514.1,860.6 1513.4,859.1 1513.2,857.4 1513.4,855.7 1514.1,854.2 1515.2,853.0 1516.5,852.2 1518.3,851.9 1520.1,852.2 1521.4,853.0 1522.5,854.2 1523.2,855.7Z" fill="none" stroke="#4a5638" stroke-width="1.3"/><path d="M1520.8,857.4 1520.7,858.2 1520.4,859.0 1519.9,859.6 1519.2,860.0 1518.3,860.1 1517.4,860.0 1516.7,859.6 1516.2,859.0 1515.9,858.2 1515.8,857.4 1515.9,856.6 1516.2,855.8 1516.7,855.2 1517.4,854.8 1518.3,854.6 1519.2,854.8 1519.9,855.2 1520.4,855.8 1520.7,856.6Z" fill="none" stroke="#4a5638" stroke-width="1.3"/></g>
<g><path d="M1449.5,860.7 1449.3,861.8 1448.8,862.9 1448.0,863.9 1446.8,864.8 1445.3,865.6 1443.4,866.3 1441.1,866.7 1438.2,867.0 1433.2,867.1 1428.1,867.0 1425.2,866.7 1422.9,866.3 1421.0,865.6 1419.5,864.8 1418.3,863.9 1417.5,862.9 1417.0,861.8 1416.8,860.7 1417.0,859.6 1417.5,858.5 1418.3,857.5 1419.5,856.6 1421.0,855.8 1422.9,855.1 1425.2,854.7 1428.1,854.4 1433.1,854.3 1438.2,854.4 1441.1,854.7 1443.4,855.1 1445.3,855.8 1446.8,856.6 1448.0,857.5 1448.8,858.5 1449.3,859.6Z" fill="#3b4ba6"/><ellipse cx="1433.2" cy="860.7" rx="11.3" ry="2.6" fill="none" stroke="#fff" stroke-width="0.8" opacity="0.85"/><ellipse cx="1433.2" cy="860.7" rx="7.5" ry="1.8" fill="none" stroke="#fff" stroke-width="0.8" opacity="0.85"/><ellipse cx="1433.2" cy="860.7" rx="3.8" ry="0.9" fill="none" stroke="#fff" stroke-width="0.8" opacity="0.85"/></g>
<g><path d="M1434.8,883.9 1434.6,884.4 1434.1,884.8 1433.2,885.1 1432.0,885.3 1430.5,885.4 1429.1,885.3 1427.9,885.1 1427.0,884.8 1426.5,884.4 1426.3,883.9 1426.5,883.4 1427.0,883.0 1427.9,882.7 1429.1,882.5 1430.5,882.4 1432.0,882.5 1433.2,882.7 1434.1,883.0 1434.6,883.4Z" fill="none" stroke="#d8d8d8" stroke-width="1.0"/></g>
<g><path d="M1451.9,874.6 1451.8,876.0 1451.5,877.1 1450.9,878.1 1450.2,878.7 1449.3,878.9 1448.5,878.7 1447.8,878.1 1447.2,877.1 1446.9,876.0 1446.8,874.6 1446.9,873.3 1447.2,872.2 1447.8,871.2 1448.5,870.6 1449.3,870.4 1450.2,870.6 1450.9,871.2 1451.5,872.2 1451.8,873.3Z" fill="none" stroke="#d8d8d8" stroke-width="1.0"/></g>
<g><path d="M1483.5,951.4 1483.3,952.3 1482.8,953.2 1482.0,953.8 1480.9,954.3 1479.5,954.4 1478.1,954.3 1477.0,953.8 1476.2,953.2 1475.7,952.3 1475.5,951.4 1475.7,950.5 1476.2,949.6 1477.0,949.0 1478.1,948.5 1479.5,948.4 1480.9,948.5 1482.0,949.0 1482.8,949.6 1483.3,950.5Z" fill="none" stroke="#d8d8d8" stroke-width="1.3"/></g>
<g><path d="M1491.5,951.9 1491.5,952.7 1491.4,953.4 1491.2,953.9 1491.0,954.3 1490.5,954.4 1490.0,954.3 1489.8,953.9 1489.6,953.4 1489.5,952.7 1489.5,951.9 1489.5,951.1 1489.6,950.4 1489.8,949.9 1490.0,949.5 1490.5,949.4 1491.0,949.5 1491.2,949.9 1491.4,950.4 1491.5,951.1Z" fill="#3b4ba6"/></g>
<g><path d="M1503.5,962.6 1503.4,963.7 1502.9,964.6 1502.3,965.3 1501.4,965.7 1500.2,965.9 1499.1,965.7 1498.2,965.3 1497.6,964.6 1497.1,963.7 1497.0,962.6 1497.1,961.6 1497.6,960.7 1498.2,960.0 1499.1,959.6 1500.2,959.4 1501.4,959.6 1502.3,960.0 1502.9,960.7 1503.4,961.6Z" fill="none" stroke="#3b4ba6" stroke-width="1.3"/></g>
<g><path d="M1521.0,1077.4 1520.7,1079.1 1519.6,1080.7 1517.9,1082.2 1515.6,1083.6 1512.5,1084.8 1508.6,1085.8 1503.9,1086.5 1498.0,1086.9 1487.6,1087.1 1477.2,1086.9 1471.3,1086.5 1466.6,1085.8 1462.7,1084.8 1459.6,1083.6 1457.3,1082.2 1455.6,1080.7 1454.5,1079.1 1454.2,1077.4 1454.5,1075.7 1455.6,1074.1 1457.3,1072.6 1459.6,1071.2 1462.7,1070.0 1466.6,1069.0 1471.3,1068.3 1477.2,1067.9 1487.6,1067.7 1498.0,1067.9 1503.9,1068.3 1508.6,1069.0 1512.5,1070.0 1515.6,1071.2 1517.9,1072.6 1519.6,1074.1 1520.7,1075.7Z" fill="#d8d8d8"/><ellipse cx="1487.6" cy="1077.4" rx="23.0" ry="4.0" fill="none" stroke="#fff" stroke-width="0.8" opacity="0.85"/><ellipse cx="1487.6" cy="1077.4" rx="15.4" ry="2.7" fill="none" stroke="#fff" stroke-width="0.8" opacity="0.85"/><ellipse cx="1487.6" cy="1077.4" rx="7.7" ry="1.3" fill="none" stroke="#fff" stroke-width="0.8" opacity="0.85"/></g>
<g><path d="M1284.0,1090.4 1283.8,1091.6 1283.2,1092.8 1282.2,1093.9 1280.8,1094.9 1279.0,1095.8 1276.8,1096.5 1274.1,1097.0 1270.6,1097.3 1264.6,1097.4 1258.5,1097.3 1255.0,1097.0 1252.3,1096.5 1250.1,1095.8 1248.3,1094.9 1246.9,1093.9 1245.9,1092.8 1245.3,1091.6 1245.1,1090.4 1245.3,1089.2 1245.9,1088.0 1246.9,1086.9 1248.3,1085.9 1250.1,1085.0 1252.3,1084.3 1255.0,1083.8 1258.5,1083.5 1264.5,1083.4 1270.6,1083.5 1274.1,1083.8 1276.8,1084.3 1279.0,1085.0 1280.8,1085.9 1282.2,1086.9 1283.2,1088.0 1283.8,1089.2Z" fill="#a93439"/><ellipse cx="1264.5" cy="1090.4" rx="13.4" ry="2.9" fill="none" stroke="#fff" stroke-width="0.8" opacity="0.85"/><ellipse cx="1264.5" cy="1090.4" rx="8.9" ry="1.9" fill="none" stroke="#fff" stroke-width="0.8" opacity="0.85"/><ellipse cx="1264.5" cy="1090.4" rx="4.5" ry="1.0" fill="none" stroke="#fff" stroke-width="0.8" opacity="0.85"/></g>
<g><path d="M1224.5,1140.4 1224.4,1141.6 1224.2,1142.8 1223.9,1143.9 1223.4,1144.9 1222.7,1145.8 1221.9,1146.5 1221.0,1147.0 1219.7,1147.3 1217.6,1147.4 1215.5,1147.3 1214.2,1147.0 1213.3,1146.5 1212.5,1145.8 1211.8,1144.9 1211.3,1143.9 1211.0,1142.8 1210.8,1141.6 1210.7,1140.4 1210.8,1139.2 1211.0,1138.0 1211.3,1136.9 1211.8,1135.9 1212.5,1135.0 1213.3,1134.3 1214.2,1133.8 1215.5,1133.5 1217.6,1133.4 1219.7,1133.5 1221.0,1133.8 1221.9,1134.3 1222.7,1135.0 1223.4,1135.9 1223.9,1136.9 1224.2,1138.0 1224.4,1139.2Z" fill="#74b9ab"/><ellipse cx="1217.6" cy="1140.4" rx="3.2" ry="1.9" fill="none" stroke="#fff" stroke-width="0.8" opacity="0.85"/></g>
<g><path d="M1259.5,1140.3 1259.3,1141.7 1258.7,1143.1 1257.6,1144.4 1256.2,1145.6 1254.3,1146.6 1251.9,1147.5 1249.0,1148.1 1245.4,1148.4 1239.0,1148.6 1232.6,1148.4 1229.0,1148.1 1226.1,1147.5 1223.7,1146.6 1221.8,1145.6 1220.4,1144.4 1219.3,1143.1 1218.7,1141.7 1218.5,1140.3 1218.7,1138.9 1219.3,1137.5 1220.4,1136.2 1221.8,1135.0 1223.7,1134.0 1226.1,1133.1 1229.0,1132.5 1232.6,1132.2 1239.0,1132.0 1245.4,1132.2 1249.0,1132.5 1251.9,1133.1 1254.3,1134.0 1256.2,1135.0 1257.6,1136.2 1258.7,1137.5 1259.3,1138.9Z" fill="#53648f"/><ellipse cx="1239.0" cy="1140.3" rx="14.1" ry="3.4" fill="none" stroke="#fff" stroke-width="0.8" opacity="0.85"/><ellipse cx="1239.0" cy="1140.3" rx="9.4" ry="2.3" fill="none" stroke="#fff" stroke-width="0.8" opacity="0.85"/><ellipse cx="1239.0" cy="1140.3" rx="4.7" ry="1.1" fill="none" stroke="#fff" stroke-width="0.8" opacity="0.85"/></g>
<g><path d="M1269.0,1137.6 1268.9,1138.9 1268.6,1140.1 1268.1,1141.0 1267.5,1141.6 1266.8,1141.8 1266.0,1141.6 1265.4,1141.0 1264.9,1140.1 1264.6,1138.9 1264.5,1137.6 1264.6,1136.3 1264.9,1135.1 1265.4,1134.2 1266.0,1133.6 1266.8,1133.4 1267.5,1133.6 1268.1,1134.2 1268.6,1135.1 1268.9,1136.3Z" fill="none" stroke="#53648f" stroke-width="1.3"/></g>
<g><path d="M1290.1,1168.9 1289.8,1170.7 1288.8,1172.4 1287.1,1174.0 1284.7,1175.4 1281.6,1176.7 1277.8,1177.7 1273.1,1178.4 1267.2,1178.9 1256.9,1179.0 1246.6,1178.9 1240.7,1178.4 1236.0,1177.7 1232.2,1176.7 1229.1,1175.4 1226.7,1174.0 1225.0,1172.4 1224.0,1170.7 1223.7,1168.9 1224.0,1167.1 1225.0,1165.4 1226.7,1163.8 1229.1,1162.4 1232.2,1161.1 1236.0,1160.1 1240.7,1159.4 1246.6,1158.9 1256.9,1158.8 1267.2,1158.9 1273.1,1159.4 1277.8,1160.1 1281.6,1161.1 1284.7,1162.4 1287.1,1163.8 1288.8,1165.4 1289.8,1167.1Z" fill="#53648f"/><ellipse cx="1256.9" cy="1168.9" rx="22.9" ry="4.2" fill="none" stroke="#fff" stroke-width="0.8" opacity="0.85"/><ellipse cx="1256.9" cy="1168.9" rx="15.3" ry="2.8" fill="none" stroke="#fff" stroke-width="0.8" opacity="0.85"/><ellipse cx="1256.9" cy="1168.9" rx="7.6" ry="1.4" fill="none" stroke="#fff" stroke-width="0.8" opacity="0.85"/></g>
<g><path d="M1311.2,1163.9 1311.1,1165.0 1310.7,1166.2 1310.2,1167.2 1309.3,1168.1 1308.3,1169.0 1307.0,1169.6 1305.4,1170.1 1303.3,1170.4 1299.8,1170.5 1296.3,1170.4 1294.2,1170.1 1292.6,1169.6 1291.3,1169.0 1290.3,1168.1 1289.4,1167.2 1288.9,1166.2 1288.5,1165.0 1288.4,1163.9 1288.5,1162.8 1288.9,1161.6 1289.4,1160.6 1290.3,1159.7 1291.3,1158.8 1292.6,1158.2 1294.2,1157.7 1296.3,1157.4 1299.8,1157.3 1303.3,1157.4 1305.4,1157.7 1307.0,1158.2 1308.3,1158.8 1309.3,1159.7 1310.2,1160.6 1310.7,1161.6 1311.1,1162.8Z" fill="#e65a20"/><ellipse cx="1299.8" cy="1163.9" rx="7.0" ry="2.4" fill="none" stroke="#fff" stroke-width="0.8" opacity="0.85"/><ellipse cx="1299.8" cy="1163.9" rx="3.5" ry="1.2" fill="none" stroke="#fff" stroke-width="0.8" opacity="0.85"/></g>
<g><path d="M1274.8,1197.0 1274.6,1198.4 1274.0,1199.7 1273.1,1200.9 1271.7,1202.0 1270.0,1203.0 1267.9,1203.8 1265.2,1204.4 1261.9,1204.7 1256.1,1204.8 1250.2,1204.7 1246.9,1204.4 1244.2,1203.8 1242.1,1203.0 1240.4,1202.0 1239.0,1200.9 1238.1,1199.7 1237.5,1198.4 1237.3,1197.0 1237.5,1195.6 1238.1,1194.3 1239.0,1193.1 1240.4,1192.0 1242.1,1191.0 1244.2,1190.2 1246.9,1189.6 1250.2,1189.3 1256.0,1189.2 1261.9,1189.3 1265.2,1189.6 1267.9,1190.2 1270.0,1191.0 1271.7,1192.0 1273.1,1193.1 1274.0,1194.3 1274.6,1195.6Z" fill="#53648f"/><ellipse cx="1256.0" cy="1197.0" rx="12.9" ry="3.2" fill="none" stroke="#fff" stroke-width="0.8" opacity="0.85"/><ellipse cx="1256.0" cy="1197.0" rx="8.6" ry="2.2" fill="none" stroke="#fff" stroke-width="0.8" opacity="0.85"/><ellipse cx="1256.0" cy="1197.0" rx="4.3" ry="1.1" fill="none" stroke="#fff" stroke-width="0.8" opacity="0.85"/></g>
<g><path d="M1245.8,1227.1 1245.5,1228.5 1244.5,1229.9 1242.9,1231.2 1240.6,1232.4 1237.6,1233.4 1234.0,1234.2 1229.5,1234.8 1223.8,1235.2 1213.8,1235.3 1203.8,1235.2 1198.1,1234.8 1193.6,1234.2 1190.0,1233.4 1187.0,1232.4 1184.7,1231.2 1183.1,1229.9 1182.1,1228.5 1181.8,1227.1 1182.1,1225.7 1183.1,1224.3 1184.7,1223.0 1187.0,1221.8 1190.0,1220.8 1193.6,1220.0 1198.1,1219.4 1203.8,1219.0 1213.8,1218.9 1223.8,1219.0 1229.5,1219.4 1234.0,1220.0 1237.6,1220.8 1240.6,1221.8 1242.9,1223.0 1244.5,1224.3 1245.5,1225.7Z" fill="#d8d8d8"/><ellipse cx="1213.8" cy="1227.1" rx="22.1" ry="3.4" fill="none" stroke="#fff" stroke-width="0.8" opacity="0.85"/><ellipse cx="1213.8" cy="1227.1" rx="14.7" ry="2.3" fill="none" stroke="#fff" stroke-width="0.8" opacity="0.85"/><ellipse cx="1213.8" cy="1227.1" rx="7.4" ry="1.1" fill="none" stroke="#fff" stroke-width="0.8" opacity="0.85"/></g>
<g><path d="M1218.5,1270.6 1218.3,1271.6 1217.8,1272.6 1217.0,1273.6 1215.9,1274.4 1214.4,1275.2 1212.5,1275.8 1210.2,1276.2 1207.4,1276.5 1202.4,1276.6 1197.3,1276.5 1194.5,1276.2 1192.2,1275.8 1190.3,1275.2 1188.8,1274.4 1187.7,1273.6 1186.9,1272.6 1186.4,1271.6 1186.2,1270.6 1186.4,1269.6 1186.9,1268.6 1187.7,1267.6 1188.8,1266.8 1190.3,1266.0 1192.2,1265.4 1194.5,1265.0 1197.3,1264.7 1202.3,1264.6 1207.4,1264.7 1210.2,1265.0 1212.5,1265.4 1214.4,1266.0 1215.9,1266.8 1217.0,1267.6 1217.8,1268.6 1218.3,1269.6Z" fill="#e65a20"/><ellipse cx="1202.3" cy="1270.6" rx="11.1" ry="2.5" fill="none" stroke="#fff" stroke-width="0.8" opacity="0.85"/><ellipse cx="1202.3" cy="1270.6" rx="7.4" ry="1.6" fill="none" stroke="#fff" stroke-width="0.8" opacity="0.85"/><ellipse cx="1202.3" cy="1270.6" rx="3.7" ry="0.8" fill="none" stroke="#fff" stroke-width="0.8" opacity="0.85"/></g>
<g><path d="M1231.5,1264.6 1231.4,1266.6 1231.1,1268.5 1230.7,1270.2 1230.0,1271.8 1229.2,1273.2 1228.2,1274.4 1226.9,1275.2 1225.3,1275.7 1222.5,1275.9 1219.7,1275.7 1218.1,1275.2 1216.8,1274.4 1215.8,1273.2 1215.0,1271.8 1214.3,1270.2 1213.9,1268.5 1213.6,1266.6 1213.5,1264.6 1213.6,1262.6 1213.9,1260.7 1214.3,1259.0 1215.0,1257.4 1215.8,1256.0 1216.8,1254.8 1218.1,1254.0 1219.7,1253.5 1222.5,1253.3 1225.3,1253.5 1226.9,1254.0 1228.2,1254.8 1229.2,1256.0 1230.0,1257.4 1230.7,1259.0 1231.1,1260.7 1231.4,1262.6Z" fill="#e65a20"/><ellipse cx="1222.5" cy="1264.6" rx="5.5" ry="4.1" fill="none" stroke="#fff" stroke-width="0.8" opacity="0.85"/><ellipse cx="1222.5" cy="1264.6" rx="2.8" ry="2.1" fill="none" stroke="#fff" stroke-width="0.8" opacity="0.85"/></g>
<g><path d="M1239.5,1268.9 1239.4,1270.9 1239.0,1272.7 1238.4,1274.2 1237.5,1275.1 1236.5,1275.4 1235.5,1275.1 1234.6,1274.2 1234.0,1272.7 1233.6,1270.9 1233.5,1268.9 1233.6,1266.9 1234.0,1265.1 1234.6,1263.6 1235.5,1262.7 1236.5,1262.4 1237.5,1262.7 1238.4,1263.6 1239.0,1265.1 1239.4,1266.9Z" fill="none" stroke="#d8d8d8" stroke-width="1.0"/><path d="M1238.0,1268.9 1237.9,1269.9 1237.7,1270.8 1237.4,1271.5 1237.0,1272.0 1236.5,1272.2 1236.0,1272.0 1235.6,1271.5 1235.3,1270.8 1235.1,1269.9 1235.0,1268.9 1235.1,1267.9 1235.3,1267.0 1235.6,1266.3 1236.0,1265.8 1236.5,1265.7 1237.0,1265.8 1237.4,1266.3 1237.7,1267.0 1237.9,1267.9Z" fill="none" stroke="#d8d8d8" stroke-width="1.0"/></g>
<g><path d="M1253.5,1273.9 1253.5,1274.7 1253.3,1275.4 1253.1,1275.9 1252.7,1276.3 1252.0,1276.4 1251.3,1276.3 1250.9,1275.9 1250.7,1275.4 1250.5,1274.7 1250.5,1273.9 1250.5,1273.1 1250.7,1272.4 1250.9,1271.9 1251.3,1271.5 1252.0,1271.4 1252.7,1271.5 1253.1,1271.9 1253.3,1272.4 1253.5,1273.1Z" fill="#d8d8d8"/></g>
<g><path d="M1187.2,1313.4 1187.1,1314.3 1186.7,1315.1 1186.1,1315.8 1185.2,1316.5 1184.0,1317.1 1182.6,1317.6 1180.9,1318.0 1178.7,1318.2 1174.8,1318.2 1170.9,1318.2 1168.7,1318.0 1167.0,1317.6 1165.6,1317.1 1164.4,1316.5 1163.5,1315.8 1162.9,1315.1 1162.5,1314.3 1162.4,1313.4 1162.5,1312.6 1162.9,1311.8 1163.5,1311.1 1164.4,1310.4 1165.6,1309.8 1167.0,1309.3 1168.7,1308.9 1170.9,1308.7 1174.8,1308.7 1178.7,1308.7 1180.9,1308.9 1182.6,1309.3 1184.0,1309.8 1185.2,1310.4 1186.1,1311.1 1186.7,1311.8 1187.1,1312.6Z" fill="#d8d8d8"/><ellipse cx="1174.8" cy="1313.4" rx="5.7" ry="1.3" fill="none" stroke="#fff" stroke-width="0.8" opacity="0.85"/></g>
<g><path d="M1188.5,1378.7 1188.4,1380.0 1188.0,1381.2 1187.4,1382.2 1186.6,1382.8 1185.7,1383.0 1184.7,1382.8 1183.9,1382.2 1183.3,1381.2 1182.9,1380.0 1182.8,1378.7 1182.9,1377.4 1183.3,1376.2 1183.9,1375.2 1184.7,1374.6 1185.7,1374.4 1186.6,1374.6 1187.4,1375.2 1188.0,1376.2 1188.4,1377.4Z" fill="none" stroke="#e65a20" stroke-width="1.5"/></g>
<g><path d="M1406.6,1269.7 1406.4,1270.5 1405.9,1271.3 1405.0,1272.1 1403.7,1272.7 1402.2,1273.3 1400.5,1273.7 1398.4,1273.9 1396.0,1274.0 1393.7,1273.9 1391.6,1273.7 1389.9,1273.3 1388.4,1272.7 1387.1,1272.1 1386.2,1271.3 1385.7,1270.5 1385.5,1269.7 1385.7,1268.9 1386.2,1268.1 1387.1,1267.3 1388.4,1266.7 1389.9,1266.1 1391.6,1265.7 1393.7,1265.5 1396.0,1265.4 1398.4,1265.5 1400.5,1265.7 1402.2,1266.1 1403.7,1266.7 1405.0,1267.3 1405.9,1268.1 1406.4,1268.9Z" fill="none" stroke="#d8d8d8" stroke-width="1.0"/><path d="M1401.3,1269.7 1401.1,1270.4 1400.4,1271.0 1399.3,1271.4 1397.9,1271.7 1396.0,1271.8 1394.2,1271.7 1392.8,1271.4 1391.7,1271.0 1391.0,1270.4 1390.8,1269.7 1391.0,1269.0 1391.7,1268.4 1392.8,1268.0 1394.2,1267.7 1396.0,1267.5 1397.9,1267.7 1399.3,1268.0 1400.4,1268.4 1401.1,1269.0Z" fill="none" stroke="#d8d8d8" stroke-width="1.0"/></g>
<text x="1373.5" y="871.4" font-size="24" fill="#3b4ba6">A<tspan font-size="16" dy="7">α</tspan></text>
<text x="1425.6" y="942.9" font-size="24" fill="#3b4ba6">A<tspan font-size="15" dy="8">β-G</tspan></text>
<text x="1500.5" y="994.0" font-size="24" fill="#3b4ba6">A<tspan font-size="15" dy="8">β-S</tspan></text>
<rect x="1414.6" y="1352.1" width="111.7" height="66.5" fill="#f6f6d6" stroke="#222" stroke-width="1.2"/>
<rect x="1526.3" y="1287.8" width="153.2" height="130.8" fill="#f6f6d6" stroke="#222" stroke-width="1.2"/>
<text x="1539.7" y="1317.1" font-size="21.5" fill="#a93439" textLength="88.1" lengthAdjust="spacingAndGlyphs">S: 25.6%</text>
<text x="1539.7" y="1346.6" font-size="21.5" fill="#53648f" textLength="95.0" lengthAdjust="spacingAndGlyphs">G: 74.4%</text>
<text x="1539.7" y="1377.6" font-size="21.5" textLength="100.8" lengthAdjust="spacingAndGlyphs"><tspan fill="#a93439">S</tspan><tspan fill="#000">/</tspan><tspan fill="#53648f">G:</tspan><tspan fill="#000"> 0.34</tspan></text>
<text x="1539.7" y="1407.4" font-size="21.5" fill="#e65a20" textLength="104.3" lengthAdjust="spacingAndGlyphs"><tspan font-style="italic">p</tspan>CA: 3.4%</text>
<text x="1425.1" y="1377.6" font-size="21.5" fill="#3b4ba6" textLength="89.0" lengthAdjust="spacingAndGlyphs">A: 21.6%</text>
<text x="1425.1" y="1407.4" font-size="21.5" fill="#5cba48" textLength="74.2" lengthAdjust="spacingAndGlyphs">B: 4.0%</text>
<text x="282.7" y="1458.0" font-size="22" fill="#e3922a" textLength="96.8" lengthAdjust="spacingAndGlyphs">Methoxyl</text>
<g><path d="M529.5,1465.1 529.3,1466.0 528.9,1466.9 528.1,1467.7 527.0,1468.5 525.5,1469.1 523.8,1469.7 521.6,1470.1 518.8,1470.3 514.0,1470.4 509.2,1470.3 506.4,1470.1 504.2,1469.7 502.5,1469.1 501.0,1468.5 499.9,1467.7 499.1,1466.9 498.7,1466.0 498.5,1465.1 498.7,1464.2 499.1,1463.3 499.9,1462.5 501.0,1461.7 502.5,1461.1 504.2,1460.5 506.4,1460.1 509.2,1459.9 514.0,1459.8 518.8,1459.9 521.6,1460.1 523.8,1460.5 525.5,1461.1 527.0,1461.7 528.1,1462.5 528.9,1463.3 529.3,1464.2Z" fill="#d8d8d8"/><ellipse cx="514.0" cy="1465.1" rx="9.5" ry="1.9" fill="none" stroke="#fff" stroke-width="0.8" opacity="0.85"/><ellipse cx="514.0" cy="1465.1" rx="4.8" ry="1.0" fill="none" stroke="#fff" stroke-width="0.8" opacity="0.85"/></g>
<g transform="rotate(-4 435.0 1463.1)"><path d="M500.5,1463.1 499.8,1464.6 497.8,1466.1 494.5,1467.5 489.8,1468.8 483.8,1469.8 476.3,1470.7 467.0,1471.4 455.4,1471.8 435.0,1471.9 414.6,1471.8 403.0,1471.4 393.7,1470.7 386.2,1469.8 380.2,1468.8 375.5,1467.5 372.2,1466.1 370.2,1464.6 369.5,1463.1 370.2,1461.6 372.2,1460.1 375.5,1458.7 380.2,1457.4 386.2,1456.4 393.7,1455.5 403.0,1454.8 414.6,1454.4 435.0,1454.3 455.4,1454.4 467.0,1454.8 476.3,1455.5 483.8,1456.4 489.8,1457.4 494.5,1458.7 497.8,1460.1 499.8,1461.6Z" fill="#e3922a"/><ellipse cx="435.0" cy="1463.1" rx="45.2" ry="3.6" fill="none" stroke="#fff" stroke-width="0.8" opacity="0.85"/><ellipse cx="435.0" cy="1463.1" rx="30.1" ry="2.4" fill="none" stroke="#fff" stroke-width="0.8" opacity="0.85"/><ellipse cx="435.0" cy="1463.1" rx="15.1" ry="1.2" fill="none" stroke="#fff" stroke-width="0.8" opacity="0.85"/></g>
<g><path d="M350.8,1520.3 350.7,1521.3 350.5,1522.3 350.0,1523.3 349.4,1524.1 348.6,1524.9 347.7,1525.5 346.5,1525.9 344.9,1526.2 342.3,1526.3 339.7,1526.2 338.1,1525.9 336.9,1525.5 336.0,1524.9 335.2,1524.1 334.6,1523.3 334.1,1522.3 333.9,1521.3 333.8,1520.3 333.9,1519.3 334.1,1518.3 334.6,1517.3 335.2,1516.5 336.0,1515.7 336.9,1515.1 338.1,1514.7 339.7,1514.4 342.3,1514.3 344.9,1514.4 346.5,1514.7 347.7,1515.1 348.6,1515.7 349.4,1516.5 350.0,1517.3 350.5,1518.3 350.7,1519.3Z" fill="#d8d8d8"/><ellipse cx="342.3" cy="1520.3" rx="3.9" ry="1.6" fill="none" stroke="#fff" stroke-width="0.8" opacity="0.85"/></g>
<g><path d="M495.5,1514.4 495.2,1515.6 494.4,1516.7 492.9,1517.8 490.9,1518.8 488.4,1519.6 485.1,1520.3 481.2,1520.8 476.2,1521.1 467.5,1521.2 458.8,1521.1 453.8,1520.8 449.9,1520.3 446.6,1519.6 444.1,1518.8 442.1,1517.8 440.6,1516.7 439.8,1515.6 439.5,1514.4 439.8,1513.2 440.6,1512.1 442.1,1511.0 444.1,1510.0 446.6,1509.2 449.9,1508.5 453.8,1508.0 458.8,1507.7 467.5,1507.6 476.2,1507.7 481.2,1508.0 485.1,1508.5 488.4,1509.2 490.9,1510.0 492.9,1511.0 494.4,1512.1 495.2,1513.2Z" fill="#d8d8d8"/><ellipse cx="467.5" cy="1514.4" rx="19.3" ry="2.8" fill="none" stroke="#fff" stroke-width="0.8" opacity="0.85"/><ellipse cx="467.5" cy="1514.4" rx="12.9" ry="1.9" fill="none" stroke="#fff" stroke-width="0.8" opacity="0.85"/><ellipse cx="467.5" cy="1514.4" rx="6.4" ry="0.9" fill="none" stroke="#fff" stroke-width="0.8" opacity="0.85"/></g>
<g><path d="M505.8,1496.1 505.5,1496.9 504.7,1497.6 503.3,1498.3 501.4,1498.9 499.1,1499.4 496.4,1499.8 493.3,1500.0 489.7,1500.1 486.0,1500.0 482.9,1499.8 480.2,1499.4 477.9,1498.9 476.0,1498.3 474.6,1497.6 473.8,1496.9 473.5,1496.1 473.8,1495.3 474.6,1494.6 476.0,1493.9 477.9,1493.3 480.2,1492.8 482.9,1492.4 486.0,1492.2 489.6,1492.1 493.3,1492.2 496.4,1492.4 499.1,1492.8 501.4,1493.3 503.3,1493.9 504.7,1494.6 505.5,1495.3Z" fill="none" stroke="#3b4ba6" stroke-width="1.2"/><path d="M497.7,1496.1 497.6,1496.5 497.2,1496.9 496.5,1497.2 495.5,1497.5 494.4,1497.8 493.0,1497.9 491.5,1498.1 489.6,1498.1 487.8,1498.1 486.3,1497.9 484.9,1497.8 483.8,1497.5 482.8,1497.2 482.1,1496.9 481.7,1496.5 481.6,1496.1 481.7,1495.7 482.1,1495.3 482.8,1495.0 483.8,1494.7 484.9,1494.4 486.3,1494.3 487.8,1494.1 489.6,1494.1 491.5,1494.1 493.0,1494.3 494.4,1494.4 495.5,1494.7 496.5,1495.0 497.2,1495.3 497.6,1495.7Z" fill="none" stroke="#3b4ba6" stroke-width="1.2"/></g>
<g><path d="M480.2,1493.9 479.6,1496.2 477.8,1498.5 474.8,1500.6 470.5,1502.4 465.0,1503.8 458.1,1504.9 449.7,1505.5 439.2,1505.7 420.6,1505.2 402.0,1504.3 391.5,1503.4 383.1,1502.4 376.2,1501.2 370.7,1499.9 366.4,1498.5 363.4,1497.0 361.6,1495.5 361.0,1493.9 361.6,1492.3 363.4,1490.8 366.4,1489.3 370.7,1487.9 376.2,1486.6 383.1,1485.4 391.5,1484.4 402.0,1483.5 420.6,1482.6 439.2,1482.1 449.7,1482.3 458.1,1482.9 465.0,1484.0 470.5,1485.4 474.8,1487.2 477.8,1489.3 479.6,1491.6Z" fill="#3b4ba6"/><ellipse cx="420.6" cy="1493.9" rx="41.1" ry="4.6" fill="none" stroke="#fff" stroke-width="0.8" opacity="0.85"/><ellipse cx="420.6" cy="1493.9" rx="27.4" ry="3.1" fill="none" stroke="#fff" stroke-width="0.8" opacity="0.85"/><ellipse cx="420.6" cy="1493.9" rx="13.7" ry="1.5" fill="none" stroke="#fff" stroke-width="0.8" opacity="0.85"/></g>
<g><path d="M422.3,1517.0 422.0,1518.8 421.1,1520.6 419.6,1522.2 417.4,1523.7 414.7,1525.0 411.3,1526.1 407.1,1526.8 401.8,1527.3 392.5,1527.5 383.2,1527.3 377.9,1526.8 373.7,1526.1 370.3,1525.0 367.6,1523.7 365.4,1522.2 363.9,1520.6 363.0,1518.8 362.7,1517.0 363.0,1515.2 363.9,1513.4 365.4,1511.8 367.6,1510.3 370.3,1509.0 373.7,1507.9 377.9,1507.2 383.2,1506.7 392.5,1506.5 401.8,1506.7 407.1,1507.2 411.3,1507.9 414.7,1509.0 417.4,1510.3 419.6,1511.8 421.1,1513.4 422.0,1515.2Z" fill="#3b4ba6"/><ellipse cx="392.5" cy="1517.0" rx="20.6" ry="4.3" fill="none" stroke="#fff" stroke-width="0.8" opacity="0.85"/><ellipse cx="392.5" cy="1517.0" rx="13.7" ry="2.9" fill="none" stroke="#fff" stroke-width="0.8" opacity="0.85"/><ellipse cx="392.5" cy="1517.0" rx="6.9" ry="1.4" fill="none" stroke="#fff" stroke-width="0.8" opacity="0.85"/></g>
<g><path d="M364.5,1516.9 364.4,1518.9 364.0,1520.8 363.4,1522.6 362.6,1524.1 361.7,1525.4 360.5,1526.3 359.2,1526.9 357.6,1527.1 356.1,1526.9 354.8,1526.3 353.6,1525.4 352.7,1524.1 351.9,1522.6 351.3,1520.8 350.9,1518.9 350.8,1516.9 350.9,1514.9 351.3,1513.0 351.9,1511.2 352.7,1509.7 353.6,1508.4 354.8,1507.5 356.1,1506.9 357.6,1506.7 359.2,1506.9 360.5,1507.5 361.7,1508.4 362.6,1509.7 363.4,1511.2 364.0,1513.0 364.4,1514.9Z" fill="none" stroke="#4ec4d0" stroke-width="1.3"/><path d="M362.8,1516.9 362.7,1518.4 362.4,1519.8 362.0,1521.2 361.4,1522.3 360.7,1523.3 359.8,1524.0 358.8,1524.4 357.6,1524.5 356.5,1524.4 355.5,1524.0 354.6,1523.3 353.9,1522.3 353.3,1521.2 352.9,1519.8 352.6,1518.4 352.5,1516.9 352.6,1515.4 352.9,1514.0 353.3,1512.6 353.9,1511.5 354.6,1510.5 355.5,1509.8 356.5,1509.4 357.6,1509.2 358.8,1509.4 359.8,1509.8 360.7,1510.5 361.4,1511.5 362.0,1512.6 362.4,1514.0 362.7,1515.4Z" fill="none" stroke="#4ec4d0" stroke-width="1.3"/><path d="M361.1,1516.9 360.9,1518.5 360.5,1519.9 359.8,1521.0 358.8,1521.8 357.6,1522.0 356.5,1521.8 355.5,1521.0 354.8,1519.9 354.4,1518.5 354.2,1516.9 354.4,1515.3 354.8,1513.9 355.5,1512.8 356.5,1512.0 357.6,1511.8 358.8,1512.0 359.8,1512.8 360.5,1513.9 360.9,1515.3Z" fill="none" stroke="#4ec4d0" stroke-width="1.3"/><path d="M359.4,1516.9 359.3,1517.7 359.1,1518.4 358.7,1519.0 358.2,1519.3 357.6,1519.4 357.1,1519.3 356.6,1519.0 356.2,1518.4 356.0,1517.7 355.9,1516.9 356.0,1516.1 356.2,1515.4 356.6,1514.8 357.1,1514.5 357.6,1514.3 358.2,1514.5 358.7,1514.8 359.1,1515.4 359.3,1516.1Z" fill="none" stroke="#4ec4d0" stroke-width="1.3"/></g>
<g><path d="M440.1,1521.2 440.0,1522.1 439.9,1523.0 439.6,1523.8 439.2,1524.6 438.6,1525.2 437.9,1525.7 436.9,1526.1 435.5,1526.3 430.9,1526.4 426.3,1526.3 424.9,1526.1 423.9,1525.7 423.2,1525.2 422.6,1524.6 422.2,1523.8 421.9,1523.0 421.8,1522.1 421.7,1521.2 421.8,1520.4 421.9,1519.5 422.2,1518.7 422.6,1517.9 423.2,1517.3 423.9,1516.8 424.9,1516.4 426.3,1516.2 430.9,1516.1 435.5,1516.2 436.9,1516.4 437.9,1516.8 438.6,1517.3 439.2,1517.9 439.6,1518.7 439.9,1519.5 440.0,1520.4Z" fill="#5cba48"/></g>
<g><path d="M463.5,1568.1 463.2,1571.0 462.1,1573.8 460.4,1576.5 458.0,1578.8 454.8,1580.9 450.9,1582.6 446.1,1583.8 440.1,1584.6 429.5,1584.8 418.9,1584.6 412.9,1583.8 408.1,1582.6 404.2,1580.9 401.0,1578.8 398.6,1576.5 396.9,1573.8 395.8,1571.0 395.5,1568.1 395.8,1565.2 396.9,1562.4 398.6,1559.7 401.0,1557.4 404.2,1555.3 408.1,1553.6 412.9,1552.4 418.9,1551.6 429.5,1551.4 440.1,1551.6 446.1,1552.4 450.9,1553.6 454.8,1555.3 458.0,1557.4 460.4,1559.7 462.1,1562.4 463.2,1565.2Z" fill="#d8d8d8"/><ellipse cx="429.5" cy="1568.1" rx="23.5" ry="6.9" fill="none" stroke="#fff" stroke-width="0.8" opacity="0.85"/><ellipse cx="429.5" cy="1568.1" rx="15.6" ry="4.6" fill="none" stroke="#fff" stroke-width="0.8" opacity="0.85"/><ellipse cx="429.5" cy="1568.1" rx="7.8" ry="2.3" fill="none" stroke="#fff" stroke-width="0.8" opacity="0.85"/></g>
<g transform="rotate(-4 448.7 1599.1)"><path d="M510.9,1599.1 510.3,1602.6 508.4,1606.0 505.2,1609.2 500.8,1612.1 495.0,1614.6 487.9,1616.6 479.1,1618.1 468.1,1619.0 448.7,1619.3 429.3,1619.0 418.3,1618.1 409.5,1616.6 402.4,1614.6 396.6,1612.1 392.2,1609.2 389.0,1606.0 387.1,1602.6 386.5,1599.1 387.1,1595.6 389.0,1592.2 392.2,1589.0 396.6,1586.1 402.4,1583.6 409.5,1581.6 418.3,1580.1 429.3,1579.2 448.7,1578.9 468.1,1579.2 479.1,1580.1 487.9,1581.6 495.0,1583.6 500.8,1586.1 505.2,1589.0 508.4,1592.2 510.3,1595.6Z" fill="#d8d8d8"/><ellipse cx="448.7" cy="1599.1" rx="42.9" ry="8.3" fill="none" stroke="#fff" stroke-width="0.8" opacity="0.85"/><ellipse cx="448.7" cy="1599.1" rx="28.6" ry="5.6" fill="none" stroke="#fff" stroke-width="0.8" opacity="0.85"/><ellipse cx="448.7" cy="1599.1" rx="14.3" ry="2.8" fill="none" stroke="#fff" stroke-width="0.8" opacity="0.85"/></g>
<g><path d="M446.5,1633.3 446.4,1634.3 445.9,1635.2 445.2,1636.1 444.2,1636.9 442.9,1637.6 441.3,1638.1 439.3,1638.5 436.9,1638.8 432.5,1638.8 428.1,1638.8 425.7,1638.5 423.7,1638.1 422.1,1637.6 420.8,1636.9 419.8,1636.1 419.1,1635.2 418.6,1634.3 418.5,1633.3 418.6,1632.4 419.1,1631.5 419.8,1630.6 420.8,1629.8 422.1,1629.1 423.7,1628.6 425.7,1628.2 428.1,1627.9 432.5,1627.8 436.9,1627.9 439.3,1628.2 441.3,1628.6 442.9,1629.1 444.2,1629.8 445.2,1630.6 445.9,1631.5 446.4,1632.4Z" fill="#d8d8d8"/><ellipse cx="432.5" cy="1633.3" rx="6.4" ry="1.5" fill="none" stroke="#fff" stroke-width="0.8" opacity="0.85"/></g>
<g transform="rotate(-20 387.9 1572.6)"><path d="M400.2,1572.6 400.0,1575.0 399.3,1577.4 398.3,1579.5 396.9,1581.4 395.1,1583.0 393.0,1584.1 390.6,1584.9 387.9,1585.1 385.1,1584.9 382.7,1584.1 380.6,1583.0 378.8,1581.4 377.4,1579.5 376.4,1577.4 375.7,1575.0 375.5,1572.6 375.7,1570.2 376.4,1567.8 377.4,1565.7 378.8,1563.8 380.6,1562.2 382.7,1561.1 385.1,1560.3 387.8,1560.1 390.6,1560.3 393.0,1561.1 395.1,1562.2 396.9,1563.8 398.3,1565.7 399.3,1567.8 400.0,1570.2Z" fill="none" stroke="#4a5638" stroke-width="1.3"/><path d="M397.1,1572.6 397.0,1574.4 396.5,1576.2 395.7,1577.8 394.6,1579.2 393.3,1580.4 391.7,1581.3 389.9,1581.8 387.9,1582.0 385.8,1581.8 384.0,1581.3 382.4,1580.4 381.1,1579.2 380.0,1577.8 379.2,1576.2 378.7,1574.4 378.6,1572.6 378.7,1570.8 379.2,1569.0 380.0,1567.4 381.1,1566.0 382.4,1564.8 384.0,1563.9 385.8,1563.4 387.8,1563.2 389.9,1563.4 391.7,1563.9 393.3,1564.8 394.6,1566.0 395.7,1567.4 396.5,1569.0 397.0,1570.8Z" fill="none" stroke="#4a5638" stroke-width="1.3"/><path d="M394.0,1572.6 393.7,1574.5 392.9,1576.3 391.7,1577.7 390.0,1578.5 387.9,1578.8 385.7,1578.5 384.0,1577.7 382.8,1576.3 382.0,1574.5 381.7,1572.6 382.0,1570.7 382.8,1568.9 384.0,1567.5 385.7,1566.7 387.8,1566.3 390.0,1566.7 391.7,1567.5 392.9,1568.9 393.7,1570.7Z" fill="none" stroke="#4a5638" stroke-width="1.3"/><path d="M390.9,1572.6 390.8,1573.6 390.4,1574.4 389.8,1575.1 388.9,1575.6 387.9,1575.7 386.8,1575.6 385.9,1575.1 385.3,1574.4 384.9,1573.6 384.8,1572.6 384.9,1571.6 385.3,1570.8 385.9,1570.1 386.8,1569.6 387.9,1569.5 388.9,1569.6 389.8,1570.1 390.4,1570.8 390.8,1571.6Z" fill="none" stroke="#4a5638" stroke-width="1.3"/></g>
<g><path d="M373.5,1575.1 373.3,1576.6 372.8,1578.0 372.0,1579.1 370.9,1579.9 369.5,1580.1 368.1,1579.9 367.0,1579.1 366.2,1578.0 365.7,1576.6 365.5,1575.1 365.7,1573.6 366.2,1572.2 367.0,1571.1 368.1,1570.3 369.5,1570.1 370.9,1570.3 372.0,1571.1 372.8,1572.2 373.3,1573.6Z" fill="none" stroke="#d8d8d8" stroke-width="1.0"/></g>
<g><path d="M334.5,1580.9 334.2,1582.6 333.3,1584.3 331.7,1585.8 329.6,1587.2 326.8,1588.5 323.3,1589.4 319.1,1590.2 313.7,1590.6 304.4,1590.8 295.0,1590.6 289.6,1590.2 285.4,1589.4 281.9,1588.5 279.1,1587.2 277.0,1585.8 275.4,1584.3 274.5,1582.6 274.2,1580.9 274.5,1579.2 275.4,1577.5 277.0,1576.0 279.1,1574.6 281.9,1573.3 285.4,1572.4 289.6,1571.6 295.0,1571.2 304.3,1571.0 313.7,1571.2 319.1,1571.6 323.3,1572.4 326.8,1573.3 329.6,1574.6 331.7,1576.0 333.3,1577.5 334.2,1579.2Z" fill="#3b4ba6"/><ellipse cx="304.4" cy="1580.9" rx="20.8" ry="4.1" fill="none" stroke="#fff" stroke-width="0.8" opacity="0.85"/><ellipse cx="304.4" cy="1580.9" rx="13.9" ry="2.7" fill="none" stroke="#fff" stroke-width="0.8" opacity="0.85"/><ellipse cx="304.4" cy="1580.9" rx="6.9" ry="1.4" fill="none" stroke="#fff" stroke-width="0.8" opacity="0.85"/></g>
<g><path d="M338.9,1588.7 338.7,1590.2 338.2,1591.6 337.2,1592.9 336.0,1594.1 334.5,1595.0 332.7,1595.7 330.6,1596.2 328.2,1596.3 325.8,1596.2 323.7,1595.7 321.9,1595.0 320.4,1594.1 319.2,1592.9 318.2,1591.6 317.7,1590.2 317.5,1588.7 317.7,1587.2 318.2,1585.8 319.2,1584.5 320.4,1583.3 321.9,1582.4 323.7,1581.7 325.8,1581.2 328.2,1581.1 330.6,1581.2 332.7,1581.7 334.5,1582.4 336.0,1583.3 337.2,1584.5 338.2,1585.8 338.7,1587.2Z" fill="none" stroke="#3b4ba6" stroke-width="1.2"/><path d="M333.5,1588.7 333.3,1589.9 332.6,1590.9 331.5,1591.8 330.0,1592.3 328.2,1592.5 326.4,1592.3 324.9,1591.8 323.8,1590.9 323.1,1589.9 322.9,1588.7 323.1,1587.5 323.8,1586.5 324.9,1585.6 326.4,1585.1 328.2,1584.9 330.0,1585.1 331.5,1585.6 332.6,1586.5 333.3,1587.5Z" fill="none" stroke="#3b4ba6" stroke-width="1.2"/></g>
<g><path d="M304.8,1601.3 304.6,1602.4 304.0,1603.5 303.0,1604.3 301.6,1604.8 298.9,1605.0 296.1,1604.8 294.7,1604.3 293.7,1603.5 293.1,1602.4 292.9,1601.3 293.1,1600.2 293.7,1599.1 294.7,1598.3 296.1,1597.8 298.8,1597.6 301.6,1597.8 303.0,1598.3 304.0,1599.1 304.6,1600.2Z" fill="#d8d8d8"/><ellipse cx="298.9" cy="1601.3" rx="2.7" ry="1.0" fill="none" stroke="#fff" stroke-width="0.8" opacity="0.85"/></g>
<g><path d="M361.0,1667.6 360.7,1669.1 359.6,1670.5 358.0,1671.8 355.7,1672.9 352.9,1673.8 349.6,1674.5 345.9,1675.0 341.5,1675.1 337.0,1675.0 333.3,1674.5 330.0,1673.8 327.2,1672.9 324.9,1671.8 323.3,1670.5 322.2,1669.1 321.9,1667.6 322.2,1666.1 323.3,1664.7 324.9,1663.4 327.2,1662.3 330.0,1661.4 333.3,1660.7 337.0,1660.2 341.4,1660.1 345.9,1660.2 349.6,1660.7 352.9,1661.4 355.7,1662.3 358.0,1663.4 359.6,1664.7 360.7,1666.1Z" fill="none" stroke="#3b4ba6" stroke-width="1.2"/><path d="M354.5,1667.6 354.3,1668.6 353.6,1669.5 352.5,1670.4 351.0,1671.1 349.1,1671.8 346.9,1672.2 344.4,1672.5 341.4,1672.6 338.5,1672.5 336.0,1672.2 333.8,1671.8 331.9,1671.1 330.4,1670.4 329.3,1669.5 328.6,1668.6 328.4,1667.6 328.6,1666.6 329.3,1665.7 330.4,1664.8 331.9,1664.1 333.8,1663.4 336.0,1663.0 338.5,1662.7 341.4,1662.6 344.4,1662.7 346.9,1663.0 349.1,1663.4 351.0,1664.1 352.5,1664.8 353.6,1665.7 354.3,1666.6Z" fill="none" stroke="#3b4ba6" stroke-width="1.2"/><path d="M348.0,1667.6 347.7,1668.4 346.8,1669.1 345.5,1669.6 343.7,1670.0 341.4,1670.1 339.2,1670.0 337.4,1669.6 336.1,1669.1 335.2,1668.4 334.9,1667.6 335.2,1666.8 336.1,1666.1 337.4,1665.6 339.2,1665.2 341.4,1665.1 343.7,1665.2 345.5,1665.6 346.8,1666.1 347.7,1666.8Z" fill="none" stroke="#3b4ba6" stroke-width="1.2"/></g>
<g><path d="M390.0,1681.9 389.8,1683.4 389.1,1684.8 388.1,1686.2 386.5,1687.4 384.6,1688.5 382.1,1689.4 379.1,1690.0 375.3,1690.4 368.7,1690.5 362.1,1690.4 358.3,1690.0 355.3,1689.4 352.8,1688.5 350.9,1687.4 349.3,1686.2 348.3,1684.8 347.6,1683.4 347.4,1681.9 347.6,1680.4 348.3,1679.0 349.3,1677.6 350.9,1676.4 352.8,1675.3 355.3,1674.4 358.3,1673.8 362.1,1673.4 368.7,1673.3 375.3,1673.4 379.1,1673.8 382.1,1674.4 384.6,1675.3 386.5,1676.4 388.1,1677.6 389.1,1679.0 389.8,1680.4Z" fill="#3b4ba6"/><ellipse cx="368.7" cy="1681.9" rx="13.1" ry="3.2" fill="none" stroke="#fff" stroke-width="0.8" opacity="0.85"/><ellipse cx="368.7" cy="1681.9" rx="6.5" ry="1.6" fill="none" stroke="#fff" stroke-width="0.8" opacity="0.85"/></g>
<g><path d="M346.5,1781.2 346.2,1783.0 345.4,1784.6 344.0,1786.2 342.1,1787.5 339.8,1788.6 337.0,1789.4 333.9,1789.9 330.3,1790.1 326.6,1789.9 323.5,1789.4 320.7,1788.6 318.4,1787.5 316.5,1786.2 315.1,1784.6 314.3,1783.0 314.0,1781.2 314.3,1779.5 315.1,1777.9 316.5,1776.3 318.4,1775.0 320.7,1773.9 323.5,1773.1 326.6,1772.6 330.2,1772.4 333.9,1772.6 337.0,1773.1 339.8,1773.9 342.1,1775.0 344.0,1776.3 345.4,1777.9 346.2,1779.5Z" fill="none" stroke="#d8d8d8" stroke-width="1.0"/><path d="M341.1,1781.2 340.9,1782.4 340.3,1783.5 339.4,1784.5 338.2,1785.4 336.6,1786.2 334.8,1786.7 332.7,1787.0 330.2,1787.2 327.8,1787.0 325.7,1786.7 323.9,1786.2 322.3,1785.4 321.1,1784.5 320.2,1783.5 319.6,1782.4 319.4,1781.2 319.6,1780.1 320.2,1779.0 321.1,1778.0 322.3,1777.1 323.9,1776.3 325.7,1775.8 327.8,1775.5 330.2,1775.3 332.7,1775.5 334.8,1775.8 336.6,1776.3 338.2,1777.1 339.4,1778.0 340.3,1779.0 340.9,1780.1Z" fill="none" stroke="#d8d8d8" stroke-width="1.0"/><path d="M335.7,1781.2 335.4,1782.2 334.7,1783.0 333.6,1783.6 332.1,1784.1 330.2,1784.2 328.4,1784.1 326.9,1783.6 325.8,1783.0 325.1,1782.2 324.8,1781.2 325.1,1780.3 325.8,1779.5 326.9,1778.9 328.4,1778.4 330.2,1778.3 332.1,1778.4 333.6,1778.9 334.7,1779.5 335.4,1780.3Z" fill="none" stroke="#d8d8d8" stroke-width="1.0"/></g>
<g><path d="M388.3,1791.9 388.0,1793.9 387.0,1795.8 385.4,1797.6 383.2,1799.2 380.3,1800.6 376.7,1801.7 372.3,1802.6 366.7,1803.1 356.9,1803.3 347.1,1803.1 341.5,1802.6 337.1,1801.7 333.5,1800.6 330.6,1799.2 328.4,1797.6 326.8,1795.8 325.8,1793.9 325.5,1791.9 325.8,1790.0 326.8,1788.1 328.4,1786.3 330.6,1784.7 333.5,1783.3 337.1,1782.2 341.5,1781.3 347.1,1780.8 356.9,1780.6 366.7,1780.8 372.3,1781.3 376.7,1782.2 380.3,1783.3 383.2,1784.7 385.4,1786.3 387.0,1788.1 388.0,1790.0Z" fill="#d8d8d8"/><ellipse cx="356.9" cy="1791.9" rx="21.7" ry="4.7" fill="none" stroke="#fff" stroke-width="0.8" opacity="0.85"/><ellipse cx="356.9" cy="1791.9" rx="14.4" ry="3.1" fill="none" stroke="#fff" stroke-width="0.8" opacity="0.85"/><ellipse cx="356.9" cy="1791.9" rx="7.2" ry="1.6" fill="none" stroke="#fff" stroke-width="0.8" opacity="0.85"/></g>
<g transform="rotate(-2 137.9 1808.6)"><path d="M172.0,1808.6 171.7,1810.3 170.6,1811.9 168.9,1813.4 166.5,1814.8 163.3,1816.0 159.4,1817.0 154.6,1817.7 148.5,1818.1 138.0,1818.3 127.4,1818.1 121.3,1817.7 116.5,1817.0 112.6,1816.0 109.4,1814.8 107.0,1813.4 105.3,1811.9 104.2,1810.3 103.9,1808.6 104.2,1806.9 105.3,1805.3 107.0,1803.8 109.4,1802.4 112.6,1801.2 116.5,1800.2 121.3,1799.5 127.4,1799.1 137.9,1798.9 148.5,1799.1 154.6,1799.5 159.4,1800.2 163.3,1801.2 166.5,1802.4 168.9,1803.8 170.6,1805.3 171.7,1806.9Z" fill="#a93439"/><ellipse cx="137.9" cy="1808.6" rx="23.5" ry="4.0" fill="none" stroke="#fff" stroke-width="0.8" opacity="0.85"/><ellipse cx="137.9" cy="1808.6" rx="15.7" ry="2.7" fill="none" stroke="#fff" stroke-width="0.8" opacity="0.85"/><ellipse cx="137.9" cy="1808.6" rx="7.8" ry="1.3" fill="none" stroke="#fff" stroke-width="0.8" opacity="0.85"/></g>
<g><path d="M136.9,1859.3 136.6,1860.9 135.8,1862.4 134.3,1863.8 132.4,1865.1 129.8,1866.2 126.6,1867.1 122.6,1867.7 117.7,1868.1 109.0,1868.3 100.3,1868.1 95.4,1867.7 91.4,1867.1 88.2,1866.2 85.6,1865.1 83.7,1863.8 82.2,1862.4 81.4,1860.9 81.1,1859.3 81.4,1857.7 82.2,1856.2 83.7,1854.8 85.6,1853.5 88.2,1852.4 91.4,1851.5 95.4,1850.9 100.3,1850.5 109.0,1850.3 117.7,1850.5 122.6,1850.9 126.6,1851.5 129.8,1852.4 132.4,1853.5 134.3,1854.8 135.8,1856.2 136.6,1857.7Z" fill="#53648f"/><ellipse cx="109.0" cy="1859.3" rx="19.3" ry="3.7" fill="none" stroke="#fff" stroke-width="0.8" opacity="0.85"/><ellipse cx="109.0" cy="1859.3" rx="12.8" ry="2.5" fill="none" stroke="#fff" stroke-width="0.8" opacity="0.85"/><ellipse cx="109.0" cy="1859.3" rx="6.4" ry="1.2" fill="none" stroke="#fff" stroke-width="0.8" opacity="0.85"/></g>
<g transform="rotate(-2 127.3 1886.9)"><path d="M166.2,1886.9 165.8,1888.2 164.6,1889.5 162.6,1890.8 159.9,1891.9 156.3,1892.8 151.8,1893.6 146.4,1894.2 139.4,1894.5 127.4,1894.6 115.3,1894.5 108.3,1894.2 102.9,1893.6 98.4,1892.8 94.8,1891.9 92.1,1890.8 90.1,1889.5 88.9,1888.2 88.5,1886.9 88.9,1885.6 90.1,1884.3 92.1,1883.0 94.8,1881.9 98.4,1881.0 102.9,1880.2 108.3,1879.6 115.3,1879.3 127.3,1879.2 139.4,1879.3 146.4,1879.6 151.8,1880.2 156.3,1881.0 159.9,1881.9 162.6,1883.0 164.6,1884.3 165.8,1885.6Z" fill="#53648f"/><ellipse cx="127.3" cy="1886.9" rx="26.8" ry="3.2" fill="none" stroke="#fff" stroke-width="0.8" opacity="0.85"/><ellipse cx="127.3" cy="1886.9" rx="17.9" ry="2.1" fill="none" stroke="#fff" stroke-width="0.8" opacity="0.85"/><ellipse cx="127.3" cy="1886.9" rx="8.9" ry="1.1" fill="none" stroke="#fff" stroke-width="0.8" opacity="0.85"/></g>
<g><path d="M152.5,1916.3 152.3,1917.7 151.6,1919.1 150.4,1920.4 148.8,1921.6 146.7,1922.6 144.1,1923.5 141.0,1924.1 136.9,1924.4 129.9,1924.6 122.9,1924.4 118.8,1924.1 115.7,1923.5 113.1,1922.6 111.0,1921.6 109.4,1920.4 108.2,1919.1 107.5,1917.7 107.3,1916.3 107.5,1914.9 108.2,1913.5 109.4,1912.2 111.0,1911.0 113.1,1910.0 115.7,1909.1 118.8,1908.5 122.9,1908.2 129.9,1908.0 136.9,1908.2 141.0,1908.5 144.1,1909.1 146.7,1910.0 148.8,1911.0 150.4,1912.2 151.6,1913.5 152.3,1914.9Z" fill="#53648f"/><ellipse cx="129.9" cy="1916.3" rx="15.6" ry="3.4" fill="none" stroke="#fff" stroke-width="0.8" opacity="0.85"/><ellipse cx="129.9" cy="1916.3" rx="10.4" ry="2.3" fill="none" stroke="#fff" stroke-width="0.8" opacity="0.85"/><ellipse cx="129.9" cy="1916.3" rx="5.2" ry="1.1" fill="none" stroke="#fff" stroke-width="0.8" opacity="0.85"/></g>
<g><path d="M115.1,1946.4 114.8,1947.8 113.9,1949.1 112.4,1950.3 110.3,1951.5 107.6,1952.4 104.2,1953.2 100.1,1953.8 94.8,1954.1 85.7,1954.2 76.5,1954.1 71.2,1953.8 67.1,1953.2 63.7,1952.4 61.0,1951.5 58.9,1950.3 57.4,1949.1 56.5,1947.8 56.2,1946.4 56.5,1945.1 57.4,1943.8 58.9,1942.6 61.0,1941.4 63.7,1940.5 67.1,1939.7 71.2,1939.1 76.5,1938.8 85.6,1938.7 94.8,1938.8 100.1,1939.1 104.2,1939.7 107.6,1940.5 110.3,1941.4 112.4,1942.6 113.9,1943.8 114.8,1945.1Z" fill="#d8d8d8"/><ellipse cx="85.7" cy="1946.4" rx="20.3" ry="3.2" fill="none" stroke="#fff" stroke-width="0.8" opacity="0.85"/><ellipse cx="85.7" cy="1946.4" rx="13.5" ry="2.1" fill="none" stroke="#fff" stroke-width="0.8" opacity="0.85"/><ellipse cx="85.7" cy="1946.4" rx="6.8" ry="1.1" fill="none" stroke="#fff" stroke-width="0.8" opacity="0.85"/></g>
<g><path d="M74.2,2001.4 73.9,2002.6 73.1,2003.8 71.7,2004.8 69.8,2005.8 67.3,2006.6 64.1,2007.3 60.3,2007.8 55.5,2008.1 47.0,2008.2 38.5,2008.1 33.7,2007.8 29.9,2007.3 26.7,2006.6 24.2,2005.8 22.3,2004.8 20.9,2003.8 20.1,2002.6 19.8,2001.4 20.1,2000.3 20.9,1999.1 22.3,1998.1 24.2,1997.1 26.7,1996.3 29.9,1995.6 33.7,1995.1 38.5,1994.8 47.0,1994.7 55.5,1994.8 60.3,1995.1 64.1,1995.6 67.3,1996.3 69.8,1997.1 71.7,1998.1 73.1,1999.1 73.9,2000.3Z" fill="#1c6b36"/><ellipse cx="47.0" cy="2001.4" rx="18.8" ry="2.8" fill="none" stroke="#fff" stroke-width="0.8" opacity="0.85"/><ellipse cx="47.0" cy="2001.4" rx="12.5" ry="1.9" fill="none" stroke="#fff" stroke-width="0.8" opacity="0.85"/><ellipse cx="47.0" cy="2001.4" rx="6.3" ry="0.9" fill="none" stroke="#fff" stroke-width="0.8" opacity="0.85"/></g>
<g><path d="M60.6,2032.9 60.5,2034.0 60.0,2035.0 59.3,2036.0 58.2,2036.8 56.9,2037.6 55.2,2038.2 53.1,2038.6 50.5,2038.9 46.0,2039.0 41.4,2038.9 38.8,2038.6 36.7,2038.2 35.0,2037.6 33.7,2036.8 32.6,2036.0 31.9,2035.0 31.4,2034.0 31.3,2032.9 31.4,2031.9 31.9,2030.9 32.6,2029.9 33.7,2029.1 35.0,2028.3 36.7,2027.7 38.8,2027.3 41.4,2027.0 45.9,2026.9 50.5,2027.0 53.1,2027.3 55.2,2027.7 56.9,2028.3 58.2,2029.1 59.3,2029.9 60.0,2030.9 60.5,2031.9Z" fill="#d8d8d8"/><ellipse cx="46.0" cy="2032.9" rx="10.1" ry="2.5" fill="none" stroke="#fff" stroke-width="0.8" opacity="0.85"/><ellipse cx="46.0" cy="2032.9" rx="6.7" ry="1.7" fill="none" stroke="#fff" stroke-width="0.8" opacity="0.85"/><ellipse cx="46.0" cy="2032.9" rx="3.4" ry="0.8" fill="none" stroke="#fff" stroke-width="0.8" opacity="0.85"/></g>
<text x="235.7" y="1590.2" font-size="24" fill="#3b4ba6">A<tspan font-size="16" dy="7">α</tspan></text>
<text x="277.6" y="1674.6" font-size="24" fill="#3b4ba6">A<tspan font-size="15" dy="8">β-G</tspan></text>
<text x="357.6" y="1718.9" font-size="24" fill="#3b4ba6">A<tspan font-size="15" dy="8">β-S</tspan></text>
<rect x="285.6" y="2068.8" width="111.7" height="66.5" fill="#f6f6d6" stroke="#222" stroke-width="1.2"/>
<rect x="397.3" y="2004.5" width="153.2" height="130.8" fill="#f6f6d6" stroke="#222" stroke-width="1.2"/>
<text x="410.7" y="2033.8" font-size="21.5" fill="#a93439" textLength="88.1" lengthAdjust="spacingAndGlyphs">S: 49.6%</text>
<text x="410.7" y="2063.3" font-size="21.5" fill="#53648f" textLength="95.0" lengthAdjust="spacingAndGlyphs">G: 50.4%</text>
<text x="410.7" y="2094.3" font-size="21.5" textLength="100.8" lengthAdjust="spacingAndGlyphs"><tspan fill="#a93439">S</tspan><tspan fill="#000">/</tspan><tspan fill="#53648f">G:</tspan><tspan fill="#000"> 0.99</tspan></text>
<text x="410.7" y="2124.1" font-size="21.5" fill="#e65a20" textLength="104.3" lengthAdjust="spacingAndGlyphs"><tspan font-style="italic">p</tspan>CA: 5.6%</text>
<text x="296.1" y="2094.3" font-size="21.5" fill="#3b4ba6" textLength="89.0" lengthAdjust="spacingAndGlyphs">A: 43.2%</text>
<text x="296.1" y="2124.1" font-size="21.5" fill="#5cba48" textLength="74.2" lengthAdjust="spacingAndGlyphs">B: 7.0%</text>
<text x="840.9" y="1458.0" font-size="22" fill="#e3922a" textLength="96.8" lengthAdjust="spacingAndGlyphs">Methoxyl</text>
<g><path d="M1097.5,1465.1 1097.4,1465.9 1097.0,1466.6 1096.4,1467.3 1095.5,1467.9 1094.4,1468.5 1093.1,1468.9 1091.4,1469.2 1089.2,1469.4 1085.5,1469.5 1081.8,1469.4 1079.6,1469.2 1077.9,1468.9 1076.6,1468.5 1075.5,1467.9 1074.6,1467.3 1074.0,1466.6 1073.6,1465.9 1073.5,1465.1 1073.6,1464.3 1074.0,1463.6 1074.6,1462.9 1075.5,1462.3 1076.6,1461.7 1077.9,1461.3 1079.6,1461.0 1081.8,1460.8 1085.5,1460.7 1089.2,1460.8 1091.4,1461.0 1093.1,1461.3 1094.4,1461.7 1095.5,1462.3 1096.4,1462.9 1097.0,1463.6 1097.4,1464.3Z" fill="#d8d8d8"/><ellipse cx="1085.5" cy="1465.1" rx="7.4" ry="1.6" fill="none" stroke="#fff" stroke-width="0.8" opacity="0.85"/><ellipse cx="1085.5" cy="1465.1" rx="3.7" ry="0.8" fill="none" stroke="#fff" stroke-width="0.8" opacity="0.85"/></g>
<g transform="rotate(-3.5 989.0 1466.1)"><path d="M1075.9,1466.1 1075.0,1467.5 1072.4,1468.8 1068.0,1470.1 1061.8,1471.2 1053.7,1472.2 1043.8,1473.0 1031.5,1473.5 1016.1,1473.9 989.1,1474.0 962.0,1473.9 946.6,1473.5 934.3,1473.0 924.4,1472.2 916.3,1471.2 910.1,1470.1 905.7,1468.8 903.1,1467.5 902.2,1466.1 903.1,1464.7 905.7,1463.4 910.1,1462.1 916.3,1461.0 924.4,1460.0 934.3,1459.2 946.6,1458.7 962.0,1458.3 989.0,1458.2 1016.1,1458.3 1031.5,1458.7 1043.8,1459.2 1053.7,1460.0 1061.8,1461.0 1068.0,1462.1 1072.4,1463.4 1075.0,1464.7Z" fill="#e3922a"/><ellipse cx="989.0" cy="1466.1" rx="59.9" ry="3.3" fill="none" stroke="#fff" stroke-width="0.8" opacity="0.85"/><ellipse cx="989.0" cy="1466.1" rx="40.0" ry="2.2" fill="none" stroke="#fff" stroke-width="0.8" opacity="0.85"/><ellipse cx="989.0" cy="1466.1" rx="20.0" ry="1.1" fill="none" stroke="#fff" stroke-width="0.8" opacity="0.85"/></g>
<g><path d="M1060.5,1516.9 1060.2,1518.0 1059.3,1519.0 1057.7,1520.0 1055.6,1520.8 1052.8,1521.6 1049.4,1522.2 1045.1,1522.6 1039.8,1522.9 1030.4,1523.0 1021.0,1522.9 1015.7,1522.6 1011.4,1522.2 1008.0,1521.6 1005.2,1520.8 1003.1,1520.0 1001.5,1519.0 1000.6,1518.0 1000.3,1516.9 1000.6,1515.9 1001.5,1514.9 1003.1,1513.9 1005.2,1513.1 1008.0,1512.3 1011.4,1511.7 1015.7,1511.3 1021.0,1511.0 1030.4,1510.9 1039.8,1511.0 1045.1,1511.3 1049.4,1511.7 1052.8,1512.3 1055.6,1513.1 1057.7,1513.9 1059.3,1514.9 1060.2,1515.9Z" fill="#d8d8d8"/><ellipse cx="1030.4" cy="1516.9" rx="20.8" ry="2.5" fill="none" stroke="#fff" stroke-width="0.8" opacity="0.85"/><ellipse cx="1030.4" cy="1516.9" rx="13.8" ry="1.7" fill="none" stroke="#fff" stroke-width="0.8" opacity="0.85"/><ellipse cx="1030.4" cy="1516.9" rx="6.9" ry="0.8" fill="none" stroke="#fff" stroke-width="0.8" opacity="0.85"/></g>
<g><path d="M1072.5,1497.3 1072.3,1498.7 1071.8,1499.8 1070.9,1500.8 1069.7,1501.4 1068.2,1501.6 1066.8,1501.4 1065.6,1500.8 1064.7,1499.8 1064.2,1498.7 1064.0,1497.3 1064.2,1496.0 1064.7,1494.9 1065.6,1493.9 1066.8,1493.3 1068.2,1493.1 1069.7,1493.3 1070.9,1493.9 1071.8,1494.9 1072.3,1496.0Z" fill="none" stroke="#d8d8d8" stroke-width="1.0"/><path d="M1070.4,1497.3 1070.3,1498.0 1070.0,1498.6 1069.6,1499.1 1069.0,1499.4 1068.2,1499.5 1067.5,1499.4 1066.9,1499.1 1066.5,1498.6 1066.2,1498.0 1066.1,1497.3 1066.2,1496.7 1066.5,1496.1 1066.9,1495.6 1067.5,1495.3 1068.2,1495.2 1069.0,1495.3 1069.6,1495.6 1070.0,1496.1 1070.3,1496.7Z" fill="none" stroke="#d8d8d8" stroke-width="1.0"/></g>
<g><path d="M1050.5,1495.6 1049.9,1498.0 1048.0,1500.2 1044.9,1502.3 1040.5,1504.1 1034.8,1505.5 1027.8,1506.6 1019.1,1507.2 1008.2,1507.4 989.1,1506.9 970.0,1506.0 959.1,1505.2 950.4,1504.1 943.4,1503.0 937.7,1501.7 933.3,1500.2 930.2,1498.8 928.3,1497.2 927.7,1495.6 928.3,1494.1 930.2,1492.5 933.3,1491.1 937.7,1489.6 943.4,1488.3 950.4,1487.2 959.1,1486.1 970.0,1485.3 989.1,1484.4 1008.2,1483.9 1019.1,1484.1 1027.8,1484.7 1034.8,1485.8 1040.5,1487.2 1044.9,1489.0 1048.0,1491.1 1049.9,1493.3Z" fill="#3b4ba6"/><ellipse cx="989.1" cy="1495.6" rx="42.4" ry="4.6" fill="none" stroke="#fff" stroke-width="0.8" opacity="0.85"/><ellipse cx="989.1" cy="1495.6" rx="28.2" ry="3.1" fill="none" stroke="#fff" stroke-width="0.8" opacity="0.85"/><ellipse cx="989.1" cy="1495.6" rx="14.1" ry="1.5" fill="none" stroke="#fff" stroke-width="0.8" opacity="0.85"/></g>
<g><path d="M982.2,1519.5 981.9,1520.9 981.0,1522.3 979.6,1523.6 977.5,1524.8 974.8,1525.8 971.5,1526.7 967.4,1527.3 962.3,1527.6 953.3,1527.8 944.2,1527.6 939.1,1527.3 935.0,1526.7 931.7,1525.8 929.0,1524.8 926.9,1523.6 925.5,1522.3 924.6,1520.9 924.3,1519.5 924.6,1518.1 925.5,1516.7 926.9,1515.4 929.0,1514.2 931.7,1513.2 935.0,1512.3 939.1,1511.7 944.2,1511.4 953.2,1511.2 962.3,1511.4 967.4,1511.7 971.5,1512.3 974.8,1513.2 977.5,1514.2 979.6,1515.4 981.0,1516.7 981.9,1518.1Z" fill="#3b4ba6"/><ellipse cx="953.2" cy="1519.5" rx="20.0" ry="3.4" fill="none" stroke="#fff" stroke-width="0.8" opacity="0.85"/><ellipse cx="953.2" cy="1519.5" rx="13.3" ry="2.3" fill="none" stroke="#fff" stroke-width="0.8" opacity="0.85"/><ellipse cx="953.2" cy="1519.5" rx="6.7" ry="1.1" fill="none" stroke="#fff" stroke-width="0.8" opacity="0.85"/></g>
<g><path d="M927.7,1517.0 927.5,1519.3 927.1,1521.6 926.3,1523.6 925.2,1525.4 923.8,1526.9 922.3,1528.0 920.5,1528.7 918.4,1528.9 916.2,1528.7 914.4,1528.0 912.9,1526.9 911.5,1525.4 910.4,1523.6 909.6,1521.6 909.2,1519.3 909.0,1517.0 909.2,1514.7 909.6,1512.4 910.4,1510.4 911.5,1508.6 912.9,1507.1 914.4,1506.0 916.2,1505.3 918.4,1505.1 920.5,1505.3 922.3,1506.0 923.8,1507.1 925.2,1508.6 926.3,1510.4 927.1,1512.4 927.5,1514.7Z" fill="none" stroke="#4ec4d0" stroke-width="1.3"/><path d="M925.4,1517.0 925.2,1518.7 924.9,1520.4 924.3,1522.0 923.5,1523.3 922.5,1524.4 921.3,1525.2 919.9,1525.8 918.4,1525.9 916.8,1525.8 915.4,1525.2 914.2,1524.4 913.2,1523.3 912.4,1522.0 911.8,1520.4 911.5,1518.7 911.3,1517.0 911.5,1515.3 911.8,1513.6 912.4,1512.0 913.2,1510.7 914.2,1509.6 915.4,1508.8 916.8,1508.2 918.4,1508.1 919.9,1508.2 921.3,1508.8 922.5,1509.6 923.5,1510.7 924.3,1512.0 924.9,1513.6 925.2,1515.3Z" fill="none" stroke="#4ec4d0" stroke-width="1.3"/><path d="M923.0,1517.0 922.8,1518.8 922.2,1520.5 921.2,1521.8 920.0,1522.7 918.4,1523.0 916.7,1522.7 915.5,1521.8 914.5,1520.5 913.9,1518.8 913.7,1517.0 913.9,1515.2 914.5,1513.5 915.5,1512.2 916.7,1511.3 918.4,1511.0 920.0,1511.3 921.2,1512.2 922.2,1513.5 922.8,1515.2Z" fill="none" stroke="#4ec4d0" stroke-width="1.3"/><path d="M920.7,1517.0 920.6,1517.9 920.3,1518.7 919.8,1519.4 919.2,1519.8 918.4,1520.0 917.5,1519.8 916.9,1519.4 916.4,1518.7 916.1,1517.9 916.0,1517.0 916.1,1516.1 916.4,1515.3 916.9,1514.6 917.5,1514.2 918.4,1514.0 919.2,1514.2 919.8,1514.6 920.3,1515.3 920.6,1516.1Z" fill="none" stroke="#4ec4d0" stroke-width="1.3"/></g>
<g><path d="M1000.3,1521.4 1000.2,1522.3 1000.1,1523.2 999.8,1523.9 999.3,1524.6 998.8,1525.3 998.0,1525.8 997.0,1526.1 995.5,1526.3 990.8,1526.4 986.0,1526.3 984.5,1526.1 983.5,1525.8 982.7,1525.3 982.2,1524.6 981.7,1523.9 981.4,1523.2 981.3,1522.3 981.2,1521.4 981.3,1520.6 981.4,1519.7 981.7,1519.0 982.2,1518.3 982.7,1517.6 983.5,1517.1 984.5,1516.8 986.0,1516.6 990.7,1516.5 995.5,1516.6 997.0,1516.8 998.0,1517.1 998.8,1517.6 999.3,1518.3 999.8,1519.0 1000.1,1519.7 1000.2,1520.6Z" fill="#5cba48"/></g>
<g><path d="M1022.5,1576.4 1022.1,1579.3 1020.8,1582.1 1018.7,1584.7 1015.8,1587.0 1011.9,1589.0 1007.2,1590.7 1001.3,1591.9 994.0,1592.6 981.1,1592.9 968.2,1592.6 960.9,1591.9 955.0,1590.7 950.3,1589.0 946.4,1587.0 943.5,1584.7 941.4,1582.1 940.1,1579.3 939.7,1576.4 940.1,1573.6 941.4,1570.8 943.5,1568.2 946.4,1565.9 950.3,1563.9 955.0,1562.2 960.9,1561.0 968.2,1560.3 981.1,1560.0 994.0,1560.3 1001.3,1561.0 1007.2,1562.2 1011.9,1563.9 1015.8,1565.9 1018.7,1568.2 1020.8,1570.8 1022.1,1573.6Z" fill="#d8d8d8"/><ellipse cx="981.1" cy="1576.4" rx="28.6" ry="6.8" fill="none" stroke="#fff" stroke-width="0.8" opacity="0.85"/><ellipse cx="981.1" cy="1576.4" rx="19.0" ry="4.5" fill="none" stroke="#fff" stroke-width="0.8" opacity="0.85"/><ellipse cx="981.1" cy="1576.4" rx="9.5" ry="2.3" fill="none" stroke="#fff" stroke-width="0.8" opacity="0.85"/></g>
<g transform="rotate(-3 1006.5 1599.6)"><path d="M1067.5,1599.6 1066.9,1603.0 1065.0,1606.4 1061.9,1609.5 1057.6,1612.3 1051.9,1614.8 1044.9,1616.7 1036.3,1618.2 1025.5,1619.1 1006.5,1619.4 987.5,1619.1 976.7,1618.2 968.1,1616.7 961.1,1614.8 955.4,1612.3 951.1,1609.5 948.0,1606.4 946.1,1603.0 945.5,1599.6 946.1,1596.2 948.0,1592.8 951.1,1589.7 955.4,1586.9 961.1,1584.4 968.1,1582.5 976.7,1581.0 987.5,1580.1 1006.5,1579.8 1025.5,1580.1 1036.3,1581.0 1044.9,1582.5 1051.9,1584.4 1057.6,1586.9 1061.9,1589.7 1065.0,1592.8 1066.9,1596.2Z" fill="#d8d8d8"/><ellipse cx="1006.5" cy="1599.6" rx="42.1" ry="8.2" fill="none" stroke="#fff" stroke-width="0.8" opacity="0.85"/><ellipse cx="1006.5" cy="1599.6" rx="28.1" ry="5.4" fill="none" stroke="#fff" stroke-width="0.8" opacity="0.85"/><ellipse cx="1006.5" cy="1599.6" rx="14.0" ry="2.7" fill="none" stroke="#fff" stroke-width="0.8" opacity="0.85"/></g>
<g><path d="M903.9,1583.0 903.5,1584.5 902.5,1586.0 900.7,1587.4 898.2,1588.6 895.0,1589.7 891.0,1590.5 886.1,1591.2 879.9,1591.6 869.0,1591.7 858.1,1591.6 851.9,1591.2 847.0,1590.5 843.0,1589.7 839.8,1588.6 837.3,1587.4 835.5,1586.0 834.5,1584.5 834.1,1583.0 834.5,1581.5 835.5,1580.0 837.3,1578.6 839.8,1577.4 843.0,1576.3 847.0,1575.5 851.9,1574.8 858.1,1574.4 869.0,1574.3 879.9,1574.4 886.1,1574.8 891.0,1575.5 895.0,1576.3 898.2,1577.4 900.7,1578.6 902.5,1580.0 903.5,1581.5Z" fill="#3b4ba6"/><ellipse cx="869.0" cy="1583.0" rx="24.1" ry="3.6" fill="none" stroke="#fff" stroke-width="0.8" opacity="0.85"/><ellipse cx="869.0" cy="1583.0" rx="16.1" ry="2.4" fill="none" stroke="#fff" stroke-width="0.8" opacity="0.85"/><ellipse cx="869.0" cy="1583.0" rx="8.0" ry="1.2" fill="none" stroke="#fff" stroke-width="0.8" opacity="0.85"/></g>
<g><path d="M917.5,1577.4 917.2,1578.7 916.4,1579.9 915.2,1580.9 913.6,1581.5 911.5,1581.7 909.4,1581.5 907.8,1580.9 906.6,1579.9 905.8,1578.7 905.5,1577.4 905.8,1576.1 906.6,1574.9 907.8,1573.9 909.4,1573.3 911.5,1573.1 913.6,1573.3 915.2,1573.9 916.4,1574.9 917.2,1576.1Z" fill="none" stroke="#d8d8d8" stroke-width="1.0"/><path d="M914.5,1577.4 914.4,1578.1 914.0,1578.7 913.4,1579.1 912.5,1579.4 911.5,1579.5 910.5,1579.4 909.6,1579.1 909.0,1578.7 908.6,1578.1 908.5,1577.4 908.6,1576.7 909.0,1576.1 909.6,1575.7 910.5,1575.4 911.5,1575.2 912.5,1575.4 913.4,1575.7 914.0,1576.1 914.4,1576.7Z" fill="none" stroke="#d8d8d8" stroke-width="1.0"/></g>
<g><path d="M934.5,1578.1 934.3,1579.0 933.9,1579.9 933.2,1580.5 932.2,1581.0 931.0,1581.1 929.8,1581.0 928.8,1580.5 928.1,1579.9 927.7,1579.0 927.5,1578.1 927.7,1577.2 928.1,1576.3 928.8,1575.7 929.8,1575.2 931.0,1575.1 932.2,1575.2 933.2,1575.7 933.9,1576.3 934.3,1577.2Z" fill="none" stroke="#d8d8d8" stroke-width="1.0"/></g>
<g><path d="M874.9,1600.8 874.7,1601.9 874.0,1603.0 872.9,1603.8 871.6,1604.3 869.8,1604.5 868.0,1604.3 866.7,1603.8 865.6,1603.0 864.9,1601.9 864.7,1600.8 864.9,1599.7 865.6,1598.6 866.7,1597.8 868.0,1597.3 869.8,1597.1 871.6,1597.3 872.9,1597.8 874.0,1598.6 874.7,1599.7Z" fill="none" stroke="#d8d8d8" stroke-width="1.0"/></g>
<g><path d="M941.4,1679.8 941.2,1680.8 940.8,1681.7 940.0,1682.6 938.9,1683.4 937.5,1684.1 935.7,1684.6 933.6,1685.0 930.8,1685.3 926.1,1685.3 921.3,1685.3 918.5,1685.0 916.4,1684.6 914.6,1684.1 913.2,1683.4 912.1,1682.6 911.3,1681.7 910.9,1680.8 910.7,1679.8 910.9,1678.9 911.3,1678.0 912.1,1677.1 913.2,1676.3 914.6,1675.6 916.4,1675.1 918.5,1674.7 921.3,1674.4 926.0,1674.3 930.8,1674.4 933.6,1674.7 935.7,1675.1 937.5,1675.6 938.9,1676.3 940.0,1677.1 940.8,1678.0 941.2,1678.9Z" fill="#3b4ba6"/><ellipse cx="926.0" cy="1679.8" rx="9.4" ry="2.0" fill="none" stroke="#fff" stroke-width="0.8" opacity="0.85"/><ellipse cx="926.0" cy="1679.8" rx="4.7" ry="1.0" fill="none" stroke="#fff" stroke-width="0.8" opacity="0.85"/></g>
<g><path d="M919.5,1671.6 919.4,1673.1 919.2,1674.5 918.9,1675.8 918.4,1676.9 917.8,1677.8 917.2,1678.5 916.4,1679.0 915.5,1679.1 914.6,1679.0 913.8,1678.5 913.2,1677.8 912.6,1676.9 912.1,1675.8 911.8,1674.5 911.6,1673.1 911.5,1671.6 911.6,1670.1 911.8,1668.7 912.1,1667.4 912.6,1666.3 913.2,1665.4 913.8,1664.7 914.6,1664.2 915.5,1664.1 916.4,1664.2 917.2,1664.7 917.8,1665.4 918.4,1666.3 918.9,1667.4 919.2,1668.7 919.4,1670.1Z" fill="none" stroke="#3b4ba6" stroke-width="1.2"/></g>
<g><path d="M900.5,1668.1 900.4,1669.0 900.0,1669.9 899.4,1670.5 898.5,1671.0 897.5,1671.1 896.5,1671.0 895.6,1670.5 895.0,1669.9 894.6,1669.0 894.5,1668.1 894.6,1667.2 895.0,1666.3 895.6,1665.7 896.5,1665.2 897.5,1665.1 898.5,1665.2 899.4,1665.7 900.0,1666.3 900.4,1667.2Z" fill="none" stroke="#3b4ba6" stroke-width="1.0"/></g>
<g><path d="M906.5,1667.1 906.4,1668.0 906.1,1668.9 905.7,1669.5 905.2,1670.0 904.5,1670.1 903.8,1670.0 903.3,1669.5 902.9,1668.9 902.6,1668.0 902.5,1667.1 902.6,1666.2 902.9,1665.3 903.3,1664.7 903.8,1664.2 904.5,1664.1 905.2,1664.2 905.7,1664.7 906.1,1665.3 906.4,1666.2Z" fill="none" stroke="#3b4ba6" stroke-width="1.0"/></g>
<g><path d="M952.5,1681.1 952.4,1682.0 952.1,1682.9 951.7,1683.5 951.2,1684.0 950.5,1684.1 949.8,1684.0 949.3,1683.5 948.9,1682.9 948.6,1682.0 948.5,1681.1 948.6,1680.2 948.9,1679.3 949.3,1678.7 949.8,1678.2 950.5,1678.1 951.2,1678.2 951.7,1678.7 952.1,1679.3 952.4,1680.2Z" fill="none" stroke="#3b4ba6" stroke-width="1.0"/></g>
<g><path d="M948.2,1797.1 947.9,1798.8 947.0,1800.4 945.6,1801.9 943.5,1803.3 940.8,1804.5 937.5,1805.5 933.4,1806.2 928.3,1806.6 919.3,1806.8 910.2,1806.6 905.1,1806.2 901.0,1805.5 897.7,1804.5 895.0,1803.3 892.9,1801.9 891.5,1800.4 890.6,1798.8 890.3,1797.1 890.6,1795.4 891.5,1793.8 892.9,1792.3 895.0,1790.9 897.7,1789.7 901.0,1788.7 905.1,1788.0 910.2,1787.6 919.2,1787.4 928.3,1787.6 933.4,1788.0 937.5,1788.7 940.8,1789.7 943.5,1790.9 945.6,1792.3 947.0,1793.8 947.9,1795.4Z" fill="#d8d8d8"/><ellipse cx="919.2" cy="1797.1" rx="20.0" ry="4.0" fill="none" stroke="#fff" stroke-width="0.8" opacity="0.85"/><ellipse cx="919.2" cy="1797.1" rx="13.3" ry="2.7" fill="none" stroke="#fff" stroke-width="0.8" opacity="0.85"/><ellipse cx="919.2" cy="1797.1" rx="6.7" ry="1.3" fill="none" stroke="#fff" stroke-width="0.8" opacity="0.85"/></g>
<g><path d="M883.5,1780.6 883.4,1781.4 883.1,1782.1 882.7,1782.6 882.2,1783.0 881.5,1783.1 880.8,1783.0 880.3,1782.6 879.9,1782.1 879.6,1781.4 879.5,1780.6 879.6,1779.8 879.9,1779.1 880.3,1778.6 880.8,1778.2 881.5,1778.1 882.2,1778.2 882.7,1778.6 883.1,1779.1 883.4,1779.8Z" fill="none" stroke="#d8d8d8" stroke-width="1.0"/></g>
<g><path d="M878.5,1800.6 878.4,1801.4 878.1,1802.1 877.7,1802.6 877.2,1803.0 876.5,1803.1 875.8,1803.0 875.3,1802.6 874.9,1802.1 874.6,1801.4 874.5,1800.6 874.6,1799.8 874.9,1799.1 875.3,1798.6 875.8,1798.2 876.5,1798.1 877.2,1798.2 877.7,1798.6 878.1,1799.1 878.4,1799.8Z" fill="none" stroke="#d8d8d8" stroke-width="1.0"/></g>
<g transform="rotate(-4 701.2 1808.6)"><path d="M737.0,1808.6 736.6,1810.0 735.5,1811.3 733.7,1812.6 731.2,1813.7 727.9,1814.7 723.8,1815.5 718.7,1816.0 712.4,1816.4 701.3,1816.5 690.1,1816.4 683.8,1816.0 678.7,1815.5 674.6,1814.7 671.3,1813.7 668.8,1812.6 667.0,1811.3 665.9,1810.0 665.5,1808.6 665.9,1807.2 667.0,1805.9 668.8,1804.6 671.3,1803.5 674.6,1802.5 678.7,1801.7 683.8,1801.2 690.1,1800.8 701.2,1800.7 712.4,1800.8 718.7,1801.2 723.8,1801.7 727.9,1802.5 731.2,1803.5 733.7,1804.6 735.5,1805.9 736.6,1807.2Z" fill="#a93439"/><ellipse cx="701.2" cy="1808.6" rx="24.7" ry="3.3" fill="none" stroke="#fff" stroke-width="0.8" opacity="0.85"/><ellipse cx="701.2" cy="1808.6" rx="16.4" ry="2.2" fill="none" stroke="#fff" stroke-width="0.8" opacity="0.85"/><ellipse cx="701.2" cy="1808.6" rx="8.2" ry="1.1" fill="none" stroke="#fff" stroke-width="0.8" opacity="0.85"/></g>
<g><path d="M741.5,1809.6 741.4,1810.4 741.1,1811.1 740.7,1811.6 740.2,1812.0 739.5,1812.1 738.8,1812.0 738.3,1811.6 737.9,1811.1 737.6,1810.4 737.5,1809.6 737.6,1808.8 737.9,1808.1 738.3,1807.6 738.8,1807.2 739.5,1807.1 740.2,1807.2 740.7,1807.6 741.1,1808.1 741.4,1808.8Z" fill="none" stroke="#d8d8d8" stroke-width="1.0"/></g>
<g><path d="M693.7,1859.2 693.5,1860.6 692.7,1861.8 691.5,1863.0 689.7,1864.1 687.5,1865.0 684.7,1865.8 681.3,1866.3 676.9,1866.7 669.4,1866.8 661.8,1866.7 657.4,1866.3 654.0,1865.8 651.2,1865.0 649.0,1864.1 647.2,1863.0 646.0,1861.8 645.2,1860.6 645.0,1859.2 645.2,1857.9 646.0,1856.7 647.2,1855.5 649.0,1854.4 651.2,1853.5 654.0,1852.7 657.4,1852.2 661.8,1851.8 669.3,1851.7 676.9,1851.8 681.3,1852.2 684.7,1852.7 687.5,1853.5 689.7,1854.4 691.5,1855.5 692.7,1856.7 693.5,1857.9Z" fill="#53648f"/><ellipse cx="669.4" cy="1859.2" rx="16.8" ry="3.1" fill="none" stroke="#fff" stroke-width="0.8" opacity="0.85"/><ellipse cx="669.4" cy="1859.2" rx="11.2" ry="2.1" fill="none" stroke="#fff" stroke-width="0.8" opacity="0.85"/><ellipse cx="669.4" cy="1859.2" rx="5.6" ry="1.0" fill="none" stroke="#fff" stroke-width="0.8" opacity="0.85"/></g>
<g><path d="M748.9,1886.6 748.6,1887.3 747.8,1887.9 746.5,1888.5 744.7,1889.1 742.4,1889.5 739.8,1889.8 736.8,1890.0 733.2,1890.1 729.6,1890.0 726.6,1889.8 724.0,1889.5 721.7,1889.1 719.9,1888.5 718.6,1887.9 717.8,1887.3 717.5,1886.6 717.8,1885.9 718.6,1885.3 719.9,1884.7 721.7,1884.1 724.0,1883.7 726.6,1883.4 729.6,1883.2 733.2,1883.1 736.8,1883.2 739.8,1883.4 742.4,1883.7 744.7,1884.1 746.5,1884.7 747.8,1885.3 748.6,1885.9Z" fill="none" stroke="#53648f" stroke-width="1.2"/><path d="M741.1,1886.6 740.9,1886.9 740.5,1887.3 739.8,1887.6 738.9,1887.8 737.8,1888.1 736.5,1888.2 735.0,1888.3 733.2,1888.3 731.4,1888.3 729.9,1888.2 728.6,1888.1 727.5,1887.8 726.6,1887.6 725.9,1887.3 725.5,1886.9 725.4,1886.6 725.5,1886.3 725.9,1885.9 726.6,1885.6 727.5,1885.4 728.6,1885.1 729.9,1885.0 731.4,1884.9 733.2,1884.8 735.0,1884.9 736.5,1885.0 737.8,1885.1 738.9,1885.4 739.8,1885.6 740.5,1885.9 740.9,1886.3Z" fill="none" stroke="#53648f" stroke-width="1.2"/></g>
<g transform="rotate(-3 690.2 1888.3)"><path d="M727.5,1888.3 727.1,1889.6 726.0,1890.8 724.1,1892.0 721.4,1893.0 718.0,1893.9 713.7,1894.6 708.4,1895.2 701.8,1895.5 690.2,1895.6 678.6,1895.5 672.0,1895.2 666.7,1894.6 662.4,1893.9 659.0,1893.0 656.3,1892.0 654.4,1890.8 653.3,1889.6 652.9,1888.3 653.3,1887.1 654.4,1885.9 656.3,1884.7 659.0,1883.7 662.4,1882.8 666.7,1882.1 672.0,1881.5 678.6,1881.2 690.2,1881.1 701.8,1881.2 708.4,1881.5 713.7,1882.1 718.0,1882.8 721.4,1883.7 724.1,1884.7 726.0,1885.9 727.1,1887.1Z" fill="#53648f"/><ellipse cx="690.2" cy="1888.3" rx="25.7" ry="3.0" fill="none" stroke="#fff" stroke-width="0.8" opacity="0.85"/><ellipse cx="690.2" cy="1888.3" rx="17.2" ry="2.0" fill="none" stroke="#fff" stroke-width="0.8" opacity="0.85"/><ellipse cx="690.2" cy="1888.3" rx="8.6" ry="1.0" fill="none" stroke="#fff" stroke-width="0.8" opacity="0.85"/></g>
<g><path d="M708.7,1916.6 708.5,1917.8 707.8,1919.0 706.6,1920.1 705.0,1921.1 703.0,1922.0 700.4,1922.7 697.2,1923.2 693.2,1923.5 686.3,1923.6 679.3,1923.5 675.3,1923.2 672.1,1922.7 669.5,1922.0 667.5,1921.1 665.9,1920.1 664.7,1919.0 664.0,1917.8 663.8,1916.6 664.0,1915.4 664.7,1914.2 665.9,1913.1 667.5,1912.1 669.5,1911.2 672.1,1910.5 675.3,1910.0 679.3,1909.7 686.2,1909.6 693.2,1909.7 697.2,1910.0 700.4,1910.5 703.0,1911.2 705.0,1912.1 706.6,1913.1 707.8,1914.2 708.5,1915.4Z" fill="#53648f"/><ellipse cx="686.2" cy="1916.6" rx="15.5" ry="2.9" fill="none" stroke="#fff" stroke-width="0.8" opacity="0.85"/><ellipse cx="686.2" cy="1916.6" rx="10.3" ry="1.9" fill="none" stroke="#fff" stroke-width="0.8" opacity="0.85"/><ellipse cx="686.2" cy="1916.6" rx="5.2" ry="1.0" fill="none" stroke="#fff" stroke-width="0.8" opacity="0.85"/></g>
<g><path d="M674.0,1946.6 673.7,1947.7 672.9,1948.9 671.6,1949.9 669.8,1950.8 667.4,1951.7 664.4,1952.3 660.8,1952.8 656.2,1953.1 648.1,1953.2 640.0,1953.1 635.4,1952.8 631.8,1952.3 628.8,1951.7 626.4,1950.8 624.6,1949.9 623.3,1948.9 622.5,1947.7 622.2,1946.6 622.5,1945.5 623.3,1944.3 624.6,1943.3 626.4,1942.4 628.8,1941.5 631.8,1940.9 635.4,1940.4 640.0,1940.1 648.1,1940.0 656.2,1940.1 660.8,1940.4 664.4,1940.9 667.4,1941.5 669.8,1942.4 671.6,1943.3 672.9,1944.3 673.7,1945.5Z" fill="#d8d8d8"/><ellipse cx="648.1" cy="1946.6" rx="17.9" ry="2.7" fill="none" stroke="#fff" stroke-width="0.8" opacity="0.85"/><ellipse cx="648.1" cy="1946.6" rx="11.9" ry="1.8" fill="none" stroke="#fff" stroke-width="0.8" opacity="0.85"/><ellipse cx="648.1" cy="1946.6" rx="6.0" ry="0.9" fill="none" stroke="#fff" stroke-width="0.8" opacity="0.85"/></g>
<g><path d="M635.8,2002.3 635.6,2003.3 634.9,2004.3 633.8,2005.3 632.3,2006.1 630.2,2006.9 627.7,2007.5 624.7,2007.9 620.8,2008.2 614.0,2008.3 607.2,2008.2 603.3,2007.9 600.3,2007.5 597.8,2006.9 595.7,2006.1 594.2,2005.3 593.1,2004.3 592.4,2003.3 592.2,2002.3 592.4,2001.3 593.1,2000.3 594.2,1999.3 595.7,1998.5 597.8,1997.7 600.3,1997.1 603.3,1996.7 607.2,1996.4 614.0,1996.3 620.8,1996.4 624.7,1996.7 627.7,1997.1 630.2,1997.7 632.3,1998.5 633.8,1999.3 634.9,2000.3 635.6,2001.3Z" fill="#1c6b36"/><ellipse cx="614.0" cy="2002.3" rx="15.0" ry="2.5" fill="none" stroke="#fff" stroke-width="0.8" opacity="0.85"/><ellipse cx="614.0" cy="2002.3" rx="10.0" ry="1.6" fill="none" stroke="#fff" stroke-width="0.8" opacity="0.85"/><ellipse cx="614.0" cy="2002.3" rx="5.0" ry="0.8" fill="none" stroke="#fff" stroke-width="0.8" opacity="0.85"/></g>
<g><path d="M590.5,2003.1 590.4,2004.0 589.9,2004.9 589.3,2005.5 588.4,2006.0 587.2,2006.1 586.1,2006.0 585.2,2005.5 584.6,2004.9 584.1,2004.0 584.0,2003.1 584.1,2002.2 584.6,2001.3 585.2,2000.7 586.1,2000.2 587.2,2000.1 588.4,2000.2 589.3,2000.7 589.9,2001.3 590.4,2002.2Z" fill="none" stroke="#1c6b36" stroke-width="1.3"/></g>
<g><path d="M648.0,1998.6 647.8,1999.7 647.3,2000.7 646.5,2001.4 645.4,2001.9 644.0,2002.1 642.6,2001.9 641.5,2001.4 640.7,2000.7 640.2,1999.7 640.0,1998.6 640.2,1997.5 640.7,1996.5 641.5,1995.8 642.6,1995.3 644.0,1995.1 645.4,1995.3 646.5,1995.8 647.3,1996.5 647.8,1997.5Z" fill="none" stroke="#1c6b36" stroke-width="1.3"/><path d="M646.0,1998.6 645.9,1999.1 645.6,1999.6 645.2,2000.0 644.7,2000.3 644.0,2000.3 643.3,2000.3 642.8,2000.0 642.4,1999.6 642.1,1999.1 642.0,1998.6 642.1,1998.1 642.4,1997.6 642.8,1997.2 643.3,1996.9 644.0,1996.8 644.7,1996.9 645.2,1997.2 645.6,1997.6 645.9,1998.1Z" fill="none" stroke="#1c6b36" stroke-width="1.3"/></g>
<g><path d="M611.0,2034.6 610.9,2035.7 610.6,2036.7 610.0,2037.4 609.2,2037.9 607.6,2038.1 606.0,2037.9 605.2,2037.4 604.6,2036.7 604.3,2035.7 604.2,2034.6 604.3,2033.5 604.6,2032.5 605.2,2031.8 606.0,2031.3 607.6,2031.1 609.2,2031.3 610.0,2031.8 610.6,2032.5 610.9,2033.5Z" fill="#d8d8d8"/><ellipse cx="607.6" cy="2034.6" rx="1.6" ry="1.0" fill="none" stroke="#fff" stroke-width="0.8" opacity="0.85"/></g>
<g><path d="M618.5,2034.6 618.4,2035.2 618.3,2035.8 618.0,2036.2 617.5,2036.5 616.8,2036.6 616.0,2036.5 615.5,2036.2 615.2,2035.8 615.1,2035.2 615.0,2034.6 615.1,2034.0 615.2,2033.4 615.5,2033.0 616.0,2032.7 616.7,2032.6 617.5,2032.7 618.0,2033.0 618.3,2033.4 618.4,2034.0Z" fill="#d8d8d8"/></g>
<text x="800.7" y="1592.9" font-size="24" fill="#3b4ba6">A<tspan font-size="16" dy="7">α</tspan></text>
<text x="842.6" y="1677.1" font-size="24" fill="#3b4ba6">A<tspan font-size="15" dy="8">β-G</tspan></text>
<text x="923.3" y="1722.3" font-size="24" fill="#3b4ba6">A<tspan font-size="12.5" dy="8">β-S</tspan></text>
<rect x="849.6" y="2068.8" width="111.7" height="66.5" fill="#f6f6d6" stroke="#222" stroke-width="1.2"/>
<rect x="961.3" y="2004.5" width="153.2" height="130.8" fill="#f6f6d6" stroke="#222" stroke-width="1.2"/>
<text x="974.7" y="2033.8" font-size="21.5" fill="#a93439" textLength="88.1" lengthAdjust="spacingAndGlyphs">S: 55.9%</text>
<text x="974.7" y="2063.3" font-size="21.5" fill="#53648f" textLength="95.0" lengthAdjust="spacingAndGlyphs">G: 44.1%</text>
<text x="974.7" y="2094.3" font-size="21.5" textLength="100.8" lengthAdjust="spacingAndGlyphs"><tspan fill="#a93439">S</tspan><tspan fill="#000">/</tspan><tspan fill="#53648f">G:</tspan><tspan fill="#000"> 1.27</tspan></text>
<text x="974.7" y="2124.1" font-size="21.5" fill="#e65a20" textLength="104.3" lengthAdjust="spacingAndGlyphs"><tspan font-style="italic">p</tspan>CA: 2.5%</text>
<text x="860.1" y="2094.3" font-size="21.5" fill="#3b4ba6" textLength="89.0" lengthAdjust="spacingAndGlyphs">A: 32.3%</text>
<text x="860.1" y="2124.1" font-size="21.5" fill="#5cba48" textLength="74.2" lengthAdjust="spacingAndGlyphs">B: 2.4%</text>
<text x="1417.8" y="1458.0" font-size="22" fill="#e3922a" textLength="96.8" lengthAdjust="spacingAndGlyphs">Methoxyl</text>
<g><path d="M1668.1,1465.9 1667.9,1466.9 1667.3,1467.9 1666.2,1468.9 1664.7,1469.7 1662.8,1470.5 1660.4,1471.1 1657.5,1471.5 1653.8,1471.8 1647.3,1471.9 1640.8,1471.8 1637.1,1471.5 1634.2,1471.1 1631.8,1470.5 1629.9,1469.7 1628.4,1468.9 1627.3,1467.9 1626.7,1466.9 1626.5,1465.9 1626.7,1464.9 1627.3,1463.9 1628.4,1462.9 1629.9,1462.1 1631.8,1461.3 1634.2,1460.7 1637.1,1460.3 1640.8,1460.0 1647.3,1459.9 1653.8,1460.0 1657.5,1460.3 1660.4,1460.7 1662.8,1461.3 1664.7,1462.1 1666.2,1462.9 1667.3,1463.9 1667.9,1464.9Z" fill="#d8d8d8"/><ellipse cx="1647.3" cy="1465.9" rx="12.8" ry="2.2" fill="none" stroke="#fff" stroke-width="0.8" opacity="0.85"/><ellipse cx="1647.3" cy="1465.9" rx="6.4" ry="1.1" fill="none" stroke="#fff" stroke-width="0.8" opacity="0.85"/></g>
<g><path d="M1629.0,1466.7 1628.4,1468.7 1626.4,1470.6 1623.2,1472.3 1618.7,1473.9 1612.9,1475.3 1605.7,1476.5 1596.8,1477.3 1585.6,1477.8 1566.0,1478.0 1546.4,1477.8 1535.2,1477.3 1526.3,1476.5 1519.1,1475.3 1513.3,1473.9 1508.8,1472.3 1505.6,1470.6 1503.6,1468.7 1503.0,1466.7 1503.6,1464.7 1505.6,1462.8 1508.8,1461.1 1513.3,1459.5 1519.1,1458.1 1526.3,1456.9 1535.2,1456.1 1546.4,1455.6 1566.0,1455.4 1585.6,1455.6 1596.8,1456.1 1605.7,1456.9 1612.9,1458.1 1618.7,1459.5 1623.2,1461.1 1626.4,1462.8 1628.4,1464.7Z" fill="#e3922a"/><ellipse cx="1566.0" cy="1466.7" rx="43.5" ry="4.6" fill="none" stroke="#fff" stroke-width="0.8" opacity="0.85"/><ellipse cx="1566.0" cy="1466.7" rx="29.0" ry="3.1" fill="none" stroke="#fff" stroke-width="0.8" opacity="0.85"/><ellipse cx="1566.0" cy="1466.7" rx="14.5" ry="1.5" fill="none" stroke="#fff" stroke-width="0.8" opacity="0.85"/></g>
<g><path d="M1620.5,1519.5 1620.3,1520.9 1619.6,1522.3 1618.5,1523.6 1616.9,1524.8 1614.8,1525.8 1612.3,1526.7 1609.2,1527.3 1605.2,1527.6 1598.4,1527.8 1591.5,1527.6 1587.5,1527.3 1584.4,1526.7 1581.9,1525.8 1579.8,1524.8 1578.2,1523.6 1577.1,1522.3 1576.4,1520.9 1576.2,1519.5 1576.4,1518.1 1577.1,1516.7 1578.2,1515.4 1579.8,1514.2 1581.9,1513.2 1584.4,1512.3 1587.5,1511.7 1591.5,1511.4 1598.3,1511.2 1605.2,1511.4 1609.2,1511.7 1612.3,1512.3 1614.8,1513.2 1616.9,1514.2 1618.5,1515.4 1619.6,1516.7 1620.3,1518.1Z" fill="#d8d8d8"/><ellipse cx="1598.3" cy="1519.5" rx="15.3" ry="3.4" fill="none" stroke="#fff" stroke-width="0.8" opacity="0.85"/><ellipse cx="1598.3" cy="1519.5" rx="10.2" ry="2.3" fill="none" stroke="#fff" stroke-width="0.8" opacity="0.85"/><ellipse cx="1598.3" cy="1519.5" rx="5.1" ry="1.1" fill="none" stroke="#fff" stroke-width="0.8" opacity="0.85"/></g>
<g><path d="M1634.8,1499.9 1634.7,1501.0 1634.3,1501.9 1633.7,1502.7 1632.9,1503.1 1631.9,1503.3 1630.9,1503.1 1630.1,1502.7 1629.5,1501.9 1629.1,1501.0 1629.0,1499.9 1629.1,1498.8 1629.5,1497.9 1630.1,1497.1 1630.9,1496.7 1631.9,1496.5 1632.9,1496.7 1633.7,1497.1 1634.3,1497.9 1634.7,1498.8Z" fill="none" stroke="#3b4ba6" stroke-width="1.3"/></g>
<g><path d="M1617.1,1493.9 1616.5,1496.2 1614.8,1498.5 1612.0,1500.6 1608.0,1502.4 1602.8,1503.8 1596.3,1504.9 1588.4,1505.5 1578.4,1505.7 1560.9,1505.2 1543.4,1504.3 1533.4,1503.4 1525.5,1502.4 1519.0,1501.2 1513.8,1499.9 1509.8,1498.5 1507.0,1497.0 1505.3,1495.5 1504.7,1493.9 1505.3,1492.3 1507.0,1490.8 1509.8,1489.3 1513.8,1487.9 1519.0,1486.6 1525.5,1485.4 1533.4,1484.4 1543.4,1483.5 1560.9,1482.6 1578.4,1482.1 1588.4,1482.3 1596.3,1482.9 1602.8,1484.0 1608.0,1485.4 1612.0,1487.2 1614.8,1489.3 1616.5,1491.6Z" fill="#3b4ba6"/><ellipse cx="1560.9" cy="1493.9" rx="38.8" ry="4.6" fill="none" stroke="#fff" stroke-width="0.8" opacity="0.85"/><ellipse cx="1560.9" cy="1493.9" rx="25.9" ry="3.1" fill="none" stroke="#fff" stroke-width="0.8" opacity="0.85"/><ellipse cx="1560.9" cy="1493.9" rx="12.9" ry="1.5" fill="none" stroke="#fff" stroke-width="0.8" opacity="0.85"/></g>
<g><path d="M1520.5,1488.6 1520.4,1489.9 1520.0,1491.1 1519.3,1492.2 1518.5,1493.2 1517.4,1494.0 1516.1,1494.6 1514.7,1495.0 1513.0,1495.1 1511.3,1495.0 1509.9,1494.6 1508.6,1494.0 1507.5,1493.2 1506.7,1492.2 1506.0,1491.1 1505.6,1489.9 1505.5,1488.6 1505.6,1487.3 1506.0,1486.1 1506.7,1485.0 1507.5,1484.0 1508.6,1483.2 1509.9,1482.6 1511.3,1482.2 1513.0,1482.1 1514.7,1482.2 1516.1,1482.6 1517.4,1483.2 1518.5,1484.0 1519.3,1485.0 1520.0,1486.1 1520.4,1487.3Z" fill="none" stroke="#3b4ba6" stroke-width="1.2"/><path d="M1516.8,1488.6 1516.6,1489.6 1516.1,1490.5 1515.3,1491.2 1514.3,1491.7 1513.0,1491.8 1511.7,1491.7 1510.7,1491.2 1509.9,1490.5 1509.4,1489.6 1509.2,1488.6 1509.4,1487.6 1509.9,1486.7 1510.7,1486.0 1511.7,1485.5 1513.0,1485.3 1514.3,1485.5 1515.3,1486.0 1516.1,1486.7 1516.6,1487.6Z" fill="none" stroke="#3b4ba6" stroke-width="1.2"/></g>
<g><path d="M1554.0,1517.8 1553.6,1520.0 1552.6,1522.2 1550.8,1524.2 1548.3,1526.0 1545.1,1527.6 1541.1,1528.9 1536.2,1529.8 1530.0,1530.4 1519.1,1530.6 1508.2,1530.4 1502.0,1529.8 1497.1,1528.9 1493.1,1527.6 1489.9,1526.0 1487.4,1524.2 1485.6,1522.2 1484.6,1520.0 1484.2,1517.8 1484.6,1515.6 1485.6,1513.4 1487.4,1511.4 1489.9,1509.6 1493.1,1508.0 1497.1,1506.7 1502.0,1505.8 1508.2,1505.2 1519.1,1505.0 1530.0,1505.2 1536.2,1505.8 1541.1,1506.7 1545.1,1508.0 1548.3,1509.6 1550.8,1511.4 1552.6,1513.4 1553.6,1515.6Z" fill="#3b4ba6"/><ellipse cx="1519.1" cy="1517.8" rx="24.1" ry="5.3" fill="none" stroke="#fff" stroke-width="0.8" opacity="0.85"/><ellipse cx="1519.1" cy="1517.8" rx="16.1" ry="3.5" fill="none" stroke="#fff" stroke-width="0.8" opacity="0.85"/><ellipse cx="1519.1" cy="1517.8" rx="8.0" ry="1.8" fill="none" stroke="#fff" stroke-width="0.8" opacity="0.85"/></g>
<g><path d="M1487.6,1521.2 1487.5,1522.7 1487.2,1524.1 1486.7,1525.5 1486.0,1526.6 1485.1,1527.6 1484.1,1528.3 1483.0,1528.8 1481.7,1528.9 1480.3,1528.8 1479.2,1528.3 1478.2,1527.6 1477.3,1526.6 1476.6,1525.5 1476.1,1524.1 1475.8,1522.7 1475.7,1521.2 1475.8,1519.7 1476.1,1518.3 1476.6,1516.9 1477.3,1515.8 1478.2,1514.8 1479.2,1514.1 1480.3,1513.6 1481.7,1513.5 1483.0,1513.6 1484.1,1514.1 1485.1,1514.8 1486.0,1515.8 1486.7,1516.9 1487.2,1518.3 1487.5,1519.7Z" fill="none" stroke="#4ec4d0" stroke-width="1.3"/><path d="M1486.1,1521.2 1485.9,1523.0 1485.3,1524.6 1484.4,1525.9 1483.2,1526.7 1481.7,1527.0 1480.1,1526.7 1478.9,1525.9 1478.0,1524.6 1477.4,1523.0 1477.2,1521.2 1477.4,1519.4 1478.0,1517.8 1478.9,1516.5 1480.1,1515.7 1481.7,1515.4 1483.2,1515.7 1484.4,1516.5 1485.3,1517.8 1485.9,1519.4Z" fill="none" stroke="#4ec4d0" stroke-width="1.3"/><path d="M1484.6,1521.2 1484.5,1522.4 1484.1,1523.5 1483.5,1524.3 1482.7,1524.9 1481.7,1525.0 1480.6,1524.9 1479.8,1524.3 1479.2,1523.5 1478.8,1522.4 1478.7,1521.2 1478.8,1520.0 1479.2,1518.9 1479.8,1518.1 1480.6,1517.5 1481.7,1517.3 1482.7,1517.5 1483.5,1518.1 1484.1,1518.9 1484.5,1520.0Z" fill="none" stroke="#4ec4d0" stroke-width="1.3"/><path d="M1483.1,1521.2 1483.1,1521.8 1482.9,1522.3 1482.6,1522.8 1482.2,1523.0 1481.7,1523.1 1481.1,1523.0 1480.7,1522.8 1480.4,1522.3 1480.2,1521.8 1480.2,1521.2 1480.2,1520.6 1480.4,1520.1 1480.7,1519.6 1481.1,1519.4 1481.7,1519.3 1482.2,1519.4 1482.6,1519.6 1482.9,1520.1 1483.1,1520.6Z" fill="none" stroke="#4ec4d0" stroke-width="1.3"/></g>
<g><path d="M1576.2,1524.8 1576.1,1525.8 1575.9,1526.8 1575.5,1527.8 1574.9,1528.6 1574.0,1529.4 1573.0,1530.0 1571.6,1530.4 1569.5,1530.7 1562.9,1530.8 1556.3,1530.7 1554.2,1530.4 1552.8,1530.0 1551.8,1529.4 1550.9,1528.6 1550.3,1527.8 1549.9,1526.8 1549.7,1525.8 1549.6,1524.8 1549.7,1523.8 1549.9,1522.8 1550.3,1521.8 1550.9,1521.0 1551.8,1520.2 1552.8,1519.6 1554.2,1519.2 1556.3,1518.9 1562.9,1518.8 1569.5,1518.9 1571.6,1519.2 1573.0,1519.6 1574.0,1520.2 1574.9,1521.0 1575.5,1521.8 1575.9,1522.8 1576.1,1523.8Z" fill="#5cba48"/></g>
<g><path d="M1470.5,1522.7 1470.3,1523.8 1469.6,1524.7 1468.6,1525.5 1467.2,1525.9 1465.5,1526.1 1463.7,1525.9 1462.3,1525.5 1461.3,1524.7 1460.6,1523.8 1460.4,1522.7 1460.6,1521.6 1461.3,1520.7 1462.3,1519.9 1463.7,1519.5 1465.5,1519.3 1467.2,1519.5 1468.6,1519.9 1469.6,1520.7 1470.3,1521.6Z" fill="none" stroke="#d8d8d8" stroke-width="1.0"/><path d="M1468.0,1522.7 1467.9,1523.2 1467.5,1523.7 1467.0,1524.1 1466.3,1524.3 1465.5,1524.4 1464.6,1524.3 1463.9,1524.1 1463.4,1523.7 1463.0,1523.2 1462.9,1522.7 1463.0,1522.2 1463.4,1521.7 1463.9,1521.3 1464.6,1521.1 1465.5,1521.0 1466.3,1521.1 1467.0,1521.3 1467.5,1521.7 1467.9,1522.2Z" fill="none" stroke="#d8d8d8" stroke-width="1.0"/></g>
<g><path d="M1597.5,1571.3 1597.0,1575.0 1595.5,1578.5 1593.1,1581.8 1589.6,1584.8 1585.1,1587.4 1579.6,1589.4 1572.7,1591.0 1564.1,1591.9 1549.0,1592.2 1533.9,1591.9 1525.3,1591.0 1518.4,1589.4 1512.9,1587.4 1508.4,1584.8 1504.9,1581.8 1502.5,1578.5 1501.0,1575.0 1500.5,1571.3 1501.0,1567.7 1502.5,1564.2 1504.9,1560.9 1508.4,1557.9 1512.9,1555.3 1518.4,1553.3 1525.3,1551.7 1533.9,1550.8 1549.0,1550.4 1564.1,1550.8 1572.7,1551.7 1579.6,1553.3 1585.1,1555.3 1589.6,1557.9 1593.1,1560.9 1595.5,1564.2 1597.0,1567.7Z" fill="#d8d8d8"/><ellipse cx="1549.0" cy="1571.3" rx="33.5" ry="8.6" fill="none" stroke="#fff" stroke-width="0.8" opacity="0.85"/><ellipse cx="1549.0" cy="1571.3" rx="22.3" ry="5.7" fill="none" stroke="#fff" stroke-width="0.8" opacity="0.85"/><ellipse cx="1549.0" cy="1571.3" rx="11.2" ry="2.9" fill="none" stroke="#fff" stroke-width="0.8" opacity="0.85"/></g>
<g transform="rotate(-5 1578.3 1603.1)"><path d="M1639.2,1603.1 1638.6,1606.8 1636.7,1610.3 1633.6,1613.7 1629.3,1616.7 1623.7,1619.3 1616.7,1621.4 1608.1,1622.9 1597.3,1623.9 1578.4,1624.2 1559.4,1623.9 1548.6,1622.9 1540.0,1621.4 1533.0,1619.3 1527.4,1616.7 1523.1,1613.7 1520.0,1610.3 1518.1,1606.8 1517.5,1603.1 1518.1,1599.4 1520.0,1595.9 1523.1,1592.5 1527.4,1589.5 1533.0,1586.9 1540.0,1584.8 1548.6,1583.3 1559.4,1582.3 1578.3,1582.0 1597.3,1582.3 1608.1,1583.3 1616.7,1584.8 1623.7,1586.9 1629.3,1589.5 1633.6,1592.5 1636.7,1595.9 1638.6,1599.4Z" fill="#d8d8d8"/><ellipse cx="1578.3" cy="1603.1" rx="42.0" ry="8.7" fill="none" stroke="#fff" stroke-width="0.8" opacity="0.85"/><ellipse cx="1578.3" cy="1603.1" rx="28.0" ry="5.8" fill="none" stroke="#fff" stroke-width="0.8" opacity="0.85"/><ellipse cx="1578.3" cy="1603.1" rx="14.0" ry="2.9" fill="none" stroke="#fff" stroke-width="0.8" opacity="0.85"/></g>
<g><path d="M1567.5,1635.7 1567.4,1636.6 1567.2,1637.4 1566.8,1638.2 1566.3,1638.9 1565.6,1639.5 1564.7,1640.0 1563.7,1640.3 1562.3,1640.6 1560.0,1640.6 1557.7,1640.6 1556.3,1640.3 1555.3,1640.0 1554.4,1639.5 1553.7,1638.9 1553.2,1638.2 1552.8,1637.4 1552.6,1636.6 1552.5,1635.7 1552.6,1634.8 1552.8,1634.0 1553.2,1633.2 1553.7,1632.5 1554.4,1631.9 1555.3,1631.4 1556.3,1631.1 1557.7,1630.8 1560.0,1630.8 1562.3,1630.8 1563.7,1631.1 1564.7,1631.4 1565.6,1631.9 1566.3,1632.5 1566.8,1633.2 1567.2,1634.0 1567.4,1634.8Z" fill="#d8d8d8"/><ellipse cx="1560.0" cy="1635.7" rx="3.5" ry="1.4" fill="none" stroke="#fff" stroke-width="0.8" opacity="0.85"/></g>
<g><path d="M1494.5,1579.6 1494.3,1580.7 1493.9,1581.7 1493.2,1582.4 1492.2,1582.9 1491.0,1583.1 1489.8,1582.9 1488.8,1582.4 1488.1,1581.7 1487.7,1580.7 1487.5,1579.6 1487.7,1578.5 1488.1,1577.5 1488.8,1576.8 1489.8,1576.3 1491.0,1576.1 1492.2,1576.3 1493.2,1576.8 1493.9,1577.5 1494.3,1578.5Z" fill="none" stroke="#d8d8d8" stroke-width="1.0"/></g>
<g><path d="M1460.5,1583.9 1460.2,1585.6 1459.3,1587.3 1457.7,1588.9 1455.5,1590.3 1452.7,1591.6 1449.1,1592.6 1444.8,1593.3 1439.4,1593.8 1429.8,1593.9 1420.2,1593.8 1414.8,1593.3 1410.5,1592.6 1406.9,1591.6 1404.1,1590.3 1401.9,1588.9 1400.3,1587.3 1399.4,1585.6 1399.1,1583.9 1399.4,1582.2 1400.3,1580.5 1401.9,1578.9 1404.1,1577.5 1406.9,1576.2 1410.5,1575.2 1414.8,1574.5 1420.2,1574.0 1429.8,1573.9 1439.4,1574.0 1444.8,1574.5 1449.1,1575.2 1452.7,1576.2 1455.5,1577.5 1457.7,1578.9 1459.3,1580.5 1460.2,1582.2Z" fill="#3b4ba6"/><ellipse cx="1429.8" cy="1583.9" rx="21.2" ry="4.1" fill="none" stroke="#fff" stroke-width="0.8" opacity="0.85"/><ellipse cx="1429.8" cy="1583.9" rx="14.1" ry="2.8" fill="none" stroke="#fff" stroke-width="0.8" opacity="0.85"/><ellipse cx="1429.8" cy="1583.9" rx="7.1" ry="1.4" fill="none" stroke="#fff" stroke-width="0.8" opacity="0.85"/></g>
<g><path d="M1472.3,1591.6 1472.2,1593.4 1471.7,1595.1 1471.0,1596.7 1470.0,1598.1 1468.8,1599.4 1467.2,1600.4 1465.2,1601.1 1462.7,1601.6 1458.4,1601.7 1454.1,1601.6 1451.6,1601.1 1449.6,1600.4 1448.0,1599.4 1446.8,1598.1 1445.8,1596.7 1445.1,1595.1 1444.6,1593.4 1444.5,1591.6 1444.6,1589.8 1445.1,1588.1 1445.8,1586.5 1446.8,1585.1 1448.0,1583.8 1449.6,1582.8 1451.6,1582.1 1454.1,1581.6 1458.4,1581.5 1462.7,1581.6 1465.2,1582.1 1467.2,1582.8 1468.8,1583.8 1470.0,1585.1 1471.0,1586.5 1471.7,1588.1 1472.2,1589.8Z" fill="#3b4ba6"/><ellipse cx="1458.4" cy="1591.6" rx="8.5" ry="3.7" fill="none" stroke="#fff" stroke-width="0.8" opacity="0.85"/><ellipse cx="1458.4" cy="1591.6" rx="4.3" ry="1.9" fill="none" stroke="#fff" stroke-width="0.8" opacity="0.85"/></g>
<g><path d="M1439.9,1603.8 1439.8,1604.6 1439.5,1605.3 1438.9,1606.0 1438.1,1606.7 1437.1,1607.2 1435.8,1607.7 1434.3,1608.0 1432.3,1608.2 1428.9,1608.3 1425.4,1608.2 1423.4,1608.0 1421.9,1607.7 1420.6,1607.2 1419.6,1606.7 1418.8,1606.0 1418.2,1605.3 1417.9,1604.6 1417.8,1603.8 1417.9,1603.0 1418.2,1602.3 1418.8,1601.6 1419.6,1600.9 1420.6,1600.4 1421.9,1599.9 1423.4,1599.6 1425.4,1599.4 1428.8,1599.3 1432.3,1599.4 1434.3,1599.6 1435.8,1599.9 1437.1,1600.4 1438.1,1600.9 1438.9,1601.6 1439.5,1602.3 1439.8,1603.0Z" fill="#d8d8d8"/><ellipse cx="1428.8" cy="1603.8" rx="5.1" ry="1.2" fill="none" stroke="#fff" stroke-width="0.8" opacity="0.85"/></g>
<g><path d="M1491.0,1670.5 1490.8,1671.8 1490.2,1673.0 1489.3,1674.1 1487.9,1675.2 1486.2,1676.0 1484.1,1676.8 1481.4,1677.3 1478.1,1677.6 1472.3,1677.7 1466.4,1677.6 1463.1,1677.3 1460.4,1676.8 1458.3,1676.0 1456.6,1675.2 1455.2,1674.1 1454.3,1673.0 1453.7,1671.8 1453.5,1670.5 1453.7,1669.3 1454.3,1668.1 1455.2,1667.0 1456.6,1665.9 1458.3,1665.1 1460.4,1664.3 1463.1,1663.8 1466.4,1663.5 1472.2,1663.4 1478.1,1663.5 1481.4,1663.8 1484.1,1664.3 1486.2,1665.1 1487.9,1665.9 1489.3,1667.0 1490.2,1668.1 1490.8,1669.3Z" fill="#3b4ba6"/><ellipse cx="1472.2" cy="1670.5" rx="11.5" ry="2.6" fill="none" stroke="#fff" stroke-width="0.8" opacity="0.85"/><ellipse cx="1472.2" cy="1670.5" rx="5.8" ry="1.3" fill="none" stroke="#fff" stroke-width="0.8" opacity="0.85"/></g>
<g><path d="M1523.4,1683.8 1523.1,1685.7 1522.4,1687.4 1521.1,1689.1 1519.2,1690.6 1516.9,1691.9 1513.9,1693.0 1510.3,1693.7 1505.8,1694.2 1497.9,1694.4 1489.9,1694.2 1485.4,1693.7 1481.8,1693.0 1478.8,1691.9 1476.5,1690.6 1474.6,1689.1 1473.3,1687.4 1472.6,1685.7 1472.3,1683.8 1472.6,1682.0 1473.3,1680.3 1474.6,1678.6 1476.5,1677.1 1478.8,1675.8 1481.8,1674.7 1485.4,1674.0 1489.9,1673.5 1497.8,1673.3 1505.8,1673.5 1510.3,1674.0 1513.9,1674.7 1516.9,1675.8 1519.2,1677.1 1521.1,1678.6 1522.4,1680.3 1523.1,1682.0Z" fill="#3b4ba6"/><ellipse cx="1497.8" cy="1683.8" rx="15.7" ry="3.9" fill="none" stroke="#fff" stroke-width="0.8" opacity="0.85"/><ellipse cx="1497.8" cy="1683.8" rx="7.8" ry="1.9" fill="none" stroke="#fff" stroke-width="0.8" opacity="0.85"/></g>
<g><path d="M1479.1,1780.9 1478.9,1782.5 1478.1,1784.0 1476.9,1785.4 1475.2,1786.7 1473.0,1787.8 1470.3,1788.7 1466.9,1789.3 1462.7,1789.7 1455.3,1789.9 1447.9,1789.7 1443.7,1789.3 1440.3,1788.7 1437.6,1787.8 1435.4,1786.7 1433.7,1785.4 1432.5,1784.0 1431.7,1782.5 1431.5,1780.9 1431.7,1779.3 1432.5,1777.8 1433.7,1776.4 1435.4,1775.1 1437.6,1774.0 1440.3,1773.1 1443.7,1772.5 1447.9,1772.1 1455.3,1771.9 1462.7,1772.1 1466.9,1772.5 1470.3,1773.1 1473.0,1774.0 1475.2,1775.1 1476.9,1776.4 1478.1,1777.8 1478.9,1779.3Z" fill="#d8d8d8"/><ellipse cx="1455.3" cy="1780.9" rx="14.6" ry="3.3" fill="none" stroke="#fff" stroke-width="0.8" opacity="0.85"/><ellipse cx="1455.3" cy="1780.9" rx="7.3" ry="1.6" fill="none" stroke="#fff" stroke-width="0.8" opacity="0.85"/></g>
<g><path d="M1516.5,1797.8 1516.2,1800.0 1515.1,1802.0 1513.4,1803.9 1511.0,1805.6 1507.8,1807.1 1503.9,1808.3 1499.1,1809.2 1493.1,1809.8 1482.5,1809.9 1471.9,1809.8 1465.9,1809.2 1461.1,1808.3 1457.2,1807.1 1454.0,1805.6 1451.6,1803.9 1449.9,1802.0 1448.8,1800.0 1448.5,1797.8 1448.8,1795.7 1449.9,1793.7 1451.6,1791.8 1454.0,1790.1 1457.2,1788.6 1461.1,1787.4 1465.9,1786.5 1471.9,1785.9 1482.5,1785.8 1493.1,1785.9 1499.1,1786.5 1503.9,1787.4 1507.8,1788.6 1511.0,1790.1 1513.4,1791.8 1515.1,1793.7 1516.2,1795.7Z" fill="#d8d8d8"/><ellipse cx="1482.5" cy="1797.8" rx="23.5" ry="5.0" fill="none" stroke="#fff" stroke-width="0.8" opacity="0.85"/><ellipse cx="1482.5" cy="1797.8" rx="15.6" ry="3.3" fill="none" stroke="#fff" stroke-width="0.8" opacity="0.85"/><ellipse cx="1482.5" cy="1797.8" rx="7.8" ry="1.7" fill="none" stroke="#fff" stroke-width="0.8" opacity="0.85"/></g>
<g transform="rotate(-3 1266.2 1811.6)"><path d="M1301.0,1811.6 1300.6,1813.4 1299.6,1815.1 1297.8,1816.7 1295.3,1818.1 1292.1,1819.4 1288.1,1820.4 1283.2,1821.1 1277.1,1821.6 1266.3,1821.7 1255.4,1821.6 1249.3,1821.1 1244.4,1820.4 1240.4,1819.4 1237.2,1818.1 1234.7,1816.7 1232.9,1815.1 1231.9,1813.4 1231.5,1811.6 1231.9,1809.8 1232.9,1808.1 1234.7,1806.5 1237.2,1805.1 1240.4,1803.8 1244.4,1802.8 1249.3,1802.1 1255.4,1801.6 1266.2,1801.5 1277.1,1801.6 1283.2,1802.1 1288.1,1802.8 1292.1,1803.8 1295.3,1805.1 1297.8,1806.5 1299.6,1808.1 1300.6,1809.8Z" fill="#a93439"/><ellipse cx="1266.2" cy="1811.6" rx="24.0" ry="4.2" fill="none" stroke="#fff" stroke-width="0.8" opacity="0.85"/><ellipse cx="1266.2" cy="1811.6" rx="16.0" ry="2.8" fill="none" stroke="#fff" stroke-width="0.8" opacity="0.85"/><ellipse cx="1266.2" cy="1811.6" rx="8.0" ry="1.4" fill="none" stroke="#fff" stroke-width="0.8" opacity="0.85"/></g>
<g><path d="M1262.8,1862.2 1262.5,1863.8 1261.7,1865.2 1260.4,1866.6 1258.5,1867.8 1256.1,1868.9 1253.0,1869.8 1249.3,1870.4 1244.6,1870.8 1236.4,1870.9 1228.2,1870.8 1223.5,1870.4 1219.8,1869.8 1216.7,1868.9 1214.3,1867.8 1212.4,1866.6 1211.1,1865.2 1210.3,1863.8 1210.0,1862.2 1210.3,1860.7 1211.1,1859.3 1212.4,1857.9 1214.3,1856.7 1216.7,1855.6 1219.8,1854.7 1223.5,1854.1 1228.2,1853.7 1236.4,1853.6 1244.6,1853.7 1249.3,1854.1 1253.0,1854.7 1256.1,1855.6 1258.5,1856.7 1260.4,1857.9 1261.7,1859.3 1262.5,1860.7Z" fill="#53648f"/><ellipse cx="1236.4" cy="1862.2" rx="18.2" ry="3.6" fill="none" stroke="#fff" stroke-width="0.8" opacity="0.85"/><ellipse cx="1236.4" cy="1862.2" rx="12.1" ry="2.4" fill="none" stroke="#fff" stroke-width="0.8" opacity="0.85"/><ellipse cx="1236.4" cy="1862.2" rx="6.1" ry="1.2" fill="none" stroke="#fff" stroke-width="0.8" opacity="0.85"/></g>
<g><path d="M1292.8,1889.9 1292.4,1891.6 1291.3,1893.2 1289.5,1894.7 1287.0,1896.1 1283.7,1897.2 1279.6,1898.2 1274.5,1898.9 1268.2,1899.3 1257.1,1899.5 1245.9,1899.3 1239.6,1898.9 1234.5,1898.2 1230.4,1897.2 1227.1,1896.1 1224.6,1894.7 1222.8,1893.2 1221.7,1891.6 1221.3,1889.9 1221.7,1888.2 1222.8,1886.6 1224.6,1885.1 1227.1,1883.7 1230.4,1882.6 1234.5,1881.6 1239.6,1880.9 1245.9,1880.5 1257.0,1880.3 1268.2,1880.5 1274.5,1880.9 1279.6,1881.6 1283.7,1882.6 1287.0,1883.7 1289.5,1885.1 1291.3,1886.6 1292.4,1888.2Z" fill="#53648f"/><ellipse cx="1257.0" cy="1889.9" rx="24.7" ry="4.0" fill="none" stroke="#fff" stroke-width="0.8" opacity="0.85"/><ellipse cx="1257.0" cy="1889.9" rx="16.4" ry="2.6" fill="none" stroke="#fff" stroke-width="0.8" opacity="0.85"/><ellipse cx="1257.0" cy="1889.9" rx="8.2" ry="1.3" fill="none" stroke="#fff" stroke-width="0.8" opacity="0.85"/></g>
<g><path d="M1278.2,1917.5 1278.0,1919.0 1277.2,1920.5 1276.0,1921.9 1274.2,1923.1 1272.0,1924.2 1269.2,1925.0 1265.8,1925.7 1261.4,1926.1 1253.9,1926.2 1246.3,1926.1 1241.9,1925.7 1238.5,1925.0 1235.7,1924.2 1233.5,1923.1 1231.7,1921.9 1230.5,1920.5 1229.7,1919.0 1229.5,1917.5 1229.7,1916.0 1230.5,1914.5 1231.7,1913.1 1233.5,1911.9 1235.7,1910.8 1238.5,1910.0 1241.9,1909.3 1246.3,1908.9 1253.8,1908.8 1261.4,1908.9 1265.8,1909.3 1269.2,1910.0 1272.0,1910.8 1274.2,1911.9 1276.0,1913.1 1277.2,1914.5 1278.0,1916.0Z" fill="#53648f"/><ellipse cx="1253.8" cy="1917.5" rx="16.8" ry="3.6" fill="none" stroke="#fff" stroke-width="0.8" opacity="0.85"/><ellipse cx="1253.8" cy="1917.5" rx="11.2" ry="2.4" fill="none" stroke="#fff" stroke-width="0.8" opacity="0.85"/><ellipse cx="1253.8" cy="1917.5" rx="5.6" ry="1.2" fill="none" stroke="#fff" stroke-width="0.8" opacity="0.85"/></g>
<g><path d="M1240.7,1947.6 1240.4,1949.1 1239.6,1950.5 1238.3,1951.8 1236.4,1953.0 1234.0,1954.0 1230.9,1954.8 1227.2,1955.5 1222.5,1955.8 1214.3,1956.0 1206.1,1955.8 1201.4,1955.5 1197.7,1954.8 1194.6,1954.0 1192.2,1953.0 1190.3,1951.8 1189.0,1950.5 1188.2,1949.1 1187.9,1947.6 1188.2,1946.1 1189.0,1944.7 1190.3,1943.4 1192.2,1942.2 1194.6,1941.2 1197.7,1940.4 1201.4,1939.7 1206.1,1939.4 1214.3,1939.2 1222.5,1939.4 1227.2,1939.7 1230.9,1940.4 1234.0,1941.2 1236.4,1942.2 1238.3,1943.4 1239.6,1944.7 1240.4,1946.1Z" fill="#d8d8d8"/><ellipse cx="1214.3" cy="1947.6" rx="18.2" ry="3.4" fill="none" stroke="#fff" stroke-width="0.8" opacity="0.85"/><ellipse cx="1214.3" cy="1947.6" rx="12.1" ry="2.3" fill="none" stroke="#fff" stroke-width="0.8" opacity="0.85"/><ellipse cx="1214.3" cy="1947.6" rx="6.1" ry="1.1" fill="none" stroke="#fff" stroke-width="0.8" opacity="0.85"/></g>
<g><path d="M1204.5,1981.4 1204.4,1982.9 1204.0,1984.2 1203.4,1985.2 1202.5,1985.9 1201.5,1986.1 1200.5,1985.9 1199.6,1985.2 1199.0,1984.2 1198.6,1982.9 1198.5,1981.4 1198.6,1980.0 1199.0,1978.7 1199.6,1977.7 1200.5,1977.0 1201.5,1976.8 1202.5,1977.0 1203.4,1977.7 1204.0,1978.7 1204.4,1980.0Z" fill="none" stroke="#d8d8d8" stroke-width="1.0"/></g>
<g><path d="M1227.1,1984.4 1227.0,1985.9 1226.6,1987.4 1225.9,1988.7 1225.0,1989.9 1223.9,1990.8 1222.6,1991.5 1221.1,1992.0 1219.4,1992.1 1217.7,1992.0 1216.2,1991.5 1214.9,1990.8 1213.8,1989.9 1212.9,1988.7 1212.2,1987.4 1211.8,1985.9 1211.7,1984.4 1211.8,1983.0 1212.2,1981.5 1212.9,1980.2 1213.8,1979.0 1214.9,1978.1 1216.2,1977.4 1217.7,1976.9 1219.4,1976.8 1221.1,1976.9 1222.6,1977.4 1223.9,1978.1 1225.0,1979.0 1225.9,1980.2 1226.6,1981.5 1227.0,1983.0Z" fill="none" stroke="#d8d8d8" stroke-width="1.0"/><path d="M1223.2,1984.4 1223.1,1985.6 1222.6,1986.7 1221.8,1987.5 1220.7,1988.1 1219.4,1988.3 1218.1,1988.1 1217.0,1987.5 1216.2,1986.7 1215.7,1985.6 1215.6,1984.4 1215.7,1983.3 1216.2,1982.2 1217.0,1981.4 1218.1,1980.8 1219.4,1980.6 1220.7,1980.8 1221.8,1981.4 1222.6,1982.2 1223.1,1983.3Z" fill="none" stroke="#d8d8d8" stroke-width="1.0"/></g>
<g><path d="M1312.2,1980.9 1312.0,1982.2 1311.5,1983.4 1310.6,1984.3 1309.4,1984.9 1308.0,1985.1 1306.5,1984.9 1305.3,1984.3 1304.4,1983.4 1303.9,1982.2 1303.7,1980.9 1303.9,1979.7 1304.4,1978.5 1305.3,1977.6 1306.5,1977.0 1308.0,1976.8 1309.4,1977.0 1310.6,1977.6 1311.5,1978.5 1312.0,1979.7Z" fill="none" stroke="#d8d8d8" stroke-width="1.0"/><path d="M1310.1,1980.9 1310.0,1981.6 1309.7,1982.2 1309.3,1982.6 1308.7,1982.9 1308.0,1983.0 1307.2,1982.9 1306.6,1982.6 1306.2,1982.2 1305.9,1981.6 1305.8,1980.9 1305.9,1980.3 1306.2,1979.7 1306.6,1979.3 1307.2,1979.0 1308.0,1978.9 1308.7,1979.0 1309.3,1979.3 1309.7,1979.7 1310.0,1980.3Z" fill="none" stroke="#d8d8d8" stroke-width="1.0"/></g>
<g transform="rotate(-2 1178.2 2003.8)"><path d="M1210.0,2003.8 1209.7,2004.7 1208.7,2005.6 1207.1,2006.4 1204.8,2007.1 1201.9,2007.7 1198.2,2008.2 1193.7,2008.6 1188.1,2008.8 1178.2,2008.9 1168.2,2008.8 1162.6,2008.6 1158.1,2008.2 1154.4,2007.7 1151.5,2007.1 1149.2,2006.4 1147.6,2005.6 1146.6,2004.7 1146.3,2003.8 1146.6,2003.0 1147.6,2002.1 1149.2,2001.3 1151.5,2000.6 1154.4,2000.0 1158.1,1999.5 1162.6,1999.1 1168.2,1998.9 1178.1,1998.8 1188.1,1998.9 1193.7,1999.1 1198.2,1999.5 1201.9,2000.0 1204.8,2000.6 1207.1,2001.3 1208.7,2002.1 1209.7,2003.0Z" fill="#1c6b36"/><ellipse cx="1178.2" cy="2003.8" rx="22.0" ry="2.1" fill="none" stroke="#fff" stroke-width="0.8" opacity="0.85"/><ellipse cx="1178.2" cy="2003.8" rx="14.7" ry="1.4" fill="none" stroke="#fff" stroke-width="0.8" opacity="0.85"/><ellipse cx="1178.2" cy="2003.8" rx="7.3" ry="0.7" fill="none" stroke="#fff" stroke-width="0.8" opacity="0.85"/></g>
<g><path d="M1189.6,2034.1 1189.4,2035.3 1189.0,2036.4 1188.2,2037.4 1187.1,2038.3 1185.7,2039.1 1183.9,2039.8 1181.8,2040.2 1179.0,2040.5 1174.3,2040.6 1169.5,2040.5 1166.7,2040.2 1164.6,2039.8 1162.8,2039.1 1161.4,2038.3 1160.3,2037.4 1159.5,2036.4 1159.1,2035.3 1158.9,2034.1 1159.1,2033.0 1159.5,2031.9 1160.3,2030.9 1161.4,2030.0 1162.8,2029.2 1164.6,2028.5 1166.7,2028.1 1169.5,2027.8 1174.2,2027.7 1179.0,2027.8 1181.8,2028.1 1183.9,2028.5 1185.7,2029.2 1187.1,2030.0 1188.2,2030.9 1189.0,2031.9 1189.4,2033.0Z" fill="#d8d8d8"/><ellipse cx="1174.2" cy="2034.1" rx="10.6" ry="2.7" fill="none" stroke="#fff" stroke-width="0.8" opacity="0.85"/><ellipse cx="1174.2" cy="2034.1" rx="7.1" ry="1.8" fill="none" stroke="#fff" stroke-width="0.8" opacity="0.85"/><ellipse cx="1174.2" cy="2034.1" rx="3.5" ry="0.9" fill="none" stroke="#fff" stroke-width="0.8" opacity="0.85"/></g>
<text x="1368.4" y="1595.3" font-size="24" fill="#3b4ba6">A<tspan font-size="16" dy="7">α</tspan></text>
<text x="1409.3" y="1681.5" font-size="24" fill="#3b4ba6">A<tspan font-size="15" dy="8">β-G</tspan></text>
<text x="1489.3" y="1723.7" font-size="24" fill="#3b4ba6">A<tspan font-size="15" dy="8">β-S</tspan></text>
<rect x="1414.6" y="2068.8" width="111.7" height="66.5" fill="#f6f6d6" stroke="#222" stroke-width="1.2"/>
<rect x="1526.3" y="2004.5" width="153.2" height="130.8" fill="#f6f6d6" stroke="#222" stroke-width="1.2"/>
<text x="1539.7" y="2033.8" font-size="21.5" fill="#a93439" textLength="88.1" lengthAdjust="spacingAndGlyphs">S: 48.2%</text>
<text x="1539.7" y="2063.3" font-size="21.5" fill="#53648f" textLength="95.0" lengthAdjust="spacingAndGlyphs">G: 51.8%</text>
<text x="1539.7" y="2094.3" font-size="21.5" textLength="100.8" lengthAdjust="spacingAndGlyphs"><tspan fill="#a93439">S</tspan><tspan fill="#000">/</tspan><tspan fill="#53648f">G:</tspan><tspan fill="#000"> 0.93</tspan></text>
<text x="1539.7" y="2124.1" font-size="21.5" fill="#e65a20" textLength="104.3" lengthAdjust="spacingAndGlyphs"><tspan font-style="italic">p</tspan>CA: 2.5%</text>
<text x="1425.1" y="2094.3" font-size="21.5" fill="#3b4ba6" textLength="89.0" lengthAdjust="spacingAndGlyphs">A: 45.8%</text>
<text x="1425.1" y="2124.1" font-size="21.5" fill="#5cba48" textLength="74.2" lengthAdjust="spacingAndGlyphs">B: 3.1%</text>
<rect x="3.5" y="0.0" width="547.0" height="700.2" fill="none" stroke="#111" stroke-width="1.3"/>
<line x1="550.50" y1="700.20" x2="561.00" y2="700.20" stroke="#333" stroke-width="1.4"/>
<line x1="3.46" y1="700.20" x2="3.46" y2="705.70" stroke="#555" stroke-width="1.4"/>
<line x1="21.70" y1="700.20" x2="21.70" y2="710.20" stroke="#555" stroke-width="1.4"/>
<line x1="39.94" y1="700.20" x2="39.94" y2="705.70" stroke="#555" stroke-width="1.4"/>
<line x1="58.18" y1="700.20" x2="58.18" y2="705.70" stroke="#555" stroke-width="1.4"/>
<line x1="76.42" y1="700.20" x2="76.42" y2="705.70" stroke="#555" stroke-width="1.4"/>
<line x1="94.66" y1="700.20" x2="94.66" y2="705.70" stroke="#555" stroke-width="1.4"/>
<line x1="112.90" y1="700.20" x2="112.90" y2="710.20" stroke="#555" stroke-width="1.4"/>
<line x1="131.14" y1="700.20" x2="131.14" y2="705.70" stroke="#555" stroke-width="1.4"/>
<line x1="149.38" y1="700.20" x2="149.38" y2="705.70" stroke="#555" stroke-width="1.4"/>
<line x1="167.62" y1="700.20" x2="167.62" y2="705.70" stroke="#555" stroke-width="1.4"/>
<line x1="185.86" y1="700.20" x2="185.86" y2="705.70" stroke="#555" stroke-width="1.4"/>
<line x1="204.10" y1="700.20" x2="204.10" y2="710.20" stroke="#555" stroke-width="1.4"/>
<line x1="222.34" y1="700.20" x2="222.34" y2="705.70" stroke="#555" stroke-width="1.4"/>
<line x1="240.58" y1="700.20" x2="240.58" y2="705.70" stroke="#555" stroke-width="1.4"/>
<line x1="258.82" y1="700.20" x2="258.82" y2="705.70" stroke="#555" stroke-width="1.4"/>
<line x1="277.06" y1="700.20" x2="277.06" y2="705.70" stroke="#555" stroke-width="1.4"/>
<line x1="295.30" y1="700.20" x2="295.30" y2="710.20" stroke="#555" stroke-width="1.4"/>
<line x1="313.54" y1="700.20" x2="313.54" y2="705.70" stroke="#555" stroke-width="1.4"/>
<line x1="331.78" y1="700.20" x2="331.78" y2="705.70" stroke="#555" stroke-width="1.4"/>
<line x1="350.02" y1="700.20" x2="350.02" y2="705.70" stroke="#555" stroke-width="1.4"/>
<line x1="368.26" y1="700.20" x2="368.26" y2="705.70" stroke="#555" stroke-width="1.4"/>
<line x1="386.50" y1="700.20" x2="386.50" y2="710.20" stroke="#555" stroke-width="1.4"/>
<line x1="404.74" y1="700.20" x2="404.74" y2="705.70" stroke="#555" stroke-width="1.4"/>
<line x1="422.98" y1="700.20" x2="422.98" y2="705.70" stroke="#555" stroke-width="1.4"/>
<line x1="441.22" y1="700.20" x2="441.22" y2="705.70" stroke="#555" stroke-width="1.4"/>
<line x1="459.46" y1="700.20" x2="459.46" y2="705.70" stroke="#555" stroke-width="1.4"/>
<line x1="477.70" y1="700.20" x2="477.70" y2="710.20" stroke="#555" stroke-width="1.4"/>
<line x1="495.94" y1="700.20" x2="495.94" y2="705.70" stroke="#555" stroke-width="1.4"/>
<line x1="514.18" y1="700.20" x2="514.18" y2="705.70" stroke="#555" stroke-width="1.4"/>
<line x1="532.42" y1="700.20" x2="532.42" y2="705.70" stroke="#555" stroke-width="1.4"/>
<line x1="550.50" y1="7.08" x2="556.00" y2="7.08" stroke="#555" stroke-width="1.4"/>
<line x1="550.50" y1="21.24" x2="556.00" y2="21.24" stroke="#555" stroke-width="1.4"/>
<line x1="550.50" y1="35.40" x2="556.00" y2="35.40" stroke="#555" stroke-width="1.4"/>
<line x1="550.50" y1="49.56" x2="556.00" y2="49.56" stroke="#555" stroke-width="1.4"/>
<line x1="550.50" y1="63.72" x2="560.50" y2="63.72" stroke="#555" stroke-width="1.4"/>
<line x1="550.50" y1="77.88" x2="556.00" y2="77.88" stroke="#555" stroke-width="1.4"/>
<line x1="550.50" y1="92.04" x2="556.00" y2="92.04" stroke="#555" stroke-width="1.4"/>
<line x1="550.50" y1="106.20" x2="556.00" y2="106.20" stroke="#555" stroke-width="1.4"/>
<line x1="550.50" y1="120.36" x2="556.00" y2="120.36" stroke="#555" stroke-width="1.4"/>
<line x1="550.50" y1="134.52" x2="560.50" y2="134.52" stroke="#555" stroke-width="1.4"/>
<line x1="550.50" y1="148.68" x2="556.00" y2="148.68" stroke="#555" stroke-width="1.4"/>
<line x1="550.50" y1="162.84" x2="556.00" y2="162.84" stroke="#555" stroke-width="1.4"/>
<line x1="550.50" y1="177.00" x2="556.00" y2="177.00" stroke="#555" stroke-width="1.4"/>
<line x1="550.50" y1="191.16" x2="556.00" y2="191.16" stroke="#555" stroke-width="1.4"/>
<line x1="550.50" y1="205.32" x2="560.50" y2="205.32" stroke="#555" stroke-width="1.4"/>
<line x1="550.50" y1="219.48" x2="556.00" y2="219.48" stroke="#555" stroke-width="1.4"/>
<line x1="550.50" y1="233.64" x2="556.00" y2="233.64" stroke="#555" stroke-width="1.4"/>
<line x1="550.50" y1="247.80" x2="556.00" y2="247.80" stroke="#555" stroke-width="1.4"/>
<line x1="550.50" y1="261.96" x2="556.00" y2="261.96" stroke="#555" stroke-width="1.4"/>
<line x1="550.50" y1="276.12" x2="560.50" y2="276.12" stroke="#555" stroke-width="1.4"/>
<line x1="550.50" y1="290.28" x2="556.00" y2="290.28" stroke="#555" stroke-width="1.4"/>
<line x1="550.50" y1="304.44" x2="556.00" y2="304.44" stroke="#555" stroke-width="1.4"/>
<line x1="550.50" y1="318.60" x2="556.00" y2="318.60" stroke="#555" stroke-width="1.4"/>
<line x1="550.50" y1="332.76" x2="556.00" y2="332.76" stroke="#555" stroke-width="1.4"/>
<line x1="550.50" y1="346.92" x2="560.50" y2="346.92" stroke="#555" stroke-width="1.4"/>
<line x1="550.50" y1="361.08" x2="556.00" y2="361.08" stroke="#555" stroke-width="1.4"/>
<line x1="550.50" y1="375.24" x2="556.00" y2="375.24" stroke="#555" stroke-width="1.4"/>
<line x1="550.50" y1="389.40" x2="556.00" y2="389.40" stroke="#555" stroke-width="1.4"/>
<line x1="550.50" y1="403.56" x2="556.00" y2="403.56" stroke="#555" stroke-width="1.4"/>
<line x1="550.50" y1="417.72" x2="560.50" y2="417.72" stroke="#555" stroke-width="1.4"/>
<line x1="550.50" y1="431.88" x2="556.00" y2="431.88" stroke="#555" stroke-width="1.4"/>
<line x1="550.50" y1="446.04" x2="556.00" y2="446.04" stroke="#555" stroke-width="1.4"/>
<line x1="550.50" y1="460.20" x2="556.00" y2="460.20" stroke="#555" stroke-width="1.4"/>
<line x1="550.50" y1="474.36" x2="556.00" y2="474.36" stroke="#555" stroke-width="1.4"/>
<line x1="550.50" y1="488.52" x2="560.50" y2="488.52" stroke="#555" stroke-width="1.4"/>
<line x1="550.50" y1="502.68" x2="556.00" y2="502.68" stroke="#555" stroke-width="1.4"/>
<line x1="550.50" y1="516.84" x2="556.00" y2="516.84" stroke="#555" stroke-width="1.4"/>
<line x1="550.50" y1="531.00" x2="556.00" y2="531.00" stroke="#555" stroke-width="1.4"/>
<line x1="550.50" y1="545.16" x2="556.00" y2="545.16" stroke="#555" stroke-width="1.4"/>
<line x1="550.50" y1="559.32" x2="560.50" y2="559.32" stroke="#555" stroke-width="1.4"/>
<line x1="550.50" y1="573.48" x2="556.00" y2="573.48" stroke="#555" stroke-width="1.4"/>
<line x1="550.50" y1="587.64" x2="556.00" y2="587.64" stroke="#555" stroke-width="1.4"/>
<line x1="550.50" y1="601.80" x2="556.00" y2="601.80" stroke="#555" stroke-width="1.4"/>
<line x1="550.50" y1="615.96" x2="556.00" y2="615.96" stroke="#555" stroke-width="1.4"/>
<line x1="550.50" y1="630.12" x2="560.50" y2="630.12" stroke="#555" stroke-width="1.4"/>
<line x1="550.50" y1="644.28" x2="556.00" y2="644.28" stroke="#555" stroke-width="1.4"/>
<line x1="550.50" y1="658.44" x2="556.00" y2="658.44" stroke="#555" stroke-width="1.4"/>
<line x1="550.50" y1="672.60" x2="556.00" y2="672.60" stroke="#555" stroke-width="1.4"/>
<line x1="550.50" y1="686.76" x2="556.00" y2="686.76" stroke="#555" stroke-width="1.4"/>
<line x1="550.50" y1="700.92" x2="560.50" y2="700.92" stroke="#555" stroke-width="1.4"/>
<text x="15.7" y="37.3" font-size="38" fill="#000" font-weight="bold" stroke="#000" stroke-width="1.5" stroke-linejoin="round">a</text>
<line x1="3.50" y1="0.60" x2="550.50" y2="0.60" stroke="#111" stroke-width="1.3"/>
<rect x="567.5" y="0.0" width="547.0" height="700.2" fill="none" stroke="#111" stroke-width="1.3"/>
<line x1="1114.50" y1="700.20" x2="1125.00" y2="700.20" stroke="#333" stroke-width="1.4"/>
<line x1="567.46" y1="700.20" x2="567.46" y2="705.70" stroke="#555" stroke-width="1.4"/>
<line x1="585.70" y1="700.20" x2="585.70" y2="710.20" stroke="#555" stroke-width="1.4"/>
<line x1="603.94" y1="700.20" x2="603.94" y2="705.70" stroke="#555" stroke-width="1.4"/>
<line x1="622.18" y1="700.20" x2="622.18" y2="705.70" stroke="#555" stroke-width="1.4"/>
<line x1="640.42" y1="700.20" x2="640.42" y2="705.70" stroke="#555" stroke-width="1.4"/>
<line x1="658.66" y1="700.20" x2="658.66" y2="705.70" stroke="#555" stroke-width="1.4"/>
<line x1="676.90" y1="700.20" x2="676.90" y2="710.20" stroke="#555" stroke-width="1.4"/>
<line x1="695.14" y1="700.20" x2="695.14" y2="705.70" stroke="#555" stroke-width="1.4"/>
<line x1="713.38" y1="700.20" x2="713.38" y2="705.70" stroke="#555" stroke-width="1.4"/>
<line x1="731.62" y1="700.20" x2="731.62" y2="705.70" stroke="#555" stroke-width="1.4"/>
<line x1="749.86" y1="700.20" x2="749.86" y2="705.70" stroke="#555" stroke-width="1.4"/>
<line x1="768.10" y1="700.20" x2="768.10" y2="710.20" stroke="#555" stroke-width="1.4"/>
<line x1="786.34" y1="700.20" x2="786.34" y2="705.70" stroke="#555" stroke-width="1.4"/>
<line x1="804.58" y1="700.20" x2="804.58" y2="705.70" stroke="#555" stroke-width="1.4"/>
<line x1="822.82" y1="700.20" x2="822.82" y2="705.70" stroke="#555" stroke-width="1.4"/>
<line x1="841.06" y1="700.20" x2="841.06" y2="705.70" stroke="#555" stroke-width="1.4"/>
<line x1="859.30" y1="700.20" x2="859.30" y2="710.20" stroke="#555" stroke-width="1.4"/>
<line x1="877.54" y1="700.20" x2="877.54" y2="705.70" stroke="#555" stroke-width="1.4"/>
<line x1="895.78" y1="700.20" x2="895.78" y2="705.70" stroke="#555" stroke-width="1.4"/>
<line x1="914.02" y1="700.20" x2="914.02" y2="705.70" stroke="#555" stroke-width="1.4"/>
<line x1="932.26" y1="700.20" x2="932.26" y2="705.70" stroke="#555" stroke-width="1.4"/>
<line x1="950.50" y1="700.20" x2="950.50" y2="710.20" stroke="#555" stroke-width="1.4"/>
<line x1="968.74" y1="700.20" x2="968.74" y2="705.70" stroke="#555" stroke-width="1.4"/>
<line x1="986.98" y1="700.20" x2="986.98" y2="705.70" stroke="#555" stroke-width="1.4"/>
<line x1="1005.22" y1="700.20" x2="1005.22" y2="705.70" stroke="#555" stroke-width="1.4"/>
<line x1="1023.46" y1="700.20" x2="1023.46" y2="705.70" stroke="#555" stroke-width="1.4"/>
<line x1="1041.70" y1="700.20" x2="1041.70" y2="710.20" stroke="#555" stroke-width="1.4"/>
<line x1="1059.94" y1="700.20" x2="1059.94" y2="705.70" stroke="#555" stroke-width="1.4"/>
<line x1="1078.18" y1="700.20" x2="1078.18" y2="705.70" stroke="#555" stroke-width="1.4"/>
<line x1="1096.42" y1="700.20" x2="1096.42" y2="705.70" stroke="#555" stroke-width="1.4"/>
<line x1="1114.50" y1="7.08" x2="1120.00" y2="7.08" stroke="#555" stroke-width="1.4"/>
<line x1="1114.50" y1="21.24" x2="1120.00" y2="21.24" stroke="#555" stroke-width="1.4"/>
<line x1="1114.50" y1="35.40" x2="1120.00" y2="35.40" stroke="#555" stroke-width="1.4"/>
<line x1="1114.50" y1="49.56" x2="1120.00" y2="49.56" stroke="#555" stroke-width="1.4"/>
<line x1="1114.50" y1="63.72" x2="1124.50" y2="63.72" stroke="#555" stroke-width="1.4"/>
<line x1="1114.50" y1="77.88" x2="1120.00" y2="77.88" stroke="#555" stroke-width="1.4"/>
<line x1="1114.50" y1="92.04" x2="1120.00" y2="92.04" stroke="#555" stroke-width="1.4"/>
<line x1="1114.50" y1="106.20" x2="1120.00" y2="106.20" stroke="#555" stroke-width="1.4"/>
<line x1="1114.50" y1="120.36" x2="1120.00" y2="120.36" stroke="#555" stroke-width="1.4"/>
<line x1="1114.50" y1="134.52" x2="1124.50" y2="134.52" stroke="#555" stroke-width="1.4"/>
<line x1="1114.50" y1="148.68" x2="1120.00" y2="148.68" stroke="#555" stroke-width="1.4"/>
<line x1="1114.50" y1="162.84" x2="1120.00" y2="162.84" stroke="#555" stroke-width="1.4"/>
<line x1="1114.50" y1="177.00" x2="1120.00" y2="177.00" stroke="#555" stroke-width="1.4"/>
<line x1="1114.50" y1="191.16" x2="1120.00" y2="191.16" stroke="#555" stroke-width="1.4"/>
<line x1="1114.50" y1="205.32" x2="1124.50" y2="205.32" stroke="#555" stroke-width="1.4"/>
<line x1="1114.50" y1="219.48" x2="1120.00" y2="219.48" stroke="#555" stroke-width="1.4"/>
<line x1="1114.50" y1="233.64" x2="1120.00" y2="233.64" stroke="#555" stroke-width="1.4"/>
<line x1="1114.50" y1="247.80" x2="1120.00" y2="247.80" stroke="#555" stroke-width="1.4"/>
<line x1="1114.50" y1="261.96" x2="1120.00" y2="261.96" stroke="#555" stroke-width="1.4"/>
<line x1="1114.50" y1="276.12" x2="1124.50" y2="276.12" stroke="#555" stroke-width="1.4"/>
<line x1="1114.50" y1="290.28" x2="1120.00" y2="290.28" stroke="#555" stroke-width="1.4"/>
<line x1="1114.50" y1="304.44" x2="1120.00" y2="304.44" stroke="#555" stroke-width="1.4"/>
<line x1="1114.50" y1="318.60" x2="1120.00" y2="318.60" stroke="#555" stroke-width="1.4"/>
<line x1="1114.50" y1="332.76" x2="1120.00" y2="332.76" stroke="#555" stroke-width="1.4"/>
<line x1="1114.50" y1="346.92" x2="1124.50" y2="346.92" stroke="#555" stroke-width="1.4"/>
<line x1="1114.50" y1="361.08" x2="1120.00" y2="361.08" stroke="#555" stroke-width="1.4"/>
<line x1="1114.50" y1="375.24" x2="1120.00" y2="375.24" stroke="#555" stroke-width="1.4"/>
<line x1="1114.50" y1="389.40" x2="1120.00" y2="389.40" stroke="#555" stroke-width="1.4"/>
<line x1="1114.50" y1="403.56" x2="1120.00" y2="403.56" stroke="#555" stroke-width="1.4"/>
<line x1="1114.50" y1="417.72" x2="1124.50" y2="417.72" stroke="#555" stroke-width="1.4"/>
<line x1="1114.50" y1="431.88" x2="1120.00" y2="431.88" stroke="#555" stroke-width="1.4"/>
<line x1="1114.50" y1="446.04" x2="1120.00" y2="446.04" stroke="#555" stroke-width="1.4"/>
<line x1="1114.50" y1="460.20" x2="1120.00" y2="460.20" stroke="#555" stroke-width="1.4"/>
<line x1="1114.50" y1="474.36" x2="1120.00" y2="474.36" stroke="#555" stroke-width="1.4"/>
<line x1="1114.50" y1="488.52" x2="1124.50" y2="488.52" stroke="#555" stroke-width="1.4"/>
<line x1="1114.50" y1="502.68" x2="1120.00" y2="502.68" stroke="#555" stroke-width="1.4"/>
<line x1="1114.50" y1="516.84" x2="1120.00" y2="516.84" stroke="#555" stroke-width="1.4"/>
<line x1="1114.50" y1="531.00" x2="1120.00" y2="531.00" stroke="#555" stroke-width="1.4"/>
<line x1="1114.50" y1="545.16" x2="1120.00" y2="545.16" stroke="#555" stroke-width="1.4"/>
<line x1="1114.50" y1="559.32" x2="1124.50" y2="559.32" stroke="#555" stroke-width="1.4"/>
<line x1="1114.50" y1="573.48" x2="1120.00" y2="573.48" stroke="#555" stroke-width="1.4"/>
<line x1="1114.50" y1="587.64" x2="1120.00" y2="587.64" stroke="#555" stroke-width="1.4"/>
<line x1="1114.50" y1="601.80" x2="1120.00" y2="601.80" stroke="#555" stroke-width="1.4"/>
<line x1="1114.50" y1="615.96" x2="1120.00" y2="615.96" stroke="#555" stroke-width="1.4"/>
<line x1="1114.50" y1="630.12" x2="1124.50" y2="630.12" stroke="#555" stroke-width="1.4"/>
<line x1="1114.50" y1="644.28" x2="1120.00" y2="644.28" stroke="#555" stroke-width="1.4"/>
<line x1="1114.50" y1="658.44" x2="1120.00" y2="658.44" stroke="#555" stroke-width="1.4"/>
<line x1="1114.50" y1="672.60" x2="1120.00" y2="672.60" stroke="#555" stroke-width="1.4"/>
<line x1="1114.50" y1="686.76" x2="1120.00" y2="686.76" stroke="#555" stroke-width="1.4"/>
<line x1="1114.50" y1="700.92" x2="1124.50" y2="700.92" stroke="#555" stroke-width="1.4"/>
<text x="579.7" y="37.3" font-size="38" fill="#000" font-weight="bold" stroke="#000" stroke-width="1.5" stroke-linejoin="round">b</text>
<line x1="567.50" y1="0.60" x2="1114.50" y2="0.60" stroke="#111" stroke-width="1.3"/>
<rect x="1132.5" y="0.0" width="547.0" height="700.2" fill="none" stroke="#111" stroke-width="1.3"/>
<line x1="1679.50" y1="700.20" x2="1690.00" y2="700.20" stroke="#333" stroke-width="1.4"/>
<line x1="1132.46" y1="700.20" x2="1132.46" y2="705.70" stroke="#555" stroke-width="1.4"/>
<line x1="1150.70" y1="700.20" x2="1150.70" y2="710.20" stroke="#555" stroke-width="1.4"/>
<line x1="1168.94" y1="700.20" x2="1168.94" y2="705.70" stroke="#555" stroke-width="1.4"/>
<line x1="1187.18" y1="700.20" x2="1187.18" y2="705.70" stroke="#555" stroke-width="1.4"/>
<line x1="1205.42" y1="700.20" x2="1205.42" y2="705.70" stroke="#555" stroke-width="1.4"/>
<line x1="1223.66" y1="700.20" x2="1223.66" y2="705.70" stroke="#555" stroke-width="1.4"/>
<line x1="1241.90" y1="700.20" x2="1241.90" y2="710.20" stroke="#555" stroke-width="1.4"/>
<line x1="1260.14" y1="700.20" x2="1260.14" y2="705.70" stroke="#555" stroke-width="1.4"/>
<line x1="1278.38" y1="700.20" x2="1278.38" y2="705.70" stroke="#555" stroke-width="1.4"/>
<line x1="1296.62" y1="700.20" x2="1296.62" y2="705.70" stroke="#555" stroke-width="1.4"/>
<line x1="1314.86" y1="700.20" x2="1314.86" y2="705.70" stroke="#555" stroke-width="1.4"/>
<line x1="1333.10" y1="700.20" x2="1333.10" y2="710.20" stroke="#555" stroke-width="1.4"/>
<line x1="1351.34" y1="700.20" x2="1351.34" y2="705.70" stroke="#555" stroke-width="1.4"/>
<line x1="1369.58" y1="700.20" x2="1369.58" y2="705.70" stroke="#555" stroke-width="1.4"/>
<line x1="1387.82" y1="700.20" x2="1387.82" y2="705.70" stroke="#555" stroke-width="1.4"/>
<line x1="1406.06" y1="700.20" x2="1406.06" y2="705.70" stroke="#555" stroke-width="1.4"/>
<line x1="1424.30" y1="700.20" x2="1424.30" y2="710.20" stroke="#555" stroke-width="1.4"/>
<line x1="1442.54" y1="700.20" x2="1442.54" y2="705.70" stroke="#555" stroke-width="1.4"/>
<line x1="1460.78" y1="700.20" x2="1460.78" y2="705.70" stroke="#555" stroke-width="1.4"/>
<line x1="1479.02" y1="700.20" x2="1479.02" y2="705.70" stroke="#555" stroke-width="1.4"/>
<line x1="1497.26" y1="700.20" x2="1497.26" y2="705.70" stroke="#555" stroke-width="1.4"/>
<line x1="1515.50" y1="700.20" x2="1515.50" y2="710.20" stroke="#555" stroke-width="1.4"/>
<line x1="1533.74" y1="700.20" x2="1533.74" y2="705.70" stroke="#555" stroke-width="1.4"/>
<line x1="1551.98" y1="700.20" x2="1551.98" y2="705.70" stroke="#555" stroke-width="1.4"/>
<line x1="1570.22" y1="700.20" x2="1570.22" y2="705.70" stroke="#555" stroke-width="1.4"/>
<line x1="1588.46" y1="700.20" x2="1588.46" y2="705.70" stroke="#555" stroke-width="1.4"/>
<line x1="1606.70" y1="700.20" x2="1606.70" y2="710.20" stroke="#555" stroke-width="1.4"/>
<line x1="1624.94" y1="700.20" x2="1624.94" y2="705.70" stroke="#555" stroke-width="1.4"/>
<line x1="1643.18" y1="700.20" x2="1643.18" y2="705.70" stroke="#555" stroke-width="1.4"/>
<line x1="1661.42" y1="700.20" x2="1661.42" y2="705.70" stroke="#555" stroke-width="1.4"/>
<line x1="1679.50" y1="7.08" x2="1685.00" y2="7.08" stroke="#555" stroke-width="1.4"/>
<line x1="1679.50" y1="21.24" x2="1685.00" y2="21.24" stroke="#555" stroke-width="1.4"/>
<line x1="1679.50" y1="35.40" x2="1685.00" y2="35.40" stroke="#555" stroke-width="1.4"/>
<line x1="1679.50" y1="49.56" x2="1685.00" y2="49.56" stroke="#555" stroke-width="1.4"/>
<line x1="1679.50" y1="63.72" x2="1689.50" y2="63.72" stroke="#555" stroke-width="1.4"/>
<line x1="1679.50" y1="77.88" x2="1685.00" y2="77.88" stroke="#555" stroke-width="1.4"/>
<line x1="1679.50" y1="92.04" x2="1685.00" y2="92.04" stroke="#555" stroke-width="1.4"/>
<line x1="1679.50" y1="106.20" x2="1685.00" y2="106.20" stroke="#555" stroke-width="1.4"/>
<line x1="1679.50" y1="120.36" x2="1685.00" y2="120.36" stroke="#555" stroke-width="1.4"/>
<line x1="1679.50" y1="134.52" x2="1689.50" y2="134.52" stroke="#555" stroke-width="1.4"/>
<line x1="1679.50" y1="148.68" x2="1685.00" y2="148.68" stroke="#555" stroke-width="1.4"/>
<line x1="1679.50" y1="162.84" x2="1685.00" y2="162.84" stroke="#555" stroke-width="1.4"/>
<line x1="1679.50" y1="177.00" x2="1685.00" y2="177.00" stroke="#555" stroke-width="1.4"/>
<line x1="1679.50" y1="191.16" x2="1685.00" y2="191.16" stroke="#555" stroke-width="1.4"/>
<line x1="1679.50" y1="205.32" x2="1689.50" y2="205.32" stroke="#555" stroke-width="1.4"/>
<line x1="1679.50" y1="219.48" x2="1685.00" y2="219.48" stroke="#555" stroke-width="1.4"/>
<line x1="1679.50" y1="233.64" x2="1685.00" y2="233.64" stroke="#555" stroke-width="1.4"/>
<line x1="1679.50" y1="247.80" x2="1685.00" y2="247.80" stroke="#555" stroke-width="1.4"/>
<line x1="1679.50" y1="261.96" x2="1685.00" y2="261.96" stroke="#555" stroke-width="1.4"/>
<line x1="1679.50" y1="276.12" x2="1689.50" y2="276.12" stroke="#555" stroke-width="1.4"/>
<line x1="1679.50" y1="290.28" x2="1685.00" y2="290.28" stroke="#555" stroke-width="1.4"/>
<line x1="1679.50" y1="304.44" x2="1685.00" y2="304.44" stroke="#555" stroke-width="1.4"/>
<line x1="1679.50" y1="318.60" x2="1685.00" y2="318.60" stroke="#555" stroke-width="1.4"/>
<line x1="1679.50" y1="332.76" x2="1685.00" y2="332.76" stroke="#555" stroke-width="1.4"/>
<line x1="1679.50" y1="346.92" x2="1689.50" y2="346.92" stroke="#555" stroke-width="1.4"/>
<line x1="1679.50" y1="361.08" x2="1685.00" y2="361.08" stroke="#555" stroke-width="1.4"/>
<line x1="1679.50" y1="375.24" x2="1685.00" y2="375.24" stroke="#555" stroke-width="1.4"/>
<line x1="1679.50" y1="389.40" x2="1685.00" y2="389.40" stroke="#555" stroke-width="1.4"/>
<line x1="1679.50" y1="403.56" x2="1685.00" y2="403.56" stroke="#555" stroke-width="1.4"/>
<line x1="1679.50" y1="417.72" x2="1689.50" y2="417.72" stroke="#555" stroke-width="1.4"/>
<line x1="1679.50" y1="431.88" x2="1685.00" y2="431.88" stroke="#555" stroke-width="1.4"/>
<line x1="1679.50" y1="446.04" x2="1685.00" y2="446.04" stroke="#555" stroke-width="1.4"/>
<line x1="1679.50" y1="460.20" x2="1685.00" y2="460.20" stroke="#555" stroke-width="1.4"/>
<line x1="1679.50" y1="474.36" x2="1685.00" y2="474.36" stroke="#555" stroke-width="1.4"/>
<line x1="1679.50" y1="488.52" x2="1689.50" y2="488.52" stroke="#555" stroke-width="1.4"/>
<line x1="1679.50" y1="502.68" x2="1685.00" y2="502.68" stroke="#555" stroke-width="1.4"/>
<line x1="1679.50" y1="516.84" x2="1685.00" y2="516.84" stroke="#555" stroke-width="1.4"/>
<line x1="1679.50" y1="531.00" x2="1685.00" y2="531.00" stroke="#555" stroke-width="1.4"/>
<line x1="1679.50" y1="545.16" x2="1685.00" y2="545.16" stroke="#555" stroke-width="1.4"/>
<line x1="1679.50" y1="559.32" x2="1689.50" y2="559.32" stroke="#555" stroke-width="1.4"/>
<line x1="1679.50" y1="573.48" x2="1685.00" y2="573.48" stroke="#555" stroke-width="1.4"/>
<line x1="1679.50" y1="587.64" x2="1685.00" y2="587.64" stroke="#555" stroke-width="1.4"/>
<line x1="1679.50" y1="601.80" x2="1685.00" y2="601.80" stroke="#555" stroke-width="1.4"/>
<line x1="1679.50" y1="615.96" x2="1685.00" y2="615.96" stroke="#555" stroke-width="1.4"/>
<line x1="1679.50" y1="630.12" x2="1689.50" y2="630.12" stroke="#555" stroke-width="1.4"/>
<line x1="1679.50" y1="644.28" x2="1685.00" y2="644.28" stroke="#555" stroke-width="1.4"/>
<line x1="1679.50" y1="658.44" x2="1685.00" y2="658.44" stroke="#555" stroke-width="1.4"/>
<line x1="1679.50" y1="672.60" x2="1685.00" y2="672.60" stroke="#555" stroke-width="1.4"/>
<line x1="1679.50" y1="686.76" x2="1685.00" y2="686.76" stroke="#555" stroke-width="1.4"/>
<line x1="1679.50" y1="700.92" x2="1689.50" y2="700.92" stroke="#555" stroke-width="1.4"/>
<text x="1144.7" y="37.3" font-size="38" fill="#000" font-weight="bold" stroke="#000" stroke-width="1.5" stroke-linejoin="round">c</text>
<line x1="1132.50" y1="0.60" x2="1679.50" y2="0.60" stroke="#111" stroke-width="1.3"/>
<rect x="3.5" y="718.4" width="547.0" height="700.2" fill="none" stroke="#111" stroke-width="1.3"/>
<line x1="550.50" y1="1418.60" x2="561.00" y2="1418.60" stroke="#333" stroke-width="1.4"/>
<line x1="3.46" y1="1418.60" x2="3.46" y2="1424.10" stroke="#555" stroke-width="1.4"/>
<line x1="21.70" y1="1418.60" x2="21.70" y2="1428.60" stroke="#555" stroke-width="1.4"/>
<line x1="39.94" y1="1418.60" x2="39.94" y2="1424.10" stroke="#555" stroke-width="1.4"/>
<line x1="58.18" y1="1418.60" x2="58.18" y2="1424.10" stroke="#555" stroke-width="1.4"/>
<line x1="76.42" y1="1418.60" x2="76.42" y2="1424.10" stroke="#555" stroke-width="1.4"/>
<line x1="94.66" y1="1418.60" x2="94.66" y2="1424.10" stroke="#555" stroke-width="1.4"/>
<line x1="112.90" y1="1418.60" x2="112.90" y2="1428.60" stroke="#555" stroke-width="1.4"/>
<line x1="131.14" y1="1418.60" x2="131.14" y2="1424.10" stroke="#555" stroke-width="1.4"/>
<line x1="149.38" y1="1418.60" x2="149.38" y2="1424.10" stroke="#555" stroke-width="1.4"/>
<line x1="167.62" y1="1418.60" x2="167.62" y2="1424.10" stroke="#555" stroke-width="1.4"/>
<line x1="185.86" y1="1418.60" x2="185.86" y2="1424.10" stroke="#555" stroke-width="1.4"/>
<line x1="204.10" y1="1418.60" x2="204.10" y2="1428.60" stroke="#555" stroke-width="1.4"/>
<line x1="222.34" y1="1418.60" x2="222.34" y2="1424.10" stroke="#555" stroke-width="1.4"/>
<line x1="240.58" y1="1418.60" x2="240.58" y2="1424.10" stroke="#555" stroke-width="1.4"/>
<line x1="258.82" y1="1418.60" x2="258.82" y2="1424.10" stroke="#555" stroke-width="1.4"/>
<line x1="277.06" y1="1418.60" x2="277.06" y2="1424.10" stroke="#555" stroke-width="1.4"/>
<line x1="295.30" y1="1418.60" x2="295.30" y2="1428.60" stroke="#555" stroke-width="1.4"/>
<line x1="313.54" y1="1418.60" x2="313.54" y2="1424.10" stroke="#555" stroke-width="1.4"/>
<line x1="331.78" y1="1418.60" x2="331.78" y2="1424.10" stroke="#555" stroke-width="1.4"/>
<line x1="350.02" y1="1418.60" x2="350.02" y2="1424.10" stroke="#555" stroke-width="1.4"/>
<line x1="368.26" y1="1418.60" x2="368.26" y2="1424.10" stroke="#555" stroke-width="1.4"/>
<line x1="386.50" y1="1418.60" x2="386.50" y2="1428.60" stroke="#555" stroke-width="1.4"/>
<line x1="404.74" y1="1418.60" x2="404.74" y2="1424.10" stroke="#555" stroke-width="1.4"/>
<line x1="422.98" y1="1418.60" x2="422.98" y2="1424.10" stroke="#555" stroke-width="1.4"/>
<line x1="441.22" y1="1418.60" x2="441.22" y2="1424.10" stroke="#555" stroke-width="1.4"/>
<line x1="459.46" y1="1418.60" x2="459.46" y2="1424.10" stroke="#555" stroke-width="1.4"/>
<line x1="477.70" y1="1418.60" x2="477.70" y2="1428.60" stroke="#555" stroke-width="1.4"/>
<line x1="495.94" y1="1418.60" x2="495.94" y2="1424.10" stroke="#555" stroke-width="1.4"/>
<line x1="514.18" y1="1418.60" x2="514.18" y2="1424.10" stroke="#555" stroke-width="1.4"/>
<line x1="532.42" y1="1418.60" x2="532.42" y2="1424.10" stroke="#555" stroke-width="1.4"/>
<line x1="550.50" y1="725.48" x2="556.00" y2="725.48" stroke="#555" stroke-width="1.4"/>
<line x1="550.50" y1="739.64" x2="556.00" y2="739.64" stroke="#555" stroke-width="1.4"/>
<line x1="550.50" y1="753.80" x2="556.00" y2="753.80" stroke="#555" stroke-width="1.4"/>
<line x1="550.50" y1="767.96" x2="556.00" y2="767.96" stroke="#555" stroke-width="1.4"/>
<line x1="550.50" y1="782.12" x2="560.50" y2="782.12" stroke="#555" stroke-width="1.4"/>
<line x1="550.50" y1="796.28" x2="556.00" y2="796.28" stroke="#555" stroke-width="1.4"/>
<line x1="550.50" y1="810.44" x2="556.00" y2="810.44" stroke="#555" stroke-width="1.4"/>
<line x1="550.50" y1="824.60" x2="556.00" y2="824.60" stroke="#555" stroke-width="1.4"/>
<line x1="550.50" y1="838.76" x2="556.00" y2="838.76" stroke="#555" stroke-width="1.4"/>
<line x1="550.50" y1="852.92" x2="560.50" y2="852.92" stroke="#555" stroke-width="1.4"/>
<line x1="550.50" y1="867.08" x2="556.00" y2="867.08" stroke="#555" stroke-width="1.4"/>
<line x1="550.50" y1="881.24" x2="556.00" y2="881.24" stroke="#555" stroke-width="1.4"/>
<line x1="550.50" y1="895.40" x2="556.00" y2="895.40" stroke="#555" stroke-width="1.4"/>
<line x1="550.50" y1="909.56" x2="556.00" y2="909.56" stroke="#555" stroke-width="1.4"/>
<line x1="550.50" y1="923.72" x2="560.50" y2="923.72" stroke="#555" stroke-width="1.4"/>
<line x1="550.50" y1="937.88" x2="556.00" y2="937.88" stroke="#555" stroke-width="1.4"/>
<line x1="550.50" y1="952.04" x2="556.00" y2="952.04" stroke="#555" stroke-width="1.4"/>
<line x1="550.50" y1="966.20" x2="556.00" y2="966.20" stroke="#555" stroke-width="1.4"/>
<line x1="550.50" y1="980.36" x2="556.00" y2="980.36" stroke="#555" stroke-width="1.4"/>
<line x1="550.50" y1="994.52" x2="560.50" y2="994.52" stroke="#555" stroke-width="1.4"/>
<line x1="550.50" y1="1008.68" x2="556.00" y2="1008.68" stroke="#555" stroke-width="1.4"/>
<line x1="550.50" y1="1022.84" x2="556.00" y2="1022.84" stroke="#555" stroke-width="1.4"/>
<line x1="550.50" y1="1037.00" x2="556.00" y2="1037.00" stroke="#555" stroke-width="1.4"/>
<line x1="550.50" y1="1051.16" x2="556.00" y2="1051.16" stroke="#555" stroke-width="1.4"/>
<line x1="550.50" y1="1065.32" x2="560.50" y2="1065.32" stroke="#555" stroke-width="1.4"/>
<line x1="550.50" y1="1079.48" x2="556.00" y2="1079.48" stroke="#555" stroke-width="1.4"/>
<line x1="550.50" y1="1093.64" x2="556.00" y2="1093.64" stroke="#555" stroke-width="1.4"/>
<line x1="550.50" y1="1107.80" x2="556.00" y2="1107.80" stroke="#555" stroke-width="1.4"/>
<line x1="550.50" y1="1121.96" x2="556.00" y2="1121.96" stroke="#555" stroke-width="1.4"/>
<line x1="550.50" y1="1136.12" x2="560.50" y2="1136.12" stroke="#555" stroke-width="1.4"/>
<line x1="550.50" y1="1150.28" x2="556.00" y2="1150.28" stroke="#555" stroke-width="1.4"/>
<line x1="550.50" y1="1164.44" x2="556.00" y2="1164.44" stroke="#555" stroke-width="1.4"/>
<line x1="550.50" y1="1178.60" x2="556.00" y2="1178.60" stroke="#555" stroke-width="1.4"/>
<line x1="550.50" y1="1192.76" x2="556.00" y2="1192.76" stroke="#555" stroke-width="1.4"/>
<line x1="550.50" y1="1206.92" x2="560.50" y2="1206.92" stroke="#555" stroke-width="1.4"/>
<line x1="550.50" y1="1221.08" x2="556.00" y2="1221.08" stroke="#555" stroke-width="1.4"/>
<line x1="550.50" y1="1235.24" x2="556.00" y2="1235.24" stroke="#555" stroke-width="1.4"/>
<line x1="550.50" y1="1249.40" x2="556.00" y2="1249.40" stroke="#555" stroke-width="1.4"/>
<line x1="550.50" y1="1263.56" x2="556.00" y2="1263.56" stroke="#555" stroke-width="1.4"/>
<line x1="550.50" y1="1277.72" x2="560.50" y2="1277.72" stroke="#555" stroke-width="1.4"/>
<line x1="550.50" y1="1291.88" x2="556.00" y2="1291.88" stroke="#555" stroke-width="1.4"/>
<line x1="550.50" y1="1306.04" x2="556.00" y2="1306.04" stroke="#555" stroke-width="1.4"/>
<line x1="550.50" y1="1320.20" x2="556.00" y2="1320.20" stroke="#555" stroke-width="1.4"/>
<line x1="550.50" y1="1334.36" x2="556.00" y2="1334.36" stroke="#555" stroke-width="1.4"/>
<line x1="550.50" y1="1348.52" x2="560.50" y2="1348.52" stroke="#555" stroke-width="1.4"/>
<line x1="550.50" y1="1362.68" x2="556.00" y2="1362.68" stroke="#555" stroke-width="1.4"/>
<line x1="550.50" y1="1376.84" x2="556.00" y2="1376.84" stroke="#555" stroke-width="1.4"/>
<line x1="550.50" y1="1391.00" x2="556.00" y2="1391.00" stroke="#555" stroke-width="1.4"/>
<line x1="550.50" y1="1405.16" x2="556.00" y2="1405.16" stroke="#555" stroke-width="1.4"/>
<line x1="550.50" y1="1419.32" x2="560.50" y2="1419.32" stroke="#555" stroke-width="1.4"/>
<text x="15.7" y="756.5" font-size="38" fill="#000" font-weight="bold" stroke="#000" stroke-width="1.5" stroke-linejoin="round">d</text>
<rect x="567.5" y="718.4" width="547.0" height="700.2" fill="none" stroke="#111" stroke-width="1.3"/>
<line x1="1114.50" y1="1418.60" x2="1125.00" y2="1418.60" stroke="#333" stroke-width="1.4"/>
<line x1="567.46" y1="1418.60" x2="567.46" y2="1424.10" stroke="#555" stroke-width="1.4"/>
<line x1="585.70" y1="1418.60" x2="585.70" y2="1428.60" stroke="#555" stroke-width="1.4"/>
<line x1="603.94" y1="1418.60" x2="603.94" y2="1424.10" stroke="#555" stroke-width="1.4"/>
<line x1="622.18" y1="1418.60" x2="622.18" y2="1424.10" stroke="#555" stroke-width="1.4"/>
<line x1="640.42" y1="1418.60" x2="640.42" y2="1424.10" stroke="#555" stroke-width="1.4"/>
<line x1="658.66" y1="1418.60" x2="658.66" y2="1424.10" stroke="#555" stroke-width="1.4"/>
<line x1="676.90" y1="1418.60" x2="676.90" y2="1428.60" stroke="#555" stroke-width="1.4"/>
<line x1="695.14" y1="1418.60" x2="695.14" y2="1424.10" stroke="#555" stroke-width="1.4"/>
<line x1="713.38" y1="1418.60" x2="713.38" y2="1424.10" stroke="#555" stroke-width="1.4"/>
<line x1="731.62" y1="1418.60" x2="731.62" y2="1424.10" stroke="#555" stroke-width="1.4"/>
<line x1="749.86" y1="1418.60" x2="749.86" y2="1424.10" stroke="#555" stroke-width="1.4"/>
<line x1="768.10" y1="1418.60" x2="768.10" y2="1428.60" stroke="#555" stroke-width="1.4"/>
<line x1="786.34" y1="1418.60" x2="786.34" y2="1424.10" stroke="#555" stroke-width="1.4"/>
<line x1="804.58" y1="1418.60" x2="804.58" y2="1424.10" stroke="#555" stroke-width="1.4"/>
<line x1="822.82" y1="1418.60" x2="822.82" y2="1424.10" stroke="#555" stroke-width="1.4"/>
<line x1="841.06" y1="1418.60" x2="841.06" y2="1424.10" stroke="#555" stroke-width="1.4"/>
<line x1="859.30" y1="1418.60" x2="859.30" y2="1428.60" stroke="#555" stroke-width="1.4"/>
<line x1="877.54" y1="1418.60" x2="877.54" y2="1424.10" stroke="#555" stroke-width="1.4"/>
<line x1="895.78" y1="1418.60" x2="895.78" y2="1424.10" stroke="#555" stroke-width="1.4"/>
<line x1="914.02" y1="1418.60" x2="914.02" y2="1424.10" stroke="#555" stroke-width="1.4"/>
<line x1="932.26" y1="1418.60" x2="932.26" y2="1424.10" stroke="#555" stroke-width="1.4"/>
<line x1="950.50" y1="1418.60" x2="950.50" y2="1428.60" stroke="#555" stroke-width="1.4"/>
<line x1="968.74" y1="1418.60" x2="968.74" y2="1424.10" stroke="#555" stroke-width="1.4"/>
<line x1="986.98" y1="1418.60" x2="986.98" y2="1424.10" stroke="#555" stroke-width="1.4"/>
<line x1="1005.22" y1="1418.60" x2="1005.22" y2="1424.10" stroke="#555" stroke-width="1.4"/>
<line x1="1023.46" y1="1418.60" x2="1023.46" y2="1424.10" stroke="#555" stroke-width="1.4"/>
<line x1="1041.70" y1="1418.60" x2="1041.70" y2="1428.60" stroke="#555" stroke-width="1.4"/>
<line x1="1059.94" y1="1418.60" x2="1059.94" y2="1424.10" stroke="#555" stroke-width="1.4"/>
<line x1="1078.18" y1="1418.60" x2="1078.18" y2="1424.10" stroke="#555" stroke-width="1.4"/>
<line x1="1096.42" y1="1418.60" x2="1096.42" y2="1424.10" stroke="#555" stroke-width="1.4"/>
<line x1="1114.50" y1="725.48" x2="1120.00" y2="725.48" stroke="#555" stroke-width="1.4"/>
<line x1="1114.50" y1="739.64" x2="1120.00" y2="739.64" stroke="#555" stroke-width="1.4"/>
<line x1="1114.50" y1="753.80" x2="1120.00" y2="753.80" stroke="#555" stroke-width="1.4"/>
<line x1="1114.50" y1="767.96" x2="1120.00" y2="767.96" stroke="#555" stroke-width="1.4"/>
<line x1="1114.50" y1="782.12" x2="1124.50" y2="782.12" stroke="#555" stroke-width="1.4"/>
<line x1="1114.50" y1="796.28" x2="1120.00" y2="796.28" stroke="#555" stroke-width="1.4"/>
<line x1="1114.50" y1="810.44" x2="1120.00" y2="810.44" stroke="#555" stroke-width="1.4"/>
<line x1="1114.50" y1="824.60" x2="1120.00" y2="824.60" stroke="#555" stroke-width="1.4"/>
<line x1="1114.50" y1="838.76" x2="1120.00" y2="838.76" stroke="#555" stroke-width="1.4"/>
<line x1="1114.50" y1="852.92" x2="1124.50" y2="852.92" stroke="#555" stroke-width="1.4"/>
<line x1="1114.50" y1="867.08" x2="1120.00" y2="867.08" stroke="#555" stroke-width="1.4"/>
<line x1="1114.50" y1="881.24" x2="1120.00" y2="881.24" stroke="#555" stroke-width="1.4"/>
<line x1="1114.50" y1="895.40" x2="1120.00" y2="895.40" stroke="#555" stroke-width="1.4"/>
<line x1="1114.50" y1="909.56" x2="1120.00" y2="909.56" stroke="#555" stroke-width="1.4"/>
<line x1="1114.50" y1="923.72" x2="1124.50" y2="923.72" stroke="#555" stroke-width="1.4"/>
<line x1="1114.50" y1="937.88" x2="1120.00" y2="937.88" stroke="#555" stroke-width="1.4"/>
<line x1="1114.50" y1="952.04" x2="1120.00" y2="952.04" stroke="#555" stroke-width="1.4"/>
<line x1="1114.50" y1="966.20" x2="1120.00" y2="966.20" stroke="#555" stroke-width="1.4"/>
<line x1="1114.50" y1="980.36" x2="1120.00" y2="980.36" stroke="#555" stroke-width="1.4"/>
<line x1="1114.50" y1="994.52" x2="1124.50" y2="994.52" stroke="#555" stroke-width="1.4"/>
<line x1="1114.50" y1="1008.68" x2="1120.00" y2="1008.68" stroke="#555" stroke-width="1.4"/>
<line x1="1114.50" y1="1022.84" x2="1120.00" y2="1022.84" stroke="#555" stroke-width="1.4"/>
<line x1="1114.50" y1="1037.00" x2="1120.00" y2="1037.00" stroke="#555" stroke-width="1.4"/>
<line x1="1114.50" y1="1051.16" x2="1120.00" y2="1051.16" stroke="#555" stroke-width="1.4"/>
<line x1="1114.50" y1="1065.32" x2="1124.50" y2="1065.32" stroke="#555" stroke-width="1.4"/>
<line x1="1114.50" y1="1079.48" x2="1120.00" y2="1079.48" stroke="#555" stroke-width="1.4"/>
<line x1="1114.50" y1="1093.64" x2="1120.00" y2="1093.64" stroke="#555" stroke-width="1.4"/>
<line x1="1114.50" y1="1107.80" x2="1120.00" y2="1107.80" stroke="#555" stroke-width="1.4"/>
<line x1="1114.50" y1="1121.96" x2="1120.00" y2="1121.96" stroke="#555" stroke-width="1.4"/>
<line x1="1114.50" y1="1136.12" x2="1124.50" y2="1136.12" stroke="#555" stroke-width="1.4"/>
<line x1="1114.50" y1="1150.28" x2="1120.00" y2="1150.28" stroke="#555" stroke-width="1.4"/>
<line x1="1114.50" y1="1164.44" x2="1120.00" y2="1164.44" stroke="#555" stroke-width="1.4"/>
<line x1="1114.50" y1="1178.60" x2="1120.00" y2="1178.60" stroke="#555" stroke-width="1.4"/>
<line x1="1114.50" y1="1192.76" x2="1120.00" y2="1192.76" stroke="#555" stroke-width="1.4"/>
<line x1="1114.50" y1="1206.92" x2="1124.50" y2="1206.92" stroke="#555" stroke-width="1.4"/>
<line x1="1114.50" y1="1221.08" x2="1120.00" y2="1221.08" stroke="#555" stroke-width="1.4"/>
<line x1="1114.50" y1="1235.24" x2="1120.00" y2="1235.24" stroke="#555" stroke-width="1.4"/>
<line x1="1114.50" y1="1249.40" x2="1120.00" y2="1249.40" stroke="#555" stroke-width="1.4"/>
<line x1="1114.50" y1="1263.56" x2="1120.00" y2="1263.56" stroke="#555" stroke-width="1.4"/>
<line x1="1114.50" y1="1277.72" x2="1124.50" y2="1277.72" stroke="#555" stroke-width="1.4"/>
<line x1="1114.50" y1="1291.88" x2="1120.00" y2="1291.88" stroke="#555" stroke-width="1.4"/>
<line x1="1114.50" y1="1306.04" x2="1120.00" y2="1306.04" stroke="#555" stroke-width="1.4"/>
<line x1="1114.50" y1="1320.20" x2="1120.00" y2="1320.20" stroke="#555" stroke-width="1.4"/>
<line x1="1114.50" y1="1334.36" x2="1120.00" y2="1334.36" stroke="#555" stroke-width="1.4"/>
<line x1="1114.50" y1="1348.52" x2="1124.50" y2="1348.52" stroke="#555" stroke-width="1.4"/>
<line x1="1114.50" y1="1362.68" x2="1120.00" y2="1362.68" stroke="#555" stroke-width="1.4"/>
<line x1="1114.50" y1="1376.84" x2="1120.00" y2="1376.84" stroke="#555" stroke-width="1.4"/>
<line x1="1114.50" y1="1391.00" x2="1120.00" y2="1391.00" stroke="#555" stroke-width="1.4"/>
<line x1="1114.50" y1="1405.16" x2="1120.00" y2="1405.16" stroke="#555" stroke-width="1.4"/>
<line x1="1114.50" y1="1419.32" x2="1124.50" y2="1419.32" stroke="#555" stroke-width="1.4"/>
<text x="579.7" y="756.5" font-size="38" fill="#000" font-weight="bold" stroke="#000" stroke-width="1.5" stroke-linejoin="round">e</text>
<rect x="1132.5" y="718.4" width="547.0" height="700.2" fill="none" stroke="#111" stroke-width="1.3"/>
<line x1="1679.50" y1="1418.60" x2="1690.00" y2="1418.60" stroke="#333" stroke-width="1.4"/>
<line x1="1132.46" y1="1418.60" x2="1132.46" y2="1424.10" stroke="#555" stroke-width="1.4"/>
<line x1="1150.70" y1="1418.60" x2="1150.70" y2="1428.60" stroke="#555" stroke-width="1.4"/>
<line x1="1168.94" y1="1418.60" x2="1168.94" y2="1424.10" stroke="#555" stroke-width="1.4"/>
<line x1="1187.18" y1="1418.60" x2="1187.18" y2="1424.10" stroke="#555" stroke-width="1.4"/>
<line x1="1205.42" y1="1418.60" x2="1205.42" y2="1424.10" stroke="#555" stroke-width="1.4"/>
<line x1="1223.66" y1="1418.60" x2="1223.66" y2="1424.10" stroke="#555" stroke-width="1.4"/>
<line x1="1241.90" y1="1418.60" x2="1241.90" y2="1428.60" stroke="#555" stroke-width="1.4"/>
<line x1="1260.14" y1="1418.60" x2="1260.14" y2="1424.10" stroke="#555" stroke-width="1.4"/>
<line x1="1278.38" y1="1418.60" x2="1278.38" y2="1424.10" stroke="#555" stroke-width="1.4"/>
<line x1="1296.62" y1="1418.60" x2="1296.62" y2="1424.10" stroke="#555" stroke-width="1.4"/>
<line x1="1314.86" y1="1418.60" x2="1314.86" y2="1424.10" stroke="#555" stroke-width="1.4"/>
<line x1="1333.10" y1="1418.60" x2="1333.10" y2="1428.60" stroke="#555" stroke-width="1.4"/>
<line x1="1351.34" y1="1418.60" x2="1351.34" y2="1424.10" stroke="#555" stroke-width="1.4"/>
<line x1="1369.58" y1="1418.60" x2="1369.58" y2="1424.10" stroke="#555" stroke-width="1.4"/>
<line x1="1387.82" y1="1418.60" x2="1387.82" y2="1424.10" stroke="#555" stroke-width="1.4"/>
<line x1="1406.06" y1="1418.60" x2="1406.06" y2="1424.10" stroke="#555" stroke-width="1.4"/>
<line x1="1424.30" y1="1418.60" x2="1424.30" y2="1428.60" stroke="#555" stroke-width="1.4"/>
<line x1="1442.54" y1="1418.60" x2="1442.54" y2="1424.10" stroke="#555" stroke-width="1.4"/>
<line x1="1460.78" y1="1418.60" x2="1460.78" y2="1424.10" stroke="#555" stroke-width="1.4"/>
<line x1="1479.02" y1="1418.60" x2="1479.02" y2="1424.10" stroke="#555" stroke-width="1.4"/>
<line x1="1497.26" y1="1418.60" x2="1497.26" y2="1424.10" stroke="#555" stroke-width="1.4"/>
<line x1="1515.50" y1="1418.60" x2="1515.50" y2="1428.60" stroke="#555" stroke-width="1.4"/>
<line x1="1533.74" y1="1418.60" x2="1533.74" y2="1424.10" stroke="#555" stroke-width="1.4"/>
<line x1="1551.98" y1="1418.60" x2="1551.98" y2="1424.10" stroke="#555" stroke-width="1.4"/>
<line x1="1570.22" y1="1418.60" x2="1570.22" y2="1424.10" stroke="#555" stroke-width="1.4"/>
<line x1="1588.46" y1="1418.60" x2="1588.46" y2="1424.10" stroke="#555" stroke-width="1.4"/>
<line x1="1606.70" y1="1418.60" x2="1606.70" y2="1428.60" stroke="#555" stroke-width="1.4"/>
<line x1="1624.94" y1="1418.60" x2="1624.94" y2="1424.10" stroke="#555" stroke-width="1.4"/>
<line x1="1643.18" y1="1418.60" x2="1643.18" y2="1424.10" stroke="#555" stroke-width="1.4"/>
<line x1="1661.42" y1="1418.60" x2="1661.42" y2="1424.10" stroke="#555" stroke-width="1.4"/>
<line x1="1679.50" y1="725.48" x2="1685.00" y2="725.48" stroke="#555" stroke-width="1.4"/>
<line x1="1679.50" y1="739.64" x2="1685.00" y2="739.64" stroke="#555" stroke-width="1.4"/>
<line x1="1679.50" y1="753.80" x2="1685.00" y2="753.80" stroke="#555" stroke-width="1.4"/>
<line x1="1679.50" y1="767.96" x2="1685.00" y2="767.96" stroke="#555" stroke-width="1.4"/>
<line x1="1679.50" y1="782.12" x2="1689.50" y2="782.12" stroke="#555" stroke-width="1.4"/>
<line x1="1679.50" y1="796.28" x2="1685.00" y2="796.28" stroke="#555" stroke-width="1.4"/>
<line x1="1679.50" y1="810.44" x2="1685.00" y2="810.44" stroke="#555" stroke-width="1.4"/>
<line x1="1679.50" y1="824.60" x2="1685.00" y2="824.60" stroke="#555" stroke-width="1.4"/>
<line x1="1679.50" y1="838.76" x2="1685.00" y2="838.76" stroke="#555" stroke-width="1.4"/>
<line x1="1679.50" y1="852.92" x2="1689.50" y2="852.92" stroke="#555" stroke-width="1.4"/>
<line x1="1679.50" y1="867.08" x2="1685.00" y2="867.08" stroke="#555" stroke-width="1.4"/>
<line x1="1679.50" y1="881.24" x2="1685.00" y2="881.24" stroke="#555" stroke-width="1.4"/>
<line x1="1679.50" y1="895.40" x2="1685.00" y2="895.40" stroke="#555" stroke-width="1.4"/>
<line x1="1679.50" y1="909.56" x2="1685.00" y2="909.56" stroke="#555" stroke-width="1.4"/>
<line x1="1679.50" y1="923.72" x2="1689.50" y2="923.72" stroke="#555" stroke-width="1.4"/>
<line x1="1679.50" y1="937.88" x2="1685.00" y2="937.88" stroke="#555" stroke-width="1.4"/>
<line x1="1679.50" y1="952.04" x2="1685.00" y2="952.04" stroke="#555" stroke-width="1.4"/>
<line x1="1679.50" y1="966.20" x2="1685.00" y2="966.20" stroke="#555" stroke-width="1.4"/>
<line x1="1679.50" y1="980.36" x2="1685.00" y2="980.36" stroke="#555" stroke-width="1.4"/>
<line x1="1679.50" y1="994.52" x2="1689.50" y2="994.52" stroke="#555" stroke-width="1.4"/>
<line x1="1679.50" y1="1008.68" x2="1685.00" y2="1008.68" stroke="#555" stroke-width="1.4"/>
<line x1="1679.50" y1="1022.84" x2="1685.00" y2="1022.84" stroke="#555" stroke-width="1.4"/>
<line x1="1679.50" y1="1037.00" x2="1685.00" y2="1037.00" stroke="#555" stroke-width="1.4"/>
<line x1="1679.50" y1="1051.16" x2="1685.00" y2="1051.16" stroke="#555" stroke-width="1.4"/>
<line x1="1679.50" y1="1065.32" x2="1689.50" y2="1065.32" stroke="#555" stroke-width="1.4"/>
<line x1="1679.50" y1="1079.48" x2="1685.00" y2="1079.48" stroke="#555" stroke-width="1.4"/>
<line x1="1679.50" y1="1093.64" x2="1685.00" y2="1093.64" stroke="#555" stroke-width="1.4"/>
<line x1="1679.50" y1="1107.80" x2="1685.00" y2="1107.80" stroke="#555" stroke-width="1.4"/>
<line x1="1679.50" y1="1121.96" x2="1685.00" y2="1121.96" stroke="#555" stroke-width="1.4"/>
<line x1="1679.50" y1="1136.12" x2="1689.50" y2="1136.12" stroke="#555" stroke-width="1.4"/>
<line x1="1679.50" y1="1150.28" x2="1685.00" y2="1150.28" stroke="#555" stroke-width="1.4"/>
<line x1="1679.50" y1="1164.44" x2="1685.00" y2="1164.44" stroke="#555" stroke-width="1.4"/>
<line x1="1679.50" y1="1178.60" x2="1685.00" y2="1178.60" stroke="#555" stroke-width="1.4"/>
<line x1="1679.50" y1="1192.76" x2="1685.00" y2="1192.76" stroke="#555" stroke-width="1.4"/>
<line x1="1679.50" y1="1206.92" x2="1689.50" y2="1206.92" stroke="#555" stroke-width="1.4"/>
<line x1="1679.50" y1="1221.08" x2="1685.00" y2="1221.08" stroke="#555" stroke-width="1.4"/>
<line x1="1679.50" y1="1235.24" x2="1685.00" y2="1235.24" stroke="#555" stroke-width="1.4"/>
<line x1="1679.50" y1="1249.40" x2="1685.00" y2="1249.40" stroke="#555" stroke-width="1.4"/>
<line x1="1679.50" y1="1263.56" x2="1685.00" y2="1263.56" stroke="#555" stroke-width="1.4"/>
<line x1="1679.50" y1="1277.72" x2="1689.50" y2="1277.72" stroke="#555" stroke-width="1.4"/>
<line x1="1679.50" y1="1291.88" x2="1685.00" y2="1291.88" stroke="#555" stroke-width="1.4"/>
<line x1="1679.50" y1="1306.04" x2="1685.00" y2="1306.04" stroke="#555" stroke-width="1.4"/>
<line x1="1679.50" y1="1320.20" x2="1685.00" y2="1320.20" stroke="#555" stroke-width="1.4"/>
<line x1="1679.50" y1="1334.36" x2="1685.00" y2="1334.36" stroke="#555" stroke-width="1.4"/>
<line x1="1679.50" y1="1348.52" x2="1689.50" y2="1348.52" stroke="#555" stroke-width="1.4"/>
<line x1="1679.50" y1="1362.68" x2="1685.00" y2="1362.68" stroke="#555" stroke-width="1.4"/>
<line x1="1679.50" y1="1376.84" x2="1685.00" y2="1376.84" stroke="#555" stroke-width="1.4"/>
<line x1="1679.50" y1="1391.00" x2="1685.00" y2="1391.00" stroke="#555" stroke-width="1.4"/>
<line x1="1679.50" y1="1405.16" x2="1685.00" y2="1405.16" stroke="#555" stroke-width="1.4"/>
<line x1="1679.50" y1="1419.32" x2="1689.50" y2="1419.32" stroke="#555" stroke-width="1.4"/>
<text x="1144.7" y="756.5" font-size="38" fill="#000" font-weight="bold" stroke="#000" stroke-width="1.5" stroke-linejoin="round">f</text>
<rect x="3.5" y="1435.1" width="547.0" height="700.2" fill="none" stroke="#111" stroke-width="1.3"/>
<line x1="4.20" y1="1435.10" x2="549.80" y2="1435.10" stroke="#707070" stroke-width="1.5"/>
<line x1="550.50" y1="2135.30" x2="561.00" y2="2135.30" stroke="#333" stroke-width="1.4"/>
<line x1="3.46" y1="2135.30" x2="3.46" y2="2140.80" stroke="#555" stroke-width="1.4"/>
<line x1="21.70" y1="2135.30" x2="21.70" y2="2145.30" stroke="#555" stroke-width="1.4"/>
<line x1="39.94" y1="2135.30" x2="39.94" y2="2140.80" stroke="#555" stroke-width="1.4"/>
<line x1="58.18" y1="2135.30" x2="58.18" y2="2140.80" stroke="#555" stroke-width="1.4"/>
<line x1="76.42" y1="2135.30" x2="76.42" y2="2140.80" stroke="#555" stroke-width="1.4"/>
<line x1="94.66" y1="2135.30" x2="94.66" y2="2140.80" stroke="#555" stroke-width="1.4"/>
<line x1="112.90" y1="2135.30" x2="112.90" y2="2145.30" stroke="#555" stroke-width="1.4"/>
<line x1="131.14" y1="2135.30" x2="131.14" y2="2140.80" stroke="#555" stroke-width="1.4"/>
<line x1="149.38" y1="2135.30" x2="149.38" y2="2140.80" stroke="#555" stroke-width="1.4"/>
<line x1="167.62" y1="2135.30" x2="167.62" y2="2140.80" stroke="#555" stroke-width="1.4"/>
<line x1="185.86" y1="2135.30" x2="185.86" y2="2140.80" stroke="#555" stroke-width="1.4"/>
<line x1="204.10" y1="2135.30" x2="204.10" y2="2145.30" stroke="#555" stroke-width="1.4"/>
<line x1="222.34" y1="2135.30" x2="222.34" y2="2140.80" stroke="#555" stroke-width="1.4"/>
<line x1="240.58" y1="2135.30" x2="240.58" y2="2140.80" stroke="#555" stroke-width="1.4"/>
<line x1="258.82" y1="2135.30" x2="258.82" y2="2140.80" stroke="#555" stroke-width="1.4"/>
<line x1="277.06" y1="2135.30" x2="277.06" y2="2140.80" stroke="#555" stroke-width="1.4"/>
<line x1="295.30" y1="2135.30" x2="295.30" y2="2145.30" stroke="#555" stroke-width="1.4"/>
<line x1="313.54" y1="2135.30" x2="313.54" y2="2140.80" stroke="#555" stroke-width="1.4"/>
<line x1="331.78" y1="2135.30" x2="331.78" y2="2140.80" stroke="#555" stroke-width="1.4"/>
<line x1="350.02" y1="2135.30" x2="350.02" y2="2140.80" stroke="#555" stroke-width="1.4"/>
<line x1="368.26" y1="2135.30" x2="368.26" y2="2140.80" stroke="#555" stroke-width="1.4"/>
<line x1="386.50" y1="2135.30" x2="386.50" y2="2145.30" stroke="#555" stroke-width="1.4"/>
<line x1="404.74" y1="2135.30" x2="404.74" y2="2140.80" stroke="#555" stroke-width="1.4"/>
<line x1="422.98" y1="2135.30" x2="422.98" y2="2140.80" stroke="#555" stroke-width="1.4"/>
<line x1="441.22" y1="2135.30" x2="441.22" y2="2140.80" stroke="#555" stroke-width="1.4"/>
<line x1="459.46" y1="2135.30" x2="459.46" y2="2140.80" stroke="#555" stroke-width="1.4"/>
<line x1="477.70" y1="2135.30" x2="477.70" y2="2145.30" stroke="#555" stroke-width="1.4"/>
<line x1="495.94" y1="2135.30" x2="495.94" y2="2140.80" stroke="#555" stroke-width="1.4"/>
<line x1="514.18" y1="2135.30" x2="514.18" y2="2140.80" stroke="#555" stroke-width="1.4"/>
<line x1="532.42" y1="2135.30" x2="532.42" y2="2140.80" stroke="#555" stroke-width="1.4"/>
<line x1="550.50" y1="1442.18" x2="556.00" y2="1442.18" stroke="#555" stroke-width="1.4"/>
<line x1="550.50" y1="1456.34" x2="556.00" y2="1456.34" stroke="#555" stroke-width="1.4"/>
<line x1="550.50" y1="1470.50" x2="556.00" y2="1470.50" stroke="#555" stroke-width="1.4"/>
<line x1="550.50" y1="1484.66" x2="556.00" y2="1484.66" stroke="#555" stroke-width="1.4"/>
<line x1="550.50" y1="1498.82" x2="560.50" y2="1498.82" stroke="#555" stroke-width="1.4"/>
<line x1="550.50" y1="1512.98" x2="556.00" y2="1512.98" stroke="#555" stroke-width="1.4"/>
<line x1="550.50" y1="1527.14" x2="556.00" y2="1527.14" stroke="#555" stroke-width="1.4"/>
<line x1="550.50" y1="1541.30" x2="556.00" y2="1541.30" stroke="#555" stroke-width="1.4"/>
<line x1="550.50" y1="1555.46" x2="556.00" y2="1555.46" stroke="#555" stroke-width="1.4"/>
<line x1="550.50" y1="1569.62" x2="560.50" y2="1569.62" stroke="#555" stroke-width="1.4"/>
<line x1="550.50" y1="1583.78" x2="556.00" y2="1583.78" stroke="#555" stroke-width="1.4"/>
<line x1="550.50" y1="1597.94" x2="556.00" y2="1597.94" stroke="#555" stroke-width="1.4"/>
<line x1="550.50" y1="1612.10" x2="556.00" y2="1612.10" stroke="#555" stroke-width="1.4"/>
<line x1="550.50" y1="1626.26" x2="556.00" y2="1626.26" stroke="#555" stroke-width="1.4"/>
<line x1="550.50" y1="1640.42" x2="560.50" y2="1640.42" stroke="#555" stroke-width="1.4"/>
<line x1="550.50" y1="1654.58" x2="556.00" y2="1654.58" stroke="#555" stroke-width="1.4"/>
<line x1="550.50" y1="1668.74" x2="556.00" y2="1668.74" stroke="#555" stroke-width="1.4"/>
<line x1="550.50" y1="1682.90" x2="556.00" y2="1682.90" stroke="#555" stroke-width="1.4"/>
<line x1="550.50" y1="1697.06" x2="556.00" y2="1697.06" stroke="#555" stroke-width="1.4"/>
<line x1="550.50" y1="1711.22" x2="560.50" y2="1711.22" stroke="#555" stroke-width="1.4"/>
<line x1="550.50" y1="1725.38" x2="556.00" y2="1725.38" stroke="#555" stroke-width="1.4"/>
<line x1="550.50" y1="1739.54" x2="556.00" y2="1739.54" stroke="#555" stroke-width="1.4"/>
<line x1="550.50" y1="1753.70" x2="556.00" y2="1753.70" stroke="#555" stroke-width="1.4"/>
<line x1="550.50" y1="1767.86" x2="556.00" y2="1767.86" stroke="#555" stroke-width="1.4"/>
<line x1="550.50" y1="1782.02" x2="560.50" y2="1782.02" stroke="#555" stroke-width="1.4"/>
<line x1="550.50" y1="1796.18" x2="556.00" y2="1796.18" stroke="#555" stroke-width="1.4"/>
<line x1="550.50" y1="1810.34" x2="556.00" y2="1810.34" stroke="#555" stroke-width="1.4"/>
<line x1="550.50" y1="1824.50" x2="556.00" y2="1824.50" stroke="#555" stroke-width="1.4"/>
<line x1="550.50" y1="1838.66" x2="556.00" y2="1838.66" stroke="#555" stroke-width="1.4"/>
<line x1="550.50" y1="1852.82" x2="560.50" y2="1852.82" stroke="#555" stroke-width="1.4"/>
<line x1="550.50" y1="1866.98" x2="556.00" y2="1866.98" stroke="#555" stroke-width="1.4"/>
<line x1="550.50" y1="1881.14" x2="556.00" y2="1881.14" stroke="#555" stroke-width="1.4"/>
<line x1="550.50" y1="1895.30" x2="556.00" y2="1895.30" stroke="#555" stroke-width="1.4"/>
<line x1="550.50" y1="1909.46" x2="556.00" y2="1909.46" stroke="#555" stroke-width="1.4"/>
<line x1="550.50" y1="1923.62" x2="560.50" y2="1923.62" stroke="#555" stroke-width="1.4"/>
<line x1="550.50" y1="1937.78" x2="556.00" y2="1937.78" stroke="#555" stroke-width="1.4"/>
<line x1="550.50" y1="1951.94" x2="556.00" y2="1951.94" stroke="#555" stroke-width="1.4"/>
<line x1="550.50" y1="1966.10" x2="556.00" y2="1966.10" stroke="#555" stroke-width="1.4"/>
<line x1="550.50" y1="1980.26" x2="556.00" y2="1980.26" stroke="#555" stroke-width="1.4"/>
<line x1="550.50" y1="1994.42" x2="560.50" y2="1994.42" stroke="#555" stroke-width="1.4"/>
<line x1="550.50" y1="2008.58" x2="556.00" y2="2008.58" stroke="#555" stroke-width="1.4"/>
<line x1="550.50" y1="2022.74" x2="556.00" y2="2022.74" stroke="#555" stroke-width="1.4"/>
<line x1="550.50" y1="2036.90" x2="556.00" y2="2036.90" stroke="#555" stroke-width="1.4"/>
<line x1="550.50" y1="2051.06" x2="556.00" y2="2051.06" stroke="#555" stroke-width="1.4"/>
<line x1="550.50" y1="2065.22" x2="560.50" y2="2065.22" stroke="#555" stroke-width="1.4"/>
<line x1="550.50" y1="2079.38" x2="556.00" y2="2079.38" stroke="#555" stroke-width="1.4"/>
<line x1="550.50" y1="2093.54" x2="556.00" y2="2093.54" stroke="#555" stroke-width="1.4"/>
<line x1="550.50" y1="2107.70" x2="556.00" y2="2107.70" stroke="#555" stroke-width="1.4"/>
<line x1="550.50" y1="2121.86" x2="556.00" y2="2121.86" stroke="#555" stroke-width="1.4"/>
<line x1="550.50" y1="2136.02" x2="560.50" y2="2136.02" stroke="#555" stroke-width="1.4"/>
<text x="15.7" y="1474.2" font-size="38" fill="#000" font-weight="bold" stroke="#000" stroke-width="1.5" stroke-linejoin="round">g</text>
<rect x="567.5" y="1435.1" width="547.0" height="700.2" fill="none" stroke="#111" stroke-width="1.3"/>
<line x1="568.20" y1="1435.10" x2="1113.80" y2="1435.10" stroke="#707070" stroke-width="1.5"/>
<line x1="1114.50" y1="2135.30" x2="1125.00" y2="2135.30" stroke="#333" stroke-width="1.4"/>
<line x1="567.46" y1="2135.30" x2="567.46" y2="2140.80" stroke="#555" stroke-width="1.4"/>
<line x1="585.70" y1="2135.30" x2="585.70" y2="2145.30" stroke="#555" stroke-width="1.4"/>
<line x1="603.94" y1="2135.30" x2="603.94" y2="2140.80" stroke="#555" stroke-width="1.4"/>
<line x1="622.18" y1="2135.30" x2="622.18" y2="2140.80" stroke="#555" stroke-width="1.4"/>
<line x1="640.42" y1="2135.30" x2="640.42" y2="2140.80" stroke="#555" stroke-width="1.4"/>
<line x1="658.66" y1="2135.30" x2="658.66" y2="2140.80" stroke="#555" stroke-width="1.4"/>
<line x1="676.90" y1="2135.30" x2="676.90" y2="2145.30" stroke="#555" stroke-width="1.4"/>
<line x1="695.14" y1="2135.30" x2="695.14" y2="2140.80" stroke="#555" stroke-width="1.4"/>
<line x1="713.38" y1="2135.30" x2="713.38" y2="2140.80" stroke="#555" stroke-width="1.4"/>
<line x1="731.62" y1="2135.30" x2="731.62" y2="2140.80" stroke="#555" stroke-width="1.4"/>
<line x1="749.86" y1="2135.30" x2="749.86" y2="2140.80" stroke="#555" stroke-width="1.4"/>
<line x1="768.10" y1="2135.30" x2="768.10" y2="2145.30" stroke="#555" stroke-width="1.4"/>
<line x1="786.34" y1="2135.30" x2="786.34" y2="2140.80" stroke="#555" stroke-width="1.4"/>
<line x1="804.58" y1="2135.30" x2="804.58" y2="2140.80" stroke="#555" stroke-width="1.4"/>
<line x1="822.82" y1="2135.30" x2="822.82" y2="2140.80" stroke="#555" stroke-width="1.4"/>
<line x1="841.06" y1="2135.30" x2="841.06" y2="2140.80" stroke="#555" stroke-width="1.4"/>
<line x1="859.30" y1="2135.30" x2="859.30" y2="2145.30" stroke="#555" stroke-width="1.4"/>
<line x1="877.54" y1="2135.30" x2="877.54" y2="2140.80" stroke="#555" stroke-width="1.4"/>
<line x1="895.78" y1="2135.30" x2="895.78" y2="2140.80" stroke="#555" stroke-width="1.4"/>
<line x1="914.02" y1="2135.30" x2="914.02" y2="2140.80" stroke="#555" stroke-width="1.4"/>
<line x1="932.26" y1="2135.30" x2="932.26" y2="2140.80" stroke="#555" stroke-width="1.4"/>
<line x1="950.50" y1="2135.30" x2="950.50" y2="2145.30" stroke="#555" stroke-width="1.4"/>
<line x1="968.74" y1="2135.30" x2="968.74" y2="2140.80" stroke="#555" stroke-width="1.4"/>
<line x1="986.98" y1="2135.30" x2="986.98" y2="2140.80" stroke="#555" stroke-width="1.4"/>
<line x1="1005.22" y1="2135.30" x2="1005.22" y2="2140.80" stroke="#555" stroke-width="1.4"/>
<line x1="1023.46" y1="2135.30" x2="1023.46" y2="2140.80" stroke="#555" stroke-width="1.4"/>
<line x1="1041.70" y1="2135.30" x2="1041.70" y2="2145.30" stroke="#555" stroke-width="1.4"/>
<line x1="1059.94" y1="2135.30" x2="1059.94" y2="2140.80" stroke="#555" stroke-width="1.4"/>
<line x1="1078.18" y1="2135.30" x2="1078.18" y2="2140.80" stroke="#555" stroke-width="1.4"/>
<line x1="1096.42" y1="2135.30" x2="1096.42" y2="2140.80" stroke="#555" stroke-width="1.4"/>
<line x1="1114.50" y1="1442.18" x2="1120.00" y2="1442.18" stroke="#555" stroke-width="1.4"/>
<line x1="1114.50" y1="1456.34" x2="1120.00" y2="1456.34" stroke="#555" stroke-width="1.4"/>
<line x1="1114.50" y1="1470.50" x2="1120.00" y2="1470.50" stroke="#555" stroke-width="1.4"/>
<line x1="1114.50" y1="1484.66" x2="1120.00" y2="1484.66" stroke="#555" stroke-width="1.4"/>
<line x1="1114.50" y1="1498.82" x2="1124.50" y2="1498.82" stroke="#555" stroke-width="1.4"/>
<line x1="1114.50" y1="1512.98" x2="1120.00" y2="1512.98" stroke="#555" stroke-width="1.4"/>
<line x1="1114.50" y1="1527.14" x2="1120.00" y2="1527.14" stroke="#555" stroke-width="1.4"/>
<line x1="1114.50" y1="1541.30" x2="1120.00" y2="1541.30" stroke="#555" stroke-width="1.4"/>
<line x1="1114.50" y1="1555.46" x2="1120.00" y2="1555.46" stroke="#555" stroke-width="1.4"/>
<line x1="1114.50" y1="1569.62" x2="1124.50" y2="1569.62" stroke="#555" stroke-width="1.4"/>
<line x1="1114.50" y1="1583.78" x2="1120.00" y2="1583.78" stroke="#555" stroke-width="1.4"/>
<line x1="1114.50" y1="1597.94" x2="1120.00" y2="1597.94" stroke="#555" stroke-width="1.4"/>
<line x1="1114.50" y1="1612.10" x2="1120.00" y2="1612.10" stroke="#555" stroke-width="1.4"/>
<line x1="1114.50" y1="1626.26" x2="1120.00" y2="1626.26" stroke="#555" stroke-width="1.4"/>
<line x1="1114.50" y1="1640.42" x2="1124.50" y2="1640.42" stroke="#555" stroke-width="1.4"/>
<line x1="1114.50" y1="1654.58" x2="1120.00" y2="1654.58" stroke="#555" stroke-width="1.4"/>
<line x1="1114.50" y1="1668.74" x2="1120.00" y2="1668.74" stroke="#555" stroke-width="1.4"/>
<line x1="1114.50" y1="1682.90" x2="1120.00" y2="1682.90" stroke="#555" stroke-width="1.4"/>
<line x1="1114.50" y1="1697.06" x2="1120.00" y2="1697.06" stroke="#555" stroke-width="1.4"/>
<line x1="1114.50" y1="1711.22" x2="1124.50" y2="1711.22" stroke="#555" stroke-width="1.4"/>
<line x1="1114.50" y1="1725.38" x2="1120.00" y2="1725.38" stroke="#555" stroke-width="1.4"/>
<line x1="1114.50" y1="1739.54" x2="1120.00" y2="1739.54" stroke="#555" stroke-width="1.4"/>
<line x1="1114.50" y1="1753.70" x2="1120.00" y2="1753.70" stroke="#555" stroke-width="1.4"/>
<line x1="1114.50" y1="1767.86" x2="1120.00" y2="1767.86" stroke="#555" stroke-width="1.4"/>
<line x1="1114.50" y1="1782.02" x2="1124.50" y2="1782.02" stroke="#555" stroke-width="1.4"/>
<line x1="1114.50" y1="1796.18" x2="1120.00" y2="1796.18" stroke="#555" stroke-width="1.4"/>
<line x1="1114.50" y1="1810.34" x2="1120.00" y2="1810.34" stroke="#555" stroke-width="1.4"/>
<line x1="1114.50" y1="1824.50" x2="1120.00" y2="1824.50" stroke="#555" stroke-width="1.4"/>
<line x1="1114.50" y1="1838.66" x2="1120.00" y2="1838.66" stroke="#555" stroke-width="1.4"/>
<line x1="1114.50" y1="1852.82" x2="1124.50" y2="1852.82" stroke="#555" stroke-width="1.4"/>
<line x1="1114.50" y1="1866.98" x2="1120.00" y2="1866.98" stroke="#555" stroke-width="1.4"/>
<line x1="1114.50" y1="1881.14" x2="1120.00" y2="1881.14" stroke="#555" stroke-width="1.4"/>
<line x1="1114.50" y1="1895.30" x2="1120.00" y2="1895.30" stroke="#555" stroke-width="1.4"/>
<line x1="1114.50" y1="1909.46" x2="1120.00" y2="1909.46" stroke="#555" stroke-width="1.4"/>
<line x1="1114.50" y1="1923.62" x2="1124.50" y2="1923.62" stroke="#555" stroke-width="1.4"/>
<line x1="1114.50" y1="1937.78" x2="1120.00" y2="1937.78" stroke="#555" stroke-width="1.4"/>
<line x1="1114.50" y1="1951.94" x2="1120.00" y2="1951.94" stroke="#555" stroke-width="1.4"/>
<line x1="1114.50" y1="1966.10" x2="1120.00" y2="1966.10" stroke="#555" stroke-width="1.4"/>
<line x1="1114.50" y1="1980.26" x2="1120.00" y2="1980.26" stroke="#555" stroke-width="1.4"/>
<line x1="1114.50" y1="1994.42" x2="1124.50" y2="1994.42" stroke="#555" stroke-width="1.4"/>
<line x1="1114.50" y1="2008.58" x2="1120.00" y2="2008.58" stroke="#555" stroke-width="1.4"/>
<line x1="1114.50" y1="2022.74" x2="1120.00" y2="2022.74" stroke="#555" stroke-width="1.4"/>
<line x1="1114.50" y1="2036.90" x2="1120.00" y2="2036.90" stroke="#555" stroke-width="1.4"/>
<line x1="1114.50" y1="2051.06" x2="1120.00" y2="2051.06" stroke="#555" stroke-width="1.4"/>
<line x1="1114.50" y1="2065.22" x2="1124.50" y2="2065.22" stroke="#555" stroke-width="1.4"/>
<line x1="1114.50" y1="2079.38" x2="1120.00" y2="2079.38" stroke="#555" stroke-width="1.4"/>
<line x1="1114.50" y1="2093.54" x2="1120.00" y2="2093.54" stroke="#555" stroke-width="1.4"/>
<line x1="1114.50" y1="2107.70" x2="1120.00" y2="2107.70" stroke="#555" stroke-width="1.4"/>
<line x1="1114.50" y1="2121.86" x2="1120.00" y2="2121.86" stroke="#555" stroke-width="1.4"/>
<line x1="1114.50" y1="2136.02" x2="1124.50" y2="2136.02" stroke="#555" stroke-width="1.4"/>
<text x="579.7" y="1474.2" font-size="38" fill="#000" font-weight="bold" stroke="#000" stroke-width="1.5" stroke-linejoin="round">h</text>
<rect x="1132.5" y="1435.1" width="547.0" height="700.2" fill="none" stroke="#111" stroke-width="1.3"/>
<line x1="1133.20" y1="1435.10" x2="1678.80" y2="1435.10" stroke="#707070" stroke-width="1.5"/>
<line x1="1679.50" y1="2135.30" x2="1690.00" y2="2135.30" stroke="#333" stroke-width="1.4"/>
<line x1="1132.46" y1="2135.30" x2="1132.46" y2="2140.80" stroke="#555" stroke-width="1.4"/>
<line x1="1150.70" y1="2135.30" x2="1150.70" y2="2145.30" stroke="#555" stroke-width="1.4"/>
<line x1="1168.94" y1="2135.30" x2="1168.94" y2="2140.80" stroke="#555" stroke-width="1.4"/>
<line x1="1187.18" y1="2135.30" x2="1187.18" y2="2140.80" stroke="#555" stroke-width="1.4"/>
<line x1="1205.42" y1="2135.30" x2="1205.42" y2="2140.80" stroke="#555" stroke-width="1.4"/>
<line x1="1223.66" y1="2135.30" x2="1223.66" y2="2140.80" stroke="#555" stroke-width="1.4"/>
<line x1="1241.90" y1="2135.30" x2="1241.90" y2="2145.30" stroke="#555" stroke-width="1.4"/>
<line x1="1260.14" y1="2135.30" x2="1260.14" y2="2140.80" stroke="#555" stroke-width="1.4"/>
<line x1="1278.38" y1="2135.30" x2="1278.38" y2="2140.80" stroke="#555" stroke-width="1.4"/>
<line x1="1296.62" y1="2135.30" x2="1296.62" y2="2140.80" stroke="#555" stroke-width="1.4"/>
<line x1="1314.86" y1="2135.30" x2="1314.86" y2="2140.80" stroke="#555" stroke-width="1.4"/>
<line x1="1333.10" y1="2135.30" x2="1333.10" y2="2145.30" stroke="#555" stroke-width="1.4"/>
<line x1="1351.34" y1="2135.30" x2="1351.34" y2="2140.80" stroke="#555" stroke-width="1.4"/>
<line x1="1369.58" y1="2135.30" x2="1369.58" y2="2140.80" stroke="#555" stroke-width="1.4"/>
<line x1="1387.82" y1="2135.30" x2="1387.82" y2="2140.80" stroke="#555" stroke-width="1.4"/>
<line x1="1406.06" y1="2135.30" x2="1406.06" y2="2140.80" stroke="#555" stroke-width="1.4"/>
<line x1="1424.30" y1="2135.30" x2="1424.30" y2="2145.30" stroke="#555" stroke-width="1.4"/>
<line x1="1442.54" y1="2135.30" x2="1442.54" y2="2140.80" stroke="#555" stroke-width="1.4"/>
<line x1="1460.78" y1="2135.30" x2="1460.78" y2="2140.80" stroke="#555" stroke-width="1.4"/>
<line x1="1479.02" y1="2135.30" x2="1479.02" y2="2140.80" stroke="#555" stroke-width="1.4"/>
<line x1="1497.26" y1="2135.30" x2="1497.26" y2="2140.80" stroke="#555" stroke-width="1.4"/>
<line x1="1515.50" y1="2135.30" x2="1515.50" y2="2145.30" stroke="#555" stroke-width="1.4"/>
<line x1="1533.74" y1="2135.30" x2="1533.74" y2="2140.80" stroke="#555" stroke-width="1.4"/>
<line x1="1551.98" y1="2135.30" x2="1551.98" y2="2140.80" stroke="#555" stroke-width="1.4"/>
<line x1="1570.22" y1="2135.30" x2="1570.22" y2="2140.80" stroke="#555" stroke-width="1.4"/>
<line x1="1588.46" y1="2135.30" x2="1588.46" y2="2140.80" stroke="#555" stroke-width="1.4"/>
<line x1="1606.70" y1="2135.30" x2="1606.70" y2="2145.30" stroke="#555" stroke-width="1.4"/>
<line x1="1624.94" y1="2135.30" x2="1624.94" y2="2140.80" stroke="#555" stroke-width="1.4"/>
<line x1="1643.18" y1="2135.30" x2="1643.18" y2="2140.80" stroke="#555" stroke-width="1.4"/>
<line x1="1661.42" y1="2135.30" x2="1661.42" y2="2140.80" stroke="#555" stroke-width="1.4"/>
<line x1="1679.50" y1="1442.18" x2="1685.00" y2="1442.18" stroke="#555" stroke-width="1.4"/>
<line x1="1679.50" y1="1456.34" x2="1685.00" y2="1456.34" stroke="#555" stroke-width="1.4"/>
<line x1="1679.50" y1="1470.50" x2="1685.00" y2="1470.50" stroke="#555" stroke-width="1.4"/>
<line x1="1679.50" y1="1484.66" x2="1685.00" y2="1484.66" stroke="#555" stroke-width="1.4"/>
<line x1="1679.50" y1="1498.82" x2="1689.50" y2="1498.82" stroke="#555" stroke-width="1.4"/>
<line x1="1679.50" y1="1512.98" x2="1685.00" y2="1512.98" stroke="#555" stroke-width="1.4"/>
<line x1="1679.50" y1="1527.14" x2="1685.00" y2="1527.14" stroke="#555" stroke-width="1.4"/>
<line x1="1679.50" y1="1541.30" x2="1685.00" y2="1541.30" stroke="#555" stroke-width="1.4"/>
<line x1="1679.50" y1="1555.46" x2="1685.00" y2="1555.46" stroke="#555" stroke-width="1.4"/>
<line x1="1679.50" y1="1569.62" x2="1689.50" y2="1569.62" stroke="#555" stroke-width="1.4"/>
<line x1="1679.50" y1="1583.78" x2="1685.00" y2="1583.78" stroke="#555" stroke-width="1.4"/>
<line x1="1679.50" y1="1597.94" x2="1685.00" y2="1597.94" stroke="#555" stroke-width="1.4"/>
<line x1="1679.50" y1="1612.10" x2="1685.00" y2="1612.10" stroke="#555" stroke-width="1.4"/>
<line x1="1679.50" y1="1626.26" x2="1685.00" y2="1626.26" stroke="#555" stroke-width="1.4"/>
<line x1="1679.50" y1="1640.42" x2="1689.50" y2="1640.42" stroke="#555" stroke-width="1.4"/>
<line x1="1679.50" y1="1654.58" x2="1685.00" y2="1654.58" stroke="#555" stroke-width="1.4"/>
<line x1="1679.50" y1="1668.74" x2="1685.00" y2="1668.74" stroke="#555" stroke-width="1.4"/>
<line x1="1679.50" y1="1682.90" x2="1685.00" y2="1682.90" stroke="#555" stroke-width="1.4"/>
<line x1="1679.50" y1="1697.06" x2="1685.00" y2="1697.06" stroke="#555" stroke-width="1.4"/>
<line x1="1679.50" y1="1711.22" x2="1689.50" y2="1711.22" stroke="#555" stroke-width="1.4"/>
<line x1="1679.50" y1="1725.38" x2="1685.00" y2="1725.38" stroke="#555" stroke-width="1.4"/>
<line x1="1679.50" y1="1739.54" x2="1685.00" y2="1739.54" stroke="#555" stroke-width="1.4"/>
<line x1="1679.50" y1="1753.70" x2="1685.00" y2="1753.70" stroke="#555" stroke-width="1.4"/>
<line x1="1679.50" y1="1767.86" x2="1685.00" y2="1767.86" stroke="#555" stroke-width="1.4"/>
<line x1="1679.50" y1="1782.02" x2="1689.50" y2="1782.02" stroke="#555" stroke-width="1.4"/>
<line x1="1679.50" y1="1796.18" x2="1685.00" y2="1796.18" stroke="#555" stroke-width="1.4"/>
<line x1="1679.50" y1="1810.34" x2="1685.00" y2="1810.34" stroke="#555" stroke-width="1.4"/>
<line x1="1679.50" y1="1824.50" x2="1685.00" y2="1824.50" stroke="#555" stroke-width="1.4"/>
<line x1="1679.50" y1="1838.66" x2="1685.00" y2="1838.66" stroke="#555" stroke-width="1.4"/>
<line x1="1679.50" y1="1852.82" x2="1689.50" y2="1852.82" stroke="#555" stroke-width="1.4"/>
<line x1="1679.50" y1="1866.98" x2="1685.00" y2="1866.98" stroke="#555" stroke-width="1.4"/>
<line x1="1679.50" y1="1881.14" x2="1685.00" y2="1881.14" stroke="#555" stroke-width="1.4"/>
<line x1="1679.50" y1="1895.30" x2="1685.00" y2="1895.30" stroke="#555" stroke-width="1.4"/>
<line x1="1679.50" y1="1909.46" x2="1685.00" y2="1909.46" stroke="#555" stroke-width="1.4"/>
<line x1="1679.50" y1="1923.62" x2="1689.50" y2="1923.62" stroke="#555" stroke-width="1.4"/>
<line x1="1679.50" y1="1937.78" x2="1685.00" y2="1937.78" stroke="#555" stroke-width="1.4"/>
<line x1="1679.50" y1="1951.94" x2="1685.00" y2="1951.94" stroke="#555" stroke-width="1.4"/>
<line x1="1679.50" y1="1966.10" x2="1685.00" y2="1966.10" stroke="#555" stroke-width="1.4"/>
<line x1="1679.50" y1="1980.26" x2="1685.00" y2="1980.26" stroke="#555" stroke-width="1.4"/>
<line x1="1679.50" y1="1994.42" x2="1689.50" y2="1994.42" stroke="#555" stroke-width="1.4"/>
<line x1="1679.50" y1="2008.58" x2="1685.00" y2="2008.58" stroke="#555" stroke-width="1.4"/>
<line x1="1679.50" y1="2022.74" x2="1685.00" y2="2022.74" stroke="#555" stroke-width="1.4"/>
<line x1="1679.50" y1="2036.90" x2="1685.00" y2="2036.90" stroke="#555" stroke-width="1.4"/>
<line x1="1679.50" y1="2051.06" x2="1685.00" y2="2051.06" stroke="#555" stroke-width="1.4"/>
<line x1="1679.50" y1="2065.22" x2="1689.50" y2="2065.22" stroke="#555" stroke-width="1.4"/>
<line x1="1679.50" y1="2079.38" x2="1685.00" y2="2079.38" stroke="#555" stroke-width="1.4"/>
<line x1="1679.50" y1="2093.54" x2="1685.00" y2="2093.54" stroke="#555" stroke-width="1.4"/>
<line x1="1679.50" y1="2107.70" x2="1685.00" y2="2107.70" stroke="#555" stroke-width="1.4"/>
<line x1="1679.50" y1="2121.86" x2="1685.00" y2="2121.86" stroke="#555" stroke-width="1.4"/>
<line x1="1679.50" y1="2136.02" x2="1689.50" y2="2136.02" stroke="#555" stroke-width="1.4"/>
<text x="1144.7" y="1474.2" font-size="38" fill="#000" font-weight="bold" stroke="#000" stroke-width="1.5" stroke-linejoin="round">i</text>
<text x="21.7" y="2174.3" font-size="23.5" fill="#111" text-anchor="middle">8</text>
<text x="112.9" y="2174.3" font-size="23.5" fill="#111" text-anchor="middle">7</text>
<text x="204.1" y="2174.3" font-size="23.5" fill="#111" text-anchor="middle">6</text>
<text x="295.3" y="2174.3" font-size="23.5" fill="#111" text-anchor="middle">5</text>
<text x="386.5" y="2174.3" font-size="23.5" fill="#111" text-anchor="middle">4</text>
<text x="477.7" y="2174.3" font-size="23.5" fill="#111" text-anchor="middle">3</text>
<text x="128.3" y="2207.8" font-size="17.5" fill="#111">1</text>
<text x="136.7" y="2220.3" font-size="27.5" fill="#111" textLength="287.5" lengthAdjust="spacingAndGlyphs">H chemical shift (ppm)</text>
<text x="585.7" y="2174.3" font-size="23.5" fill="#111" text-anchor="middle">8</text>
<text x="676.9" y="2174.3" font-size="23.5" fill="#111" text-anchor="middle">7</text>
<text x="768.1" y="2174.3" font-size="23.5" fill="#111" text-anchor="middle">6</text>
<text x="859.3" y="2174.3" font-size="23.5" fill="#111" text-anchor="middle">5</text>
<text x="950.5" y="2174.3" font-size="23.5" fill="#111" text-anchor="middle">4</text>
<text x="1041.7" y="2174.3" font-size="23.5" fill="#111" text-anchor="middle">3</text>
<text x="692.3" y="2207.8" font-size="17.5" fill="#111">1</text>
<text x="700.7" y="2220.3" font-size="27.5" fill="#111" textLength="287.5" lengthAdjust="spacingAndGlyphs">H chemical shift (ppm)</text>
<text x="1150.7" y="2174.3" font-size="23.5" fill="#111" text-anchor="middle">8</text>
<text x="1241.9" y="2174.3" font-size="23.5" fill="#111" text-anchor="middle">7</text>
<text x="1333.1" y="2174.3" font-size="23.5" fill="#111" text-anchor="middle">6</text>
<text x="1424.3" y="2174.3" font-size="23.5" fill="#111" text-anchor="middle">5</text>
<text x="1515.5" y="2174.3" font-size="23.5" fill="#111" text-anchor="middle">4</text>
<text x="1606.7" y="2174.3" font-size="23.5" fill="#111" text-anchor="middle">3</text>
<text x="1257.3" y="2207.8" font-size="17.5" fill="#111">1</text>
<text x="1265.7" y="2220.3" font-size="27.5" fill="#111" textLength="287.5" lengthAdjust="spacingAndGlyphs">H chemical shift (ppm)</text>
<text x="1701.0" y="72.0" font-size="23.5" fill="#111" textLength="29.4" lengthAdjust="spacingAndGlyphs">60</text>
<text x="1701.0" y="142.8" font-size="23.5" fill="#111" textLength="29.4" lengthAdjust="spacingAndGlyphs">70</text>
<text x="1701.0" y="213.6" font-size="23.5" fill="#111" textLength="29.4" lengthAdjust="spacingAndGlyphs">80</text>
<text x="1701.0" y="284.4" font-size="23.5" fill="#111" textLength="29.4" lengthAdjust="spacingAndGlyphs">90</text>
<text x="1701.0" y="355.2" font-size="23.5" fill="#111">100</text>
<text x="1701.0" y="426.0" font-size="23.5" fill="#111">110</text>
<text x="1701.0" y="496.8" font-size="23.5" fill="#111">120</text>
<text x="1701.0" y="567.6" font-size="23.5" fill="#111">130</text>
<text x="1701.0" y="638.4" font-size="23.5" fill="#111">140</text>
<text x="1701.0" y="709.2" font-size="23.5" fill="#111">150</text>
<text transform="translate(1777.1,196.9) rotate(90)" x="0" y="0" font-size="17.5" fill="#111" textLength="17" lengthAdjust="spacingAndGlyphs">13</text>
<text transform="translate(1763.5,215.3) rotate(90)" x="0" y="0" font-size="27.5" fill="#111" textLength="290" lengthAdjust="spacingAndGlyphs">C chemical shift (ppm)</text>
<text x="1701.0" y="790.4" font-size="23.5" fill="#111" textLength="29.4" lengthAdjust="spacingAndGlyphs">60</text>
<text x="1701.0" y="861.2" font-size="23.5" fill="#111" textLength="29.4" lengthAdjust="spacingAndGlyphs">70</text>
<text x="1701.0" y="932.0" font-size="23.5" fill="#111" textLength="29.4" lengthAdjust="spacingAndGlyphs">80</text>
<text x="1701.0" y="1002.8" font-size="23.5" fill="#111" textLength="29.4" lengthAdjust="spacingAndGlyphs">90</text>
<text x="1701.0" y="1073.6" font-size="23.5" fill="#111">100</text>
<text x="1701.0" y="1144.4" font-size="23.5" fill="#111">110</text>
<text x="1701.0" y="1215.2" font-size="23.5" fill="#111">120</text>
<text x="1701.0" y="1286.0" font-size="23.5" fill="#111">130</text>
<text x="1701.0" y="1356.8" font-size="23.5" fill="#111">140</text>
<text x="1701.0" y="1427.6" font-size="23.5" fill="#111">150</text>
<text transform="translate(1777.1,915.3) rotate(90)" x="0" y="0" font-size="17.5" fill="#111" textLength="17" lengthAdjust="spacingAndGlyphs">13</text>
<text transform="translate(1763.5,933.7) rotate(90)" x="0" y="0" font-size="27.5" fill="#111" textLength="290" lengthAdjust="spacingAndGlyphs">C chemical shift (ppm)</text>
<text x="1701.0" y="1507.1" font-size="23.5" fill="#111" textLength="29.4" lengthAdjust="spacingAndGlyphs">60</text>
<text x="1701.0" y="1577.9" font-size="23.5" fill="#111" textLength="29.4" lengthAdjust="spacingAndGlyphs">70</text>
<text x="1701.0" y="1648.7" font-size="23.5" fill="#111" textLength="29.4" lengthAdjust="spacingAndGlyphs">80</text>
<text x="1701.0" y="1719.5" font-size="23.5" fill="#111" textLength="29.4" lengthAdjust="spacingAndGlyphs">90</text>
<text x="1701.0" y="1790.3" font-size="23.5" fill="#111">100</text>
<text x="1701.0" y="1861.1" font-size="23.5" fill="#111">110</text>
<text x="1701.0" y="1931.9" font-size="23.5" fill="#111">120</text>
<text x="1701.0" y="2002.7" font-size="23.5" fill="#111">130</text>
<text x="1701.0" y="2073.5" font-size="23.5" fill="#111">140</text>
<text x="1701.0" y="2144.3" font-size="23.5" fill="#111">150</text>
<text transform="translate(1777.1,1632.0) rotate(90)" x="0" y="0" font-size="17.5" fill="#111" textLength="17" lengthAdjust="spacingAndGlyphs">13</text>
<text transform="translate(1763.5,1650.4) rotate(90)" x="0" y="0" font-size="27.5" fill="#111" textLength="290" lengthAdjust="spacingAndGlyphs">C chemical shift (ppm)</text>
<polygon points="1934.4,162.6 1963.1,178.8 1963.1,211.8 1934.4,227.8 1905.9,211.8 1905.9,178.8" fill="none" stroke="#3d3b91" stroke-width="2.6" stroke-linejoin="round"/>
<line x1="1936.6" y1="171.7" x2="1954.0" y2="181.5" stroke="#3d3b91" stroke-width="2.6" stroke-linecap="round"/>
<line x1="1954.0" y1="209.1" x2="1936.6" y2="218.8" stroke="#3d3b91" stroke-width="2.6" stroke-linecap="round"/>
<line x1="1912.7" y1="205.3" x2="1912.7" y2="185.3" stroke="#3d3b91" stroke-width="2.6" stroke-linecap="round"/>
<polygon points="2020.3,113.3 2020.3,78.8 2048.9,62.3 2077.6,78.8 2077.6,112.9 2048.9,128.4" fill="none" stroke="#3d3b91" stroke-width="2.6" stroke-linejoin="round"/>
<line x1="2029.4" y1="81.6" x2="2046.7" y2="71.6" stroke="#3d3b91" stroke-width="2.6" stroke-linecap="round"/>
<line x1="2070.7" y1="85.4" x2="2070.7" y2="106.2" stroke="#3d3b91" stroke-width="2.6" stroke-linecap="round"/>
<line x1="2046.7" y1="119.5" x2="2029.4" y2="110.3" stroke="#3d3b91" stroke-width="2.6" stroke-linecap="round"/>
<line x1="1934.4" y1="162.6" x2="1934.4" y2="128.0" stroke="#3d3b91" stroke-width="2.6" stroke-linecap="round"/>
<line x1="1934.4" y1="128.0" x2="1915.6" y2="117.6" stroke="#3d3b91" stroke-width="2.6" stroke-linecap="round"/>
<line x1="1934.4" y1="128.0" x2="1962.0" y2="112.9" stroke="#3d3b91" stroke-width="2.6" stroke-linecap="round"/>
<line x1="1962.0" y1="112.9" x2="1962.0" y2="78.3" stroke="#3d3b91" stroke-width="2.6" stroke-linecap="round"/>
<line x1="1962.0" y1="78.3" x2="1943.7" y2="68.0" stroke="#3d3b91" stroke-width="2.6" stroke-linecap="round"/>
<line x1="1962.0" y1="112.9" x2="1982.5" y2="123.7" stroke="#3d3b91" stroke-width="2.6" stroke-linecap="round"/>
<line x1="1999.8" y1="124.8" x2="2020.3" y2="113.3" stroke="#3d3b91" stroke-width="2.6" stroke-linecap="round"/>
<line x1="2020.3" y1="78.8" x2="2000.9" y2="68.0" stroke="#3d3b91" stroke-width="2.6" stroke-dasharray="3.2 2.4" stroke-linecap="butt"/>
<line x1="2048.9" y1="128.4" x2="2048.9" y2="150.7" stroke="#3d3b91" stroke-width="2.6" stroke-linecap="round"/>
<line x1="2077.6" y1="78.8" x2="2101.4" y2="65.4" stroke="#3d3b91" stroke-width="2.6" stroke-linecap="round"/>
<polyline points="2088.4,35.1 2088.0,35.8 2087.7,36.4 2087.3,37.0 2087.1,37.6 2086.9,38.1 2086.8,38.6 2086.8,39.0 2086.8,39.3 2087.0,39.6 2087.3,39.8 2087.7,40.0 2088.2,40.0 2088.8,40.1 2089.4,40.1 2090.1,40.0 2090.8,39.9 2091.6,39.9 2092.3,39.8 2093.0,39.7 2093.7,39.7 2094.3,39.7 2094.9,39.7 2095.3,39.8 2095.7,40.0 2096.0,40.2 2096.1,40.5 2096.2,40.9 2096.1,41.3 2096.0,41.8 2095.8,42.3 2095.5,42.9 2095.2,43.5 2094.8,44.1 2094.4,44.8 2094.1,45.4 2093.7,46.0 2093.4,46.6 2093.2,47.2 2093.0,47.7 2092.9,48.2 2092.9,48.6 2093.0,48.9 2093.2,49.1 2093.5,49.3 2094.0,49.5 2094.5,49.5 2095.1,49.6 2095.7,49.5 2096.4,49.5 2097.1,49.4 2097.9,49.3 2098.6,49.2 2099.3,49.2 2100.0,49.2 2100.6,49.2 2101.1,49.2 2101.6,49.3 2101.9,49.5 2102.2,49.7 2102.3,50.1 2102.3,50.4 2102.3,50.9 2102.1,51.4 2101.9,51.9 2101.6,52.5 2101.2,53.1 2100.9,53.8 2100.5,54.4 2100.1,55.1 2099.8,55.7 2099.5,56.3 2099.3,56.8 2099.1,57.3 2099.0,57.7 2099.1,58.1 2099.2,58.4 2099.4,58.7 2099.8,58.9 2100.2,59.0 2100.7,59.0 2101.3,59.0 2102.0,59.0 2102.7,58.9 2103.5,58.9 2104.2,58.8 2104.9,58.7 2105.6,58.7 2106.3,58.6 2106.9,58.7 2107.4,58.7 2107.8,58.9 2108.1,59.0 2108.3,59.3 2108.4,59.6 2108.5,60.0 2108.4,60.5 2108.2,61.0 2107.9,61.5 2107.6,62.1 2107.3,62.8 2106.9,63.4 2106.5,64.1 2106.2,64.7 2105.8,65.3 2105.6,65.9 2105.3,66.4 2105.2,66.9 2105.2,67.3 2105.2,67.7 2105.4,68.0 2105.7,68.2 2106.0,68.4 2106.5,68.5 2107.0,68.5 2107.6,68.5 2108.3,68.5 2109.0,68.4 2109.8,68.3 2110.5,68.3 2111.2,68.2 2111.9,68.1 2112.6,68.1 2113.1,68.2 2113.6,68.2 2114.0,68.4 2114.3,68.6 2114.5,68.9 2114.6,69.2 2114.6,69.6 2114.5,70.1 2114.3,70.6 2114.0,71.2 2113.7,71.8 2113.3,72.4 2113.0,73.1 2112.6,73.7 2112.2,74.3 2111.9,74.9 2111.6,75.5 2111.4,76.0 2111.3,76.5 2111.3,76.9 2111.4,77.3 2111.6,77.5 2111.9,77.8 2112.3,77.9 2112.7,78.0 2113.3,78.0 2113.9,78.0 2114.6,78.0 2115.4,77.9 2116.1,77.8 2116.8,77.7 2117.6,77.7 2118.2,77.6 2118.9,77.6 2119.4,77.7 2119.9,77.8 2120.2,77.9 2120.5,78.1 2120.7,78.4 2120.7,78.8 2120.7,79.2 2120.6,79.7 2120.4,80.2 2120.1,80.8 2119.8,81.4 2119.4,82.1 2119.0,82.7 2118.6,83.3 2118.3,84.0 2118.0,84.6 2117.7,85.1 2117.5,85.6 2117.5,86.1 2117.5,86.5 2117.6,86.8 2117.8,87.1 2118.1,87.3 2118.5,87.4 2119.0,87.5 2119.6,87.5 2120.2,87.5 2120.9,87.4 2121.7,87.4 2122.4,87.3 2123.2,87.2 2123.9,87.1 2124.5,87.1 2125.1,87.1 2125.7,87.2 2126.1,87.3 2126.5,87.5 2126.7,87.7 2126.8,88.0 2126.9,88.4" fill="none" stroke="#3d3b91" stroke-width="2.60" stroke-linecap="round" stroke-linejoin="round"/>
<line x1="1905.9" y1="211.8" x2="1886.4" y2="223.1" stroke="#3d3b91" stroke-width="2.6" stroke-dasharray="3.2 2.4" stroke-linecap="butt"/>
<line x1="1963.1" y1="211.8" x2="1982.5" y2="223.1" stroke="#3d3b91" stroke-width="2.6" stroke-linecap="round"/>
<line x1="1934.4" y1="227.8" x2="1934.4" y2="250.1" stroke="#3d3b91" stroke-width="2.6" stroke-linecap="round"/>
<line x1="1943.7" y1="267.4" x2="1964.2" y2="278.2" stroke="#3d3b91" stroke-width="2.6" stroke-dasharray="3.2 2.4" stroke-linecap="butt"/>
<text x="1898.3" y="116.7" font-size="21.5" fill="#3d3b91" text-anchor="middle" font-weight="bold">HO</text>
<text x="1927.0" y="67.1" font-size="21.5" fill="#3d3b91" text-anchor="middle" font-weight="bold">HO</text>
<text x="1991.2" y="133.2" font-size="21.5" fill="#3d3b91" text-anchor="middle" font-weight="bold">O</text>
<text x="1976.7" y="67.1" font-size="21.5" fill="#3d3b91" text-anchor="middle" font-weight="bold">MeO</text>
<text x="2064.0" y="167.1" font-size="21.5" fill="#3d3b91" text-anchor="middle" font-weight="bold">OMe</text>
<text x="1862.2" y="233.0" font-size="21.5" fill="#3d3b91" text-anchor="middle" font-weight="bold">MeO</text>
<text x="2007.0" y="233.0" font-size="21.5" fill="#3d3b91" text-anchor="middle" font-weight="bold">OMe</text>
<text x="1934.4" y="265.8" font-size="21.5" fill="#3d3b91" text-anchor="middle" font-weight="bold">O</text>
<text x="1975.0" y="89.7" font-size="18.5" fill="#a9a9a9" text-anchor="middle">γ</text>
<text x="1951.2" y="110.5" font-size="18.5" fill="#a9a9a9" text-anchor="middle">β</text>
<text x="1945.2" y="144.0" font-size="18.5" fill="#a9a9a9" text-anchor="middle">α</text>
<text x="2021.4" y="140.1" font-size="18.5" fill="#a9a9a9" text-anchor="middle">4</text>
<text x="2045.8" y="101.8" font-size="18.5" fill="#a9a9a9" text-anchor="middle">S/G</text>
<text x="1935.7" y="203.4" font-size="18.5" fill="#a9a9a9" text-anchor="middle">S/G</text>
<text x="2010.6" y="309.5" font-size="23" fill="#111" text-anchor="middle">A</text>
<text x="1883.2" y="339.7" font-size="24" fill="#111" textLength="254.9" lengthAdjust="spacingAndGlyphs">β-Aryl ether (β–O–4)</text>
<polygon points="1961.6,549.6 1994.4,549.6 2010.6,578.9 1994.4,607.5 1961.6,607.5 1944.7,578.9" fill="none" stroke="#7ab648" stroke-width="2.6" stroke-linejoin="round"/>
<line x1="1991.7" y1="558.8" x2="2001.5" y2="576.6" stroke="#7ab648" stroke-width="2.6" stroke-linecap="round"/>
<line x1="1988.0" y1="600.5" x2="1968.0" y2="600.5" stroke="#7ab648" stroke-width="2.6" stroke-linecap="round"/>
<line x1="1954.0" y1="576.6" x2="1964.2" y2="558.8" stroke="#7ab648" stroke-width="2.6" stroke-linecap="round"/>
<line x1="1961.6" y1="549.6" x2="1946.9" y2="523.2" stroke="#7ab648" stroke-width="2.6" stroke-linecap="round"/>
<polyline points="1916.7,538.3 1917.3,538.7 1917.9,539.1 1918.5,539.4 1919.1,539.7 1919.6,539.9 1920.1,540.0 1920.5,540.1 1920.8,540.0 1921.1,539.8 1921.3,539.5 1921.5,539.1 1921.6,538.6 1921.6,538.1 1921.6,537.4 1921.6,536.7 1921.5,536.0 1921.5,535.3 1921.4,534.5 1921.3,533.8 1921.3,533.1 1921.3,532.5 1921.4,532.0 1921.5,531.5 1921.7,531.1 1921.9,530.9 1922.2,530.7 1922.6,530.7 1923.0,530.7 1923.5,530.9 1924.0,531.1 1924.6,531.4 1925.2,531.7 1925.8,532.1 1926.4,532.5 1927.1,532.9 1927.7,533.3 1928.3,533.6 1928.8,533.8 1929.3,534.0 1929.8,534.1 1930.2,534.1 1930.5,534.0 1930.8,533.8 1931.0,533.5 1931.1,533.1 1931.2,532.6 1931.2,532.0 1931.2,531.3 1931.2,530.6 1931.1,529.9 1931.1,529.2 1931.0,528.4 1931.0,527.7 1930.9,527.1 1931.0,526.5 1931.0,525.9 1931.2,525.5 1931.3,525.1 1931.6,524.9 1931.9,524.8 1932.3,524.8 1932.7,524.8 1933.2,525.0 1933.8,525.2 1934.3,525.5 1935.0,525.9 1935.6,526.3 1936.2,526.7 1936.8,527.1 1937.5,527.4 1938.0,527.7 1938.6,528.0 1939.1,528.1 1939.5,528.2 1939.9,528.2 1940.2,528.1 1940.5,527.8 1940.6,527.5 1940.8,527.1 1940.8,526.5 1940.9,525.9 1940.8,525.3 1940.8,524.5 1940.7,523.8 1940.7,523.1 1940.6,522.3 1940.6,521.6 1940.6,521.0 1940.6,520.4 1940.7,519.9 1940.8,519.5 1941.0,519.2 1941.3,518.9 1941.6,518.8 1942.0,518.8 1942.5,518.9 1943.0,519.1 1943.5,519.4 1944.1,519.7 1944.7,520.1 1945.4,520.5 1946.0,520.9 1946.6,521.2 1947.2,521.6 1947.8,521.9 1948.3,522.1 1948.8,522.2 1949.2,522.3 1949.6,522.2 1949.9,522.1 1950.1,521.8 1950.3,521.5 1950.4,521.0 1950.5,520.5 1950.5,519.8 1950.5,519.2 1950.4,518.4 1950.3,517.7 1950.3,517.0 1950.2,516.2 1950.2,515.5 1950.2,514.9 1950.2,514.3 1950.3,513.9 1950.5,513.5 1950.7,513.2 1951.0,513.0 1951.3,512.9 1951.7,512.9 1952.2,513.1 1952.7,513.3 1953.3,513.5 1953.9,513.9 1954.5,514.2 1955.1,514.6 1955.8,515.0 1956.4,515.4 1957.0,515.7 1957.6,516.0 1958.1,516.2 1958.6,516.3 1959.0,516.4 1959.3,516.3 1959.6,516.1 1959.8,515.8 1960.0,515.4 1960.1,515.0 1960.1,514.4 1960.1,513.8 1960.1,513.1 1960.0,512.3 1960.0,511.6 1959.9,510.9 1959.8,510.1 1959.8,509.5 1959.8,508.8 1959.9,508.3 1960.0,507.8 1960.2,507.5 1960.4,507.2 1960.7,507.0 1961.0,507.0 1961.5,507.0 1962.0,507.2 1962.5,507.4 1963.1,507.7 1963.7,508.0 1964.3,508.4 1964.9,508.8 1965.6,509.2 1966.2,509.6 1966.8,509.9 1967.3,510.1 1967.8,510.3 1968.3,510.4 1968.7,510.4 1969.0,510.3 1969.3,510.1 1969.5,509.8 1969.6,509.4 1969.7,508.9 1969.7,508.3 1969.7,507.7 1969.7,507.0 1969.6,506.2 1969.6,505.5 1969.5,504.8 1969.5,504.0 1969.4,503.4 1969.5,502.8 1969.5,502.2 1969.7,501.8 1969.8,501.5 1970.1,501.2 1970.4,501.1 1970.8,501.1 1971.2,501.1" fill="none" stroke="#7ab648" stroke-width="2.60" stroke-linecap="round" stroke-linejoin="round"/>
<line x1="2010.6" y1="578.9" x2="2033.3" y2="578.9" stroke="#7ab648" stroke-width="2.6" stroke-linecap="round"/>
<line x1="1961.6" y1="607.5" x2="1952.3" y2="638.8" stroke="#7ab648" stroke-width="2.6" stroke-linecap="round"/>
<line x1="1952.3" y1="638.8" x2="1978.2" y2="657.1" stroke="#7ab648" stroke-width="2.6" stroke-linecap="round"/>
<line x1="1978.2" y1="657.1" x2="1996.6" y2="644.6" stroke="#7ab648" stroke-width="2.6" stroke-linecap="round"/>
<line x1="2000.9" y1="628.0" x2="1994.4" y2="607.5" stroke="#7ab648" stroke-width="2.6" stroke-linecap="round"/>
<line x1="1952.3" y1="638.8" x2="1919.9" y2="646.8" stroke="#7ab648" stroke-width="2.6" stroke-linecap="round"/>
<line x1="1919.9" y1="646.8" x2="1904.8" y2="631.2" stroke="#7ab648" stroke-width="2.6" stroke-linecap="round"/>
<line x1="1978.2" y1="657.1" x2="1978.2" y2="691.3" stroke="#7ab648" stroke-width="2.6" stroke-linecap="round"/>
<polygon points="1978.2,691.3 2007.4,706.8 2007.4,740.3 1978.2,756.5 1949.1,740.3 1949.1,706.8" fill="none" stroke="#7ab648" stroke-width="2.6" stroke-linejoin="round"/>
<line x1="1980.4" y1="700.2" x2="1998.2" y2="709.7" stroke="#7ab648" stroke-width="2.6" stroke-linecap="round"/>
<line x1="1998.2" y1="737.6" x2="1980.4" y2="747.4" stroke="#7ab648" stroke-width="2.6" stroke-linecap="round"/>
<line x1="1956.1" y1="733.8" x2="1956.1" y2="713.4" stroke="#7ab648" stroke-width="2.6" stroke-linecap="round"/>
<line x1="1949.1" y1="740.3" x2="1929.6" y2="751.1" stroke="#7ab648" stroke-width="2.6" stroke-dasharray="3.2 2.4" stroke-linecap="butt"/>
<line x1="2007.4" y1="740.3" x2="2025.8" y2="751.1" stroke="#7ab648" stroke-width="2.6" stroke-linecap="round"/>
<line x1="1978.2" y1="756.5" x2="1978.2" y2="779.2" stroke="#7ab648" stroke-width="2.6" stroke-linecap="round"/>
<line x1="1987.9" y1="795.4" x2="2007.4" y2="806.2" stroke="#7ab648" stroke-width="2.6" stroke-dasharray="3.2 2.4" stroke-linecap="butt"/>
<text x="2059.2" y="583.4" font-size="21.5" fill="#7ab648" text-anchor="middle" font-weight="bold">OMe</text>
<text x="2004.8" y="643.3" font-size="21.5" fill="#7ab648" text-anchor="middle" font-weight="bold">O</text>
<text x="1888.6" y="628.2" font-size="21.5" fill="#7ab648" text-anchor="middle" font-weight="bold">HO</text>
<text x="1905.9" y="761.7" font-size="21.5" fill="#7ab648" text-anchor="middle" font-weight="bold">MeO</text>
<text x="2050.6" y="761.7" font-size="21.5" fill="#7ab648" text-anchor="middle" font-weight="bold">OMe</text>
<text x="1978.2" y="794.5" font-size="21.5" fill="#7ab648" text-anchor="middle" font-weight="bold">O</text>
<text x="1977.8" y="585.6" font-size="18.5" fill="#a9a9a9" text-anchor="middle">G</text>
<text x="1946.9" y="614.1" font-size="18.5" fill="#a9a9a9" text-anchor="middle">5</text>
<text x="2007.0" y="618.4" font-size="18.5" fill="#a9a9a9" text-anchor="middle">4</text>
<text x="1914.5" y="667.0" font-size="18.5" fill="#a9a9a9" text-anchor="middle">γ</text>
<text x="1950.8" y="663.8" font-size="18.5" fill="#a9a9a9" text-anchor="middle">β</text>
<text x="1991.2" y="674.6" font-size="18.5" fill="#a9a9a9" text-anchor="middle">α</text>
<text x="1981.0" y="729.7" font-size="18.5" fill="#a9a9a9" text-anchor="middle">S/G</text>
<text x="1989.7" y="847.2" font-size="23" fill="#111" text-anchor="middle">B</text>
<text x="1848.6" y="879.6" font-size="24" fill="#111" textLength="281.9" lengthAdjust="spacingAndGlyphs">Phenylcoumaran (β–5)</text>
<polygon points="2042.0,1077.3 2073.3,1069.6 2098.1,1092.9 2088.4,1124.9 2057.1,1133.5 2033.3,1110.6" fill="none" stroke="#7b8b57" stroke-width="2.6" stroke-linejoin="round"/>
<line x1="2041.7" y1="1105.9" x2="2046.9" y2="1085.7" stroke="#7b8b57" stroke-width="2.6" stroke-linecap="round"/>
<line x1="2073.3" y1="1079.0" x2="2088.4" y2="1093.2" stroke="#7b8b57" stroke-width="2.6" stroke-linecap="round"/>
<line x1="2080.5" y1="1119.9" x2="2061.4" y2="1125.2" stroke="#7b8b57" stroke-width="2.6" stroke-linecap="round"/>
<line x1="2042.0" y1="1077.3" x2="2026.8" y2="1062.6" stroke="#7b8b57" stroke-width="2.6" stroke-linecap="round"/>
<line x1="2073.3" y1="1069.6" x2="2079.8" y2="1048.6" stroke="#7b8b57" stroke-width="2.6" stroke-linecap="round"/>
<line x1="2091.6" y1="1034.6" x2="2115.4" y2="1028.1" stroke="#7b8b57" stroke-width="2.6" stroke-dasharray="3.2 2.4" stroke-linecap="butt"/>
<line x1="2098.1" y1="1092.9" x2="2118.6" y2="1087.5" stroke="#7b8b57" stroke-width="2.6" stroke-dasharray="3.2 2.4" stroke-linecap="butt"/>
<line x1="2057.1" y1="1133.5" x2="2048.4" y2="1165.3" stroke="#7b8b57" stroke-width="2.6" stroke-linecap="round"/>
<line x1="2048.4" y1="1165.3" x2="2017.1" y2="1174.6" stroke="#7b8b57" stroke-width="2.6" stroke-linecap="round"/>
<line x1="2017.1" y1="1174.6" x2="1984.7" y2="1163.8" stroke="#7b8b57" stroke-width="2.6" stroke-linecap="round"/>
<line x1="1984.7" y1="1163.8" x2="1972.8" y2="1178.9" stroke="#7b8b57" stroke-width="2.6" stroke-linecap="round"/>
<line x1="1972.8" y1="1198.3" x2="1984.7" y2="1217.1" stroke="#7b8b57" stroke-width="2.6" stroke-linecap="round"/>
<line x1="1984.7" y1="1217.1" x2="2017.1" y2="1209.1" stroke="#7b8b57" stroke-width="2.6" stroke-linecap="round"/>
<line x1="2017.1" y1="1209.1" x2="2017.1" y2="1174.6" stroke="#7b8b57" stroke-width="2.6" stroke-linecap="round"/>
<line x1="2048.4" y1="1165.3" x2="2061.0" y2="1178.9" stroke="#7b8b57" stroke-width="2.6" stroke-linecap="round"/>
<line x1="2061.4" y1="1201.3" x2="2049.5" y2="1219.3" stroke="#7b8b57" stroke-width="2.6" stroke-linecap="round"/>
<line x1="2049.5" y1="1219.3" x2="2017.1" y2="1209.1" stroke="#7b8b57" stroke-width="2.6" stroke-linecap="round"/>
<line x1="1984.7" y1="1217.1" x2="1977.1" y2="1249.5" stroke="#7b8b57" stroke-width="2.6" stroke-linecap="round"/>
<polygon points="1977.1,1249.5 1999.8,1272.2 1991.2,1304.6 1959.9,1312.8 1936.1,1289.5 1944.3,1257.1" fill="none" stroke="#7b8b57" stroke-width="2.6" stroke-linejoin="round"/>
<line x1="1952.5" y1="1262.2" x2="1972.5" y2="1257.6" stroke="#7b8b57" stroke-width="2.6" stroke-linecap="round"/>
<line x1="1991.5" y1="1276.8" x2="1986.3" y2="1296.5" stroke="#7b8b57" stroke-width="2.6" stroke-linecap="round"/>
<line x1="1960.0" y1="1303.4" x2="1945.6" y2="1289.2" stroke="#7b8b57" stroke-width="2.6" stroke-linecap="round"/>
<line x1="1936.1" y1="1289.5" x2="1914.5" y2="1294.9" stroke="#7b8b57" stroke-width="2.6" stroke-dasharray="3.2 2.4" stroke-linecap="butt"/>
<line x1="1991.2" y1="1304.6" x2="2014.9" y2="1328.4" stroke="#7b8b57" stroke-width="2.6" stroke-linecap="round"/>
<line x1="1959.9" y1="1312.8" x2="1953.4" y2="1333.8" stroke="#7b8b57" stroke-width="2.6" stroke-linecap="round"/>
<line x1="1941.5" y1="1346.7" x2="1917.7" y2="1354.3" stroke="#7b8b57" stroke-width="2.6" stroke-dasharray="3.2 2.4" stroke-linecap="butt"/>
<text x="2004.1" y="1058.9" font-size="21.5" fill="#7b8b57" text-anchor="middle" font-weight="bold">MeO</text>
<text x="2081.9" y="1042.3" font-size="21.5" fill="#7b8b57" text-anchor="middle" font-weight="bold">O</text>
<text x="2144.6" y="1089.4" font-size="21.5" fill="#7b8b57" text-anchor="middle" font-weight="bold">OMe</text>
<text x="1964.6" y="1194.0" font-size="21.5" fill="#7b8b57" text-anchor="middle" font-weight="bold">O</text>
<text x="2067.9" y="1196.1" font-size="21.5" fill="#7b8b57" text-anchor="middle" font-weight="bold">O</text>
<text x="1890.3" y="1302.6" font-size="21.5" fill="#7b8b57" text-anchor="middle" font-weight="bold">MeO</text>
<text x="2038.7" y="1344.3" font-size="21.5" fill="#7b8b57" text-anchor="middle" font-weight="bold">OMe</text>
<text x="1951.2" y="1349.5" font-size="21.5" fill="#7b8b57" text-anchor="middle" font-weight="bold">O</text>
<text x="1980.4" y="1157.9" font-size="18.5" fill="#a9a9a9" text-anchor="middle">γ</text>
<text x="2020.3" y="1165.4" font-size="18.5" fill="#a9a9a9" text-anchor="middle">β</text>
<text x="2061.4" y="1169.8" font-size="18.5" fill="#a9a9a9" text-anchor="middle">α</text>
<text x="1971.7" y="1227.0" font-size="18.5" fill="#a9a9a9" text-anchor="middle">α</text>
<text x="2020.3" y="1232.4" font-size="18.5" fill="#a9a9a9" text-anchor="middle">β</text>
<text x="2054.9" y="1237.8" font-size="18.5" fill="#a9a9a9" text-anchor="middle">γ</text>
<text x="2067.9" y="1109.9" font-size="18.5" fill="#a9a9a9" text-anchor="middle">S/G</text>
<text x="1966.3" y="1287.5" font-size="18.5" fill="#a9a9a9" text-anchor="middle">S/G</text>
<text x="1998.7" y="1387.8" font-size="23" fill="#111" text-anchor="middle">C</text>
<text x="1914.5" y="1420.2" font-size="24" fill="#111" textLength="168.5" lengthAdjust="spacingAndGlyphs">Resinol (β– β)</text>
<polygon points="1924.4,1603.0 1956.2,1611.0 1965.3,1643.4 1941.9,1666.6 1910.1,1658.0 1901.0,1626.4" fill="none" stroke="#7db37f" stroke-width="2.6" stroke-linejoin="round"/>
<line x1="1910.5" y1="1626.6" x2="1924.7" y2="1612.4" stroke="#7db37f" stroke-width="2.6" stroke-linecap="round"/>
<line x1="1951.3" y1="1619.1" x2="1956.9" y2="1638.9" stroke="#7db37f" stroke-width="2.6" stroke-linecap="round"/>
<line x1="1937.4" y1="1658.3" x2="1918.0" y2="1653.0" stroke="#7db37f" stroke-width="2.6" stroke-linecap="round"/>
<polygon points="2039.0,1603.0 2062.2,1626.4 2053.1,1658.0 2022.0,1666.6 1998.2,1643.4 2006.6,1611.0" fill="none" stroke="#7db37f" stroke-width="2.6" stroke-linejoin="round"/>
<line x1="2014.7" y1="1616.1" x2="2034.5" y2="1611.2" stroke="#7db37f" stroke-width="2.6" stroke-linecap="round"/>
<line x1="2053.8" y1="1630.8" x2="2048.3" y2="1650.0" stroke="#7db37f" stroke-width="2.6" stroke-linecap="round"/>
<line x1="2022.2" y1="1657.2" x2="2007.7" y2="1643.1" stroke="#7db37f" stroke-width="2.6" stroke-linecap="round"/>
<line x1="1965.3" y1="1643.4" x2="1998.2" y2="1643.4" stroke="#7db37f" stroke-width="2.6" stroke-linecap="round"/>
<line x1="1924.4" y1="1603.0" x2="1916.9" y2="1571.2" stroke="#7db37f" stroke-width="2.6" stroke-linecap="round"/>
<polyline points="1885.1,1580.3 1885.7,1580.8 1886.2,1581.4 1886.7,1581.8 1887.2,1582.2 1887.6,1582.5 1888.0,1582.8 1888.4,1582.9 1888.8,1582.9 1889.1,1582.8 1889.4,1582.6 1889.6,1582.2 1889.8,1581.8 1890.0,1581.3 1890.1,1580.6 1890.3,1580.0 1890.4,1579.3 1890.5,1578.5 1890.6,1577.8 1890.7,1577.1 1890.9,1576.4 1891.0,1575.8 1891.2,1575.3 1891.4,1574.8 1891.7,1574.5 1891.9,1574.3 1892.3,1574.2 1892.6,1574.2 1893.0,1574.4 1893.4,1574.6 1893.9,1574.9 1894.4,1575.4 1894.9,1575.8 1895.4,1576.3 1895.9,1576.9 1896.5,1577.4 1897.0,1577.9 1897.5,1578.3 1897.9,1578.7 1898.4,1579.1 1898.8,1579.3 1899.2,1579.4 1899.6,1579.4 1899.9,1579.3 1900.1,1579.0 1900.4,1578.7 1900.6,1578.2 1900.8,1577.7 1900.9,1577.1 1901.0,1576.4 1901.1,1575.7 1901.3,1574.9 1901.4,1574.2 1901.5,1573.5 1901.6,1572.8 1901.8,1572.2 1902.0,1571.7 1902.2,1571.3 1902.4,1571.0 1902.7,1570.8 1903.0,1570.7 1903.4,1570.7 1903.8,1570.9 1904.2,1571.1 1904.7,1571.5 1905.2,1571.9 1905.7,1572.4 1906.2,1572.9 1906.7,1573.4 1907.2,1573.9 1907.8,1574.4 1908.3,1574.9 1908.7,1575.3 1909.2,1575.6 1909.6,1575.8 1910.0,1575.9 1910.3,1575.9 1910.6,1575.7 1910.9,1575.5 1911.1,1575.1 1911.3,1574.6 1911.5,1574.1 1911.7,1573.5 1911.8,1572.8 1911.9,1572.1 1912.0,1571.3 1912.1,1570.6 1912.2,1569.9 1912.4,1569.2 1912.5,1568.7 1912.7,1568.1 1912.9,1567.7 1913.2,1567.4 1913.5,1567.3 1913.8,1567.2 1914.2,1567.2 1914.6,1567.4 1915.0,1567.7 1915.5,1568.0 1916.0,1568.4 1916.5,1568.9 1917.0,1569.4 1917.5,1569.9 1918.0,1570.5 1918.6,1571.0 1919.1,1571.4 1919.5,1571.8 1920.0,1572.1 1920.4,1572.3 1920.8,1572.4 1921.1,1572.3 1921.4,1572.2 1921.7,1571.9 1921.9,1571.6 1922.1,1571.1 1922.3,1570.5 1922.4,1569.9 1922.5,1569.2 1922.7,1568.5 1922.8,1567.7 1922.9,1567.0 1923.0,1566.3 1923.1,1565.7 1923.3,1565.1 1923.5,1564.6 1923.7,1564.2 1924.0,1563.9 1924.3,1563.7 1924.6,1563.7 1925.0,1563.7 1925.4,1563.9 1925.8,1564.2 1926.3,1564.5 1926.8,1565.0 1927.3,1565.4 1927.8,1566.0 1928.3,1566.5 1928.8,1567.0 1929.4,1567.5 1929.8,1567.9 1930.3,1568.3 1930.8,1568.6 1931.2,1568.8 1931.5,1568.8 1931.9,1568.8 1932.2,1568.6 1932.4,1568.4 1932.7,1568.0 1932.9,1567.5 1933.0,1566.9 1933.2,1566.3 1933.3,1565.6 1933.4,1564.9 1933.5,1564.1 1933.6,1563.4 1933.7,1562.7 1933.9,1562.1 1934.1,1561.5 1934.2,1561.0 1934.5,1560.6 1934.7,1560.4 1935.0,1560.2 1935.4,1560.2 1935.7,1560.2 1936.2,1560.4 1936.6,1560.7 1937.1,1561.1 1937.6,1561.5 1938.1,1562.0 1938.6,1562.5 1939.1,1563.0 1939.6,1563.6 1940.1,1564.0 1940.6,1564.5 1941.1,1564.8 1941.5,1565.1 1942.0,1565.3 1942.3,1565.3 1942.7,1565.3 1943.0,1565.1 1943.2,1564.8 1943.4,1564.4 1943.6,1563.9 1943.8,1563.4 1943.9,1562.7 1944.0,1562.0 1944.2,1561.3 1944.3,1560.5 1944.4,1559.8 1944.5,1559.1 1944.6,1558.5 1944.8,1557.9 1945.0,1557.5 1945.2,1557.1 1945.5,1556.8 1945.8,1556.7 1946.1,1556.6 1946.5,1556.7" fill="none" stroke="#7db37f" stroke-width="2.60" stroke-linecap="round" stroke-linejoin="round"/>
<line x1="2039.0" y1="1603.0" x2="2046.3" y2="1571.2" stroke="#7db37f" stroke-width="2.6" stroke-linecap="round"/>
<polyline points="2015.7,1563.3 2015.8,1564.0 2016.0,1564.7 2016.2,1565.4 2016.4,1566.0 2016.6,1566.5 2016.9,1566.9 2017.2,1567.2 2017.5,1567.4 2017.8,1567.5 2018.1,1567.4 2018.5,1567.2 2018.9,1567.0 2019.4,1566.6 2019.8,1566.1 2020.3,1565.6 2020.7,1565.1 2021.2,1564.5 2021.7,1563.9 2022.2,1563.4 2022.6,1562.9 2023.1,1562.5 2023.5,1562.1 2023.9,1561.8 2024.3,1561.7 2024.6,1561.7 2024.9,1561.8 2025.2,1562.0 2025.5,1562.3 2025.7,1562.8 2026.0,1563.3 2026.2,1563.9 2026.4,1564.6 2026.5,1565.3 2026.7,1566.0 2026.9,1566.7 2027.1,1567.4 2027.3,1568.1 2027.5,1568.7 2027.7,1569.1 2028.0,1569.5 2028.2,1569.8 2028.5,1570.0 2028.9,1570.0 2029.2,1569.9 2029.6,1569.7 2030.0,1569.4 2030.5,1569.1 2030.9,1568.6 2031.4,1568.1 2031.9,1567.5 2032.3,1566.9 2032.8,1566.4 2033.3,1565.8 2033.7,1565.3 2034.2,1564.9 2034.6,1564.6 2035.0,1564.4 2035.4,1564.2 2035.7,1564.3 2036.0,1564.4 2036.3,1564.6 2036.6,1565.0 2036.8,1565.4 2037.0,1566.0 2037.2,1566.6 2037.4,1567.3 2037.6,1568.0 2037.8,1568.7 2037.9,1569.5 2038.1,1570.1 2038.3,1570.8 2038.5,1571.3 2038.8,1571.8 2039.0,1572.2 2039.3,1572.4 2039.6,1572.5 2040.0,1572.6 2040.3,1572.5 2040.7,1572.2 2041.1,1571.9 2041.6,1571.5 2042.0,1571.0 2042.5,1570.5 2043.0,1569.9 2043.5,1569.3 2043.9,1568.8 2044.4,1568.3 2044.9,1567.8 2045.3,1567.4 2045.7,1567.1 2046.1,1566.9 2046.5,1566.8 2046.8,1566.8 2047.1,1567.0 2047.4,1567.2 2047.6,1567.6 2047.9,1568.1 2048.1,1568.7 2048.3,1569.3 2048.5,1570.0 2048.6,1570.7 2048.8,1571.5 2049.0,1572.2 2049.2,1572.8 2049.4,1573.5 2049.6,1574.0 2049.8,1574.4 2050.1,1574.8 2050.4,1575.0 2050.7,1575.1 2051.1,1575.1 2051.4,1575.0 2051.8,1574.7 2052.3,1574.4 2052.7,1574.0 2053.2,1573.5 2053.6,1572.9 2054.1,1572.3 2054.6,1571.8 2055.0,1571.2 2055.5,1570.7 2056.0,1570.2 2056.4,1569.9 2056.8,1569.6 2057.2,1569.4 2057.5,1569.3 2057.9,1569.4 2058.2,1569.6 2058.5,1569.9 2058.7,1570.3 2058.9,1570.8 2059.1,1571.4 2059.3,1572.0 2059.5,1572.7 2059.7,1573.5 2059.9,1574.2 2060.0,1574.9 2060.2,1575.6 2060.4,1576.2 2060.7,1576.7 2060.9,1577.1 2061.2,1577.4 2061.5,1577.6 2061.8,1577.7 2062.1,1577.6 2062.5,1577.5 2062.9,1577.2 2063.4,1576.8 2063.8,1576.4 2064.3,1575.9 2064.7,1575.3 2065.2,1574.8 2065.7,1574.2 2066.2,1573.6 2066.6,1573.1 2067.1,1572.7 2067.5,1572.3 2067.9,1572.1 2068.3,1571.9 2068.6,1571.9 2069.0,1572.0 2069.2,1572.2 2069.5,1572.5 2069.8,1573.0 2070.0,1573.5 2070.2,1574.1 2070.4,1574.8 2070.6,1575.5 2070.7,1576.2 2070.9,1576.9 2071.1,1577.6 2071.3,1578.3 2071.5,1578.8 2071.7,1579.3 2072.0,1579.7 2072.2,1580.0 2072.5,1580.2 2072.9,1580.2 2073.2,1580.2 2073.6,1580.0 2074.0,1579.7 2074.5,1579.3 2074.9,1578.8 2075.4,1578.3 2075.9,1577.8 2076.3,1577.2 2076.8,1576.6 2077.3,1576.1 2077.7,1575.6 2078.2,1575.2 2078.6,1574.8 2079.0,1574.6 2079.4,1574.5 2079.7,1574.5 2080.0,1574.6" fill="none" stroke="#7db37f" stroke-width="2.60" stroke-linecap="round" stroke-linejoin="round"/>
<line x1="1910.1" y1="1658.0" x2="1893.1" y2="1673.4" stroke="#7db37f" stroke-width="2.6" stroke-linecap="round"/>
<line x1="2053.1" y1="1658.0" x2="2070.1" y2="1673.4" stroke="#7db37f" stroke-width="2.6" stroke-linecap="round"/>
<line x1="1941.9" y1="1666.6" x2="1941.9" y2="1689.3" stroke="#7db37f" stroke-width="2.6" stroke-linecap="round"/>
<line x1="2022.0" y1="1666.6" x2="2022.0" y2="1689.3" stroke="#7db37f" stroke-width="2.6" stroke-linecap="round"/>
<line x1="1949.8" y1="1707.4" x2="1965.7" y2="1723.3" stroke="#7db37f" stroke-width="2.6" stroke-linecap="round"/>
<line x1="1965.7" y1="1723.3" x2="1998.6" y2="1723.3" stroke="#7db37f" stroke-width="2.6" stroke-linecap="round"/>
<line x1="1998.6" y1="1723.3" x2="2013.4" y2="1707.4" stroke="#7db37f" stroke-width="2.6" stroke-linecap="round"/>
<line x1="1965.7" y1="1723.3" x2="1948.7" y2="1751.0" stroke="#7db37f" stroke-width="2.6" stroke-linecap="round"/>
<line x1="1948.7" y1="1751.0" x2="1926.0" y2="1751.0" stroke="#7db37f" stroke-width="2.6" stroke-linecap="round"/>
<line x1="1998.6" y1="1723.3" x2="2014.5" y2="1751.0" stroke="#7db37f" stroke-width="2.6" stroke-linecap="round"/>
<polygon points="2014.5,1751.0 2048.6,1751.0 2064.5,1780.1 2047.4,1808.5 2014.5,1808.5 1997.5,1780.1" fill="none" stroke="#7db37f" stroke-width="2.6" stroke-linejoin="round"/>
<line x1="2006.9" y1="1777.8" x2="2017.2" y2="1760.2" stroke="#7db37f" stroke-width="2.6" stroke-linecap="round"/>
<line x1="2045.6" y1="1760.2" x2="2055.3" y2="1777.8" stroke="#7db37f" stroke-width="2.6" stroke-linecap="round"/>
<line x1="2041.0" y1="1801.6" x2="2021.0" y2="1801.6" stroke="#7db37f" stroke-width="2.6" stroke-linecap="round"/>
<line x1="2064.5" y1="1780.1" x2="2088.3" y2="1780.1" stroke="#7db37f" stroke-width="2.6" stroke-linecap="round"/>
<line x1="2014.5" y1="1808.5" x2="2005.4" y2="1826.6" stroke="#7db37f" stroke-width="2.6" stroke-dasharray="3.2 2.4" stroke-linecap="butt"/>
<line x1="2047.4" y1="1808.5" x2="2058.8" y2="1826.6" stroke="#7db37f" stroke-width="2.6" stroke-linecap="round"/>
<text x="1871.5" y="1685.2" font-size="21.5" fill="#7db37f" text-anchor="middle" font-weight="bold">MeO</text>
<text x="2092.4" y="1685.2" font-size="21.5" fill="#7db37f" text-anchor="middle" font-weight="bold">OMe</text>
<text x="1941.9" y="1705.0" font-size="21.5" fill="#7db37f" text-anchor="middle" font-weight="bold">O</text>
<text x="2022.0" y="1705.0" font-size="21.5" fill="#7db37f" text-anchor="middle" font-weight="bold">O</text>
<text x="1908.5" y="1756.5" font-size="21.5" fill="#7db37f" text-anchor="middle" font-weight="bold">HO</text>
<text x="2112.8" y="1786.0" font-size="21.5" fill="#7db37f" text-anchor="middle" font-weight="bold">OMe</text>
<text x="1983.4" y="1842.3" font-size="21.5" fill="#7db37f" text-anchor="middle" font-weight="bold">MeO</text>
<text x="2072.4" y="1842.3" font-size="21.5" fill="#7db37f" text-anchor="middle" font-weight="bold">OH</text>
<text x="1933.5" y="1643.7" font-size="18.5" fill="#a9a9a9" text-anchor="middle">G</text>
<text x="1988.4" y="1639.2" font-size="18.5" fill="#a9a9a9" text-anchor="middle">5</text>
<text x="2031.6" y="1641.5" font-size="18.5" fill="#a9a9a9" text-anchor="middle">G</text>
<text x="1974.3" y="1665.3" font-size="18.5" fill="#a9a9a9" text-anchor="middle">5</text>
<text x="1952.6" y="1681.2" font-size="18.5" fill="#a9a9a9" text-anchor="middle">4</text>
<text x="2035.0" y="1686.9" font-size="18.5" fill="#a9a9a9" text-anchor="middle">4</text>
<text x="1974.3" y="1714.1" font-size="18.5" fill="#a9a9a9" text-anchor="middle">β</text>
<text x="2013.4" y="1730.0" font-size="18.5" fill="#a9a9a9" text-anchor="middle">α</text>
<text x="1961.6" y="1768.6" font-size="18.5" fill="#a9a9a9" text-anchor="middle">γ</text>
<text x="2032.0" y="1790.2" font-size="18.5" fill="#a9a9a9" text-anchor="middle">S/G</text>
<text x="2047.0" y="1892.5" font-size="23" fill="#111" text-anchor="middle">D</text>
<text x="1941.9" y="1920.8" font-size="24" fill="#111" textLength="210.0" lengthAdjust="spacingAndGlyphs">Dibenzodioxocin</text>
<circle cx="1825" cy="2065.5" r="17.5" fill="#dcdcdc" stroke="#666" stroke-width="1"/>
<text x="1856.2" y="2074" font-size="26" fill="#111" textLength="308" lengthAdjust="spacingAndGlyphs">Unresolved, unassigned,</text>
<text x="1856.2" y="2104.6" font-size="26" fill="#111" textLength="316" lengthAdjust="spacingAndGlyphs">polysaccarides and so on</text>
<rect x="1" y="2276.3" width="751.2" height="371.4" fill="none" stroke="#111" stroke-width="1.4"/>
<text x="14" y="2307" font-size="26" fill="#111" textLength="174" lengthAdjust="spacingAndGlyphs">Subunit types</text>
<polygon points="155.4,2409.8 189.6,2428.6 189.6,2468.9 155.4,2488.6 121.3,2468.9 121.3,2428.6" fill="none" stroke="#b03a3a" stroke-width="2.6" stroke-linejoin="round"/>
<line x1="158.0" y1="2420.6" x2="178.8" y2="2432.1" stroke="#b03a3a" stroke-width="2.6" stroke-linecap="round"/>
<line x1="178.8" y1="2465.6" x2="158.0" y2="2477.6" stroke="#b03a3a" stroke-width="2.6" stroke-linecap="round"/>
<line x1="129.5" y1="2461.1" x2="129.5" y2="2436.6" stroke="#b03a3a" stroke-width="2.6" stroke-linecap="round"/>
<line x1="155.4" y1="2409.8" x2="155.4" y2="2372.6" stroke="#b03a3a" stroke-width="2.6" stroke-linecap="round"/>
<polyline points="123.5,2366.5 123.8,2366.9 124.1,2367.4 124.5,2367.8 124.8,2368.2 125.1,2368.5 125.5,2368.8 125.8,2369.0 126.1,2369.2 126.5,2369.3 126.8,2369.2 127.1,2369.2 127.5,2369.0 127.8,2368.8 128.1,2368.5 128.5,2368.1 128.8,2367.7 129.1,2367.3 129.5,2366.9 129.8,2366.4 130.2,2365.9 130.5,2365.5 130.8,2365.1 131.2,2364.7 131.5,2364.3 131.8,2364.1 132.2,2363.9 132.5,2363.7 132.8,2363.7 133.2,2363.7 133.5,2363.8 133.8,2363.9 134.2,2364.2 134.5,2364.5 134.8,2364.8 135.2,2365.2 135.5,2365.7 135.8,2366.1 136.2,2366.6 136.5,2367.1 136.8,2367.5 137.2,2367.9 137.5,2368.3 137.8,2368.6 138.2,2368.9 138.5,2369.1 138.8,2369.2 139.2,2369.3 139.5,2369.2 139.8,2369.1 140.2,2368.9 140.5,2368.7 140.8,2368.4 141.2,2368.0 141.5,2367.6 141.8,2367.2 142.2,2366.7 142.5,2366.3 142.8,2365.8 143.2,2365.4 143.5,2364.9 143.8,2364.6 144.2,2364.3 144.5,2364.0 144.9,2363.8 145.2,2363.7 145.5,2363.7 145.9,2363.7 146.2,2363.8 146.5,2364.0 146.9,2364.3 147.2,2364.6 147.5,2365.0 147.9,2365.4 148.2,2365.8 148.5,2366.3 148.9,2366.7 149.2,2367.2 149.5,2367.6 149.9,2368.0 150.2,2368.4 150.5,2368.7 150.9,2369.0 151.2,2369.1 151.5,2369.2 151.9,2369.3 152.2,2369.2 152.5,2369.1 152.9,2368.9 153.2,2368.6 153.5,2368.3 153.9,2367.9 154.2,2367.5 154.5,2367.1 154.9,2366.6 155.2,2366.1 155.5,2365.7 155.9,2365.2 156.2,2364.8 156.5,2364.5 156.9,2364.2 157.2,2363.9 157.5,2363.8 157.9,2363.7 158.2,2363.7 158.6,2363.7 158.9,2363.9 159.2,2364.1 159.6,2364.4 159.9,2364.7 160.2,2365.1 160.6,2365.5 160.9,2365.9 161.2,2366.4 161.6,2366.9 161.9,2367.3 162.2,2367.8 162.6,2368.1 162.9,2368.5 163.2,2368.8 163.6,2369.0 163.9,2369.2 164.2,2369.3 164.6,2369.3 164.9,2369.2 165.2,2369.0 165.6,2368.8 165.9,2368.5 166.2,2368.2 166.6,2367.8 166.9,2367.4 167.2,2366.9 167.6,2366.5 167.9,2366.0 168.2,2365.5 168.6,2365.1 168.9,2364.7 169.2,2364.4 169.6,2364.1 169.9,2363.9 170.2,2363.7 170.6,2363.7 170.9,2363.7 171.2,2363.8 171.6,2363.9 171.9,2364.1 172.3,2364.4 172.6,2364.8 172.9,2365.2 173.3,2365.6 173.6,2366.1 173.9,2366.5 174.3,2367.0 174.6,2367.4 174.9,2367.9 175.3,2368.3 175.6,2368.6 175.9,2368.9 176.3,2369.1 176.6,2369.2 176.9,2369.3 177.3,2369.2 177.6,2369.1 177.9,2369.0 178.3,2368.7 178.6,2368.4 178.9,2368.1 179.3,2367.7 179.6,2367.2 179.9,2366.8 180.3,2366.3 180.6,2365.9 180.9,2365.4 181.3,2365.0 181.6,2364.6 181.9,2364.3 182.3,2364.0 182.6,2363.8 182.9,2363.7 183.3,2363.7 183.6,2363.7 183.9,2363.8 184.3,2364.0 184.6,2364.2 184.9,2364.5 185.3,2364.9 185.6,2365.3 186.0,2365.7 186.3,2366.2 186.6,2366.7 187.0,2367.1" fill="none" stroke="#b03a3a" stroke-width="2.60" stroke-linecap="round" stroke-linejoin="round"/>
<line x1="121.3" y1="2468.9" x2="98.5" y2="2481.2" stroke="#b03a3a" stroke-width="2.6" stroke-linecap="round"/>
<text x="69.2" y="2494.4" font-size="24.5" fill="#b03a3a" text-anchor="middle" font-weight="bold">MeO</text>
<line x1="189.6" y1="2468.9" x2="213.2" y2="2481.2" stroke="#b03a3a" stroke-width="2.6" stroke-linecap="round"/>
<text x="241.7" y="2494.4" font-size="24.5" fill="#b03a3a" text-anchor="middle" font-weight="bold">OMe</text>
<line x1="155.4" y1="2488.6" x2="155.4" y2="2513.6" stroke="#b03a3a" stroke-width="2.6" stroke-linecap="round"/>
<text x="155.4" y="2534.7" font-size="24.5" fill="#b03a3a" text-anchor="middle" font-weight="bold">O</text>
<line x1="168.6" y1="2536.8" x2="177.3" y2="2541.2" stroke="#b03a3a" stroke-width="2.6" stroke-linecap="round"/>
<text x="189.1" y="2553.0" font-size="24.5" fill="#b03a3a" text-anchor="middle" font-weight="bold">R</text>
<text x="156.7" y="2615.2" font-size="27" fill="#b03a3a" text-anchor="middle">S</text>
<polygon points="414.6,2409.8 448.8,2428.6 448.8,2468.9 414.6,2488.6 380.5,2468.9 380.5,2428.6" fill="none" stroke="#52649a" stroke-width="2.6" stroke-linejoin="round"/>
<line x1="417.2" y1="2420.6" x2="438.0" y2="2432.1" stroke="#52649a" stroke-width="2.6" stroke-linecap="round"/>
<line x1="438.0" y1="2465.6" x2="417.2" y2="2477.6" stroke="#52649a" stroke-width="2.6" stroke-linecap="round"/>
<line x1="388.7" y1="2461.1" x2="388.7" y2="2436.6" stroke="#52649a" stroke-width="2.6" stroke-linecap="round"/>
<line x1="414.6" y1="2409.8" x2="414.6" y2="2372.6" stroke="#52649a" stroke-width="2.6" stroke-linecap="round"/>
<polyline points="382.7,2366.5 383.0,2366.9 383.3,2367.4 383.7,2367.8 384.0,2368.2 384.3,2368.5 384.7,2368.8 385.0,2369.0 385.3,2369.2 385.7,2369.3 386.0,2369.2 386.3,2369.2 386.7,2369.0 387.0,2368.8 387.3,2368.5 387.7,2368.1 388.0,2367.7 388.3,2367.3 388.7,2366.9 389.0,2366.4 389.3,2365.9 389.7,2365.5 390.0,2365.1 390.3,2364.7 390.7,2364.3 391.0,2364.1 391.3,2363.9 391.7,2363.7 392.0,2363.7 392.4,2363.7 392.7,2363.8 393.0,2363.9 393.4,2364.2 393.7,2364.5 394.0,2364.8 394.4,2365.2 394.7,2365.7 395.0,2366.1 395.4,2366.6 395.7,2367.1 396.0,2367.5 396.4,2367.9 396.7,2368.3 397.0,2368.6 397.4,2368.9 397.7,2369.1 398.0,2369.2 398.4,2369.3 398.7,2369.2 399.0,2369.1 399.4,2368.9 399.7,2368.7 400.0,2368.4 400.4,2368.0 400.7,2367.6 401.0,2367.2 401.4,2366.7 401.7,2366.3 402.0,2365.8 402.4,2365.4 402.7,2364.9 403.0,2364.6 403.4,2364.3 403.7,2364.0 404.0,2363.8 404.4,2363.7 404.7,2363.7 405.0,2363.7 405.4,2363.8 405.7,2364.0 406.1,2364.3 406.4,2364.6 406.7,2365.0 407.1,2365.4 407.4,2365.8 407.7,2366.3 408.1,2366.7 408.4,2367.2 408.7,2367.6 409.1,2368.0 409.4,2368.4 409.7,2368.7 410.1,2369.0 410.4,2369.1 410.7,2369.2 411.1,2369.3 411.4,2369.2 411.7,2369.1 412.1,2368.9 412.4,2368.6 412.7,2368.3 413.1,2367.9 413.4,2367.5 413.7,2367.1 414.1,2366.6 414.4,2366.1 414.7,2365.7 415.1,2365.2 415.4,2364.8 415.7,2364.5 416.1,2364.2 416.4,2363.9 416.7,2363.8 417.1,2363.7 417.4,2363.7 417.7,2363.7 418.1,2363.9 418.4,2364.1 418.7,2364.4 419.1,2364.7 419.4,2365.1 419.8,2365.5 420.1,2365.9 420.4,2366.4 420.8,2366.9 421.1,2367.3 421.4,2367.8 421.8,2368.1 422.1,2368.5 422.4,2368.8 422.8,2369.0 423.1,2369.2 423.4,2369.3 423.8,2369.3 424.1,2369.2 424.4,2369.0 424.8,2368.8 425.1,2368.5 425.4,2368.2 425.8,2367.8 426.1,2367.4 426.4,2366.9 426.8,2366.5 427.1,2366.0 427.4,2365.5 427.8,2365.1 428.1,2364.7 428.4,2364.4 428.8,2364.1 429.1,2363.9 429.4,2363.7 429.8,2363.7 430.1,2363.7 430.4,2363.8 430.8,2363.9 431.1,2364.1 431.4,2364.4 431.8,2364.8 432.1,2365.2 432.4,2365.6 432.8,2366.1 433.1,2366.5 433.5,2367.0 433.8,2367.4 434.1,2367.9 434.5,2368.3 434.8,2368.6 435.1,2368.9 435.5,2369.1 435.8,2369.2 436.1,2369.3 436.5,2369.2 436.8,2369.1 437.1,2369.0 437.5,2368.7 437.8,2368.4 438.1,2368.1 438.5,2367.7 438.8,2367.2 439.1,2366.8 439.5,2366.3 439.8,2365.9 440.1,2365.4 440.5,2365.0 440.8,2364.6 441.1,2364.3 441.5,2364.0 441.8,2363.8 442.1,2363.7 442.5,2363.7 442.8,2363.7 443.1,2363.8 443.5,2364.0 443.8,2364.2 444.1,2364.5 444.5,2364.9 444.8,2365.3 445.1,2365.7 445.5,2366.2 445.8,2366.7 446.1,2367.1" fill="none" stroke="#52649a" stroke-width="2.60" stroke-linecap="round" stroke-linejoin="round"/>
<line x1="448.8" y1="2468.9" x2="472.4" y2="2481.2" stroke="#52649a" stroke-width="2.6" stroke-linecap="round"/>
<text x="500.9" y="2494.4" font-size="24.5" fill="#52649a" text-anchor="middle" font-weight="bold">OMe</text>
<line x1="414.6" y1="2488.6" x2="414.6" y2="2513.6" stroke="#52649a" stroke-width="2.6" stroke-linecap="round"/>
<text x="414.6" y="2534.7" font-size="24.5" fill="#52649a" text-anchor="middle" font-weight="bold">O</text>
<line x1="427.8" y1="2536.8" x2="436.5" y2="2541.2" stroke="#52649a" stroke-width="2.6" stroke-linecap="round"/>
<text x="448.3" y="2553.0" font-size="24.5" fill="#52649a" text-anchor="middle" font-weight="bold">R</text>
<text x="426.0" y="2615.2" font-size="27" fill="#52649a" text-anchor="middle">G</text>
<polygon points="668.6,2407.6 702.7,2426.4 702.7,2466.7 668.6,2486.4 634.4,2466.7 634.4,2426.4" fill="none" stroke="#c040b0" stroke-width="2.6" stroke-linejoin="round"/>
<line x1="671.2" y1="2418.4" x2="691.9" y2="2429.9" stroke="#c040b0" stroke-width="2.6" stroke-linecap="round"/>
<line x1="691.9" y1="2463.4" x2="671.2" y2="2475.4" stroke="#c040b0" stroke-width="2.6" stroke-linecap="round"/>
<line x1="642.6" y1="2458.9" x2="642.6" y2="2434.4" stroke="#c040b0" stroke-width="2.6" stroke-linecap="round"/>
<line x1="668.6" y1="2407.6" x2="668.6" y2="2370.4" stroke="#c040b0" stroke-width="2.6" stroke-linecap="round"/>
<polyline points="636.6,2364.3 636.9,2364.7 637.3,2365.2 637.6,2365.6 637.9,2366.0 638.3,2366.3 638.6,2366.6 638.9,2366.8 639.3,2367.0 639.6,2367.1 639.9,2367.1 640.3,2367.0 640.6,2366.8 640.9,2366.6 641.3,2366.3 641.6,2366.0 641.9,2365.6 642.3,2365.1 642.6,2364.7 643.0,2364.2 643.3,2363.7 643.6,2363.3 644.0,2362.9 644.3,2362.5 644.6,2362.2 645.0,2361.9 645.3,2361.7 645.6,2361.5 646.0,2361.5 646.3,2361.5 646.6,2361.6 647.0,2361.8 647.3,2362.0 647.6,2362.3 648.0,2362.7 648.3,2363.1 648.6,2363.5 649.0,2363.9 649.3,2364.4 649.6,2364.9 650.0,2365.3 650.3,2365.7 650.6,2366.1 651.0,2366.4 651.3,2366.7 651.6,2366.9 652.0,2367.0 652.3,2367.1 652.6,2367.0 653.0,2366.9 653.3,2366.8 653.6,2366.5 654.0,2366.2 654.3,2365.8 654.6,2365.4 655.0,2365.0 655.3,2364.5 655.6,2364.1 656.0,2363.6 656.3,2363.2 656.7,2362.8 657.0,2362.4 657.3,2362.1 657.7,2361.8 658.0,2361.6 658.3,2361.5 658.7,2361.5 659.0,2361.5 659.3,2361.6 659.7,2361.8 660.0,2362.1 660.3,2362.4 660.7,2362.8 661.0,2363.2 661.3,2363.6 661.7,2364.1 662.0,2364.5 662.3,2365.0 662.7,2365.4 663.0,2365.8 663.3,2366.2 663.7,2366.5 664.0,2366.8 664.3,2366.9 664.7,2367.0 665.0,2367.1 665.3,2367.0 665.7,2366.9 666.0,2366.7 666.3,2366.4 666.7,2366.1 667.0,2365.7 667.3,2365.3 667.7,2364.9 668.0,2364.4 668.3,2363.9 668.7,2363.5 669.0,2363.0 669.3,2362.6 669.7,2362.3 670.0,2362.0 670.3,2361.8 670.7,2361.6 671.0,2361.5 671.4,2361.5 671.7,2361.5 672.0,2361.7 672.4,2361.9 672.7,2362.2 673.0,2362.5 673.4,2362.9 673.7,2363.3 674.0,2363.7 674.4,2364.2 674.7,2364.7 675.0,2365.1 675.4,2365.6 675.7,2366.0 676.0,2366.3 676.4,2366.6 676.7,2366.8 677.0,2367.0 677.4,2367.1 677.7,2367.1 678.0,2367.0 678.4,2366.8 678.7,2366.6 679.0,2366.3 679.4,2366.0 679.7,2365.6 680.0,2365.2 680.4,2364.7 680.7,2364.3 681.0,2363.8 681.4,2363.4 681.7,2362.9 682.0,2362.5 682.4,2362.2 682.7,2361.9 683.0,2361.7 683.4,2361.6 683.7,2361.5 684.0,2361.5 684.4,2361.6 684.7,2361.7 685.1,2362.0 685.4,2362.3 685.7,2362.6 686.1,2363.0 686.4,2363.4 686.7,2363.9 687.1,2364.3 687.4,2364.8 687.7,2365.3 688.1,2365.7 688.4,2366.1 688.7,2366.4 689.1,2366.7 689.4,2366.9 689.7,2367.0 690.1,2367.1 690.4,2367.1 690.7,2367.0 691.1,2366.8 691.4,2366.5 691.7,2366.2 692.1,2365.9 692.4,2365.5 692.7,2365.1 693.1,2364.6 693.4,2364.1 693.7,2363.7 694.1,2363.2 694.4,2362.8 694.7,2362.4 695.1,2362.1 695.4,2361.8 695.7,2361.6 696.1,2361.5 696.4,2361.5 696.7,2361.5 697.1,2361.6 697.4,2361.8 697.7,2362.0 698.1,2362.3 698.4,2362.7 698.8,2363.1 699.1,2363.6 699.4,2364.0 699.8,2364.5 700.1,2364.9" fill="none" stroke="#c040b0" stroke-width="2.60" stroke-linecap="round" stroke-linejoin="round"/>
<line x1="668.6" y1="2486.4" x2="668.6" y2="2511.4" stroke="#c040b0" stroke-width="2.6" stroke-linecap="round"/>
<text x="668.6" y="2532.5" font-size="24.5" fill="#c040b0" text-anchor="middle" font-weight="bold">O</text>
<line x1="681.7" y1="2534.6" x2="690.5" y2="2539.0" stroke="#c040b0" stroke-width="2.6" stroke-linecap="round"/>
<text x="702.3" y="2550.9" font-size="24.5" fill="#c040b0" text-anchor="middle" font-weight="bold">R</text>
<text x="670.8" y="2615.2" font-size="27" fill="#c040b0" text-anchor="middle">H</text>
<rect x="875.6" y="2276.6" width="1250.1" height="371.2" fill="none" stroke="#111" stroke-width="1.4"/>
<text x="887.4" y="2307" font-size="26" fill="#111" textLength="138" lengthAdjust="spacingAndGlyphs">Sidechains</text>
<polygon points="997.6,2442.0 1033.0,2461.0 1033.0,2501.0 997.6,2520.0 962.7,2501.0 962.7,2461.0" fill="none" stroke="#179a50" stroke-width="2.6" stroke-linejoin="round"/>
<line x1="973.7" y1="2464.4" x2="995.0" y2="2452.8" stroke="#179a50" stroke-width="2.6" stroke-linecap="round"/>
<line x1="1024.5" y1="2468.9" x2="1024.5" y2="2493.1" stroke="#179a50" stroke-width="2.6" stroke-linecap="round"/>
<line x1="995.0" y1="2509.2" x2="973.7" y2="2497.6" stroke="#179a50" stroke-width="2.6" stroke-linecap="round"/>
<line x1="997.6" y1="2442.0" x2="997.6" y2="2402.1" stroke="#179a50" stroke-width="2.6" stroke-linecap="round"/>
<line x1="998.8" y1="2399.9" x2="974.5" y2="2386.6" stroke="#179a50" stroke-width="2.6" stroke-linecap="round"/>
<line x1="996.4" y1="2404.3" x2="972.1" y2="2391.0" stroke="#179a50" stroke-width="2.6" stroke-linecap="round"/>
<line x1="997.6" y1="2402.1" x2="1020.5" y2="2388.8" stroke="#179a50" stroke-width="2.6" stroke-linecap="round"/>
<line x1="1044.4" y1="2388.8" x2="1067.2" y2="2402.1" stroke="#179a50" stroke-width="2.6" stroke-linecap="round"/>
<line x1="997.6" y1="2520.0" x2="997.6" y2="2546.6" stroke="#179a50" stroke-width="2.6" stroke-linecap="round"/>
<text x="963.4" y="2387.0" font-size="23.5" fill="#179a50" text-anchor="middle" font-weight="bold">O</text>
<text x="1031.9" y="2387.0" font-size="23.5" fill="#179a50" text-anchor="middle" font-weight="bold">O</text>
<text x="1006.4" y="2564.5" font-size="23.5" fill="#179a50" text-anchor="middle" font-weight="bold">OH</text>
<text x="1006.4" y="2626.4" font-size="27" fill="#179a50" text-anchor="middle"><tspan font-style="italic">p</tspan>B</text>
<polygon points="1313.6,2427.9 1348.6,2447.0 1348.6,2487.6 1313.6,2507.8 1278.3,2487.6 1278.3,2447.0" fill="none" stroke="#56c3d3" stroke-width="2.6" stroke-linejoin="round"/>
<line x1="1316.2" y1="2438.9" x2="1337.5" y2="2450.4" stroke="#56c3d3" stroke-width="2.6" stroke-linecap="round"/>
<line x1="1337.5" y1="2484.3" x2="1316.2" y2="2496.6" stroke="#56c3d3" stroke-width="2.6" stroke-linecap="round"/>
<line x1="1286.7" y1="2479.7" x2="1286.7" y2="2455.0" stroke="#56c3d3" stroke-width="2.6" stroke-linecap="round"/>
<line x1="1313.6" y1="2427.9" x2="1313.6" y2="2387.6" stroke="#56c3d3" stroke-width="2.6" stroke-linecap="round"/>
<line x1="1313.6" y1="2387.6" x2="1348.6" y2="2368.6" stroke="#56c3d3" stroke-width="2.6" stroke-linecap="round"/>
<line x1="1320.0" y1="2389.3" x2="1349.0" y2="2373.5" stroke="#56c3d3" stroke-width="2.6" stroke-linecap="round"/>
<line x1="1348.6" y1="2368.6" x2="1348.6" y2="2327.9" stroke="#56c3d3" stroke-width="2.6" stroke-linecap="round"/>
<line x1="1348.6" y1="2327.9" x2="1324.6" y2="2314.6" stroke="#56c3d3" stroke-width="2.6" stroke-linecap="round"/>
<line x1="1303.0" y1="2316.5" x2="1278.3" y2="2329.8" stroke="#56c3d3" stroke-width="2.6" stroke-dasharray="3.2 2.4" stroke-linecap="butt"/>
<line x1="1348.6" y1="2487.6" x2="1371.4" y2="2501.0" stroke="#56c3d3" stroke-width="2.6" stroke-linecap="round"/>
<line x1="1313.6" y1="2507.8" x2="1313.6" y2="2534.4" stroke="#56c3d3" stroke-width="2.6" stroke-linecap="round"/>
<line x1="1324.6" y1="2552.3" x2="1348.6" y2="2566.3" stroke="#56c3d3" stroke-width="2.6" stroke-dasharray="3.2 2.4" stroke-linecap="butt"/>
<text x="1314.4" y="2313.6" font-size="23.5" fill="#56c3d3" text-anchor="middle" font-weight="bold">O</text>
<text x="1399.9" y="2511.3" font-size="23.5" fill="#56c3d3" text-anchor="middle" font-weight="bold">OMe</text>
<text x="1313.6" y="2552.0" font-size="23.5" fill="#56c3d3" text-anchor="middle" font-weight="bold">O</text>
<text x="1312.5" y="2622.8" font-size="27" fill="#56c3d3" text-anchor="middle">I</text>
<polygon points="1672.8,2434.2 1707.5,2453.0 1707.5,2493.4 1672.8,2512.3 1638.1,2493.4 1638.1,2453.0" fill="none" stroke="#e35d25" stroke-width="2.6" stroke-linejoin="round"/>
<line x1="1675.5" y1="2445.0" x2="1696.6" y2="2456.4" stroke="#e35d25" stroke-width="2.6" stroke-linecap="round"/>
<line x1="1696.6" y1="2490.0" x2="1675.5" y2="2501.5" stroke="#e35d25" stroke-width="2.6" stroke-linecap="round"/>
<line x1="1646.4" y1="2485.5" x2="1646.4" y2="2460.9" stroke="#e35d25" stroke-width="2.6" stroke-linecap="round"/>
<line x1="1672.8" y1="2434.2" x2="1672.8" y2="2395.3" stroke="#e35d25" stroke-width="2.6" stroke-linecap="round"/>
<line x1="1672.8" y1="2395.3" x2="1707.5" y2="2376.4" stroke="#e35d25" stroke-width="2.6" stroke-linecap="round"/>
<line x1="1679.1" y1="2397.0" x2="1708.0" y2="2381.3" stroke="#e35d25" stroke-width="2.6" stroke-linecap="round"/>
<line x1="1707.5" y1="2376.4" x2="1707.5" y2="2331.1" stroke="#e35d25" stroke-width="2.6" stroke-linecap="round"/>
<line x1="1708.7" y1="2333.3" x2="1733.3" y2="2320.1" stroke="#e35d25" stroke-width="2.6" stroke-linecap="round"/>
<line x1="1706.4" y1="2328.9" x2="1730.9" y2="2315.7" stroke="#e35d25" stroke-width="2.6" stroke-linecap="round"/>
<line x1="1707.5" y1="2331.1" x2="1684.9" y2="2317.9" stroke="#e35d25" stroke-width="2.6" stroke-linecap="round"/>
<line x1="1661.5" y1="2319.8" x2="1637.0" y2="2334.9" stroke="#e35d25" stroke-width="2.6" stroke-dasharray="3.2 2.4" stroke-linecap="butt"/>
<line x1="1672.8" y1="2512.3" x2="1672.8" y2="2539.8" stroke="#e35d25" stroke-width="2.6" stroke-linecap="round"/>
<text x="1740.8" y="2318.8" font-size="23.5" fill="#e35d25" text-anchor="middle" font-weight="bold">O</text>
<text x="1672.8" y="2318.8" font-size="23.5" fill="#e35d25" text-anchor="middle" font-weight="bold">O</text>
<text x="1681.5" y="2557.3" font-size="23.5" fill="#e35d25" text-anchor="middle" font-weight="bold">OH</text>
<text x="1696.6" y="2623.7" font-size="27" fill="#e35d25" text-anchor="middle"><tspan font-style="italic">p</tspan>CA</text>
<polygon points="1987.2,2425.5 2021.9,2444.3 2021.9,2484.7 1987.2,2503.6 1952.8,2484.7 1952.8,2444.3" fill="none" stroke="#199797" stroke-width="2.6" stroke-linejoin="round"/>
<line x1="1989.8" y1="2436.3" x2="2010.9" y2="2447.8" stroke="#199797" stroke-width="2.6" stroke-linecap="round"/>
<line x1="2010.9" y1="2481.3" x2="1989.8" y2="2492.8" stroke="#199797" stroke-width="2.6" stroke-linecap="round"/>
<line x1="1961.1" y1="2476.8" x2="1961.1" y2="2452.3" stroke="#199797" stroke-width="2.6" stroke-linecap="round"/>
<line x1="1987.2" y1="2425.5" x2="1987.2" y2="2385.8" stroke="#199797" stroke-width="2.6" stroke-linecap="round"/>
<line x1="1987.2" y1="2385.8" x2="2021.9" y2="2367.0" stroke="#199797" stroke-width="2.6" stroke-linecap="round"/>
<line x1="1993.5" y1="2387.5" x2="2022.3" y2="2371.9" stroke="#199797" stroke-width="2.6" stroke-linecap="round"/>
<line x1="2021.9" y1="2367.0" x2="2021.9" y2="2325.5" stroke="#199797" stroke-width="2.6" stroke-linecap="round"/>
<line x1="2023.0" y1="2327.7" x2="2048.3" y2="2314.5" stroke="#199797" stroke-width="2.6" stroke-linecap="round"/>
<line x1="2020.7" y1="2323.3" x2="2046.0" y2="2310.0" stroke="#199797" stroke-width="2.6" stroke-linecap="round"/>
<line x1="2021.9" y1="2325.5" x2="1999.2" y2="2312.3" stroke="#199797" stroke-width="2.6" stroke-linecap="round"/>
<line x1="1976.6" y1="2312.3" x2="1952.1" y2="2327.4" stroke="#199797" stroke-width="2.6" stroke-dasharray="3.2 2.4" stroke-linecap="butt"/>
<line x1="2021.9" y1="2484.7" x2="2046.4" y2="2497.2" stroke="#199797" stroke-width="2.6" stroke-linecap="round"/>
<line x1="1987.2" y1="2503.6" x2="1987.2" y2="2531.1" stroke="#199797" stroke-width="2.6" stroke-linecap="round"/>
<line x1="1998.5" y1="2550.0" x2="2021.9" y2="2564.0" stroke="#199797" stroke-width="2.6" stroke-dasharray="3.2 2.4" stroke-linecap="butt"/>
<text x="2055.8" y="2312.0" font-size="23.5" fill="#199797" text-anchor="middle" font-weight="bold">O</text>
<text x="1987.2" y="2312.0" font-size="23.5" fill="#199797" text-anchor="middle" font-weight="bold">O</text>
<text x="2074.0" y="2510.5" font-size="23.5" fill="#199797" text-anchor="middle" font-weight="bold">OMe</text>
<text x="1987.2" y="2549.8" font-size="23.5" fill="#199797" text-anchor="middle" font-weight="bold">O</text>
<text x="1996.2" y="2623.9" font-size="27" fill="#199797" text-anchor="middle">FA</text>
</svg></body></html>
